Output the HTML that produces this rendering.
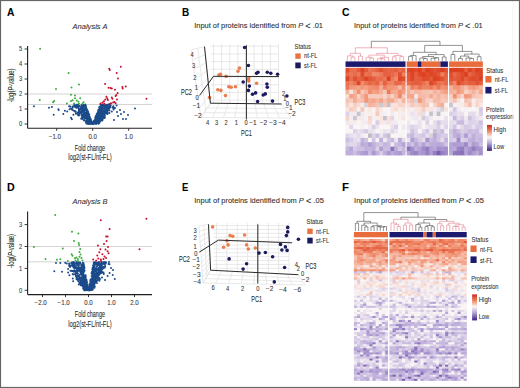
<!DOCTYPE html>
<html><head><meta charset="utf-8"><style>
html,body{margin:0;padding:0;background:#fff;}
body{width:520px;height:388px;overflow:hidden;}
svg{display:block;font-family:"Liberation Sans", sans-serif;}
text{stroke:#333;stroke-width:0.08px;}
</style></head><body>
<svg width="520" height="388" viewBox="0 0 520 388">
<defs><linearGradient id="cbar" x1="0" y1="0" x2="0" y2="1">
<stop offset="0" stop-color="#cc2a1c"/><stop offset="0.25" stop-color="#f08a66"/><stop offset="0.47" stop-color="#faf6f6"/><stop offset="0.7" stop-color="#b6a8d8"/><stop offset="1" stop-color="#3c1e82"/></linearGradient></defs>
<rect width="520" height="388" fill="#fff"/>
<text x="6.9" y="15.9" font-size="11" text-anchor="start" fill="#000" font-weight="bold" font-style="normal" textLength="7.4" lengthAdjust="spacingAndGlyphs">A</text>
<text x="182" y="15.9" font-size="11" text-anchor="start" fill="#000" font-weight="bold" font-style="normal" textLength="7.2" lengthAdjust="spacingAndGlyphs">B</text>
<text x="341.9" y="15.8" font-size="11" text-anchor="start" fill="#000" font-weight="bold" font-style="normal" textLength="7.5" lengthAdjust="spacingAndGlyphs">C</text>
<text x="7.1" y="190.8" font-size="11" text-anchor="start" fill="#000" font-weight="bold" font-style="normal" textLength="7.7" lengthAdjust="spacingAndGlyphs">D</text>
<text x="182" y="191.0" font-size="11" text-anchor="start" fill="#000" font-weight="bold" font-style="normal" textLength="6.3" lengthAdjust="spacingAndGlyphs">E</text>
<text x="341.9" y="190.8" font-size="11" text-anchor="start" fill="#000" font-weight="bold" font-style="normal" textLength="7.0" lengthAdjust="spacingAndGlyphs">F</text>
<text x="90" y="29.3" font-size="8" text-anchor="middle" fill="#333" font-weight="normal" font-style="italic" textLength="35" lengthAdjust="spacingAndGlyphs">Analysis A</text>
<text x="90" y="204.2" font-size="8" text-anchor="middle" fill="#333" font-weight="normal" font-style="italic" textLength="35" lengthAdjust="spacingAndGlyphs">Analysis B</text>
<text x="194.2" y="28.2" font-size="7.7" fill="#2a2a2a" textLength="128.8" lengthAdjust="spacingAndGlyphs">Input of proteins identified from <tspan font-style="italic">P</tspan> <tspan font-size="9.5" dy="0.9">&lt;</tspan><tspan dy="-0.9"> .01</tspan></text>
<text x="354.0" y="28.2" font-size="7.7" fill="#2a2a2a" textLength="128.7" lengthAdjust="spacingAndGlyphs">Input of proteins identified from <tspan font-style="italic">P</tspan> <tspan font-size="9.5" dy="0.9">&lt;</tspan><tspan dy="-0.9"> .01</tspan></text>
<text x="194.3" y="203.0" font-size="7.7" fill="#2a2a2a" textLength="129.5" lengthAdjust="spacingAndGlyphs">Input of proteins identified from <tspan font-style="italic">P</tspan> <tspan font-size="9.5" dy="0.9">&lt;</tspan><tspan dy="-0.9"> .05</tspan></text>
<text x="354.1" y="203.4" font-size="7.7" fill="#2a2a2a" textLength="129.7" lengthAdjust="spacingAndGlyphs">Input of proteins identified from <tspan font-style="italic">P</tspan> <tspan font-size="9.5" dy="0.9">&lt;</tspan><tspan dy="-0.9"> .05</tspan></text>
<line x1="27.60" y1="94.00" x2="152.00" y2="94.00" stroke="#cfcfcf" stroke-width="0.9"/>
<line x1="27.60" y1="104.50" x2="152.00" y2="104.50" stroke="#cfcfcf" stroke-width="0.9"/>
<path d="M104.9 115.9h0M99.8 114.7h0M99.3 112.3h0M93.3 122.6h0M106.7 104.9h0M91.6 121.4h0M89.3 120.9h0M100.1 116.1h0M97.8 114.9h0M108.2 104.6h0M90.4 118.5h0M84.0 109.4h0M101.5 105.4h0M72.5 106.4h0M94.1 122.9h0M86.0 122.7h0M91.8 122.1h0M83.0 108.8h0M97.2 120.8h0M91.0 122.2h0M110.3 105.1h0M88.0 120.5h0M94.3 122.4h0M86.8 109.3h0M95.9 122.6h0M81.8 117.4h0M97.6 113.4h0M100.8 106.5h0M107.5 110.0h0M99.8 107.0h0M95.9 123.5h0M95.7 119.6h0M94.7 121.1h0M98.4 113.7h0M83.7 106.3h0M87.4 116.0h0M81.2 113.4h0M106.3 104.9h0M87.2 121.8h0M103.3 110.8h0M103.9 115.3h0M97.3 122.9h0M107.0 110.1h0M104.7 117.8h0M99.3 116.5h0M83.3 112.4h0M99.6 122.8h0M82.3 110.2h0M101.1 116.1h0M93.6 123.6h0M78.9 110.9h0M87.2 119.6h0M84.2 120.6h0M100.4 116.1h0M86.4 120.7h0M83.5 107.1h0M87.6 121.8h0M98.9 110.6h0M87.0 115.9h0M80.9 112.4h0M85.4 104.9h0M80.7 107.2h0M95.3 118.6h0M88.3 115.8h0M89.9 121.7h0M105.9 112.3h0M86.7 111.1h0M92.1 123.9h0M88.1 119.3h0M103.8 112.6h0M70.2 106.5h0M87.3 121.9h0M100.6 117.3h0M84.1 105.7h0M104.5 110.4h0M102.3 120.4h0M103.9 114.2h0M82.4 107.6h0M96.6 113.9h0M85.6 108.6h0M95.6 118.1h0M101.5 114.6h0M74.1 105.7h0M98.1 120.3h0M101.8 112.1h0M84.9 118.6h0M100.9 120.5h0M84.9 113.4h0M77.4 112.8h0M98.5 116.9h0M84.5 111.0h0M104.5 105.4h0M87.4 122.0h0M85.0 115.4h0M85.9 106.1h0M90.0 120.8h0M99.8 117.8h0M94.2 122.1h0M86.2 114.3h0M84.3 114.3h0M102.3 112.1h0M77.9 107.5h0M75.7 106.6h0M99.9 120.3h0M94.6 120.0h0M85.9 108.1h0M96.4 116.8h0M107.1 111.2h0M101.3 114.8h0M91.4 120.9h0M97.3 113.9h0M86.0 121.0h0M74.9 106.1h0M98.9 115.7h0M89.2 114.6h0M101.4 110.8h0M86.3 110.0h0M77.8 114.7h0M101.0 110.7h0M109.4 112.9h0M98.9 119.6h0M71.0 108.4h0M100.9 110.9h0M83.6 110.4h0M90.2 123.9h0M95.8 120.1h0M100.4 111.7h0M109.0 104.5h0M77.0 104.9h0M90.2 119.6h0M83.9 117.4h0M107.2 113.9h0M100.5 104.6h0M105.0 112.9h0M89.4 121.4h0M77.8 112.7h0M98.1 114.4h0M103.6 111.8h0M90.7 118.9h0M98.4 121.5h0M72.1 109.8h0M95.1 122.9h0M74.3 105.1h0M73.4 110.4h0M85.0 112.8h0M91.0 120.6h0M97.2 116.0h0M84.6 113.2h0M102.2 104.6h0M96.2 122.2h0M86.8 117.7h0M98.0 113.1h0M102.7 119.8h0M90.9 123.4h0M88.0 112.4h0M96.0 122.7h0M88.3 117.4h0M98.7 109.9h0M100.1 108.6h0M87.6 116.4h0M101.8 111.8h0M101.1 109.9h0M93.5 122.5h0M86.8 113.6h0M80.8 109.3h0M89.1 122.8h0M86.6 119.1h0M86.7 117.5h0M113.4 106.2h0M83.4 108.7h0M103.0 105.9h0M88.0 117.6h0M96.6 120.8h0M106.6 108.0h0M81.2 107.0h0M107.5 114.0h0M78.9 108.7h0M87.9 122.7h0M96.6 122.7h0M81.4 111.9h0M98.5 114.5h0M105.5 105.2h0M109.5 110.4h0M107.0 108.2h0M113.2 108.0h0M99.2 114.4h0M82.5 116.5h0M87.7 117.4h0M96.1 119.0h0M94.0 122.2h0M88.2 123.1h0M91.8 123.5h0M95.2 120.0h0M87.6 121.0h0M97.4 118.6h0M101.2 119.6h0M97.8 114.0h0M94.4 123.3h0M104.6 114.3h0M84.3 111.7h0M99.0 117.4h0M90.7 121.5h0M110.2 107.3h0M99.0 119.4h0M96.1 124.0h0M91.9 122.7h0M79.4 115.3h0M82.6 107.5h0M84.3 106.3h0M103.2 114.0h0M89.1 118.6h0M100.9 115.6h0M87.3 122.4h0M102.0 108.1h0M83.8 110.6h0M93.4 123.9h0M84.1 112.6h0M86.8 118.8h0M89.5 119.6h0M102.7 105.7h0M86.2 108.2h0M100.7 111.3h0M100.5 108.0h0M91.5 121.5h0M79.1 106.2h0M100.9 109.4h0M85.1 116.6h0M106.6 104.9h0M90.0 123.8h0M88.3 122.3h0M106.5 108.2h0M104.3 106.6h0M99.8 121.7h0M107.0 110.5h0M86.7 112.3h0M104.7 113.4h0M83.6 117.6h0M96.1 121.8h0M75.9 113.7h0M107.1 108.4h0M97.8 119.0h0M86.3 108.1h0M86.5 123.6h0M81.5 111.7h0M95.3 117.2h0M89.6 120.7h0M87.0 113.5h0M88.6 113.5h0M75.7 111.4h0M84.5 115.5h0M108.3 109.6h0M102.7 107.9h0M100.6 113.6h0M95.8 116.2h0M103.2 110.3h0M87.0 109.8h0M90.3 122.0h0M93.8 123.2h0M90.5 118.7h0M109.1 106.4h0M100.8 116.5h0M103.2 113.6h0M98.3 122.0h0M90.9 119.9h0M102.5 106.7h0M80.9 113.2h0M81.2 118.7h0M82.3 115.4h0M82.9 106.7h0M81.7 115.5h0M98.9 120.6h0M91.3 123.3h0M100.2 106.6h0M98.0 110.9h0M90.5 120.3h0M87.4 121.0h0M104.0 117.4h0M83.7 120.1h0M100.7 119.3h0M95.8 116.1h0M81.7 112.9h0M91.3 122.7h0M100.0 119.2h0M76.8 104.8h0M96.2 117.2h0M101.7 113.8h0M106.9 109.1h0M107.5 111.2h0M85.3 109.2h0M101.4 116.1h0M88.1 120.0h0M83.9 114.9h0M97.5 113.4h0M91.0 123.8h0M99.9 119.5h0M98.2 113.5h0M90.5 121.6h0M101.9 112.4h0M94.2 122.6h0M97.7 121.4h0M91.6 123.1h0M76.9 105.1h0M76.9 104.8h0M87.9 123.4h0M89.8 117.0h0M96.0 123.5h0M90.2 120.1h0M97.9 115.7h0M104.0 104.9h0M82.1 111.9h0M112.5 107.4h0M100.7 117.0h0M88.5 120.4h0M89.5 121.3h0M82.2 118.7h0M86.0 107.4h0M87.8 111.0h0M86.5 121.0h0M86.6 110.5h0M77.9 105.9h0M82.5 106.5h0M96.7 122.7h0M87.7 114.5h0M92.4 123.4h0M90.1 118.6h0M81.7 110.7h0M88.3 121.6h0M88.8 116.8h0M90.7 119.0h0M96.3 123.7h0M74.5 105.0h0M99.6 120.4h0M85.9 107.3h0M87.5 116.3h0M89.8 118.3h0M85.5 116.8h0M89.1 119.9h0M96.2 121.6h0M84.9 110.8h0M90.3 123.1h0M87.0 113.2h0M87.3 123.7h0M96.9 119.5h0M101.7 112.6h0M106.3 105.7h0M84.1 116.7h0M75.6 107.1h0M95.0 121.8h0M83.5 105.0h0M83.3 111.2h0M85.8 117.0h0M103.3 113.9h0M75.1 105.2h0M98.9 118.6h0M106.6 105.3h0M97.8 115.1h0M99.9 109.8h0M90.0 118.3h0M89.3 123.1h0M89.9 122.2h0M93.8 121.4h0M96.3 119.7h0M85.1 110.5h0M100.3 118.2h0M83.9 113.5h0M102.0 108.1h0M88.0 111.5h0M105.6 113.2h0M84.7 111.1h0M107.4 105.9h0M88.5 122.1h0M85.3 104.6h0M86.9 114.0h0M101.9 108.7h0M107.5 112.5h0M98.5 111.0h0M85.8 121.1h0M89.3 115.1h0M87.0 113.6h0M90.1 120.2h0M87.4 123.3h0M87.5 122.8h0M95.9 120.6h0M81.7 108.6h0M106.1 111.7h0M108.0 107.4h0M86.4 110.3h0M88.4 122.1h0M95.7 118.6h0M76.3 105.4h0M106.5 108.9h0M109.4 108.2h0M83.5 105.6h0M84.2 106.4h0M84.5 117.1h0M96.6 117.6h0M83.1 106.5h0M82.5 110.0h0M87.0 111.2h0M87.4 117.8h0M83.1 116.8h0M98.1 120.6h0M98.1 122.3h0M90.6 120.3h0M101.4 119.3h0M85.9 121.0h0M86.9 112.2h0M102.2 112.6h0M102.7 114.8h0M84.4 111.0h0M86.5 117.2h0M86.1 114.6h0M105.9 113.0h0M97.8 115.5h0M106.5 110.1h0M94.4 122.0h0M114.6 107.9h0M108.7 108.8h0M107.7 107.3h0M96.8 115.8h0M97.6 119.2h0M79.0 109.0h0M108.8 107.6h0M86.4 108.8h0M88.9 123.5h0M87.8 122.2h0M106.0 112.5h0M97.9 120.6h0M94.0 120.7h0M89.0 118.1h0M97.6 112.8h0M87.1 111.0h0M101.2 105.8h0M103.6 104.6h0M86.9 118.6h0M98.5 116.4h0M101.5 114.8h0M99.3 120.0h0M97.0 119.1h0M79.5 105.9h0M88.0 115.9h0M100.6 116.1h0M87.2 111.4h0M83.1 106.7h0M103.8 108.3h0M94.7 122.5h0M97.1 117.4h0M105.8 106.7h0M87.6 115.5h0M111.8 111.4h0M78.1 104.7h0M101.5 110.8h0M102.6 116.9h0M89.5 120.5h0M81.4 110.0h0M104.2 112.4h0M101.9 110.2h0M98.6 123.8h0M90.5 123.7h0M95.6 122.3h0M93.7 122.0h0M87.7 114.7h0M87.1 116.6h0M88.3 113.7h0M72.7 107.7h0M102.4 116.8h0M84.1 116.6h0M102.6 110.1h0M88.3 123.6h0M100.4 112.0h0M87.9 122.8h0M84.7 118.3h0M110.2 105.6h0M88.7 117.0h0M88.2 117.5h0M83.7 116.3h0M94.6 123.1h0M89.8 120.3h0M86.1 115.2h0M88.5 123.9h0M101.6 113.0h0M86.5 117.5h0M85.9 118.5h0M91.4 123.2h0M83.5 108.8h0M100.8 119.1h0M78.1 108.1h0M106.0 109.0h0M97.2 123.3h0M75.5 112.1h0M85.6 113.3h0M106.8 111.2h0M83.9 109.1h0M87.7 115.9h0M79.4 110.1h0M98.1 111.5h0M100.7 118.6h0M86.7 120.5h0M93.5 122.0h0M82.9 116.3h0M102.0 115.0h0M95.9 122.4h0M89.8 120.6h0M101.4 113.1h0M82.1 107.9h0M83.4 104.9h0M95.6 119.5h0M96.2 123.0h0M102.9 116.2h0M84.1 106.4h0M78.9 109.7h0M95.1 123.5h0M81.5 118.2h0M85.2 108.6h0M94.4 120.7h0M113.6 109.5h0M74.7 111.1h0M95.9 119.0h0M90.0 119.8h0M88.1 118.9h0M88.2 119.3h0M77.0 107.2h0M101.2 112.7h0M99.2 111.7h0M96.5 123.2h0M87.1 120.1h0M102.9 105.7h0M99.7 120.1h0M78.8 111.7h0M79.2 113.6h0M86.0 107.2h0M98.4 123.6h0M99.3 107.6h0M86.7 114.4h0M86.5 114.9h0M85.4 115.2h0M102.6 105.1h0M104.7 118.1h0M110.7 105.6h0M89.8 123.7h0M105.8 112.6h0M96.8 114.5h0M99.1 107.3h0M104.3 108.1h0M98.5 109.6h0M102.0 108.9h0M85.6 118.1h0M96.0 119.5h0M79.7 111.3h0M89.3 121.1h0M80.8 109.1h0M99.6 119.6h0M90.1 121.0h0M102.6 110.3h0M93.9 122.8h0M97.6 116.6h0M100.3 106.4h0M106.3 109.0h0M85.2 117.3h0M99.4 115.4h0M83.0 117.3h0M102.0 120.6h0M99.5 118.0h0M78.3 105.7h0M112.8 107.0h0M83.7 117.4h0M92.2 122.9h0M87.7 118.7h0M100.3 114.1h0M85.3 105.6h0M102.6 118.6h0M90.5 121.4h0M104.1 108.9h0M76.3 107.8h0M81.5 105.0h0M89.2 123.2h0M87.0 120.5h0M97.1 114.9h0M91.8 123.8h0M83.2 112.5h0M82.4 118.5h0M97.5 116.6h0M69.1 106.3h0M75.1 107.0h0M89.7 119.0h0M79.0 113.2h0M95.7 122.5h0M98.6 115.0h0M90.5 124.0h0M84.3 112.2h0M104.6 115.3h0M88.4 116.0h0M108.3 108.1h0M81.6 114.8h0M82.8 115.1h0M88.0 114.8h0M115.0 108.0h0M105.0 111.1h0M84.4 108.7h0M96.9 119.9h0M101.1 118.0h0M106.7 105.9h0M94.6 122.3h0M99.3 120.9h0M88.1 112.4h0M108.5 107.3h0M100.3 113.5h0M89.4 117.2h0M79.2 108.8h0M99.6 110.9h0M99.1 120.9h0M102.2 118.2h0M116.6 105.5h0M87.7 118.2h0M94.7 123.5h0M82.1 109.9h0M91.0 119.9h0M103.9 117.8h0M86.9 116.6h0M78.1 105.4h0M107.7 109.5h0M74.6 106.6h0M88.8 114.3h0M97.2 121.6h0M81.6 110.3h0M87.1 110.7h0M103.5 115.4h0M90.5 122.9h0M88.3 122.0h0M99.5 116.8h0M93.1 123.3h0M86.9 115.4h0M78.5 115.5h0M103.9 115.2h0M87.7 122.1h0M82.1 114.7h0M96.7 119.6h0M88.5 117.5h0M81.6 112.4h0M86.6 115.8h0M104.8 117.4h0M97.1 116.9h0M104.0 110.3h0M101.2 116.2h0M102.0 114.1h0M91.7 123.8h0M79.4 112.6h0M96.9 120.7h0M104.3 108.3h0M102.9 110.6h0M34.0 106.3h0M49.0 107.8h0M51.9 106.9h0M58.3 109.2h0M53.7 114.7h0M58.7 110.0h0M63.3 114.0h0M64.9 110.8h0M67.2 111.6h0M69.5 109.3h0M71.0 117.8h0M71.9 119.3h0M73.4 114.7h0M135.0 108.5h0M120.0 110.0h0M124.0 112.0h0M118.0 116.0h0M123.0 119.0h0M114.0 120.0h0M128.0 115.0h0M126.0 119.0h0M117.0 112.0h0M121.0 114.0h0" stroke="#1a4a8a" stroke-width="2.0" stroke-linecap="round" fill="none"/>
<path d="M40.1 48.8h0M68.6 73.1h0M79.0 84.6h0M71.5 87.5h0M56.0 89.0h0M71.0 94.8h0M75.0 95.4h0M39.8 100.0h0M54.2 100.9h0M53.1 102.3h0M66.9 103.4h0M71.0 101.1h0M72.7 100.2h0M75.0 98.3h0M76.7 100.6h0M78.4 101.7h0M80.2 98.3h0M82.5 103.4h0M83.6 102.3h0M74.0 103.5h0M79.0 103.8h0" stroke="#3cab3c" stroke-width="2.0" stroke-linecap="round" fill="none"/>
<path d="M109.2 68.8h0M109.8 70.1h0M120.8 66.7h0M116.7 72.9h0M118.0 78.5h0M105.1 83.9h0M108.5 87.7h0M110.5 88.1h0M111.8 88.4h0M115.0 89.7h0M122.4 87.1h0M122.7 88.4h0M125.7 86.5h0M117.6 92.9h0M116.3 95.1h0M115.6 96.1h0M106.4 96.8h0M107.3 98.5h0M105.3 99.4h0M107.9 100.0h0M104.0 101.3h0M102.5 102.6h0M111.8 97.4h0M112.4 98.7h0M111.1 103.2h0M113.1 102.6h0M114.4 101.9h0M115.6 103.2h0M109.8 103.9h0M146.5 98.8h0M100.5 103.5h0M104.5 103.8h0M117.0 99.5h0" stroke="#c8102e" stroke-width="2.0" stroke-linecap="round" fill="none"/>
<line x1="27.60" y1="46.00" x2="27.60" y2="128.30" stroke="#231f20" stroke-width="1.1"/>
<line x1="27.60" y1="128.30" x2="152.00" y2="128.30" stroke="#231f20" stroke-width="1.1"/>
<line x1="24.60" y1="124.00" x2="27.60" y2="124.00" stroke="#231f20" stroke-width="0.9"/>
<text x="22.3" y="126.3" font-size="6.6" text-anchor="end" fill="#333" font-weight="normal" font-style="normal" textLength="3.2" lengthAdjust="spacingAndGlyphs">0</text>
<line x1="24.60" y1="109.00" x2="27.60" y2="109.00" stroke="#231f20" stroke-width="0.9"/>
<text x="22.3" y="111.3" font-size="6.6" text-anchor="end" fill="#333" font-weight="normal" font-style="normal" textLength="3.2" lengthAdjust="spacingAndGlyphs">1</text>
<line x1="24.60" y1="94.00" x2="27.60" y2="94.00" stroke="#231f20" stroke-width="0.9"/>
<text x="22.3" y="96.3" font-size="6.6" text-anchor="end" fill="#333" font-weight="normal" font-style="normal" textLength="3.2" lengthAdjust="spacingAndGlyphs">2</text>
<line x1="24.60" y1="79.00" x2="27.60" y2="79.00" stroke="#231f20" stroke-width="0.9"/>
<text x="22.3" y="81.3" font-size="6.6" text-anchor="end" fill="#333" font-weight="normal" font-style="normal" textLength="3.2" lengthAdjust="spacingAndGlyphs">3</text>
<line x1="24.60" y1="64.00" x2="27.60" y2="64.00" stroke="#231f20" stroke-width="0.9"/>
<text x="22.3" y="66.3" font-size="6.6" text-anchor="end" fill="#333" font-weight="normal" font-style="normal" textLength="3.2" lengthAdjust="spacingAndGlyphs">4</text>
<line x1="24.60" y1="49.00" x2="27.60" y2="49.00" stroke="#231f20" stroke-width="0.9"/>
<text x="22.3" y="51.3" font-size="6.6" text-anchor="end" fill="#333" font-weight="normal" font-style="normal" textLength="3.2" lengthAdjust="spacingAndGlyphs">5</text>
<line x1="56.70" y1="128.30" x2="56.70" y2="130.80" stroke="#231f20" stroke-width="0.9"/>
<text x="54.900000000000006" y="138.9" font-size="6.6" text-anchor="middle" fill="#333" font-weight="normal" font-style="normal" textLength="12.2" lengthAdjust="spacingAndGlyphs">&#8722;1.0</text>
<line x1="92.70" y1="128.30" x2="92.70" y2="130.80" stroke="#231f20" stroke-width="0.9"/>
<text x="92.7" y="138.9" font-size="6.6" text-anchor="middle" fill="#333" font-weight="normal" font-style="normal" textLength="8.4" lengthAdjust="spacingAndGlyphs">0.0</text>
<line x1="128.70" y1="128.30" x2="128.70" y2="130.80" stroke="#231f20" stroke-width="0.9"/>
<text x="128.7" y="138.9" font-size="6.6" text-anchor="middle" fill="#333" font-weight="normal" font-style="normal" textLength="8.4" lengthAdjust="spacingAndGlyphs">1.0</text>
<text x="89.9" y="150.8" font-size="9" text-anchor="middle" fill="#231f20" font-weight="normal" font-style="normal" textLength="30.2" lengthAdjust="spacingAndGlyphs">Fold change</text>
<text x="89.9" y="160.0" font-size="9" text-anchor="middle" fill="#231f20" font-weight="normal" font-style="normal" textLength="43.5" lengthAdjust="spacingAndGlyphs">log2(st-FL/nt-FL)</text>
<text x="0" y="0" font-size="8.6" fill="#231f20" text-anchor="middle" textLength="34" lengthAdjust="spacingAndGlyphs" transform="translate(13.6 85.5) rotate(-90)">-log(<tspan font-style="italic">P</tspan>-value)</text>
<line x1="27.60" y1="246.50" x2="152.00" y2="246.50" stroke="#cfcfcf" stroke-width="0.9"/>
<line x1="27.60" y1="261.83" x2="152.00" y2="261.83" stroke="#cfcfcf" stroke-width="0.9"/>
<path d="M100.0 273.4h0M96.3 269.9h0M105.7 263.6h0M82.4 277.9h0M85.5 290.1h0M83.7 269.1h0M77.9 273.5h0M80.8 285.2h0M93.4 283.0h0M94.1 285.3h0M82.6 265.1h0M85.5 286.9h0M89.3 290.2h0M79.8 267.5h0M75.7 270.9h0M100.0 269.6h0M90.3 280.9h0M92.7 286.0h0M96.7 264.0h0M96.7 276.3h0M102.7 268.1h0M84.6 288.3h0M91.6 281.6h0M86.5 282.3h0M92.1 271.4h0M95.8 262.2h0M94.5 274.2h0M90.3 289.1h0M73.6 266.8h0M94.9 273.2h0M90.8 286.8h0M109.0 261.9h0M92.6 277.4h0M79.9 279.8h0M96.8 263.1h0M84.8 288.3h0M94.3 281.0h0M98.0 272.2h0M83.6 283.3h0M92.8 282.9h0M90.6 290.1h0M96.4 278.1h0M95.1 281.4h0M94.1 281.3h0M99.4 262.6h0M94.5 286.3h0M93.1 271.3h0M96.2 268.6h0M97.7 273.4h0M86.4 289.8h0M89.6 284.9h0M85.6 277.8h0M87.0 282.2h0M82.3 278.0h0M91.3 284.4h0M82.7 283.3h0M86.4 280.7h0M78.0 275.7h0M77.9 267.5h0M83.5 280.8h0M96.9 263.2h0M78.0 265.1h0M77.7 273.6h0M85.3 280.6h0M65.2 262.7h0M75.1 274.2h0M78.3 279.5h0M84.0 283.1h0M80.6 278.7h0M91.6 290.1h0M83.5 268.6h0M78.2 262.2h0M92.4 272.7h0M81.9 269.2h0M91.5 282.8h0M94.2 269.7h0M99.6 278.3h0M90.3 290.0h0M100.9 270.8h0M85.8 280.3h0M94.5 282.8h0M77.8 271.2h0M78.0 264.6h0M82.0 277.1h0M75.7 267.7h0M99.8 268.3h0M93.8 262.5h0M73.6 266.7h0M76.0 270.7h0M89.6 286.8h0M82.6 273.4h0M85.6 288.7h0M81.2 265.6h0M75.6 274.1h0M90.8 289.1h0M95.4 276.8h0M93.6 283.7h0M83.6 276.5h0M78.7 270.0h0M89.2 288.4h0M82.0 274.2h0M94.1 282.1h0M83.8 289.2h0M81.1 284.8h0M81.2 267.4h0M86.0 284.5h0M82.7 280.3h0M79.5 267.9h0M94.2 274.3h0M88.0 288.1h0M84.0 265.3h0M93.4 277.9h0M85.5 278.0h0M80.1 280.6h0M86.2 284.0h0M82.7 284.5h0M94.3 280.8h0M95.4 277.8h0M90.5 283.0h0M87.4 285.4h0M92.0 279.9h0M81.3 277.9h0M83.6 286.4h0M76.6 272.7h0M88.8 289.0h0M93.5 275.6h0M83.5 288.2h0M83.4 263.8h0M84.3 280.0h0M81.4 282.6h0M91.5 286.0h0M86.3 288.4h0M95.1 264.3h0M90.3 290.0h0M96.1 280.6h0M86.1 282.5h0M85.0 287.6h0M83.9 267.4h0M84.7 284.2h0M87.3 284.2h0M87.3 285.5h0M83.1 279.3h0M99.2 265.1h0M97.4 278.7h0M100.0 270.2h0M85.9 280.4h0M89.9 283.8h0M92.6 269.1h0M84.0 287.3h0M82.9 273.7h0M82.1 281.9h0M83.7 270.3h0M71.4 270.8h0M83.2 287.6h0M79.9 278.9h0M91.6 276.1h0M73.6 267.6h0M91.6 289.6h0M85.7 280.1h0M84.3 275.2h0M78.3 281.3h0M93.9 266.5h0M83.0 267.1h0M93.0 288.1h0M75.4 268.1h0M91.6 273.4h0M93.5 276.7h0M85.2 282.2h0M98.2 277.7h0M99.4 267.6h0M95.4 275.9h0M92.3 271.7h0M85.4 288.4h0M74.1 270.6h0M78.8 270.6h0M103.6 263.2h0M96.8 269.9h0M69.3 265.1h0M85.8 280.1h0M103.5 272.5h0M83.4 280.3h0M74.5 270.6h0M81.9 282.6h0M90.0 286.3h0M91.9 288.9h0M80.2 270.2h0M77.3 264.8h0M82.6 262.9h0M92.4 275.2h0M97.4 274.2h0M84.8 289.0h0M95.4 282.2h0M91.6 284.7h0M87.9 288.0h0M92.3 286.7h0M99.0 270.0h0M104.9 264.2h0M87.5 288.0h0M82.2 280.6h0M87.0 288.4h0M91.6 287.6h0M98.4 277.1h0M93.1 269.3h0M79.4 277.6h0M82.4 280.4h0M95.4 268.4h0M96.8 266.6h0M90.6 284.4h0M83.4 288.1h0M92.2 280.3h0M81.2 267.7h0M87.4 290.0h0M78.3 276.5h0M84.9 278.7h0M93.7 263.2h0M93.9 280.1h0M93.3 264.9h0M91.5 289.8h0M103.8 267.2h0M100.0 269.4h0M97.8 279.3h0M85.0 279.3h0M81.5 272.1h0M83.2 288.7h0M83.0 285.5h0M77.6 274.1h0M79.3 263.8h0M93.8 283.6h0M94.8 286.7h0M86.9 288.3h0M80.6 280.8h0M92.1 284.4h0M78.2 270.1h0M90.0 290.2h0M95.4 273.8h0M88.3 289.5h0M81.9 282.8h0M96.2 280.8h0M94.8 263.4h0M75.2 264.0h0M77.1 276.2h0M93.5 275.5h0M93.9 277.2h0M87.9 289.0h0M74.1 262.8h0M79.0 269.8h0M91.7 280.2h0M72.0 265.7h0M85.8 287.1h0M87.1 290.1h0M83.2 265.8h0M93.7 270.4h0M75.8 263.4h0M85.8 288.2h0M100.0 265.2h0M82.0 266.7h0M84.5 282.8h0M82.0 264.9h0M90.0 283.7h0M83.3 281.3h0M81.3 272.6h0M76.4 271.5h0M85.8 286.9h0M97.3 264.9h0M93.1 268.5h0M81.5 283.9h0M100.7 273.2h0M78.6 268.9h0M103.8 266.7h0M91.6 280.4h0M86.3 279.7h0M84.6 270.6h0M79.4 282.7h0M97.2 265.1h0M86.3 284.7h0M94.5 287.8h0M85.7 278.0h0M75.9 275.9h0M79.5 278.8h0M80.1 279.1h0M97.6 280.4h0M92.9 267.7h0M72.5 263.7h0M97.3 274.8h0M84.4 283.9h0M85.0 287.2h0M89.4 288.0h0M84.9 288.3h0M91.6 286.4h0M83.8 284.1h0M91.2 287.5h0M77.0 272.9h0M86.7 283.2h0M79.5 279.3h0M91.7 272.4h0M76.1 263.6h0M92.4 279.3h0M97.8 270.1h0M84.5 268.1h0M92.7 268.3h0M84.7 276.0h0M103.7 262.6h0M83.7 272.5h0M84.4 283.5h0M94.7 269.8h0M77.5 270.0h0M92.0 278.6h0M84.2 266.8h0M80.8 269.1h0M84.4 267.9h0M101.2 268.2h0M96.5 273.6h0M92.0 289.9h0M87.1 288.9h0M86.7 288.3h0M90.5 282.7h0M95.3 263.3h0M86.5 279.8h0M96.8 278.3h0M100.6 271.6h0M78.0 268.2h0M94.6 265.5h0M82.6 282.0h0M90.8 285.7h0M89.3 288.2h0M85.2 283.1h0M84.2 287.9h0M73.3 267.0h0M85.4 286.8h0M80.7 269.3h0M94.6 264.4h0M85.3 279.1h0M92.6 282.9h0M89.8 284.9h0M76.4 270.2h0M83.8 268.7h0M78.8 276.5h0M81.7 273.0h0M83.6 278.7h0M89.6 288.7h0M83.9 288.3h0M84.2 288.1h0M84.5 281.5h0M91.4 288.1h0M91.9 278.4h0M84.7 283.1h0M93.3 281.4h0M93.1 278.4h0M80.4 279.2h0M84.0 282.6h0M87.6 286.1h0M92.9 287.8h0M91.1 288.5h0M87.5 289.6h0M99.9 271.3h0M95.2 273.5h0M95.2 282.2h0M99.4 280.7h0M97.0 280.2h0M94.4 269.6h0M82.5 286.2h0M92.6 284.0h0M80.6 278.3h0M80.4 272.3h0M92.8 276.9h0M95.8 281.6h0M86.7 289.4h0M83.8 289.3h0M87.1 284.9h0M90.2 285.7h0M83.6 288.9h0M95.5 264.3h0M87.2 286.3h0M82.5 270.5h0M100.6 266.5h0M99.3 264.6h0M85.0 283.2h0M86.7 287.5h0M74.8 263.2h0M83.4 274.3h0M93.7 273.0h0M87.1 286.8h0M88.0 290.2h0M98.3 272.1h0M92.0 285.3h0M100.4 270.9h0M92.8 273.2h0M95.9 278.0h0M81.8 281.4h0M93.4 282.7h0M83.9 282.4h0M80.7 272.7h0M83.0 285.6h0M84.5 277.1h0M83.4 286.5h0M90.2 281.3h0M81.5 284.7h0M86.8 283.9h0M96.3 272.1h0M92.6 268.9h0M95.9 276.9h0M94.2 280.8h0M101.2 264.2h0M89.7 284.6h0M80.0 269.4h0M101.4 270.4h0M98.6 278.7h0M99.4 270.6h0M99.5 272.5h0M85.0 286.9h0M93.8 263.1h0M99.9 279.2h0M93.8 281.8h0M100.5 273.0h0M82.3 277.2h0M90.2 289.3h0M84.6 289.4h0M93.4 282.8h0M93.5 275.0h0M86.9 283.9h0M83.7 286.8h0M83.2 281.2h0M84.7 277.6h0M90.7 286.9h0M95.0 269.1h0M69.1 263.5h0M84.5 290.3h0M94.6 269.9h0M98.3 278.0h0M94.2 262.2h0M92.2 279.1h0M74.4 263.5h0M86.5 284.3h0M101.7 261.9h0M92.7 271.9h0M88.4 289.7h0M82.8 271.8h0M82.9 277.2h0M83.8 288.8h0M94.8 283.0h0M97.7 263.8h0M94.7 266.9h0M90.1 288.9h0M101.9 265.1h0M90.9 287.2h0M70.9 265.4h0M109.5 264.2h0M84.8 288.7h0M82.5 271.6h0M86.4 286.2h0M80.5 283.6h0M101.2 269.5h0M85.3 288.2h0M82.3 273.6h0M87.6 285.6h0M97.7 263.3h0M90.4 283.3h0M97.6 265.4h0M90.7 284.9h0M92.3 282.7h0M73.9 271.7h0M98.2 268.3h0M96.2 268.3h0M86.7 286.6h0M84.0 284.0h0M81.2 281.1h0M74.9 271.0h0M98.8 274.6h0M98.6 273.8h0M91.3 283.1h0M80.4 283.7h0M92.2 277.9h0M86.1 288.6h0M106.1 262.5h0M83.8 277.1h0M102.2 269.2h0M95.3 276.2h0M79.8 274.8h0M82.4 281.3h0M77.1 269.1h0M90.5 285.0h0M90.2 290.3h0M78.7 262.3h0M81.5 274.7h0M95.3 273.8h0M93.6 272.5h0M84.0 271.6h0M92.9 281.1h0M76.6 267.5h0M76.0 271.7h0M92.2 276.0h0M104.8 267.8h0M102.3 272.1h0M86.4 280.2h0M73.5 266.5h0M92.3 277.1h0M96.0 280.8h0M101.0 265.5h0M99.7 264.8h0M95.2 263.2h0M82.6 273.2h0M84.6 283.9h0M80.7 271.8h0M97.9 268.4h0M75.0 267.3h0M70.0 267.0h0M93.6 266.3h0M94.5 269.1h0M91.2 280.9h0M95.3 262.3h0M78.4 270.2h0M90.6 283.5h0M77.5 275.7h0M83.1 264.4h0M94.8 282.3h0M98.1 262.6h0M87.3 286.3h0M93.7 271.7h0M87.7 287.0h0M84.4 276.4h0M105.0 266.3h0M69.2 264.0h0M83.4 275.8h0M93.1 265.4h0M84.4 283.6h0M84.2 290.2h0M101.6 271.4h0M74.5 268.3h0M96.3 275.5h0M102.0 277.4h0M80.3 263.4h0M93.3 267.2h0M83.6 284.1h0M87.2 285.6h0M100.3 267.0h0M81.7 270.1h0M95.5 280.1h0M80.7 273.2h0M81.2 268.4h0M77.1 278.2h0M86.6 283.3h0M81.0 280.1h0M99.0 265.0h0M82.2 275.4h0M84.8 285.5h0M84.0 281.9h0M83.8 282.8h0M78.2 265.6h0M76.6 272.1h0M91.0 286.9h0M79.4 278.4h0M87.3 289.5h0M94.4 285.6h0M72.5 270.9h0M97.5 265.1h0M75.2 270.9h0M101.2 264.2h0M98.4 262.2h0M92.0 273.1h0M93.2 286.9h0M86.3 286.8h0M80.8 278.1h0M81.6 270.3h0M79.2 278.0h0M75.9 268.0h0M96.2 281.5h0M81.0 273.3h0M105.2 266.2h0M76.2 268.1h0M75.4 274.7h0M96.4 271.9h0M77.9 275.7h0M79.6 271.1h0M95.0 280.8h0M91.1 280.3h0M80.9 281.9h0M77.0 279.4h0M87.0 284.3h0M87.1 285.2h0M72.7 273.9h0M82.6 272.0h0M75.9 265.9h0M93.0 271.0h0M91.6 280.8h0M86.4 282.5h0M85.3 287.9h0M92.8 278.4h0M77.6 279.7h0M86.3 288.1h0M100.4 269.6h0M83.8 285.4h0M85.8 282.7h0M97.4 278.6h0M94.7 265.3h0M77.6 278.8h0M73.5 266.7h0M85.7 287.4h0M98.3 268.6h0M94.9 269.5h0M100.4 264.2h0M98.6 262.0h0M99.7 273.2h0M100.9 265.4h0M86.9 285.5h0M73.6 263.4h0M82.6 279.8h0M83.9 270.8h0M96.4 272.3h0M82.8 274.9h0M83.5 288.7h0M96.1 275.2h0M76.4 279.1h0M90.4 286.7h0M80.2 271.2h0M73.2 274.5h0M83.9 269.2h0M84.0 275.7h0M87.8 288.8h0M81.0 281.8h0M89.0 289.1h0M93.9 279.1h0M85.8 290.2h0M82.6 286.0h0M86.9 287.6h0M93.1 272.1h0M82.0 277.6h0M103.4 262.6h0M84.4 276.8h0M87.5 285.1h0M92.1 281.0h0M93.1 278.3h0M82.6 274.6h0M83.6 270.9h0M85.6 277.5h0M96.7 278.2h0M93.6 267.8h0M90.2 287.1h0M89.8 287.1h0M95.9 274.2h0M97.2 276.1h0M92.8 267.3h0M83.2 277.9h0M98.9 269.7h0M91.0 281.8h0M82.5 265.9h0M75.2 267.1h0M92.4 276.5h0M92.7 268.1h0M84.2 277.9h0M94.4 284.4h0M84.1 285.6h0M82.9 279.1h0M103.6 262.9h0M95.3 279.1h0M85.1 279.9h0M84.1 283.7h0M103.9 263.8h0M93.8 287.1h0M84.8 286.7h0M90.5 279.6h0M87.0 282.5h0M84.8 284.0h0M72.1 262.3h0M94.8 283.1h0M97.0 263.9h0M95.2 270.9h0M87.1 289.0h0M83.7 278.0h0M90.6 280.3h0M94.2 272.8h0M94.0 265.4h0M97.0 283.1h0M80.1 262.8h0M81.0 280.9h0M72.3 265.1h0M87.1 286.3h0M88.2 289.7h0M79.3 277.3h0M100.8 265.7h0M92.0 288.8h0M90.8 283.1h0M82.4 277.3h0M95.6 276.1h0M93.0 285.5h0M86.5 285.7h0M78.7 275.8h0M82.3 282.4h0M95.0 269.7h0M79.8 277.0h0M102.5 264.5h0M95.1 283.0h0M76.1 276.7h0M92.3 285.1h0M78.1 265.6h0M90.1 285.4h0M84.2 287.4h0M100.8 268.1h0M80.5 281.9h0M96.1 273.4h0M102.1 268.1h0M91.4 289.5h0M91.8 278.5h0M90.1 285.9h0M97.9 275.6h0M90.3 283.2h0M83.4 263.0h0M81.0 281.3h0M89.7 284.0h0M84.8 290.2h0M86.0 284.1h0M86.4 286.0h0M85.6 275.2h0M98.2 264.2h0M94.8 280.0h0M85.5 278.7h0M81.7 281.6h0M95.3 282.4h0M94.8 277.9h0M81.0 267.7h0M95.1 269.0h0M73.6 264.5h0M76.5 267.4h0M74.0 266.9h0M103.0 268.4h0M104.9 262.0h0M99.4 265.7h0M86.1 287.2h0M101.9 272.8h0M74.7 263.3h0M103.6 262.6h0M95.6 282.3h0M90.5 287.4h0M81.5 268.2h0M92.3 269.2h0M73.6 261.9h0M102.0 263.8h0M96.5 272.0h0M85.4 275.9h0M92.3 288.2h0M85.7 285.6h0M76.8 273.6h0M87.6 286.8h0M91.7 290.1h0M102.4 267.0h0M91.7 287.6h0M86.3 284.5h0M97.5 273.9h0M80.1 262.5h0M78.9 265.6h0M97.2 278.6h0M85.8 276.0h0M97.9 264.3h0M92.8 289.5h0M73.1 262.5h0M83.6 264.1h0M76.8 263.4h0M87.7 286.1h0M82.2 279.9h0M100.2 263.5h0M94.5 271.3h0M75.2 273.6h0M70.5 270.8h0M71.2 262.9h0M84.1 287.9h0M90.0 289.7h0M89.7 287.0h0M99.8 264.9h0M103.8 274.1h0M85.7 289.1h0M91.1 288.5h0M100.4 263.6h0M92.3 275.6h0M77.1 271.4h0M95.6 280.3h0M92.3 284.5h0M85.3 288.4h0M80.6 268.5h0M78.1 275.9h0M74.1 265.4h0M94.5 278.7h0M81.5 264.8h0M85.3 288.6h0M94.0 274.7h0M95.0 274.8h0M89.1 288.0h0M78.2 267.6h0M83.9 282.8h0M95.7 276.0h0M86.7 282.6h0M82.8 286.5h0M82.8 269.3h0M66.7 263.6h0M69.2 266.1h0M99.4 274.7h0M99.5 262.4h0M71.8 271.1h0M84.4 287.5h0M76.5 261.9h0M86.7 281.0h0M84.7 279.0h0M56.0 263.1h0M60.3 263.1h0M54.3 271.2h0M62.0 271.8h0M72.1 263.7h0M68.1 269.1h0M68.1 272.5h0M69.4 275.2h0M72.8 278.6h0M73.2 281.2h0M78.8 284.6h0M71.7 263.4h0M108.6 264.0h0M109.6 272.9h0M112.7 275.0h0M114.8 279.1h0M107.6 276.0h0M111.0 268.0h0M113.0 270.0h0M105.0 280.0h0" stroke="#1a4a8a" stroke-width="2.0" stroke-linecap="round" fill="none"/>
<path d="M55.2 215.0h0M72.0 231.7h0M78.4 233.6h0M74.0 240.9h0M78.7 242.9h0M79.1 244.9h0M33.9 246.9h0M62.8 248.6h0M80.2 249.0h0M79.5 252.1h0M71.7 254.2h0M72.5 255.7h0M76.4 257.6h0M77.9 259.1h0M74.8 258.3h0M79.5 256.8h0M45.5 259.0h0M57.0 259.7h0M60.3 259.3h0M67.8 261.1h0M81.5 258.0h0M82.5 260.5h0M78.0 261.0h0M75.5 260.5h0M80.5 254.5h0" stroke="#3cab3c" stroke-width="2.0" stroke-linecap="round" fill="none"/>
<path d="M100.8 220.3h0M146.4 218.7h0M109.6 229.0h0M106.1 236.4h0M107.6 236.4h0M106.6 240.9h0M97.9 245.5h0M139.5 249.2h0M100.4 249.2h0M105.5 249.6h0M107.6 251.2h0M108.6 253.3h0M99.3 252.3h0M102.4 254.3h0M97.3 255.4h0M104.5 256.4h0M93.2 259.5h0M98.3 258.5h0M100.8 259.5h0M103.5 259.1h0M96.2 260.5h0M106.0 258.0h0M101.0 261.0h0M108.0 247.0h0M104.0 244.0h0" stroke="#c8102e" stroke-width="2.0" stroke-linecap="round" fill="none"/>
<line x1="27.60" y1="211.50" x2="27.60" y2="294.60" stroke="#231f20" stroke-width="1.1"/>
<line x1="27.60" y1="294.60" x2="152.00" y2="294.60" stroke="#231f20" stroke-width="1.1"/>
<line x1="24.60" y1="290.30" x2="27.60" y2="290.30" stroke="#231f20" stroke-width="0.9"/>
<text x="22.3" y="292.6" font-size="6.6" text-anchor="end" fill="#333" font-weight="normal" font-style="normal" textLength="3.2" lengthAdjust="spacingAndGlyphs">0</text>
<line x1="24.60" y1="268.40" x2="27.60" y2="268.40" stroke="#231f20" stroke-width="0.9"/>
<text x="22.3" y="270.70000000000005" font-size="6.6" text-anchor="end" fill="#333" font-weight="normal" font-style="normal" textLength="3.2" lengthAdjust="spacingAndGlyphs">1</text>
<line x1="24.60" y1="246.50" x2="27.60" y2="246.50" stroke="#231f20" stroke-width="0.9"/>
<text x="22.3" y="248.8" font-size="6.6" text-anchor="end" fill="#333" font-weight="normal" font-style="normal" textLength="3.2" lengthAdjust="spacingAndGlyphs">2</text>
<line x1="24.60" y1="224.60" x2="27.60" y2="224.60" stroke="#231f20" stroke-width="0.9"/>
<text x="22.3" y="226.90000000000003" font-size="6.6" text-anchor="end" fill="#333" font-weight="normal" font-style="normal" textLength="3.2" lengthAdjust="spacingAndGlyphs">3</text>
<line x1="42.50" y1="294.60" x2="42.50" y2="297.10" stroke="#231f20" stroke-width="0.9"/>
<text x="40.7" y="305.20000000000005" font-size="6.6" text-anchor="middle" fill="#333" font-weight="normal" font-style="normal" textLength="12.2" lengthAdjust="spacingAndGlyphs">&#8722;2.0</text>
<line x1="65.50" y1="294.60" x2="65.50" y2="297.10" stroke="#231f20" stroke-width="0.9"/>
<text x="63.7" y="305.20000000000005" font-size="6.6" text-anchor="middle" fill="#333" font-weight="normal" font-style="normal" textLength="12.2" lengthAdjust="spacingAndGlyphs">&#8722;1.0</text>
<line x1="88.50" y1="294.60" x2="88.50" y2="297.10" stroke="#231f20" stroke-width="0.9"/>
<text x="88.5" y="305.20000000000005" font-size="6.6" text-anchor="middle" fill="#333" font-weight="normal" font-style="normal" textLength="8.4" lengthAdjust="spacingAndGlyphs">0.0</text>
<line x1="111.50" y1="294.60" x2="111.50" y2="297.10" stroke="#231f20" stroke-width="0.9"/>
<text x="111.5" y="305.20000000000005" font-size="6.6" text-anchor="middle" fill="#333" font-weight="normal" font-style="normal" textLength="8.4" lengthAdjust="spacingAndGlyphs">1.0</text>
<line x1="134.50" y1="294.60" x2="134.50" y2="297.10" stroke="#231f20" stroke-width="0.9"/>
<text x="134.5" y="305.20000000000005" font-size="6.6" text-anchor="middle" fill="#333" font-weight="normal" font-style="normal" textLength="8.4" lengthAdjust="spacingAndGlyphs">2.0</text>
<text x="89.9" y="317.3" font-size="9" text-anchor="middle" fill="#231f20" font-weight="normal" font-style="normal" textLength="30.2" lengthAdjust="spacingAndGlyphs">Fold change</text>
<text x="89.9" y="327.0" font-size="9" text-anchor="middle" fill="#231f20" font-weight="normal" font-style="normal" textLength="43.5" lengthAdjust="spacingAndGlyphs">log2(st-FL/nt-FL)</text>
<text x="0" y="0" font-size="8.6" fill="#231f20" text-anchor="middle" textLength="34" lengthAdjust="spacingAndGlyphs" transform="translate(13.6 251.0) rotate(-90)">-log(<tspan font-style="italic">P</tspan>-value)</text>
<line x1="213.50" y1="44.00" x2="213.50" y2="103.50" stroke="#e0e0e0" stroke-width="0.7"/>
<line x1="221.62" y1="44.00" x2="221.62" y2="103.50" stroke="#e0e0e0" stroke-width="0.7"/>
<line x1="229.75" y1="44.00" x2="229.75" y2="103.50" stroke="#e0e0e0" stroke-width="0.7"/>
<line x1="237.88" y1="44.00" x2="237.88" y2="103.50" stroke="#e0e0e0" stroke-width="0.7"/>
<line x1="246.00" y1="44.00" x2="246.00" y2="103.50" stroke="#e0e0e0" stroke-width="0.7"/>
<line x1="254.12" y1="44.00" x2="254.12" y2="103.50" stroke="#e0e0e0" stroke-width="0.7"/>
<line x1="262.25" y1="44.00" x2="262.25" y2="103.50" stroke="#e0e0e0" stroke-width="0.7"/>
<line x1="270.38" y1="44.00" x2="270.38" y2="103.50" stroke="#e0e0e0" stroke-width="0.7"/>
<line x1="278.50" y1="44.00" x2="278.50" y2="103.50" stroke="#e0e0e0" stroke-width="0.7"/>
<line x1="210.50" y1="46.20" x2="278.50" y2="46.20" stroke="#e0e0e0" stroke-width="0.7"/>
<line x1="210.50" y1="53.90" x2="278.50" y2="53.90" stroke="#e0e0e0" stroke-width="0.7"/>
<line x1="210.50" y1="61.60" x2="278.50" y2="61.60" stroke="#e0e0e0" stroke-width="0.7"/>
<line x1="210.50" y1="69.30" x2="278.50" y2="69.30" stroke="#e0e0e0" stroke-width="0.7"/>
<line x1="210.50" y1="77.00" x2="278.50" y2="77.00" stroke="#e0e0e0" stroke-width="0.7"/>
<line x1="210.50" y1="84.70" x2="278.50" y2="84.70" stroke="#e0e0e0" stroke-width="0.7"/>
<line x1="210.50" y1="92.40" x2="278.50" y2="92.40" stroke="#e0e0e0" stroke-width="0.7"/>
<line x1="210.50" y1="100.10" x2="278.50" y2="100.10" stroke="#e0e0e0" stroke-width="0.7"/>
<line x1="204.50" y1="46.60" x2="191.00" y2="50.00" stroke="#e0e0e0" stroke-width="0.7"/>
<line x1="205.34" y1="54.69" x2="192.43" y2="59.64" stroke="#e0e0e0" stroke-width="0.7"/>
<line x1="206.19" y1="62.77" x2="193.86" y2="69.29" stroke="#e0e0e0" stroke-width="0.7"/>
<line x1="207.03" y1="70.86" x2="195.29" y2="78.93" stroke="#e0e0e0" stroke-width="0.7"/>
<line x1="207.87" y1="78.94" x2="196.71" y2="88.57" stroke="#e0e0e0" stroke-width="0.7"/>
<line x1="208.71" y1="87.03" x2="198.14" y2="98.21" stroke="#e0e0e0" stroke-width="0.7"/>
<line x1="209.56" y1="95.11" x2="199.57" y2="107.86" stroke="#e0e0e0" stroke-width="0.7"/>
<line x1="210.40" y1="103.20" x2="201.00" y2="117.50" stroke="#e0e0e0" stroke-width="0.7"/>
<line x1="204.50" y1="46.60" x2="210.40" y2="103.20" stroke="#e0e0e0" stroke-width="0.7"/>
<line x1="197.75" y1="48.30" x2="205.70" y2="110.35" stroke="#e0e0e0" stroke-width="0.7"/>
<line x1="191.00" y1="50.00" x2="201.00" y2="117.50" stroke="#e0e0e0" stroke-width="0.7"/>
<line x1="210.40" y1="103.20" x2="201.00" y2="117.50" stroke="#e0e0e0" stroke-width="0.7"/>
<line x1="219.31" y1="103.30" x2="212.25" y2="117.56" stroke="#e0e0e0" stroke-width="0.7"/>
<line x1="228.22" y1="103.40" x2="223.50" y2="117.62" stroke="#e0e0e0" stroke-width="0.7"/>
<line x1="237.14" y1="103.50" x2="234.75" y2="117.69" stroke="#e0e0e0" stroke-width="0.7"/>
<line x1="246.05" y1="103.60" x2="246.00" y2="117.75" stroke="#e0e0e0" stroke-width="0.7"/>
<line x1="254.96" y1="103.70" x2="257.25" y2="117.81" stroke="#e0e0e0" stroke-width="0.7"/>
<line x1="263.88" y1="103.80" x2="268.50" y2="117.88" stroke="#e0e0e0" stroke-width="0.7"/>
<line x1="272.79" y1="103.90" x2="279.75" y2="117.94" stroke="#e0e0e0" stroke-width="0.7"/>
<line x1="281.70" y1="104.00" x2="291.00" y2="118.00" stroke="#e0e0e0" stroke-width="0.7"/>
<line x1="207.30" y1="107.92" x2="284.77" y2="108.62" stroke="#e0e0e0" stroke-width="0.7"/>
<line x1="204.20" y1="112.64" x2="287.84" y2="113.24" stroke="#e0e0e0" stroke-width="0.7"/>
<line x1="201.00" y1="117.50" x2="291.00" y2="118.00" stroke="#e0e0e0" stroke-width="0.7"/>
<circle cx="239.50" cy="68.10" r="1.8" fill="#e8733f" fill-opacity="0.92"/>
<circle cx="238.00" cy="71.20" r="1.8" fill="#e8733f" fill-opacity="0.92"/>
<circle cx="218.90" cy="75.00" r="1.8" fill="#e8733f" fill-opacity="0.92"/>
<circle cx="220.50" cy="74.30" r="1.8" fill="#e8733f" fill-opacity="0.92"/>
<circle cx="226.10" cy="76.40" r="1.8" fill="#e8733f" fill-opacity="0.92"/>
<circle cx="248.40" cy="79.50" r="1.8" fill="#e8733f" fill-opacity="0.92"/>
<circle cx="248.80" cy="81.10" r="1.8" fill="#e8733f" fill-opacity="0.92"/>
<circle cx="256.60" cy="83.20" r="1.8" fill="#e8733f" fill-opacity="0.92"/>
<circle cx="217.80" cy="89.80" r="1.8" fill="#e8733f" fill-opacity="0.92"/>
<circle cx="220.90" cy="90.40" r="1.8" fill="#e8733f" fill-opacity="0.92"/>
<circle cx="228.80" cy="86.70" r="1.8" fill="#e8733f" fill-opacity="0.92"/>
<circle cx="231.20" cy="87.30" r="1.8" fill="#e8733f" fill-opacity="0.92"/>
<circle cx="235.40" cy="86.70" r="1.8" fill="#e8733f" fill-opacity="0.92"/>
<circle cx="225.50" cy="95.60" r="1.8" fill="#e8733f" fill-opacity="0.92"/>
<circle cx="209.60" cy="97.60" r="1.8" fill="#e8733f" fill-opacity="0.92"/>
<circle cx="248.80" cy="77.80" r="1.8" fill="#e8733f" fill-opacity="0.92"/>
<circle cx="244.60" cy="47.50" r="1.8" fill="#1c1a5e"/>
<circle cx="248.40" cy="65.50" r="1.8" fill="#1c1a5e"/>
<circle cx="256.60" cy="73.30" r="1.8" fill="#1c1a5e"/>
<circle cx="258.00" cy="72.30" r="1.8" fill="#1c1a5e"/>
<circle cx="267.30" cy="72.30" r="1.8" fill="#1c1a5e"/>
<circle cx="270.80" cy="73.30" r="1.8" fill="#1c1a5e"/>
<circle cx="277.60" cy="74.30" r="1.8" fill="#1c1a5e"/>
<circle cx="243.20" cy="82.00" r="1.8" fill="#1c1a5e"/>
<circle cx="249.40" cy="86.10" r="1.8" fill="#1c1a5e"/>
<circle cx="248.40" cy="90.40" r="1.8" fill="#1c1a5e"/>
<circle cx="266.90" cy="84.00" r="1.8" fill="#1c1a5e"/>
<circle cx="267.30" cy="87.30" r="1.8" fill="#1c1a5e"/>
<circle cx="252.50" cy="94.30" r="1.8" fill="#1c1a5e"/>
<circle cx="255.60" cy="92.90" r="1.8" fill="#1c1a5e"/>
<circle cx="263.20" cy="95.00" r="1.8" fill="#1c1a5e"/>
<circle cx="265.30" cy="93.90" r="1.8" fill="#1c1a5e"/>
<circle cx="257.60" cy="101.50" r="1.8" fill="#1c1a5e"/>
<circle cx="272.50" cy="101.10" r="1.8" fill="#1c1a5e"/>
<circle cx="286.90" cy="96.00" r="1.8" fill="#1c1a5e"/>
<line x1="204.50" y1="46.60" x2="210.40" y2="103.20" stroke="#2a2a2a" stroke-width="1.0"/>
<line x1="210.40" y1="103.20" x2="281.70" y2="104.00" stroke="#2a2a2a" stroke-width="1.0"/>
<line x1="213.50" y1="76.30" x2="279.00" y2="76.60" stroke="#2a2a2a" stroke-width="1.0"/>
<line x1="213.50" y1="76.30" x2="199.50" y2="95.50" stroke="#2a2a2a" stroke-width="1.0"/>
<line x1="246.40" y1="45.30" x2="246.40" y2="119.50" stroke="#2a2a2a" stroke-width="1.0"/>
<text x="192.2" y="57.2" font-size="6.6" text-anchor="middle" fill="#333" font-weight="normal" font-style="normal" textLength="3.2" lengthAdjust="spacingAndGlyphs">4</text>
<text x="193.6" y="68.1" font-size="6.6" text-anchor="middle" fill="#333" font-weight="normal" font-style="normal" textLength="3.2" lengthAdjust="spacingAndGlyphs">3</text>
<text x="194.9" y="79.5" font-size="6.6" text-anchor="middle" fill="#333" font-weight="normal" font-style="normal" textLength="3.2" lengthAdjust="spacingAndGlyphs">2</text>
<text x="196.4" y="90.0" font-size="6.6" text-anchor="middle" fill="#333" font-weight="normal" font-style="normal" textLength="3.2" lengthAdjust="spacingAndGlyphs">1</text>
<text x="197.0" y="100.3" font-size="6.6" text-anchor="middle" fill="#333" font-weight="normal" font-style="normal" textLength="3.2" lengthAdjust="spacingAndGlyphs">0</text>
<text x="196.5" y="108.2" font-size="6.6" text-anchor="middle" fill="#333" font-weight="normal" font-style="normal" textLength="7.5" lengthAdjust="spacingAndGlyphs">&#8722;1</text>
<text x="198" y="117.8" font-size="6.6" text-anchor="middle" fill="#333" font-weight="normal" font-style="normal" textLength="7.5" lengthAdjust="spacingAndGlyphs">&#8722;2</text>
<text x="207.5" y="124.8" font-size="6.6" text-anchor="middle" fill="#333" font-weight="normal" font-style="normal" textLength="3.2" lengthAdjust="spacingAndGlyphs">4</text>
<text x="216.5" y="124.8" font-size="6.6" text-anchor="middle" fill="#333" font-weight="normal" font-style="normal" textLength="3.2" lengthAdjust="spacingAndGlyphs">3</text>
<text x="226.2" y="124.8" font-size="6.6" text-anchor="middle" fill="#333" font-weight="normal" font-style="normal" textLength="3.2" lengthAdjust="spacingAndGlyphs">2</text>
<text x="236.3" y="124.8" font-size="6.6" text-anchor="middle" fill="#333" font-weight="normal" font-style="normal" textLength="3.2" lengthAdjust="spacingAndGlyphs">1</text>
<text x="246" y="124.8" font-size="6.6" text-anchor="middle" fill="#333" font-weight="normal" font-style="normal" textLength="3.2" lengthAdjust="spacingAndGlyphs">0</text>
<text x="253" y="124.8" font-size="6.6" text-anchor="middle" fill="#333" font-weight="normal" font-style="normal" textLength="7.5" lengthAdjust="spacingAndGlyphs">&#8722;1</text>
<text x="263.5" y="124.8" font-size="6.6" text-anchor="middle" fill="#333" font-weight="normal" font-style="normal" textLength="7.5" lengthAdjust="spacingAndGlyphs">&#8722;2</text>
<text x="273" y="124.8" font-size="6.6" text-anchor="middle" fill="#333" font-weight="normal" font-style="normal" textLength="7.5" lengthAdjust="spacingAndGlyphs">&#8722;3</text>
<text x="282" y="124.8" font-size="6.6" text-anchor="middle" fill="#333" font-weight="normal" font-style="normal" textLength="7.5" lengthAdjust="spacingAndGlyphs">&#8722;4</text>
<text x="283.5" y="96" font-size="6.6" text-anchor="middle" fill="#333" font-weight="normal" font-style="normal" textLength="3.2" lengthAdjust="spacingAndGlyphs">2</text>
<text x="284.8" y="100.6" font-size="6.6" text-anchor="middle" fill="#333" font-weight="normal" font-style="normal" textLength="3.2" lengthAdjust="spacingAndGlyphs">1</text>
<text x="287.3" y="105.5" font-size="6.6" text-anchor="middle" fill="#333" font-weight="normal" font-style="normal" textLength="3.2" lengthAdjust="spacingAndGlyphs">0</text>
<text x="289" y="109.5" font-size="6.6" text-anchor="middle" fill="#333" font-weight="normal" font-style="normal" textLength="7.5" lengthAdjust="spacingAndGlyphs">&#8722;1</text>
<text x="292" y="115.8" font-size="6.6" text-anchor="middle" fill="#333" font-weight="normal" font-style="normal" textLength="7.5" lengthAdjust="spacingAndGlyphs">&#8722;2</text>
<text x="186.4" y="94.5" font-size="9" text-anchor="middle" fill="#231f20" font-weight="normal" font-style="normal" textLength="10.8" lengthAdjust="spacingAndGlyphs">PC2</text>
<text x="246.4" y="135.8" font-size="9" text-anchor="middle" fill="#231f20" font-weight="normal" font-style="normal" textLength="10.8" lengthAdjust="spacingAndGlyphs">PC1</text>
<text x="294.5" y="104.5" font-size="9" text-anchor="start" fill="#231f20" font-weight="normal" font-style="normal" textLength="10.8" lengthAdjust="spacingAndGlyphs">PC3</text>
<text x="294.5" y="49.2" font-size="7.0" text-anchor="start" fill="#333" font-weight="normal" font-style="normal" textLength="16.5" lengthAdjust="spacingAndGlyphs">Status</text>
<rect x="295.3" y="53.40" width="5.40" height="5.40" fill="#e8733f"/>
<text x="304.1" y="58.400000000000006" font-size="7.0" text-anchor="start" fill="#333" font-weight="normal" font-style="normal" textLength="13.5" lengthAdjust="spacingAndGlyphs">nt-FL</text>
<rect x="295.3" y="62.50" width="5.40" height="5.80" fill="#1c1a5e"/>
<text x="304.1" y="67.80000000000001" font-size="7.0" text-anchor="start" fill="#333" font-weight="normal" font-style="normal" textLength="13" lengthAdjust="spacingAndGlyphs">st-FL</text>
<line x1="216.60" y1="223.00" x2="216.60" y2="272.50" stroke="#e0e0e0" stroke-width="0.7"/>
<line x1="226.94" y1="223.00" x2="226.94" y2="272.50" stroke="#e0e0e0" stroke-width="0.7"/>
<line x1="237.29" y1="223.00" x2="237.29" y2="272.50" stroke="#e0e0e0" stroke-width="0.7"/>
<line x1="247.63" y1="223.00" x2="247.63" y2="272.50" stroke="#e0e0e0" stroke-width="0.7"/>
<line x1="257.97" y1="223.00" x2="257.97" y2="272.50" stroke="#e0e0e0" stroke-width="0.7"/>
<line x1="268.31" y1="223.00" x2="268.31" y2="272.50" stroke="#e0e0e0" stroke-width="0.7"/>
<line x1="278.66" y1="223.00" x2="278.66" y2="272.50" stroke="#e0e0e0" stroke-width="0.7"/>
<line x1="289.00" y1="223.00" x2="289.00" y2="272.50" stroke="#e0e0e0" stroke-width="0.7"/>
<line x1="213.60" y1="225.60" x2="289.00" y2="225.60" stroke="#e0e0e0" stroke-width="0.7"/>
<line x1="213.60" y1="229.48" x2="289.00" y2="229.48" stroke="#e0e0e0" stroke-width="0.7"/>
<line x1="213.60" y1="233.36" x2="289.00" y2="233.36" stroke="#e0e0e0" stroke-width="0.7"/>
<line x1="213.60" y1="237.25" x2="289.00" y2="237.25" stroke="#e0e0e0" stroke-width="0.7"/>
<line x1="213.60" y1="241.13" x2="289.00" y2="241.13" stroke="#e0e0e0" stroke-width="0.7"/>
<line x1="213.60" y1="245.01" x2="289.00" y2="245.01" stroke="#e0e0e0" stroke-width="0.7"/>
<line x1="213.60" y1="248.89" x2="289.00" y2="248.89" stroke="#e0e0e0" stroke-width="0.7"/>
<line x1="213.60" y1="252.77" x2="289.00" y2="252.77" stroke="#e0e0e0" stroke-width="0.7"/>
<line x1="213.60" y1="256.65" x2="289.00" y2="256.65" stroke="#e0e0e0" stroke-width="0.7"/>
<line x1="213.60" y1="260.54" x2="289.00" y2="260.54" stroke="#e0e0e0" stroke-width="0.7"/>
<line x1="213.60" y1="264.42" x2="289.00" y2="264.42" stroke="#e0e0e0" stroke-width="0.7"/>
<line x1="213.60" y1="268.30" x2="289.00" y2="268.30" stroke="#e0e0e0" stroke-width="0.7"/>
<line x1="208.50" y1="224.30" x2="199.00" y2="226.00" stroke="#e0e0e0" stroke-width="0.7"/>
<line x1="208.69" y1="228.47" x2="199.36" y2="231.18" stroke="#e0e0e0" stroke-width="0.7"/>
<line x1="208.88" y1="232.65" x2="199.73" y2="236.36" stroke="#e0e0e0" stroke-width="0.7"/>
<line x1="209.07" y1="236.82" x2="200.09" y2="241.55" stroke="#e0e0e0" stroke-width="0.7"/>
<line x1="209.26" y1="240.99" x2="200.45" y2="246.73" stroke="#e0e0e0" stroke-width="0.7"/>
<line x1="209.45" y1="245.16" x2="200.82" y2="251.91" stroke="#e0e0e0" stroke-width="0.7"/>
<line x1="209.65" y1="249.34" x2="201.18" y2="257.09" stroke="#e0e0e0" stroke-width="0.7"/>
<line x1="209.84" y1="253.51" x2="201.55" y2="262.27" stroke="#e0e0e0" stroke-width="0.7"/>
<line x1="210.03" y1="257.68" x2="201.91" y2="267.45" stroke="#e0e0e0" stroke-width="0.7"/>
<line x1="210.22" y1="261.85" x2="202.27" y2="272.64" stroke="#e0e0e0" stroke-width="0.7"/>
<line x1="210.41" y1="266.03" x2="202.64" y2="277.82" stroke="#e0e0e0" stroke-width="0.7"/>
<line x1="210.60" y1="270.20" x2="203.00" y2="283.00" stroke="#e0e0e0" stroke-width="0.7"/>
<line x1="208.50" y1="224.30" x2="210.60" y2="270.20" stroke="#e0e0e0" stroke-width="0.7"/>
<line x1="203.75" y1="225.15" x2="206.80" y2="276.60" stroke="#e0e0e0" stroke-width="0.7"/>
<line x1="199.00" y1="226.00" x2="203.00" y2="283.00" stroke="#e0e0e0" stroke-width="0.7"/>
<line x1="210.60" y1="270.20" x2="203.00" y2="283.00" stroke="#e0e0e0" stroke-width="0.7"/>
<line x1="221.57" y1="270.76" x2="215.75" y2="283.25" stroke="#e0e0e0" stroke-width="0.7"/>
<line x1="232.55" y1="271.32" x2="228.50" y2="283.50" stroke="#e0e0e0" stroke-width="0.7"/>
<line x1="243.52" y1="271.89" x2="241.25" y2="283.75" stroke="#e0e0e0" stroke-width="0.7"/>
<line x1="254.50" y1="272.45" x2="254.00" y2="284.00" stroke="#e0e0e0" stroke-width="0.7"/>
<line x1="265.47" y1="273.01" x2="266.75" y2="284.25" stroke="#e0e0e0" stroke-width="0.7"/>
<line x1="276.45" y1="273.57" x2="279.50" y2="284.50" stroke="#e0e0e0" stroke-width="0.7"/>
<line x1="287.42" y1="274.14" x2="292.25" y2="284.75" stroke="#e0e0e0" stroke-width="0.7"/>
<line x1="298.40" y1="274.70" x2="305.00" y2="285.00" stroke="#e0e0e0" stroke-width="0.7"/>
<line x1="208.09" y1="274.42" x2="300.58" y2="278.10" stroke="#e0e0e0" stroke-width="0.7"/>
<line x1="205.58" y1="278.65" x2="302.76" y2="281.50" stroke="#e0e0e0" stroke-width="0.7"/>
<line x1="203.00" y1="283.00" x2="305.00" y2="285.00" stroke="#e0e0e0" stroke-width="0.7"/>
<circle cx="212.60" cy="226.90" r="1.8" fill="#e8733f" fill-opacity="0.92"/>
<circle cx="230.10" cy="235.60" r="1.8" fill="#e8733f" fill-opacity="0.92"/>
<circle cx="232.80" cy="236.20" r="1.8" fill="#e8733f" fill-opacity="0.92"/>
<circle cx="244.60" cy="235.00" r="1.8" fill="#e8733f" fill-opacity="0.92"/>
<circle cx="227.00" cy="240.70" r="1.8" fill="#e8733f" fill-opacity="0.92"/>
<circle cx="228.10" cy="244.90" r="1.8" fill="#e8733f" fill-opacity="0.92"/>
<circle cx="223.60" cy="247.30" r="1.8" fill="#e8733f" fill-opacity="0.92"/>
<circle cx="246.60" cy="244.90" r="1.8" fill="#e8733f" fill-opacity="0.92"/>
<circle cx="248.30" cy="249.00" r="1.8" fill="#e8733f" fill-opacity="0.92"/>
<circle cx="255.30" cy="248.00" r="1.8" fill="#e8733f" fill-opacity="0.92"/>
<circle cx="229.10" cy="258.90" r="1.8" fill="#1c1a5e"/>
<circle cx="246.60" cy="263.80" r="1.8" fill="#1c1a5e"/>
<circle cx="243.10" cy="269.10" r="1.8" fill="#1c1a5e"/>
<circle cx="259.00" cy="253.10" r="1.8" fill="#1c1a5e"/>
<circle cx="287.70" cy="227.40" r="1.8" fill="#1c1a5e"/>
<circle cx="287.70" cy="231.90" r="1.8" fill="#1c1a5e"/>
<circle cx="286.40" cy="235.60" r="1.8" fill="#1c1a5e"/>
<circle cx="298.40" cy="239.30" r="1.8" fill="#1c1a5e"/>
<circle cx="280.50" cy="244.40" r="1.8" fill="#1c1a5e"/>
<circle cx="285.40" cy="246.90" r="1.8" fill="#1c1a5e"/>
<circle cx="281.90" cy="250.00" r="1.8" fill="#1c1a5e"/>
<circle cx="287.10" cy="250.40" r="1.8" fill="#1c1a5e"/>
<circle cx="265.40" cy="252.50" r="1.8" fill="#1c1a5e"/>
<circle cx="272.60" cy="256.80" r="1.8" fill="#1c1a5e"/>
<circle cx="284.60" cy="267.50" r="1.8" fill="#1c1a5e"/>
<circle cx="274.30" cy="281.90" r="1.8" fill="#1c1a5e"/>
<line x1="208.50" y1="224.30" x2="210.60" y2="270.20" stroke="#2a2a2a" stroke-width="1.0"/>
<line x1="210.60" y1="270.20" x2="298.40" y2="274.70" stroke="#2a2a2a" stroke-width="1.0"/>
<line x1="218.40" y1="240.10" x2="292.20" y2="242.80" stroke="#2a2a2a" stroke-width="1.0"/>
<line x1="218.40" y1="240.10" x2="199.30" y2="252.10" stroke="#2a2a2a" stroke-width="1.0"/>
<line x1="257.80" y1="224.30" x2="257.80" y2="283.50" stroke="#2a2a2a" stroke-width="1.0"/>
<text x="195.1" y="232.5" font-size="6.6" text-anchor="middle" fill="#333" font-weight="normal" font-style="normal" textLength="3.2" lengthAdjust="spacingAndGlyphs">3</text>
<text x="195.1" y="240.2" font-size="6.6" text-anchor="middle" fill="#333" font-weight="normal" font-style="normal" textLength="3.2" lengthAdjust="spacingAndGlyphs">2</text>
<text x="195.1" y="249.2" font-size="6.6" text-anchor="middle" fill="#333" font-weight="normal" font-style="normal" textLength="3.2" lengthAdjust="spacingAndGlyphs">1</text>
<text x="195.8" y="256.2" font-size="6.6" text-anchor="middle" fill="#333" font-weight="normal" font-style="normal" textLength="3.2" lengthAdjust="spacingAndGlyphs">0</text>
<text x="196.2" y="261.6" font-size="6.6" text-anchor="middle" fill="#333" font-weight="normal" font-style="normal" textLength="7.5" lengthAdjust="spacingAndGlyphs">&#8722;1</text>
<text x="196.2" y="268.8" font-size="6.6" text-anchor="middle" fill="#333" font-weight="normal" font-style="normal" textLength="7.5" lengthAdjust="spacingAndGlyphs">&#8722;2</text>
<text x="196.8" y="277" font-size="6.6" text-anchor="middle" fill="#333" font-weight="normal" font-style="normal" textLength="7.5" lengthAdjust="spacingAndGlyphs">&#8722;3</text>
<text x="197.2" y="284.2" font-size="6.6" text-anchor="middle" fill="#333" font-weight="normal" font-style="normal" textLength="7.5" lengthAdjust="spacingAndGlyphs">&#8722;4</text>
<text x="213" y="290" font-size="6.6" text-anchor="middle" fill="#333" font-weight="normal" font-style="normal" textLength="3.2" lengthAdjust="spacingAndGlyphs">6</text>
<text x="227.7" y="290.5" font-size="6.6" text-anchor="middle" fill="#333" font-weight="normal" font-style="normal" textLength="3.2" lengthAdjust="spacingAndGlyphs">4</text>
<text x="242.5" y="290.5" font-size="6.6" text-anchor="middle" fill="#333" font-weight="normal" font-style="normal" textLength="3.2" lengthAdjust="spacingAndGlyphs">2</text>
<text x="257.8" y="290.5" font-size="6.6" text-anchor="middle" fill="#333" font-weight="normal" font-style="normal" textLength="3.2" lengthAdjust="spacingAndGlyphs">0</text>
<text x="269.6" y="291" font-size="6.6" text-anchor="middle" fill="#333" font-weight="normal" font-style="normal" textLength="7.5" lengthAdjust="spacingAndGlyphs">&#8722;2</text>
<text x="283" y="291.5" font-size="6.6" text-anchor="middle" fill="#333" font-weight="normal" font-style="normal" textLength="7.5" lengthAdjust="spacingAndGlyphs">&#8722;4</text>
<text x="297.4" y="291.5" font-size="6.6" text-anchor="middle" fill="#333" font-weight="normal" font-style="normal" textLength="7.5" lengthAdjust="spacingAndGlyphs">&#8722;6</text>
<text x="296.3" y="266.7" font-size="6.6" text-anchor="middle" fill="#333" font-weight="normal" font-style="normal" textLength="3.2" lengthAdjust="spacingAndGlyphs">4</text>
<text x="298.4" y="271.3" font-size="6.6" text-anchor="middle" fill="#333" font-weight="normal" font-style="normal" textLength="3.2" lengthAdjust="spacingAndGlyphs">2</text>
<text x="302.5" y="276" font-size="6.6" text-anchor="middle" fill="#333" font-weight="normal" font-style="normal" textLength="3.2" lengthAdjust="spacingAndGlyphs">0</text>
<text x="305.6" y="282.2" font-size="6.6" text-anchor="middle" fill="#333" font-weight="normal" font-style="normal" textLength="7.5" lengthAdjust="spacingAndGlyphs">&#8722;2</text>
<text x="184.5" y="261.5" font-size="9" text-anchor="middle" fill="#231f20" font-weight="normal" font-style="normal" textLength="10.8" lengthAdjust="spacingAndGlyphs">PC2</text>
<text x="256.7" y="302.3" font-size="9" text-anchor="middle" fill="#231f20" font-weight="normal" font-style="normal" textLength="10.8" lengthAdjust="spacingAndGlyphs">PC1</text>
<text x="305.6" y="269.3" font-size="9" text-anchor="start" fill="#231f20" font-weight="normal" font-style="normal" textLength="10.8" lengthAdjust="spacingAndGlyphs">PC3</text>
<text x="306.5" y="224.4" font-size="7.0" text-anchor="start" fill="#333" font-weight="normal" font-style="normal" textLength="16.5" lengthAdjust="spacingAndGlyphs">Status</text>
<rect x="307.3" y="228.60" width="5.40" height="5.40" fill="#e8733f"/>
<text x="316.1" y="233.6" font-size="7.0" text-anchor="start" fill="#333" font-weight="normal" font-style="normal" textLength="13.5" lengthAdjust="spacingAndGlyphs">nt-FL</text>
<rect x="307.3" y="237.70" width="5.40" height="5.80" fill="#1c1a5e"/>
<text x="316.1" y="243.0" font-size="7.0" text-anchor="start" fill="#333" font-weight="normal" font-style="normal" textLength="13" lengthAdjust="spacingAndGlyphs">st-FL</text>
<rect x="345.5" y="61.40" width="60.00" height="5.50" fill="#1c1a6e"/>
<rect x="406.7" y="61.40" width="11.25" height="5.50" fill="#e96c3c"/>
<rect x="417.9" y="61.40" width="3.75" height="5.50" fill="#1c1a6e"/>
<rect x="421.7" y="61.40" width="18.75" height="5.50" fill="#e96c3c"/>
<rect x="440.4" y="61.40" width="7.50" height="5.50" fill="#1c1a6e"/>
<rect x="449.1" y="61.40" width="33.75" height="5.50" fill="#e96c3c"/>
<rect x="345.5" y="67.80" width="4.65" height="5.28" fill="#df4b2b"/>
<rect x="349.2" y="67.80" width="4.65" height="5.28" fill="#e86d4d"/>
<rect x="353.0" y="67.80" width="4.65" height="5.28" fill="#e96f4f"/>
<rect x="356.8" y="67.80" width="4.65" height="5.28" fill="#e35b3b"/>
<rect x="360.5" y="67.80" width="4.65" height="5.28" fill="#dd4424"/>
<rect x="364.2" y="67.80" width="4.65" height="5.28" fill="#e35a3a"/>
<rect x="368.0" y="67.80" width="4.65" height="5.28" fill="#ea7353"/>
<rect x="371.8" y="67.80" width="4.65" height="5.28" fill="#e86d4d"/>
<rect x="375.5" y="67.80" width="4.65" height="5.28" fill="#e56141"/>
<rect x="379.2" y="67.80" width="4.65" height="5.28" fill="#e15131"/>
<rect x="383.0" y="67.80" width="4.65" height="5.28" fill="#e56040"/>
<rect x="386.8" y="67.80" width="4.65" height="5.28" fill="#e66646"/>
<rect x="390.5" y="67.80" width="4.65" height="5.28" fill="#e66444"/>
<rect x="394.2" y="67.80" width="4.65" height="5.28" fill="#e45e3e"/>
<rect x="398.0" y="67.80" width="4.65" height="5.28" fill="#e86c4c"/>
<rect x="401.8" y="67.80" width="3.75" height="5.28" fill="#e56040"/>
<rect x="406.7" y="67.80" width="4.65" height="5.28" fill="#dd4525"/>
<rect x="410.4" y="67.80" width="4.65" height="5.28" fill="#dc4020"/>
<rect x="414.2" y="67.80" width="4.65" height="5.28" fill="#df4a2a"/>
<rect x="417.9" y="67.80" width="4.65" height="5.28" fill="#dc4020"/>
<rect x="421.7" y="67.80" width="4.65" height="5.28" fill="#e35a3a"/>
<rect x="425.4" y="67.80" width="4.65" height="5.28" fill="#dc4020"/>
<rect x="429.2" y="67.80" width="4.65" height="5.28" fill="#de4727"/>
<rect x="432.9" y="67.80" width="4.65" height="5.28" fill="#e15232"/>
<rect x="436.7" y="67.80" width="4.65" height="5.28" fill="#df4a2a"/>
<rect x="440.4" y="67.80" width="4.65" height="5.28" fill="#dc4020"/>
<rect x="444.2" y="67.80" width="3.75" height="5.28" fill="#e04f2f"/>
<rect x="449.1" y="67.80" width="4.65" height="5.28" fill="#dc4020"/>
<rect x="452.9" y="67.80" width="4.65" height="5.28" fill="#dc4020"/>
<rect x="456.6" y="67.80" width="4.65" height="5.28" fill="#dc4020"/>
<rect x="460.4" y="67.80" width="4.65" height="5.28" fill="#dc4020"/>
<rect x="464.1" y="67.80" width="4.65" height="5.28" fill="#e45e3e"/>
<rect x="467.9" y="67.80" width="4.65" height="5.28" fill="#dd4424"/>
<rect x="471.6" y="67.80" width="4.65" height="5.28" fill="#e15434"/>
<rect x="475.4" y="67.80" width="4.65" height="5.28" fill="#dc4020"/>
<rect x="479.1" y="67.80" width="3.75" height="5.28" fill="#de4828"/>
<rect x="345.5" y="72.18" width="4.65" height="5.28" fill="#e66646"/>
<rect x="349.2" y="72.18" width="4.65" height="5.28" fill="#eb7757"/>
<rect x="353.0" y="72.18" width="4.65" height="5.28" fill="#e86c4c"/>
<rect x="356.8" y="72.18" width="4.65" height="5.28" fill="#eb7959"/>
<rect x="360.5" y="72.18" width="4.65" height="5.28" fill="#df4c2c"/>
<rect x="364.2" y="72.18" width="4.65" height="5.28" fill="#ea7555"/>
<rect x="368.0" y="72.18" width="4.65" height="5.28" fill="#e86d4d"/>
<rect x="371.8" y="72.18" width="4.65" height="5.28" fill="#f08a6a"/>
<rect x="375.5" y="72.18" width="4.65" height="5.28" fill="#ef8565"/>
<rect x="379.2" y="72.18" width="4.65" height="5.28" fill="#ec7b5b"/>
<rect x="383.0" y="72.18" width="4.65" height="5.28" fill="#e56141"/>
<rect x="386.8" y="72.18" width="4.65" height="5.28" fill="#e56141"/>
<rect x="390.5" y="72.18" width="4.65" height="5.28" fill="#e76949"/>
<rect x="394.2" y="72.18" width="4.65" height="5.28" fill="#eb7858"/>
<rect x="398.0" y="72.18" width="4.65" height="5.28" fill="#e05030"/>
<rect x="401.8" y="72.18" width="3.75" height="5.28" fill="#ed7e5e"/>
<rect x="406.7" y="72.18" width="4.65" height="5.28" fill="#e35a3a"/>
<rect x="410.4" y="72.18" width="4.65" height="5.28" fill="#dd4525"/>
<rect x="414.2" y="72.18" width="4.65" height="5.28" fill="#e45d3d"/>
<rect x="417.9" y="72.18" width="4.65" height="5.28" fill="#de4828"/>
<rect x="421.7" y="72.18" width="4.65" height="5.28" fill="#dc4020"/>
<rect x="425.4" y="72.18" width="4.65" height="5.28" fill="#e04e2e"/>
<rect x="429.2" y="72.18" width="4.65" height="5.28" fill="#de4626"/>
<rect x="432.9" y="72.18" width="4.65" height="5.28" fill="#df4c2c"/>
<rect x="436.7" y="72.18" width="4.65" height="5.28" fill="#e25737"/>
<rect x="440.4" y="72.18" width="4.65" height="5.28" fill="#ed8060"/>
<rect x="444.2" y="72.18" width="3.75" height="5.28" fill="#e56040"/>
<rect x="449.1" y="72.18" width="4.65" height="5.28" fill="#e05030"/>
<rect x="452.9" y="72.18" width="4.65" height="5.28" fill="#e76a4a"/>
<rect x="456.6" y="72.18" width="4.65" height="5.28" fill="#e35939"/>
<rect x="460.4" y="72.18" width="4.65" height="5.28" fill="#df4c2c"/>
<rect x="464.1" y="72.18" width="4.65" height="5.28" fill="#dc4020"/>
<rect x="467.9" y="72.18" width="4.65" height="5.28" fill="#e66646"/>
<rect x="471.6" y="72.18" width="4.65" height="5.28" fill="#e35838"/>
<rect x="475.4" y="72.18" width="4.65" height="5.28" fill="#df4c2c"/>
<rect x="479.1" y="72.18" width="3.75" height="5.28" fill="#de4727"/>
<rect x="345.5" y="76.56" width="4.65" height="5.28" fill="#dd4222"/>
<rect x="349.2" y="76.56" width="4.65" height="5.28" fill="#e86d4d"/>
<rect x="353.0" y="76.56" width="4.65" height="5.28" fill="#e04f2f"/>
<rect x="356.8" y="76.56" width="4.65" height="5.28" fill="#e66343"/>
<rect x="360.5" y="76.56" width="4.65" height="5.28" fill="#e35a3a"/>
<rect x="364.2" y="76.56" width="4.65" height="5.28" fill="#dd4525"/>
<rect x="368.0" y="76.56" width="4.65" height="5.28" fill="#e25535"/>
<rect x="371.8" y="76.56" width="4.65" height="5.28" fill="#e45e3e"/>
<rect x="375.5" y="76.56" width="4.65" height="5.28" fill="#e97050"/>
<rect x="379.2" y="76.56" width="4.65" height="5.28" fill="#e76b4b"/>
<rect x="383.0" y="76.56" width="4.65" height="5.28" fill="#eb7757"/>
<rect x="386.8" y="76.56" width="4.65" height="5.28" fill="#dc4020"/>
<rect x="390.5" y="76.56" width="4.65" height="5.28" fill="#eb7959"/>
<rect x="394.2" y="76.56" width="4.65" height="5.28" fill="#f08a6a"/>
<rect x="398.0" y="76.56" width="4.65" height="5.28" fill="#de4626"/>
<rect x="401.8" y="76.56" width="3.75" height="5.28" fill="#df4c2c"/>
<rect x="406.7" y="76.56" width="4.65" height="5.28" fill="#e35939"/>
<rect x="410.4" y="76.56" width="4.65" height="5.28" fill="#dd4626"/>
<rect x="414.2" y="76.56" width="4.65" height="5.28" fill="#e56040"/>
<rect x="417.9" y="76.56" width="4.65" height="5.28" fill="#e45c3c"/>
<rect x="421.7" y="76.56" width="4.65" height="5.28" fill="#df4b2b"/>
<rect x="425.4" y="76.56" width="4.65" height="5.28" fill="#df4d2d"/>
<rect x="429.2" y="76.56" width="4.65" height="5.28" fill="#e35b3b"/>
<rect x="432.9" y="76.56" width="4.65" height="5.28" fill="#dc4020"/>
<rect x="436.7" y="76.56" width="4.65" height="5.28" fill="#de4727"/>
<rect x="440.4" y="76.56" width="4.65" height="5.28" fill="#e15131"/>
<rect x="444.2" y="76.56" width="3.75" height="5.28" fill="#e66646"/>
<rect x="449.1" y="76.56" width="4.65" height="5.28" fill="#e15434"/>
<rect x="452.9" y="76.56" width="4.65" height="5.28" fill="#e35c3c"/>
<rect x="456.6" y="76.56" width="4.65" height="5.28" fill="#e25838"/>
<rect x="460.4" y="76.56" width="4.65" height="5.28" fill="#df4929"/>
<rect x="464.1" y="76.56" width="4.65" height="5.28" fill="#e56040"/>
<rect x="467.9" y="76.56" width="4.65" height="5.28" fill="#e15232"/>
<rect x="471.6" y="76.56" width="4.65" height="5.28" fill="#df4929"/>
<rect x="475.4" y="76.56" width="4.65" height="5.28" fill="#e05131"/>
<rect x="479.1" y="76.56" width="3.75" height="5.28" fill="#dc4020"/>
<rect x="345.5" y="80.94" width="4.65" height="5.28" fill="#e97252"/>
<rect x="349.2" y="80.94" width="4.65" height="5.28" fill="#ee8464"/>
<rect x="353.0" y="80.94" width="4.65" height="5.28" fill="#e97252"/>
<rect x="356.8" y="80.94" width="4.65" height="5.28" fill="#de4828"/>
<rect x="360.5" y="80.94" width="4.65" height="5.28" fill="#f08b6b"/>
<rect x="364.2" y="80.94" width="4.65" height="5.28" fill="#ea7555"/>
<rect x="368.0" y="80.94" width="4.65" height="5.28" fill="#e66646"/>
<rect x="371.8" y="80.94" width="4.65" height="5.28" fill="#e96f4f"/>
<rect x="375.5" y="80.94" width="4.65" height="5.28" fill="#e56242"/>
<rect x="379.2" y="80.94" width="4.65" height="5.28" fill="#f08a6a"/>
<rect x="383.0" y="80.94" width="4.65" height="5.28" fill="#e56141"/>
<rect x="386.8" y="80.94" width="4.65" height="5.28" fill="#ed8060"/>
<rect x="390.5" y="80.94" width="4.65" height="5.28" fill="#ee8565"/>
<rect x="394.2" y="80.94" width="4.65" height="5.28" fill="#e76848"/>
<rect x="398.0" y="80.94" width="4.65" height="5.28" fill="#e76949"/>
<rect x="401.8" y="80.94" width="3.75" height="5.28" fill="#ec7d5d"/>
<rect x="406.7" y="80.94" width="4.65" height="5.28" fill="#e76a4a"/>
<rect x="410.4" y="80.94" width="4.65" height="5.28" fill="#e56040"/>
<rect x="414.2" y="80.94" width="4.65" height="5.28" fill="#e45d3d"/>
<rect x="417.9" y="80.94" width="4.65" height="5.28" fill="#e56040"/>
<rect x="421.7" y="80.94" width="4.65" height="5.28" fill="#e86e4e"/>
<rect x="425.4" y="80.94" width="4.65" height="5.28" fill="#ee8363"/>
<rect x="429.2" y="80.94" width="4.65" height="5.28" fill="#de4828"/>
<rect x="432.9" y="80.94" width="4.65" height="5.28" fill="#e35a3a"/>
<rect x="436.7" y="80.94" width="4.65" height="5.28" fill="#e97151"/>
<rect x="440.4" y="80.94" width="4.65" height="5.28" fill="#eb7757"/>
<rect x="444.2" y="80.94" width="3.75" height="5.28" fill="#e76848"/>
<rect x="449.1" y="80.94" width="4.65" height="5.28" fill="#e76a4a"/>
<rect x="452.9" y="80.94" width="4.65" height="5.28" fill="#ef8666"/>
<rect x="456.6" y="80.94" width="4.65" height="5.28" fill="#df4d2d"/>
<rect x="460.4" y="80.94" width="4.65" height="5.28" fill="#e45d3d"/>
<rect x="464.1" y="80.94" width="4.65" height="5.28" fill="#e76949"/>
<rect x="467.9" y="80.94" width="4.65" height="5.28" fill="#e45e3e"/>
<rect x="471.6" y="80.94" width="4.65" height="5.28" fill="#e56040"/>
<rect x="475.4" y="80.94" width="4.65" height="5.28" fill="#e15232"/>
<rect x="479.1" y="80.94" width="3.75" height="5.28" fill="#e56141"/>
<rect x="345.5" y="85.32" width="4.65" height="5.28" fill="#eb7858"/>
<rect x="349.2" y="85.32" width="4.65" height="5.28" fill="#f2987a"/>
<rect x="353.0" y="85.32" width="4.65" height="5.28" fill="#f39b7d"/>
<rect x="356.8" y="85.32" width="4.65" height="5.28" fill="#f3a389"/>
<rect x="360.5" y="85.32" width="4.65" height="5.28" fill="#f29678"/>
<rect x="364.2" y="85.32" width="4.65" height="5.28" fill="#f3a085"/>
<rect x="368.0" y="85.32" width="4.65" height="5.28" fill="#f29272"/>
<rect x="371.8" y="85.32" width="4.65" height="5.28" fill="#f18d6d"/>
<rect x="375.5" y="85.32" width="4.65" height="5.28" fill="#f08969"/>
<rect x="379.2" y="85.32" width="4.65" height="5.28" fill="#f4a990"/>
<rect x="383.0" y="85.32" width="4.65" height="5.28" fill="#ed8060"/>
<rect x="386.8" y="85.32" width="4.65" height="5.28" fill="#f2987a"/>
<rect x="390.5" y="85.32" width="4.65" height="5.28" fill="#f29475"/>
<rect x="394.2" y="85.32" width="4.65" height="5.28" fill="#f39c7f"/>
<rect x="398.0" y="85.32" width="4.65" height="5.28" fill="#f5b9a6"/>
<rect x="401.8" y="85.32" width="3.75" height="5.28" fill="#f18e6e"/>
<rect x="406.7" y="85.32" width="4.65" height="5.28" fill="#f4b19b"/>
<rect x="410.4" y="85.32" width="4.65" height="5.28" fill="#ec7c5c"/>
<rect x="414.2" y="85.32" width="4.65" height="5.28" fill="#f18e6e"/>
<rect x="417.9" y="85.32" width="4.65" height="5.28" fill="#ea7555"/>
<rect x="421.7" y="85.32" width="4.65" height="5.28" fill="#ee8464"/>
<rect x="425.4" y="85.32" width="4.65" height="5.28" fill="#ee8363"/>
<rect x="429.2" y="85.32" width="4.65" height="5.28" fill="#eb7858"/>
<rect x="432.9" y="85.32" width="4.65" height="5.28" fill="#f18f6f"/>
<rect x="436.7" y="85.32" width="4.65" height="5.28" fill="#ea7555"/>
<rect x="440.4" y="85.32" width="4.65" height="5.28" fill="#f29171"/>
<rect x="444.2" y="85.32" width="3.75" height="5.28" fill="#f08a6a"/>
<rect x="449.1" y="85.32" width="4.65" height="5.28" fill="#f4af99"/>
<rect x="452.9" y="85.32" width="4.65" height="5.28" fill="#f29779"/>
<rect x="456.6" y="85.32" width="4.65" height="5.28" fill="#f29475"/>
<rect x="460.4" y="85.32" width="4.65" height="5.28" fill="#f4ac94"/>
<rect x="464.1" y="85.32" width="4.65" height="5.28" fill="#f5bba8"/>
<rect x="467.9" y="85.32" width="4.65" height="5.28" fill="#f3a288"/>
<rect x="471.6" y="85.32" width="4.65" height="5.28" fill="#f3997c"/>
<rect x="475.4" y="85.32" width="4.65" height="5.28" fill="#f4a58b"/>
<rect x="479.1" y="85.32" width="3.75" height="5.28" fill="#f5b5a0"/>
<rect x="345.5" y="89.70" width="4.65" height="5.28" fill="#f5b39e"/>
<rect x="349.2" y="89.70" width="4.65" height="5.28" fill="#f8e2dc"/>
<rect x="353.0" y="89.70" width="4.65" height="5.28" fill="#f5b9a6"/>
<rect x="356.8" y="89.70" width="4.65" height="5.28" fill="#f29171"/>
<rect x="360.5" y="89.70" width="4.65" height="5.28" fill="#f6c7b8"/>
<rect x="364.2" y="89.70" width="4.65" height="5.28" fill="#f5b29c"/>
<rect x="368.0" y="89.70" width="4.65" height="5.28" fill="#f18d6d"/>
<rect x="371.8" y="89.70" width="4.65" height="5.28" fill="#f3a084"/>
<rect x="375.5" y="89.70" width="4.65" height="5.28" fill="#f39b7e"/>
<rect x="379.2" y="89.70" width="4.65" height="5.28" fill="#f4b19b"/>
<rect x="383.0" y="89.70" width="4.65" height="5.28" fill="#f6c8ba"/>
<rect x="386.8" y="89.70" width="4.65" height="5.28" fill="#ec7a5a"/>
<rect x="390.5" y="89.70" width="4.65" height="5.28" fill="#f4a88f"/>
<rect x="394.2" y="89.70" width="4.65" height="5.28" fill="#f4a990"/>
<rect x="398.0" y="89.70" width="4.65" height="5.28" fill="#f18e6e"/>
<rect x="401.8" y="89.70" width="3.75" height="5.28" fill="#f39e81"/>
<rect x="406.7" y="89.70" width="4.65" height="5.28" fill="#f4b19a"/>
<rect x="410.4" y="89.70" width="4.65" height="5.28" fill="#f6c8b9"/>
<rect x="414.2" y="89.70" width="4.65" height="5.28" fill="#f5b5a0"/>
<rect x="417.9" y="89.70" width="4.65" height="5.28" fill="#f5b5a0"/>
<rect x="421.7" y="89.70" width="4.65" height="5.28" fill="#f6bfae"/>
<rect x="425.4" y="89.70" width="4.65" height="5.28" fill="#f6c3b3"/>
<rect x="429.2" y="89.70" width="4.65" height="5.28" fill="#f6c6b6"/>
<rect x="432.9" y="89.70" width="4.65" height="5.28" fill="#f5b49f"/>
<rect x="436.7" y="89.70" width="4.65" height="5.28" fill="#f5beac"/>
<rect x="440.4" y="89.70" width="4.65" height="5.28" fill="#f4aa91"/>
<rect x="444.2" y="89.70" width="3.75" height="5.28" fill="#f39e81"/>
<rect x="449.1" y="89.70" width="4.65" height="5.28" fill="#f4b099"/>
<rect x="452.9" y="89.70" width="4.65" height="5.28" fill="#f5b5a1"/>
<rect x="456.6" y="89.70" width="4.65" height="5.28" fill="#f29778"/>
<rect x="460.4" y="89.70" width="4.65" height="5.28" fill="#f4a990"/>
<rect x="464.1" y="89.70" width="4.65" height="5.28" fill="#f7d3c8"/>
<rect x="467.9" y="89.70" width="4.65" height="5.28" fill="#f6c4b4"/>
<rect x="471.6" y="89.70" width="4.65" height="5.28" fill="#f5b29c"/>
<rect x="475.4" y="89.70" width="4.65" height="5.28" fill="#f6c7b8"/>
<rect x="479.1" y="89.70" width="3.75" height="5.28" fill="#f4a78d"/>
<rect x="345.5" y="94.08" width="4.65" height="5.28" fill="#f8dad1"/>
<rect x="349.2" y="94.08" width="4.65" height="5.28" fill="#f3a085"/>
<rect x="353.0" y="94.08" width="4.65" height="5.28" fill="#f4a88f"/>
<rect x="356.8" y="94.08" width="4.65" height="5.28" fill="#f7d4c9"/>
<rect x="360.5" y="94.08" width="4.65" height="5.28" fill="#f5b29d"/>
<rect x="364.2" y="94.08" width="4.65" height="5.28" fill="#f3997b"/>
<rect x="368.0" y="94.08" width="4.65" height="5.28" fill="#f6cabc"/>
<rect x="371.8" y="94.08" width="4.65" height="5.28" fill="#f7ccbe"/>
<rect x="375.5" y="94.08" width="4.65" height="5.28" fill="#f7ccbf"/>
<rect x="379.2" y="94.08" width="4.65" height="5.28" fill="#f6c7b9"/>
<rect x="383.0" y="94.08" width="4.65" height="5.28" fill="#f7d6cc"/>
<rect x="386.8" y="94.08" width="4.65" height="5.28" fill="#f5beab"/>
<rect x="390.5" y="94.08" width="4.65" height="5.28" fill="#f7d1c5"/>
<rect x="394.2" y="94.08" width="4.65" height="5.28" fill="#f5b39d"/>
<rect x="398.0" y="94.08" width="4.65" height="5.28" fill="#f08969"/>
<rect x="401.8" y="94.08" width="3.75" height="5.28" fill="#f6c9ba"/>
<rect x="406.7" y="94.08" width="4.65" height="5.28" fill="#f4a88f"/>
<rect x="410.4" y="94.08" width="4.65" height="5.28" fill="#f3a388"/>
<rect x="414.2" y="94.08" width="4.65" height="5.28" fill="#f9e8e3"/>
<rect x="417.9" y="94.08" width="4.65" height="5.28" fill="#f5b8a4"/>
<rect x="421.7" y="94.08" width="4.65" height="5.28" fill="#f5baa7"/>
<rect x="425.4" y="94.08" width="4.65" height="5.28" fill="#f6c1b0"/>
<rect x="429.2" y="94.08" width="4.65" height="5.28" fill="#f4aa92"/>
<rect x="432.9" y="94.08" width="4.65" height="5.28" fill="#f6c3b2"/>
<rect x="436.7" y="94.08" width="4.65" height="5.28" fill="#f5b39d"/>
<rect x="440.4" y="94.08" width="4.65" height="5.28" fill="#f6c2b1"/>
<rect x="444.2" y="94.08" width="3.75" height="5.28" fill="#f5bdaa"/>
<rect x="449.1" y="94.08" width="4.65" height="5.28" fill="#f7cec1"/>
<rect x="452.9" y="94.08" width="4.65" height="5.28" fill="#f29171"/>
<rect x="456.6" y="94.08" width="4.65" height="5.28" fill="#f6bfad"/>
<rect x="460.4" y="94.08" width="4.65" height="5.28" fill="#f7d4c9"/>
<rect x="464.1" y="94.08" width="4.65" height="5.28" fill="#f29779"/>
<rect x="467.9" y="94.08" width="4.65" height="5.28" fill="#f39f83"/>
<rect x="471.6" y="94.08" width="4.65" height="5.28" fill="#f6c2b1"/>
<rect x="475.4" y="94.08" width="4.65" height="5.28" fill="#f7cbbd"/>
<rect x="479.1" y="94.08" width="3.75" height="5.28" fill="#f7cdbf"/>
<rect x="345.5" y="98.46" width="4.65" height="5.28" fill="#f6c4b5"/>
<rect x="349.2" y="98.46" width="4.65" height="5.28" fill="#f7ccbf"/>
<rect x="353.0" y="98.46" width="4.65" height="5.28" fill="#f4ad96"/>
<rect x="356.8" y="98.46" width="4.65" height="5.28" fill="#f6c3b3"/>
<rect x="360.5" y="98.46" width="4.65" height="5.28" fill="#f6bfad"/>
<rect x="364.2" y="98.46" width="4.65" height="5.28" fill="#f29779"/>
<rect x="368.0" y="98.46" width="4.65" height="5.28" fill="#f4ad95"/>
<rect x="371.8" y="98.46" width="4.65" height="5.28" fill="#f4a58b"/>
<rect x="375.5" y="98.46" width="4.65" height="5.28" fill="#f5b6a1"/>
<rect x="379.2" y="98.46" width="4.65" height="5.28" fill="#f3a48a"/>
<rect x="383.0" y="98.46" width="4.65" height="5.28" fill="#f6c1b0"/>
<rect x="386.8" y="98.46" width="4.65" height="5.28" fill="#f4ab93"/>
<rect x="390.5" y="98.46" width="4.65" height="5.28" fill="#f4a990"/>
<rect x="394.2" y="98.46" width="4.65" height="5.28" fill="#f6c6b7"/>
<rect x="398.0" y="98.46" width="4.65" height="5.28" fill="#f8d8ce"/>
<rect x="401.8" y="98.46" width="3.75" height="5.28" fill="#f5b39e"/>
<rect x="406.7" y="98.46" width="4.65" height="5.28" fill="#f6c8ba"/>
<rect x="410.4" y="98.46" width="4.65" height="5.28" fill="#f5baa7"/>
<rect x="414.2" y="98.46" width="4.65" height="5.28" fill="#d5d3db"/>
<rect x="417.9" y="98.46" width="4.65" height="5.28" fill="#f29778"/>
<rect x="421.7" y="98.46" width="4.65" height="5.28" fill="#f5b9a5"/>
<rect x="425.4" y="98.46" width="4.65" height="5.28" fill="#f7d4c9"/>
<rect x="429.2" y="98.46" width="4.65" height="5.28" fill="#f8d7cd"/>
<rect x="432.9" y="98.46" width="4.65" height="5.28" fill="#f5b9a6"/>
<rect x="436.7" y="98.46" width="4.65" height="5.28" fill="#f5bba9"/>
<rect x="440.4" y="98.46" width="4.65" height="5.28" fill="#f6cabc"/>
<rect x="444.2" y="98.46" width="3.75" height="5.28" fill="#f6c7b8"/>
<rect x="449.1" y="98.46" width="4.65" height="5.28" fill="#f7d5ca"/>
<rect x="452.9" y="98.46" width="4.65" height="5.28" fill="#f6c4b4"/>
<rect x="456.6" y="98.46" width="4.65" height="5.28" fill="#f8e1db"/>
<rect x="460.4" y="98.46" width="4.65" height="5.28" fill="#f7f3f5"/>
<rect x="464.1" y="98.46" width="4.65" height="5.28" fill="#f6c1b1"/>
<rect x="467.9" y="98.46" width="4.65" height="5.28" fill="#f6cabc"/>
<rect x="471.6" y="98.46" width="4.65" height="5.28" fill="#f9eeeb"/>
<rect x="475.4" y="98.46" width="4.65" height="5.28" fill="#f8dad1"/>
<rect x="479.1" y="98.46" width="3.75" height="5.28" fill="#f8ddd4"/>
<rect x="345.5" y="102.84" width="4.65" height="5.28" fill="#f7d0c4"/>
<rect x="349.2" y="102.84" width="4.65" height="5.28" fill="#f9e6e1"/>
<rect x="353.0" y="102.84" width="4.65" height="5.28" fill="#f7cec1"/>
<rect x="356.8" y="102.84" width="4.65" height="5.28" fill="#f8dbd2"/>
<rect x="360.5" y="102.84" width="4.65" height="5.28" fill="#f9e9e5"/>
<rect x="364.2" y="102.84" width="4.65" height="5.28" fill="#d5d3db"/>
<rect x="368.0" y="102.84" width="4.65" height="5.28" fill="#f5b29d"/>
<rect x="371.8" y="102.84" width="4.65" height="5.28" fill="#f5b8a4"/>
<rect x="375.5" y="102.84" width="4.65" height="5.28" fill="#f6c4b4"/>
<rect x="379.2" y="102.84" width="4.65" height="5.28" fill="#cbc9d1"/>
<rect x="383.0" y="102.84" width="4.65" height="5.28" fill="#f6c7b8"/>
<rect x="386.8" y="102.84" width="4.65" height="5.28" fill="#c3c1c9"/>
<rect x="390.5" y="102.84" width="4.65" height="5.28" fill="#f8e2db"/>
<rect x="394.2" y="102.84" width="4.65" height="5.28" fill="#f8e2db"/>
<rect x="398.0" y="102.84" width="4.65" height="5.28" fill="#f7d3c8"/>
<rect x="401.8" y="102.84" width="3.75" height="5.28" fill="#f7d6cc"/>
<rect x="406.7" y="102.84" width="4.65" height="5.28" fill="#f8dbd3"/>
<rect x="410.4" y="102.84" width="4.65" height="5.28" fill="#f6c8b9"/>
<rect x="414.2" y="102.84" width="4.65" height="5.28" fill="#f7d5cb"/>
<rect x="417.9" y="102.84" width="4.65" height="5.28" fill="#f7ccbe"/>
<rect x="421.7" y="102.84" width="4.65" height="5.28" fill="#f6beac"/>
<rect x="425.4" y="102.84" width="4.65" height="5.28" fill="#f6c5b5"/>
<rect x="429.2" y="102.84" width="4.65" height="5.28" fill="#f9f5f6"/>
<rect x="432.9" y="102.84" width="4.65" height="5.28" fill="#f7d3c8"/>
<rect x="436.7" y="102.84" width="4.65" height="5.28" fill="#f5b8a4"/>
<rect x="440.4" y="102.84" width="4.65" height="5.28" fill="#f4ae96"/>
<rect x="444.2" y="102.84" width="3.75" height="5.28" fill="#f9f5f6"/>
<rect x="449.1" y="102.84" width="4.65" height="5.28" fill="#c7c5cd"/>
<rect x="452.9" y="102.84" width="4.65" height="5.28" fill="#f6f1f4"/>
<rect x="456.6" y="102.84" width="4.65" height="5.28" fill="#f9eeec"/>
<rect x="460.4" y="102.84" width="4.65" height="5.28" fill="#f9eae6"/>
<rect x="464.1" y="102.84" width="4.65" height="5.28" fill="#f8d8ce"/>
<rect x="467.9" y="102.84" width="4.65" height="5.28" fill="#f5bdaa"/>
<rect x="471.6" y="102.84" width="4.65" height="5.28" fill="#f9eae7"/>
<rect x="475.4" y="102.84" width="4.65" height="5.28" fill="#f7d6cc"/>
<rect x="479.1" y="102.84" width="3.75" height="5.28" fill="#f9e9e4"/>
<rect x="345.5" y="107.22" width="4.65" height="5.28" fill="#f9e4df"/>
<rect x="349.2" y="107.22" width="4.65" height="5.28" fill="#f7cbbd"/>
<rect x="353.0" y="107.22" width="4.65" height="5.28" fill="#f7d5ca"/>
<rect x="356.8" y="107.22" width="4.65" height="5.28" fill="#f7f3f5"/>
<rect x="360.5" y="107.22" width="4.65" height="5.28" fill="#f6c6b6"/>
<rect x="364.2" y="107.22" width="4.65" height="5.28" fill="#f9efed"/>
<rect x="368.0" y="107.22" width="4.65" height="5.28" fill="#f9e7e2"/>
<rect x="371.8" y="107.22" width="4.65" height="5.28" fill="#faf4f3"/>
<rect x="375.5" y="107.22" width="4.65" height="5.28" fill="#f7d5cb"/>
<rect x="379.2" y="107.22" width="4.65" height="5.28" fill="#f9e7e2"/>
<rect x="383.0" y="107.22" width="4.65" height="5.28" fill="#f9f5f6"/>
<rect x="386.8" y="107.22" width="4.65" height="5.28" fill="#faf5f4"/>
<rect x="390.5" y="107.22" width="4.65" height="5.28" fill="#f8e3dd"/>
<rect x="394.2" y="107.22" width="4.65" height="5.28" fill="#f8dad0"/>
<rect x="398.0" y="107.22" width="4.65" height="5.28" fill="#f9ece8"/>
<rect x="401.8" y="107.22" width="3.75" height="5.28" fill="#f9e5e0"/>
<rect x="406.7" y="107.22" width="4.65" height="5.28" fill="#f9eae6"/>
<rect x="410.4" y="107.22" width="4.65" height="5.28" fill="#f3eef3"/>
<rect x="414.2" y="107.22" width="4.65" height="5.28" fill="#f9e5e0"/>
<rect x="417.9" y="107.22" width="4.65" height="5.28" fill="#f8e3dd"/>
<rect x="421.7" y="107.22" width="4.65" height="5.28" fill="#f7ccbf"/>
<rect x="425.4" y="107.22" width="4.65" height="5.28" fill="#f9e7e2"/>
<rect x="429.2" y="107.22" width="4.65" height="5.28" fill="#f8e3dd"/>
<rect x="432.9" y="107.22" width="4.65" height="5.28" fill="#f2ecf2"/>
<rect x="436.7" y="107.22" width="4.65" height="5.28" fill="#e8e1ee"/>
<rect x="440.4" y="107.22" width="4.65" height="5.28" fill="#d6d4dc"/>
<rect x="444.2" y="107.22" width="3.75" height="5.28" fill="#f8e2db"/>
<rect x="449.1" y="107.22" width="4.65" height="5.28" fill="#f2edf2"/>
<rect x="452.9" y="107.22" width="4.65" height="5.28" fill="#d2c6e4"/>
<rect x="456.6" y="107.22" width="4.65" height="5.28" fill="#f0eaf1"/>
<rect x="460.4" y="107.22" width="4.65" height="5.28" fill="#f9f5f6"/>
<rect x="464.1" y="107.22" width="4.65" height="5.28" fill="#f5f1f4"/>
<rect x="467.9" y="107.22" width="4.65" height="5.28" fill="#faf6f6"/>
<rect x="471.6" y="107.22" width="4.65" height="5.28" fill="#faf6f6"/>
<rect x="475.4" y="107.22" width="4.65" height="5.28" fill="#f6f2f4"/>
<rect x="479.1" y="107.22" width="3.75" height="5.28" fill="#d4c9e5"/>
<rect x="345.5" y="111.60" width="4.65" height="5.28" fill="#ddd4e9"/>
<rect x="349.2" y="111.60" width="4.65" height="5.28" fill="#f0eaf1"/>
<rect x="353.0" y="111.60" width="4.65" height="5.28" fill="#f2ecf2"/>
<rect x="356.8" y="111.60" width="4.65" height="5.28" fill="#c6c4cc"/>
<rect x="360.5" y="111.60" width="4.65" height="5.28" fill="#efe9f1"/>
<rect x="364.2" y="111.60" width="4.65" height="5.28" fill="#faf1ef"/>
<rect x="368.0" y="111.60" width="4.65" height="5.28" fill="#f9eeec"/>
<rect x="371.8" y="111.60" width="4.65" height="5.28" fill="#faf1ef"/>
<rect x="375.5" y="111.60" width="4.65" height="5.28" fill="#f6c9ba"/>
<rect x="379.2" y="111.60" width="4.65" height="5.28" fill="#f2ecf2"/>
<rect x="383.0" y="111.60" width="4.65" height="5.28" fill="#f5f0f4"/>
<rect x="386.8" y="111.60" width="4.65" height="5.28" fill="#faf5f4"/>
<rect x="390.5" y="111.60" width="4.65" height="5.28" fill="#efeaf1"/>
<rect x="394.2" y="111.60" width="4.65" height="5.28" fill="#faf2f0"/>
<rect x="398.0" y="111.60" width="4.65" height="5.28" fill="#f9ece9"/>
<rect x="401.8" y="111.60" width="3.75" height="5.28" fill="#f3edf3"/>
<rect x="406.7" y="111.60" width="4.65" height="5.28" fill="#f9edeb"/>
<rect x="410.4" y="111.60" width="4.65" height="5.28" fill="#e9e2ee"/>
<rect x="414.2" y="111.60" width="4.65" height="5.28" fill="#efe9f1"/>
<rect x="417.9" y="111.60" width="4.65" height="5.28" fill="#f8dbd3"/>
<rect x="421.7" y="111.60" width="4.65" height="5.28" fill="#e6deed"/>
<rect x="425.4" y="111.60" width="4.65" height="5.28" fill="#f7f2f5"/>
<rect x="429.2" y="111.60" width="4.65" height="5.28" fill="#c4c2ca"/>
<rect x="432.9" y="111.60" width="4.65" height="5.28" fill="#f1ebf2"/>
<rect x="436.7" y="111.60" width="4.65" height="5.28" fill="#c1bfc7"/>
<rect x="440.4" y="111.60" width="4.65" height="5.28" fill="#f8f3f5"/>
<rect x="444.2" y="111.60" width="3.75" height="5.28" fill="#f9f5f6"/>
<rect x="449.1" y="111.60" width="4.65" height="5.28" fill="#dad0e7"/>
<rect x="452.9" y="111.60" width="4.65" height="5.28" fill="#e0d7ea"/>
<rect x="456.6" y="111.60" width="4.65" height="5.28" fill="#e8e0ee"/>
<rect x="460.4" y="111.60" width="4.65" height="5.28" fill="#e8e0ee"/>
<rect x="464.1" y="111.60" width="4.65" height="5.28" fill="#faf6f6"/>
<rect x="467.9" y="111.60" width="4.65" height="5.28" fill="#e5ddec"/>
<rect x="471.6" y="111.60" width="4.65" height="5.28" fill="#e3daeb"/>
<rect x="475.4" y="111.60" width="4.65" height="5.28" fill="#f2edf2"/>
<rect x="479.1" y="111.60" width="3.75" height="5.28" fill="#dad0e7"/>
<rect x="345.5" y="115.98" width="4.65" height="5.28" fill="#f7d3c8"/>
<rect x="349.2" y="115.98" width="4.65" height="5.28" fill="#f3eef3"/>
<rect x="353.0" y="115.98" width="4.65" height="5.28" fill="#c8c6ce"/>
<rect x="356.8" y="115.98" width="4.65" height="5.28" fill="#f9e9e5"/>
<rect x="360.5" y="115.98" width="4.65" height="5.28" fill="#f2ecf2"/>
<rect x="364.2" y="115.98" width="4.65" height="5.28" fill="#f5f1f4"/>
<rect x="368.0" y="115.98" width="4.65" height="5.28" fill="#f7d4c9"/>
<rect x="371.8" y="115.98" width="4.65" height="5.28" fill="#f4eff3"/>
<rect x="375.5" y="115.98" width="4.65" height="5.28" fill="#f9edea"/>
<rect x="379.2" y="115.98" width="4.65" height="5.28" fill="#f9e6e1"/>
<rect x="383.0" y="115.98" width="4.65" height="5.28" fill="#c5c3cb"/>
<rect x="386.8" y="115.98" width="4.65" height="5.28" fill="#f8dfd8"/>
<rect x="390.5" y="115.98" width="4.65" height="5.28" fill="#dfd5e9"/>
<rect x="394.2" y="115.98" width="4.65" height="5.28" fill="#faf3f2"/>
<rect x="398.0" y="115.98" width="4.65" height="5.28" fill="#f4eff3"/>
<rect x="401.8" y="115.98" width="3.75" height="5.28" fill="#f9e4de"/>
<rect x="406.7" y="115.98" width="4.65" height="5.28" fill="#f8f4f5"/>
<rect x="410.4" y="115.98" width="4.65" height="5.28" fill="#f1ecf2"/>
<rect x="414.2" y="115.98" width="4.65" height="5.28" fill="#ede7f0"/>
<rect x="417.9" y="115.98" width="4.65" height="5.28" fill="#f4eef3"/>
<rect x="421.7" y="115.98" width="4.65" height="5.28" fill="#d0ced6"/>
<rect x="425.4" y="115.98" width="4.65" height="5.28" fill="#e4dcec"/>
<rect x="429.2" y="115.98" width="4.65" height="5.28" fill="#efeaf1"/>
<rect x="432.9" y="115.98" width="4.65" height="5.28" fill="#faf3f2"/>
<rect x="436.7" y="115.98" width="4.65" height="5.28" fill="#f5f0f4"/>
<rect x="440.4" y="115.98" width="4.65" height="5.28" fill="#f8f3f5"/>
<rect x="444.2" y="115.98" width="3.75" height="5.28" fill="#e9e1ee"/>
<rect x="449.1" y="115.98" width="4.65" height="5.28" fill="#efe9f1"/>
<rect x="452.9" y="115.98" width="4.65" height="5.28" fill="#c5b7de"/>
<rect x="456.6" y="115.98" width="4.65" height="5.28" fill="#e4dcec"/>
<rect x="460.4" y="115.98" width="4.65" height="5.28" fill="#d9cee7"/>
<rect x="464.1" y="115.98" width="4.65" height="5.28" fill="#f0eaf1"/>
<rect x="467.9" y="115.98" width="4.65" height="5.28" fill="#cfc3e2"/>
<rect x="471.6" y="115.98" width="4.65" height="5.28" fill="#ded5e9"/>
<rect x="475.4" y="115.98" width="4.65" height="5.28" fill="#eae3ef"/>
<rect x="479.1" y="115.98" width="3.75" height="5.28" fill="#eee8f1"/>
<rect x="345.5" y="120.36" width="4.65" height="5.28" fill="#ede7f0"/>
<rect x="349.2" y="120.36" width="4.65" height="5.28" fill="#f9ece9"/>
<rect x="353.0" y="120.36" width="4.65" height="5.28" fill="#f4eff3"/>
<rect x="356.8" y="120.36" width="4.65" height="5.28" fill="#faf4f3"/>
<rect x="360.5" y="120.36" width="4.65" height="5.28" fill="#f9edea"/>
<rect x="364.2" y="120.36" width="4.65" height="5.28" fill="#f1ecf2"/>
<rect x="368.0" y="120.36" width="4.65" height="5.28" fill="#f8dbd2"/>
<rect x="371.8" y="120.36" width="4.65" height="5.28" fill="#faf4f3"/>
<rect x="375.5" y="120.36" width="4.65" height="5.28" fill="#d7cce6"/>
<rect x="379.2" y="120.36" width="4.65" height="5.28" fill="#f9e7e2"/>
<rect x="383.0" y="120.36" width="4.65" height="5.28" fill="#f2ecf2"/>
<rect x="386.8" y="120.36" width="4.65" height="5.28" fill="#f8e1db"/>
<rect x="390.5" y="120.36" width="4.65" height="5.28" fill="#f0eaf1"/>
<rect x="394.2" y="120.36" width="4.65" height="5.28" fill="#f2ecf2"/>
<rect x="398.0" y="120.36" width="4.65" height="5.28" fill="#faf4f3"/>
<rect x="401.8" y="120.36" width="3.75" height="5.28" fill="#faf5f5"/>
<rect x="406.7" y="120.36" width="4.65" height="5.28" fill="#eee8f1"/>
<rect x="410.4" y="120.36" width="4.65" height="5.28" fill="#faf6f6"/>
<rect x="414.2" y="120.36" width="4.65" height="5.28" fill="#f4eff3"/>
<rect x="417.9" y="120.36" width="4.65" height="5.28" fill="#eae2ee"/>
<rect x="421.7" y="120.36" width="4.65" height="5.28" fill="#faf6f6"/>
<rect x="425.4" y="120.36" width="4.65" height="5.28" fill="#dcd2e8"/>
<rect x="429.2" y="120.36" width="4.65" height="5.28" fill="#faf6f6"/>
<rect x="432.9" y="120.36" width="4.65" height="5.28" fill="#e6deed"/>
<rect x="436.7" y="120.36" width="4.65" height="5.28" fill="#d3c8e4"/>
<rect x="440.4" y="120.36" width="4.65" height="5.28" fill="#e5ddec"/>
<rect x="444.2" y="120.36" width="3.75" height="5.28" fill="#e5ddec"/>
<rect x="449.1" y="120.36" width="4.65" height="5.28" fill="#e5deed"/>
<rect x="452.9" y="120.36" width="4.65" height="5.28" fill="#e7dfed"/>
<rect x="456.6" y="120.36" width="4.65" height="5.28" fill="#cabde0"/>
<rect x="460.4" y="120.36" width="4.65" height="5.28" fill="#c8bbdf"/>
<rect x="464.1" y="120.36" width="4.65" height="5.28" fill="#eae3ef"/>
<rect x="467.9" y="120.36" width="4.65" height="5.28" fill="#ddd3e9"/>
<rect x="471.6" y="120.36" width="4.65" height="5.28" fill="#ddd4e9"/>
<rect x="475.4" y="120.36" width="4.65" height="5.28" fill="#e0d7ea"/>
<rect x="479.1" y="120.36" width="3.75" height="5.28" fill="#ccbfe1"/>
<rect x="345.5" y="124.74" width="4.65" height="5.28" fill="#faf6f6"/>
<rect x="349.2" y="124.74" width="4.65" height="5.28" fill="#e0d7ea"/>
<rect x="353.0" y="124.74" width="4.65" height="5.28" fill="#faf6f6"/>
<rect x="356.8" y="124.74" width="4.65" height="5.28" fill="#faf6f6"/>
<rect x="360.5" y="124.74" width="4.65" height="5.28" fill="#f4eff3"/>
<rect x="364.2" y="124.74" width="4.65" height="5.28" fill="#faf6f6"/>
<rect x="368.0" y="124.74" width="4.65" height="5.28" fill="#f1ebf2"/>
<rect x="371.8" y="124.74" width="4.65" height="5.28" fill="#d9cfe7"/>
<rect x="375.5" y="124.74" width="4.65" height="5.28" fill="#ece5ef"/>
<rect x="379.2" y="124.74" width="4.65" height="5.28" fill="#faf6f6"/>
<rect x="383.0" y="124.74" width="4.65" height="5.28" fill="#faf6f6"/>
<rect x="386.8" y="124.74" width="4.65" height="5.28" fill="#faf6f6"/>
<rect x="390.5" y="124.74" width="4.65" height="5.28" fill="#e8e1ee"/>
<rect x="394.2" y="124.74" width="4.65" height="5.28" fill="#d9cfe7"/>
<rect x="398.0" y="124.74" width="4.65" height="5.28" fill="#faf6f6"/>
<rect x="401.8" y="124.74" width="3.75" height="5.28" fill="#eee7f0"/>
<rect x="406.7" y="124.74" width="4.65" height="5.28" fill="#e7e0ed"/>
<rect x="410.4" y="124.74" width="4.65" height="5.28" fill="#dbd1e8"/>
<rect x="414.2" y="124.74" width="4.65" height="5.28" fill="#e4dcec"/>
<rect x="417.9" y="124.74" width="4.65" height="5.28" fill="#e9e2ee"/>
<rect x="421.7" y="124.74" width="4.65" height="5.28" fill="#f8f3f5"/>
<rect x="425.4" y="124.74" width="4.65" height="5.28" fill="#eee7f0"/>
<rect x="429.2" y="124.74" width="4.65" height="5.28" fill="#e8e0ee"/>
<rect x="432.9" y="124.74" width="4.65" height="5.28" fill="#e7e0ed"/>
<rect x="436.7" y="124.74" width="4.65" height="5.28" fill="#d9cfe7"/>
<rect x="440.4" y="124.74" width="4.65" height="5.28" fill="#f2edf2"/>
<rect x="444.2" y="124.74" width="3.75" height="5.28" fill="#ded5e9"/>
<rect x="449.1" y="124.74" width="4.65" height="5.28" fill="#e3dbeb"/>
<rect x="452.9" y="124.74" width="4.65" height="5.28" fill="#d2c6e4"/>
<rect x="456.6" y="124.74" width="4.65" height="5.28" fill="#f1ecf2"/>
<rect x="460.4" y="124.74" width="4.65" height="5.28" fill="#e1d8ea"/>
<rect x="464.1" y="124.74" width="4.65" height="5.28" fill="#d5cae5"/>
<rect x="467.9" y="124.74" width="4.65" height="5.28" fill="#d8cee7"/>
<rect x="471.6" y="124.74" width="4.65" height="5.28" fill="#e7e0ed"/>
<rect x="475.4" y="124.74" width="4.65" height="5.28" fill="#d5cae5"/>
<rect x="479.1" y="124.74" width="3.75" height="5.28" fill="#d8cee7"/>
<rect x="345.5" y="129.12" width="4.65" height="5.28" fill="#faf6f6"/>
<rect x="349.2" y="129.12" width="4.65" height="5.28" fill="#f9f5f6"/>
<rect x="353.0" y="129.12" width="4.65" height="5.28" fill="#dcd2e8"/>
<rect x="356.8" y="129.12" width="4.65" height="5.28" fill="#e9e2ee"/>
<rect x="360.5" y="129.12" width="4.65" height="5.28" fill="#e2daeb"/>
<rect x="364.2" y="129.12" width="4.65" height="5.28" fill="#d6cbe5"/>
<rect x="368.0" y="129.12" width="4.65" height="5.28" fill="#e9e2ee"/>
<rect x="371.8" y="129.12" width="4.65" height="5.28" fill="#ece6f0"/>
<rect x="375.5" y="129.12" width="4.65" height="5.28" fill="#faf6f6"/>
<rect x="379.2" y="129.12" width="4.65" height="5.28" fill="#f4eef3"/>
<rect x="383.0" y="129.12" width="4.65" height="5.28" fill="#eae4ef"/>
<rect x="386.8" y="129.12" width="4.65" height="5.28" fill="#eee8f1"/>
<rect x="390.5" y="129.12" width="4.65" height="5.28" fill="#dfd5e9"/>
<rect x="394.2" y="129.12" width="4.65" height="5.28" fill="#ede6f0"/>
<rect x="398.0" y="129.12" width="4.65" height="5.28" fill="#faf6f6"/>
<rect x="401.8" y="129.12" width="3.75" height="5.28" fill="#f7f3f5"/>
<rect x="406.7" y="129.12" width="4.65" height="5.28" fill="#ede7f0"/>
<rect x="410.4" y="129.12" width="4.65" height="5.28" fill="#cfc3e2"/>
<rect x="414.2" y="129.12" width="4.65" height="5.28" fill="#e0d7ea"/>
<rect x="417.9" y="129.12" width="4.65" height="5.28" fill="#faf6f6"/>
<rect x="421.7" y="129.12" width="4.65" height="5.28" fill="#e0d8ea"/>
<rect x="425.4" y="129.12" width="4.65" height="5.28" fill="#d2c6e3"/>
<rect x="429.2" y="129.12" width="4.65" height="5.28" fill="#f0eaf1"/>
<rect x="432.9" y="129.12" width="4.65" height="5.28" fill="#c5c3cb"/>
<rect x="436.7" y="129.12" width="4.65" height="5.28" fill="#d7cce6"/>
<rect x="440.4" y="129.12" width="4.65" height="5.28" fill="#cabde0"/>
<rect x="444.2" y="129.12" width="3.75" height="5.28" fill="#f5f0f4"/>
<rect x="449.1" y="129.12" width="4.65" height="5.28" fill="#d0c4e3"/>
<rect x="452.9" y="129.12" width="4.65" height="5.28" fill="#beafda"/>
<rect x="456.6" y="129.12" width="4.65" height="5.28" fill="#cabde0"/>
<rect x="460.4" y="129.12" width="4.65" height="5.28" fill="#dbd1e8"/>
<rect x="464.1" y="129.12" width="4.65" height="5.28" fill="#d2c7e4"/>
<rect x="467.9" y="129.12" width="4.65" height="5.28" fill="#c9bcdf"/>
<rect x="471.6" y="129.12" width="4.65" height="5.28" fill="#cec2e2"/>
<rect x="475.4" y="129.12" width="4.65" height="5.28" fill="#cabce0"/>
<rect x="479.1" y="129.12" width="3.75" height="5.28" fill="#e5ddec"/>
<rect x="345.5" y="133.50" width="4.65" height="5.28" fill="#ddd3e9"/>
<rect x="349.2" y="133.50" width="4.65" height="5.28" fill="#e7e0ed"/>
<rect x="353.0" y="133.50" width="4.65" height="5.28" fill="#ede6f0"/>
<rect x="356.8" y="133.50" width="4.65" height="5.28" fill="#e3dbeb"/>
<rect x="360.5" y="133.50" width="4.65" height="5.28" fill="#f2ecf2"/>
<rect x="364.2" y="133.50" width="4.65" height="5.28" fill="#f9f5f6"/>
<rect x="368.0" y="133.50" width="4.65" height="5.28" fill="#bdbbc3"/>
<rect x="371.8" y="133.50" width="4.65" height="5.28" fill="#ded5e9"/>
<rect x="375.5" y="133.50" width="4.65" height="5.28" fill="#cbbee0"/>
<rect x="379.2" y="133.50" width="4.65" height="5.28" fill="#ece5ef"/>
<rect x="383.0" y="133.50" width="4.65" height="5.28" fill="#d2c7e4"/>
<rect x="386.8" y="133.50" width="4.65" height="5.28" fill="#c1bfc7"/>
<rect x="390.5" y="133.50" width="4.65" height="5.28" fill="#faf6f6"/>
<rect x="394.2" y="133.50" width="4.65" height="5.28" fill="#faf6f6"/>
<rect x="398.0" y="133.50" width="4.65" height="5.28" fill="#f6f1f4"/>
<rect x="401.8" y="133.50" width="3.75" height="5.28" fill="#faf6f6"/>
<rect x="406.7" y="133.50" width="4.65" height="5.28" fill="#cfc3e2"/>
<rect x="410.4" y="133.50" width="4.65" height="5.28" fill="#c7b9de"/>
<rect x="414.2" y="133.50" width="4.65" height="5.28" fill="#ded4e9"/>
<rect x="417.9" y="133.50" width="4.65" height="5.28" fill="#d9cfe7"/>
<rect x="421.7" y="133.50" width="4.65" height="5.28" fill="#d2c6e3"/>
<rect x="425.4" y="133.50" width="4.65" height="5.28" fill="#e6dfed"/>
<rect x="429.2" y="133.50" width="4.65" height="5.28" fill="#d4d2da"/>
<rect x="432.9" y="133.50" width="4.65" height="5.28" fill="#bbabd9"/>
<rect x="436.7" y="133.50" width="4.65" height="5.28" fill="#cec2e2"/>
<rect x="440.4" y="133.50" width="4.65" height="5.28" fill="#d8cde6"/>
<rect x="444.2" y="133.50" width="3.75" height="5.28" fill="#d7cce6"/>
<rect x="449.1" y="133.50" width="4.65" height="5.28" fill="#d4c9e4"/>
<rect x="452.9" y="133.50" width="4.65" height="5.28" fill="#beafdb"/>
<rect x="456.6" y="133.50" width="4.65" height="5.28" fill="#b7a6d7"/>
<rect x="460.4" y="133.50" width="4.65" height="5.28" fill="#d0c4e3"/>
<rect x="464.1" y="133.50" width="4.65" height="5.28" fill="#af9cd3"/>
<rect x="467.9" y="133.50" width="4.65" height="5.28" fill="#d2c7e4"/>
<rect x="471.6" y="133.50" width="4.65" height="5.28" fill="#bfb0db"/>
<rect x="475.4" y="133.50" width="4.65" height="5.28" fill="#cbbee0"/>
<rect x="479.1" y="133.50" width="3.75" height="5.28" fill="#cabde0"/>
<rect x="345.5" y="137.88" width="4.65" height="5.28" fill="#ccbfe1"/>
<rect x="349.2" y="137.88" width="4.65" height="5.28" fill="#d7cce6"/>
<rect x="353.0" y="137.88" width="4.65" height="5.28" fill="#e4dcec"/>
<rect x="356.8" y="137.88" width="4.65" height="5.28" fill="#e9e2ee"/>
<rect x="360.5" y="137.88" width="4.65" height="5.28" fill="#c1b3dc"/>
<rect x="364.2" y="137.88" width="4.65" height="5.28" fill="#cfc3e2"/>
<rect x="368.0" y="137.88" width="4.65" height="5.28" fill="#faf6f6"/>
<rect x="371.8" y="137.88" width="4.65" height="5.28" fill="#d1c6e3"/>
<rect x="375.5" y="137.88" width="4.65" height="5.28" fill="#f6f1f4"/>
<rect x="379.2" y="137.88" width="4.65" height="5.28" fill="#bfafdb"/>
<rect x="383.0" y="137.88" width="4.65" height="5.28" fill="#efe9f1"/>
<rect x="386.8" y="137.88" width="4.65" height="5.28" fill="#d2c6e4"/>
<rect x="390.5" y="137.88" width="4.65" height="5.28" fill="#c7b9de"/>
<rect x="394.2" y="137.88" width="4.65" height="5.28" fill="#ece6f0"/>
<rect x="398.0" y="137.88" width="4.65" height="5.28" fill="#bcacd9"/>
<rect x="401.8" y="137.88" width="3.75" height="5.28" fill="#e1d8ea"/>
<rect x="406.7" y="137.88" width="4.65" height="5.28" fill="#eae3ef"/>
<rect x="410.4" y="137.88" width="4.65" height="5.28" fill="#b09ed4"/>
<rect x="414.2" y="137.88" width="4.65" height="5.28" fill="#c7b9de"/>
<rect x="417.9" y="137.88" width="4.65" height="5.28" fill="#d7cce6"/>
<rect x="421.7" y="137.88" width="4.65" height="5.28" fill="#e4dcec"/>
<rect x="425.4" y="137.88" width="4.65" height="5.28" fill="#a995cf"/>
<rect x="429.2" y="137.88" width="4.65" height="5.28" fill="#c9bce0"/>
<rect x="432.9" y="137.88" width="4.65" height="5.28" fill="#bfb0db"/>
<rect x="436.7" y="137.88" width="4.65" height="5.28" fill="#cfc3e2"/>
<rect x="440.4" y="137.88" width="4.65" height="5.28" fill="#e5ddec"/>
<rect x="444.2" y="137.88" width="3.75" height="5.28" fill="#c2b4dc"/>
<rect x="449.1" y="137.88" width="4.65" height="5.28" fill="#d5cae5"/>
<rect x="452.9" y="137.88" width="4.65" height="5.28" fill="#dad0e7"/>
<rect x="456.6" y="137.88" width="4.65" height="5.28" fill="#a18cc9"/>
<rect x="460.4" y="137.88" width="4.65" height="5.28" fill="#dcd2e8"/>
<rect x="464.1" y="137.88" width="4.65" height="5.28" fill="#d6cbe5"/>
<rect x="467.9" y="137.88" width="4.65" height="5.28" fill="#c1b2dc"/>
<rect x="471.6" y="137.88" width="4.65" height="5.28" fill="#bcacd9"/>
<rect x="475.4" y="137.88" width="4.65" height="5.28" fill="#cabde0"/>
<rect x="479.1" y="137.88" width="3.75" height="5.28" fill="#c3b5dd"/>
<rect x="345.5" y="142.26" width="4.65" height="5.28" fill="#d9cfe7"/>
<rect x="349.2" y="142.26" width="4.65" height="5.28" fill="#e2daeb"/>
<rect x="353.0" y="142.26" width="4.65" height="5.28" fill="#e1d8ea"/>
<rect x="356.8" y="142.26" width="4.65" height="5.28" fill="#d4c9e5"/>
<rect x="360.5" y="142.26" width="4.65" height="5.28" fill="#baaad9"/>
<rect x="364.2" y="142.26" width="4.65" height="5.28" fill="#c0b1db"/>
<rect x="368.0" y="142.26" width="4.65" height="5.28" fill="#ae9cd3"/>
<rect x="371.8" y="142.26" width="4.65" height="5.28" fill="#c0b1db"/>
<rect x="375.5" y="142.26" width="4.65" height="5.28" fill="#ccc0e1"/>
<rect x="379.2" y="142.26" width="4.65" height="5.28" fill="#d4c9e5"/>
<rect x="383.0" y="142.26" width="4.65" height="5.28" fill="#c3b5dd"/>
<rect x="386.8" y="142.26" width="4.65" height="5.28" fill="#c8badf"/>
<rect x="390.5" y="142.26" width="4.65" height="5.28" fill="#efe9f1"/>
<rect x="394.2" y="142.26" width="4.65" height="5.28" fill="#cbbee0"/>
<rect x="398.0" y="142.26" width="4.65" height="5.28" fill="#c3b4dd"/>
<rect x="401.8" y="142.26" width="3.75" height="5.28" fill="#b4a2d6"/>
<rect x="406.7" y="142.26" width="4.65" height="5.28" fill="#bfb0db"/>
<rect x="410.4" y="142.26" width="4.65" height="5.28" fill="#d0c4e3"/>
<rect x="414.2" y="142.26" width="4.65" height="5.28" fill="#b5a4d6"/>
<rect x="417.9" y="142.26" width="4.65" height="5.28" fill="#c8badf"/>
<rect x="421.7" y="142.26" width="4.65" height="5.28" fill="#b3a2d5"/>
<rect x="425.4" y="142.26" width="4.65" height="5.28" fill="#cbbee0"/>
<rect x="429.2" y="142.26" width="4.65" height="5.28" fill="#bdadda"/>
<rect x="432.9" y="142.26" width="4.65" height="5.28" fill="#bcacda"/>
<rect x="436.7" y="142.26" width="4.65" height="5.28" fill="#b7a7d7"/>
<rect x="440.4" y="142.26" width="4.65" height="5.28" fill="#bdadda"/>
<rect x="444.2" y="142.26" width="3.75" height="5.28" fill="#d1c5e3"/>
<rect x="449.1" y="142.26" width="4.65" height="5.28" fill="#b5a4d6"/>
<rect x="452.9" y="142.26" width="4.65" height="5.28" fill="#ad9bd2"/>
<rect x="456.6" y="142.26" width="4.65" height="5.28" fill="#b2a0d5"/>
<rect x="460.4" y="142.26" width="4.65" height="5.28" fill="#b2a1d5"/>
<rect x="464.1" y="142.26" width="4.65" height="5.28" fill="#9d88c6"/>
<rect x="467.9" y="142.26" width="4.65" height="5.28" fill="#c9bce0"/>
<rect x="471.6" y="142.26" width="4.65" height="5.28" fill="#ae9bd2"/>
<rect x="475.4" y="142.26" width="4.65" height="5.28" fill="#b6a5d7"/>
<rect x="479.1" y="142.26" width="3.75" height="5.28" fill="#cec1e2"/>
<rect x="345.5" y="146.64" width="4.65" height="5.28" fill="#c6b9de"/>
<rect x="349.2" y="146.64" width="4.65" height="5.28" fill="#b7a6d7"/>
<rect x="353.0" y="146.64" width="4.65" height="5.28" fill="#d5cae5"/>
<rect x="356.8" y="146.64" width="4.65" height="5.28" fill="#ccc0e1"/>
<rect x="360.5" y="146.64" width="4.65" height="5.28" fill="#cec1e2"/>
<rect x="364.2" y="146.64" width="4.65" height="5.28" fill="#c1b2dc"/>
<rect x="368.0" y="146.64" width="4.65" height="5.28" fill="#c2b4dc"/>
<rect x="371.8" y="146.64" width="4.65" height="5.28" fill="#bcadda"/>
<rect x="375.5" y="146.64" width="4.65" height="5.28" fill="#dbd2e8"/>
<rect x="379.2" y="146.64" width="4.65" height="5.28" fill="#b19fd4"/>
<rect x="383.0" y="146.64" width="4.65" height="5.28" fill="#cabde0"/>
<rect x="386.8" y="146.64" width="4.65" height="5.28" fill="#c9bce0"/>
<rect x="390.5" y="146.64" width="4.65" height="5.28" fill="#8d75bb"/>
<rect x="394.2" y="146.64" width="4.65" height="5.28" fill="#bdaeda"/>
<rect x="398.0" y="146.64" width="4.65" height="5.28" fill="#d6cbe5"/>
<rect x="401.8" y="146.64" width="3.75" height="5.28" fill="#c4b6dd"/>
<rect x="406.7" y="146.64" width="4.65" height="5.28" fill="#8c74ba"/>
<rect x="410.4" y="146.64" width="4.65" height="5.28" fill="#a38eca"/>
<rect x="414.2" y="146.64" width="4.65" height="5.28" fill="#beaeda"/>
<rect x="417.9" y="146.64" width="4.65" height="5.28" fill="#b2a1d5"/>
<rect x="421.7" y="146.64" width="4.65" height="5.28" fill="#a18cc9"/>
<rect x="425.4" y="146.64" width="4.65" height="5.28" fill="#937cbf"/>
<rect x="429.2" y="146.64" width="4.65" height="5.28" fill="#b2a0d5"/>
<rect x="432.9" y="146.64" width="4.65" height="5.28" fill="#b7a6d7"/>
<rect x="436.7" y="146.64" width="4.65" height="5.28" fill="#a38fcb"/>
<rect x="440.4" y="146.64" width="4.65" height="5.28" fill="#a995cf"/>
<rect x="444.2" y="146.64" width="3.75" height="5.28" fill="#a38fcb"/>
<rect x="449.1" y="146.64" width="4.65" height="5.28" fill="#b6a6d7"/>
<rect x="452.9" y="146.64" width="4.65" height="5.28" fill="#bbabd9"/>
<rect x="456.6" y="146.64" width="4.65" height="5.28" fill="#9a84c4"/>
<rect x="460.4" y="146.64" width="4.65" height="5.28" fill="#947dc0"/>
<rect x="464.1" y="146.64" width="4.65" height="5.28" fill="#b5a4d6"/>
<rect x="467.9" y="146.64" width="4.65" height="5.28" fill="#a894ce"/>
<rect x="471.6" y="146.64" width="4.65" height="5.28" fill="#947ec0"/>
<rect x="475.4" y="146.64" width="4.65" height="5.28" fill="#a794ce"/>
<rect x="479.1" y="146.64" width="3.75" height="5.28" fill="#a996cf"/>
<rect x="345.5" y="151.02" width="4.65" height="4.38" fill="#bdadda"/>
<rect x="349.2" y="151.02" width="4.65" height="4.38" fill="#bfb0db"/>
<rect x="353.0" y="151.02" width="4.65" height="4.38" fill="#cbbee0"/>
<rect x="356.8" y="151.02" width="4.65" height="4.38" fill="#bbabd9"/>
<rect x="360.5" y="151.02" width="4.65" height="4.38" fill="#b09ed4"/>
<rect x="364.2" y="151.02" width="4.65" height="4.38" fill="#ac99d1"/>
<rect x="368.0" y="151.02" width="4.65" height="4.38" fill="#c8bbdf"/>
<rect x="371.8" y="151.02" width="4.65" height="4.38" fill="#aa97d0"/>
<rect x="375.5" y="151.02" width="4.65" height="4.38" fill="#c0b2dc"/>
<rect x="379.2" y="151.02" width="4.65" height="4.38" fill="#d8cde6"/>
<rect x="383.0" y="151.02" width="4.65" height="4.38" fill="#beaeda"/>
<rect x="386.8" y="151.02" width="4.65" height="4.38" fill="#aa97d0"/>
<rect x="390.5" y="151.02" width="4.65" height="4.38" fill="#bbabd9"/>
<rect x="394.2" y="151.02" width="4.65" height="4.38" fill="#b09ed4"/>
<rect x="398.0" y="151.02" width="4.65" height="4.38" fill="#ac99d1"/>
<rect x="401.8" y="151.02" width="3.75" height="4.38" fill="#c3b4dd"/>
<rect x="406.7" y="151.02" width="4.65" height="4.38" fill="#b3a2d5"/>
<rect x="410.4" y="151.02" width="4.65" height="4.38" fill="#9f8ac8"/>
<rect x="414.2" y="151.02" width="4.65" height="4.38" fill="#9983c4"/>
<rect x="417.9" y="151.02" width="4.65" height="4.38" fill="#ad9ad2"/>
<rect x="421.7" y="151.02" width="4.65" height="4.38" fill="#a996cf"/>
<rect x="425.4" y="151.02" width="4.65" height="4.38" fill="#9881c3"/>
<rect x="429.2" y="151.02" width="4.65" height="4.38" fill="#ae9cd3"/>
<rect x="432.9" y="151.02" width="4.65" height="4.38" fill="#947dc0"/>
<rect x="436.7" y="151.02" width="4.65" height="4.38" fill="#7b60ae"/>
<rect x="440.4" y="151.02" width="4.65" height="4.38" fill="#9680c2"/>
<rect x="444.2" y="151.02" width="3.75" height="4.38" fill="#a18cc9"/>
<rect x="449.1" y="151.02" width="4.65" height="4.38" fill="#b9a9d8"/>
<rect x="452.9" y="151.02" width="4.65" height="4.38" fill="#927abe"/>
<rect x="456.6" y="151.02" width="4.65" height="4.38" fill="#8f77bc"/>
<rect x="460.4" y="151.02" width="4.65" height="4.38" fill="#8a72b9"/>
<rect x="464.1" y="151.02" width="4.65" height="4.38" fill="#b3a1d5"/>
<rect x="467.9" y="151.02" width="4.65" height="4.38" fill="#9f8ac8"/>
<rect x="471.6" y="151.02" width="4.65" height="4.38" fill="#af9cd3"/>
<rect x="475.4" y="151.02" width="4.65" height="4.38" fill="#bbabd9"/>
<rect x="479.1" y="151.02" width="3.75" height="4.38" fill="#a591cc"/>
<rect x="353.9" y="232.00" width="34.10" height="5.30" fill="#e96c3c"/>
<rect x="389.5" y="232.00" width="33.99" height="5.30" fill="#1c1a6e"/>
<rect x="423.5" y="232.00" width="3.09" height="5.30" fill="#e96c3c"/>
<rect x="426.6" y="232.00" width="6.18" height="5.30" fill="#1c1a6e"/>
<rect x="432.8" y="232.00" width="3.09" height="5.30" fill="#e96c3c"/>
<rect x="435.8" y="232.00" width="30.90" height="5.30" fill="#1c1a6e"/>
<rect x="353.9" y="239.00" width="4.00" height="2.93" fill="#f3a084"/>
<rect x="357.0" y="239.00" width="4.00" height="2.93" fill="#f18c6c"/>
<rect x="360.1" y="239.00" width="4.00" height="2.93" fill="#f3a388"/>
<rect x="363.2" y="239.00" width="4.00" height="2.93" fill="#f4ad96"/>
<rect x="366.3" y="239.00" width="4.00" height="2.93" fill="#f5b8a4"/>
<rect x="369.4" y="239.00" width="4.00" height="2.93" fill="#ef8969"/>
<rect x="372.5" y="239.00" width="4.00" height="2.93" fill="#f39a7d"/>
<rect x="375.6" y="239.00" width="4.00" height="2.93" fill="#f3a48a"/>
<rect x="378.7" y="239.00" width="4.00" height="2.93" fill="#f4ab93"/>
<rect x="381.8" y="239.00" width="4.00" height="2.93" fill="#f7ccbe"/>
<rect x="384.9" y="239.00" width="3.10" height="2.93" fill="#f29474"/>
<rect x="389.5" y="239.00" width="3.99" height="2.93" fill="#f4aa92"/>
<rect x="392.6" y="239.00" width="3.99" height="2.93" fill="#f29778"/>
<rect x="395.7" y="239.00" width="3.99" height="2.93" fill="#ec7a5a"/>
<rect x="398.8" y="239.00" width="3.99" height="2.93" fill="#f39d81"/>
<rect x="401.9" y="239.00" width="3.99" height="2.93" fill="#f3987b"/>
<rect x="405.0" y="239.00" width="3.99" height="2.93" fill="#ee8464"/>
<rect x="408.0" y="239.00" width="3.99" height="2.93" fill="#f39a7c"/>
<rect x="411.1" y="239.00" width="3.99" height="2.93" fill="#f29272"/>
<rect x="414.2" y="239.00" width="3.99" height="2.93" fill="#f4ae98"/>
<rect x="417.3" y="239.00" width="3.99" height="2.93" fill="#f4a990"/>
<rect x="420.4" y="239.00" width="3.99" height="2.93" fill="#f5b9a5"/>
<rect x="423.5" y="239.00" width="3.99" height="2.93" fill="#ee8363"/>
<rect x="426.6" y="239.00" width="3.99" height="2.93" fill="#ed7e5e"/>
<rect x="429.7" y="239.00" width="3.99" height="2.93" fill="#f39f83"/>
<rect x="432.8" y="239.00" width="3.99" height="2.93" fill="#f29779"/>
<rect x="435.8" y="239.00" width="3.99" height="2.93" fill="#f39c80"/>
<rect x="438.9" y="239.00" width="3.99" height="2.93" fill="#e56343"/>
<rect x="442.0" y="239.00" width="3.99" height="2.93" fill="#ed8161"/>
<rect x="445.1" y="239.00" width="3.99" height="2.93" fill="#f29677"/>
<rect x="448.2" y="239.00" width="3.99" height="2.93" fill="#ef8666"/>
<rect x="451.3" y="239.00" width="3.99" height="2.93" fill="#ec7a5a"/>
<rect x="454.4" y="239.00" width="3.99" height="2.93" fill="#f4a990"/>
<rect x="457.5" y="239.00" width="3.99" height="2.93" fill="#ef8767"/>
<rect x="460.6" y="239.00" width="3.99" height="2.93" fill="#ef8767"/>
<rect x="463.7" y="239.00" width="3.09" height="2.93" fill="#f29272"/>
<rect x="353.9" y="241.03" width="4.00" height="2.93" fill="#e66444"/>
<rect x="357.0" y="241.03" width="4.00" height="2.93" fill="#eb7959"/>
<rect x="360.1" y="241.03" width="4.00" height="2.93" fill="#ed8060"/>
<rect x="363.2" y="241.03" width="4.00" height="2.93" fill="#e76949"/>
<rect x="366.3" y="241.03" width="4.00" height="2.93" fill="#eb7656"/>
<rect x="369.4" y="241.03" width="4.00" height="2.93" fill="#e97252"/>
<rect x="372.5" y="241.03" width="4.00" height="2.93" fill="#e25636"/>
<rect x="375.6" y="241.03" width="4.00" height="2.93" fill="#e97252"/>
<rect x="378.7" y="241.03" width="4.00" height="2.93" fill="#ec7a5a"/>
<rect x="381.8" y="241.03" width="4.00" height="2.93" fill="#f29171"/>
<rect x="384.9" y="241.03" width="3.10" height="2.93" fill="#ea7353"/>
<rect x="389.5" y="241.03" width="3.99" height="2.93" fill="#ea7353"/>
<rect x="392.6" y="241.03" width="3.99" height="2.93" fill="#e86e4e"/>
<rect x="395.7" y="241.03" width="3.99" height="2.93" fill="#e96f4f"/>
<rect x="398.8" y="241.03" width="3.99" height="2.93" fill="#e86c4c"/>
<rect x="401.9" y="241.03" width="3.99" height="2.93" fill="#ea7555"/>
<rect x="405.0" y="241.03" width="3.99" height="2.93" fill="#eb7656"/>
<rect x="408.0" y="241.03" width="3.99" height="2.93" fill="#e86f4f"/>
<rect x="411.1" y="241.03" width="3.99" height="2.93" fill="#ef8565"/>
<rect x="414.2" y="241.03" width="3.99" height="2.93" fill="#f08a6a"/>
<rect x="417.3" y="241.03" width="3.99" height="2.93" fill="#f08b6b"/>
<rect x="420.4" y="241.03" width="3.99" height="2.93" fill="#eb7757"/>
<rect x="423.5" y="241.03" width="3.99" height="2.93" fill="#f39a7c"/>
<rect x="426.6" y="241.03" width="3.99" height="2.93" fill="#ee8161"/>
<rect x="429.7" y="241.03" width="3.99" height="2.93" fill="#ec7c5c"/>
<rect x="432.8" y="241.03" width="3.99" height="2.93" fill="#ea7353"/>
<rect x="435.8" y="241.03" width="3.99" height="2.93" fill="#f08b6b"/>
<rect x="438.9" y="241.03" width="3.99" height="2.93" fill="#eb7858"/>
<rect x="442.0" y="241.03" width="3.99" height="2.93" fill="#eb7858"/>
<rect x="445.1" y="241.03" width="3.99" height="2.93" fill="#ee8262"/>
<rect x="448.2" y="241.03" width="3.99" height="2.93" fill="#eb7858"/>
<rect x="451.3" y="241.03" width="3.99" height="2.93" fill="#ec7c5c"/>
<rect x="454.4" y="241.03" width="3.99" height="2.93" fill="#f18d6d"/>
<rect x="457.5" y="241.03" width="3.99" height="2.93" fill="#ed7f5f"/>
<rect x="460.6" y="241.03" width="3.99" height="2.93" fill="#f08969"/>
<rect x="463.7" y="241.03" width="3.09" height="2.93" fill="#e25737"/>
<rect x="353.9" y="243.05" width="4.00" height="2.93" fill="#f29474"/>
<rect x="357.0" y="243.05" width="4.00" height="2.93" fill="#f4a68c"/>
<rect x="360.1" y="243.05" width="4.00" height="2.93" fill="#ef8868"/>
<rect x="363.2" y="243.05" width="4.00" height="2.93" fill="#ee8262"/>
<rect x="366.3" y="243.05" width="4.00" height="2.93" fill="#ef8868"/>
<rect x="369.4" y="243.05" width="4.00" height="2.93" fill="#f3a48a"/>
<rect x="372.5" y="243.05" width="4.00" height="2.93" fill="#f39d80"/>
<rect x="375.6" y="243.05" width="4.00" height="2.93" fill="#f39e81"/>
<rect x="378.7" y="243.05" width="4.00" height="2.93" fill="#ee8565"/>
<rect x="381.8" y="243.05" width="4.00" height="2.93" fill="#f3987a"/>
<rect x="384.9" y="243.05" width="3.10" height="2.93" fill="#f08a6a"/>
<rect x="389.5" y="243.05" width="3.99" height="2.93" fill="#e76848"/>
<rect x="392.6" y="243.05" width="3.99" height="2.93" fill="#f4af98"/>
<rect x="395.7" y="243.05" width="3.99" height="2.93" fill="#f18d6d"/>
<rect x="398.8" y="243.05" width="3.99" height="2.93" fill="#f08969"/>
<rect x="401.9" y="243.05" width="3.99" height="2.93" fill="#f4a78e"/>
<rect x="405.0" y="243.05" width="3.99" height="2.93" fill="#ea7656"/>
<rect x="408.0" y="243.05" width="3.99" height="2.93" fill="#f18d6d"/>
<rect x="411.1" y="243.05" width="3.99" height="2.93" fill="#ee8262"/>
<rect x="414.2" y="243.05" width="3.99" height="2.93" fill="#ed7e5e"/>
<rect x="417.3" y="243.05" width="3.99" height="2.93" fill="#e96f4f"/>
<rect x="420.4" y="243.05" width="3.99" height="2.93" fill="#f29475"/>
<rect x="423.5" y="243.05" width="3.99" height="2.93" fill="#f29474"/>
<rect x="426.6" y="243.05" width="3.99" height="2.93" fill="#f3a287"/>
<rect x="429.7" y="243.05" width="3.99" height="2.93" fill="#f3a186"/>
<rect x="432.8" y="243.05" width="3.99" height="2.93" fill="#e76848"/>
<rect x="435.8" y="243.05" width="3.99" height="2.93" fill="#f29070"/>
<rect x="438.9" y="243.05" width="3.99" height="2.93" fill="#f4ac94"/>
<rect x="442.0" y="243.05" width="3.99" height="2.93" fill="#ec7c5c"/>
<rect x="445.1" y="243.05" width="3.99" height="2.93" fill="#e76949"/>
<rect x="448.2" y="243.05" width="3.99" height="2.93" fill="#f39b7e"/>
<rect x="451.3" y="243.05" width="3.99" height="2.93" fill="#f08969"/>
<rect x="454.4" y="243.05" width="3.99" height="2.93" fill="#f3a58a"/>
<rect x="457.5" y="243.05" width="3.99" height="2.93" fill="#f5b29c"/>
<rect x="460.6" y="243.05" width="3.99" height="2.93" fill="#f08c6c"/>
<rect x="463.7" y="243.05" width="3.09" height="2.93" fill="#f3a085"/>
<rect x="353.9" y="245.08" width="4.00" height="2.93" fill="#f3987b"/>
<rect x="357.0" y="245.08" width="4.00" height="2.93" fill="#f29171"/>
<rect x="360.1" y="245.08" width="4.00" height="2.93" fill="#f39e81"/>
<rect x="363.2" y="245.08" width="4.00" height="2.93" fill="#ed8161"/>
<rect x="366.3" y="245.08" width="4.00" height="2.93" fill="#f4a78e"/>
<rect x="369.4" y="245.08" width="4.00" height="2.93" fill="#f3a085"/>
<rect x="372.5" y="245.08" width="4.00" height="2.93" fill="#ef8868"/>
<rect x="375.6" y="245.08" width="4.00" height="2.93" fill="#e96f4f"/>
<rect x="378.7" y="245.08" width="4.00" height="2.93" fill="#ea7353"/>
<rect x="381.8" y="245.08" width="4.00" height="2.93" fill="#ef8767"/>
<rect x="384.9" y="245.08" width="3.10" height="2.93" fill="#f29677"/>
<rect x="389.5" y="245.08" width="3.99" height="2.93" fill="#f5b6a2"/>
<rect x="392.6" y="245.08" width="3.99" height="2.93" fill="#ec7d5d"/>
<rect x="395.7" y="245.08" width="3.99" height="2.93" fill="#f39b7e"/>
<rect x="398.8" y="245.08" width="3.99" height="2.93" fill="#e86e4e"/>
<rect x="401.9" y="245.08" width="3.99" height="2.93" fill="#f29879"/>
<rect x="405.0" y="245.08" width="3.99" height="2.93" fill="#f6c4b4"/>
<rect x="408.0" y="245.08" width="3.99" height="2.93" fill="#ee8464"/>
<rect x="411.1" y="245.08" width="3.99" height="2.93" fill="#f29576"/>
<rect x="414.2" y="245.08" width="3.99" height="2.93" fill="#f4a58b"/>
<rect x="417.3" y="245.08" width="3.99" height="2.93" fill="#f29577"/>
<rect x="420.4" y="245.08" width="3.99" height="2.93" fill="#f3997b"/>
<rect x="423.5" y="245.08" width="3.99" height="2.93" fill="#f29272"/>
<rect x="426.6" y="245.08" width="3.99" height="2.93" fill="#f6c0af"/>
<rect x="429.7" y="245.08" width="3.99" height="2.93" fill="#f3987a"/>
<rect x="432.8" y="245.08" width="3.99" height="2.93" fill="#f19070"/>
<rect x="435.8" y="245.08" width="3.99" height="2.93" fill="#f5b49f"/>
<rect x="438.9" y="245.08" width="3.99" height="2.93" fill="#ed8060"/>
<rect x="442.0" y="245.08" width="3.99" height="2.93" fill="#f39c80"/>
<rect x="445.1" y="245.08" width="3.99" height="2.93" fill="#f6c6b7"/>
<rect x="448.2" y="245.08" width="3.99" height="2.93" fill="#ec7b5b"/>
<rect x="451.3" y="245.08" width="3.99" height="2.93" fill="#f3a186"/>
<rect x="454.4" y="245.08" width="3.99" height="2.93" fill="#f2987a"/>
<rect x="457.5" y="245.08" width="3.99" height="2.93" fill="#f39d81"/>
<rect x="460.6" y="245.08" width="3.99" height="2.93" fill="#ea7555"/>
<rect x="463.7" y="245.08" width="3.09" height="2.93" fill="#f2987a"/>
<rect x="353.9" y="247.10" width="4.00" height="2.93" fill="#eb7757"/>
<rect x="357.0" y="247.10" width="4.00" height="2.93" fill="#e56141"/>
<rect x="360.1" y="247.10" width="4.00" height="2.93" fill="#e56040"/>
<rect x="363.2" y="247.10" width="4.00" height="2.93" fill="#eb7757"/>
<rect x="366.3" y="247.10" width="4.00" height="2.93" fill="#e35a3a"/>
<rect x="369.4" y="247.10" width="4.00" height="2.93" fill="#eb7757"/>
<rect x="372.5" y="247.10" width="4.00" height="2.93" fill="#e76848"/>
<rect x="375.6" y="247.10" width="4.00" height="2.93" fill="#e56141"/>
<rect x="378.7" y="247.10" width="4.00" height="2.93" fill="#e66646"/>
<rect x="381.8" y="247.10" width="4.00" height="2.93" fill="#e66646"/>
<rect x="384.9" y="247.10" width="3.10" height="2.93" fill="#e66646"/>
<rect x="389.5" y="247.10" width="3.99" height="2.93" fill="#f39f84"/>
<rect x="392.6" y="247.10" width="3.99" height="2.93" fill="#f19070"/>
<rect x="395.7" y="247.10" width="3.99" height="2.93" fill="#f18e6e"/>
<rect x="398.8" y="247.10" width="3.99" height="2.93" fill="#f4b099"/>
<rect x="401.9" y="247.10" width="3.99" height="2.93" fill="#f5b49f"/>
<rect x="405.0" y="247.10" width="3.99" height="2.93" fill="#f18e6e"/>
<rect x="408.0" y="247.10" width="3.99" height="2.93" fill="#f29576"/>
<rect x="411.1" y="247.10" width="3.99" height="2.93" fill="#f29171"/>
<rect x="414.2" y="247.10" width="3.99" height="2.93" fill="#ef8666"/>
<rect x="417.3" y="247.10" width="3.99" height="2.93" fill="#f18d6d"/>
<rect x="420.4" y="247.10" width="3.99" height="2.93" fill="#f3a085"/>
<rect x="423.5" y="247.10" width="3.99" height="2.93" fill="#f08a6a"/>
<rect x="426.6" y="247.10" width="3.99" height="2.93" fill="#f3a48a"/>
<rect x="429.7" y="247.10" width="3.99" height="2.93" fill="#ea7555"/>
<rect x="432.8" y="247.10" width="3.99" height="2.93" fill="#ed8161"/>
<rect x="435.8" y="247.10" width="3.99" height="2.93" fill="#f29475"/>
<rect x="438.9" y="247.10" width="3.99" height="2.93" fill="#f3a388"/>
<rect x="442.0" y="247.10" width="3.99" height="2.93" fill="#f08b6b"/>
<rect x="445.1" y="247.10" width="3.99" height="2.93" fill="#f2987a"/>
<rect x="448.2" y="247.10" width="3.99" height="2.93" fill="#f4a58b"/>
<rect x="451.3" y="247.10" width="3.99" height="2.93" fill="#f08b6b"/>
<rect x="454.4" y="247.10" width="3.99" height="2.93" fill="#f29272"/>
<rect x="457.5" y="247.10" width="3.99" height="2.93" fill="#ee8464"/>
<rect x="460.6" y="247.10" width="3.99" height="2.93" fill="#f2987a"/>
<rect x="463.7" y="247.10" width="3.09" height="2.93" fill="#e97151"/>
<rect x="353.9" y="249.13" width="4.00" height="2.93" fill="#f29475"/>
<rect x="357.0" y="249.13" width="4.00" height="2.93" fill="#f39e82"/>
<rect x="360.1" y="249.13" width="4.00" height="2.93" fill="#ef8868"/>
<rect x="363.2" y="249.13" width="4.00" height="2.93" fill="#e35b3b"/>
<rect x="366.3" y="249.13" width="4.00" height="2.93" fill="#e86b4b"/>
<rect x="369.4" y="249.13" width="4.00" height="2.93" fill="#ea7555"/>
<rect x="372.5" y="249.13" width="4.00" height="2.93" fill="#e97252"/>
<rect x="375.6" y="249.13" width="4.00" height="2.93" fill="#f18d6d"/>
<rect x="378.7" y="249.13" width="4.00" height="2.93" fill="#ea7454"/>
<rect x="381.8" y="249.13" width="4.00" height="2.93" fill="#f08969"/>
<rect x="384.9" y="249.13" width="3.10" height="2.93" fill="#ea7353"/>
<rect x="389.5" y="249.13" width="3.99" height="2.93" fill="#ec7d5d"/>
<rect x="392.6" y="249.13" width="3.99" height="2.93" fill="#ed8060"/>
<rect x="395.7" y="249.13" width="3.99" height="2.93" fill="#ed8060"/>
<rect x="398.8" y="249.13" width="3.99" height="2.93" fill="#e86c4c"/>
<rect x="401.9" y="249.13" width="3.99" height="2.93" fill="#e25535"/>
<rect x="405.0" y="249.13" width="3.99" height="2.93" fill="#f29778"/>
<rect x="408.0" y="249.13" width="3.99" height="2.93" fill="#e76a4a"/>
<rect x="411.1" y="249.13" width="3.99" height="2.93" fill="#ed7e5e"/>
<rect x="414.2" y="249.13" width="3.99" height="2.93" fill="#e35b3b"/>
<rect x="417.3" y="249.13" width="3.99" height="2.93" fill="#e56343"/>
<rect x="420.4" y="249.13" width="3.99" height="2.93" fill="#ef8666"/>
<rect x="423.5" y="249.13" width="3.99" height="2.93" fill="#ea7555"/>
<rect x="426.6" y="249.13" width="3.99" height="2.93" fill="#e45d3d"/>
<rect x="429.7" y="249.13" width="3.99" height="2.93" fill="#e35939"/>
<rect x="432.8" y="249.13" width="3.99" height="2.93" fill="#ee8262"/>
<rect x="435.8" y="249.13" width="3.99" height="2.93" fill="#f08969"/>
<rect x="438.9" y="249.13" width="3.99" height="2.93" fill="#e97252"/>
<rect x="442.0" y="249.13" width="3.99" height="2.93" fill="#e45f3f"/>
<rect x="445.1" y="249.13" width="3.99" height="2.93" fill="#e66646"/>
<rect x="448.2" y="249.13" width="3.99" height="2.93" fill="#e97151"/>
<rect x="451.3" y="249.13" width="3.99" height="2.93" fill="#e86d4d"/>
<rect x="454.4" y="249.13" width="3.99" height="2.93" fill="#e86d4d"/>
<rect x="457.5" y="249.13" width="3.99" height="2.93" fill="#ea7656"/>
<rect x="460.6" y="249.13" width="3.99" height="2.93" fill="#ef8767"/>
<rect x="463.7" y="249.13" width="3.09" height="2.93" fill="#e76a4a"/>
<rect x="353.9" y="251.16" width="4.00" height="2.93" fill="#ee8363"/>
<rect x="357.0" y="251.16" width="4.00" height="2.93" fill="#f29475"/>
<rect x="360.1" y="251.16" width="4.00" height="2.93" fill="#f39f83"/>
<rect x="363.2" y="251.16" width="4.00" height="2.93" fill="#ef8666"/>
<rect x="366.3" y="251.16" width="4.00" height="2.93" fill="#ee8464"/>
<rect x="369.4" y="251.16" width="4.00" height="2.93" fill="#ea7353"/>
<rect x="372.5" y="251.16" width="4.00" height="2.93" fill="#f4b19a"/>
<rect x="375.6" y="251.16" width="4.00" height="2.93" fill="#f39e81"/>
<rect x="378.7" y="251.16" width="4.00" height="2.93" fill="#f3997b"/>
<rect x="381.8" y="251.16" width="4.00" height="2.93" fill="#e86d4d"/>
<rect x="384.9" y="251.16" width="3.10" height="2.93" fill="#f6c6b7"/>
<rect x="389.5" y="251.16" width="3.99" height="2.93" fill="#ee8262"/>
<rect x="392.6" y="251.16" width="3.99" height="2.93" fill="#f4a58b"/>
<rect x="395.7" y="251.16" width="3.99" height="2.93" fill="#f4aa92"/>
<rect x="398.8" y="251.16" width="3.99" height="2.93" fill="#ee8464"/>
<rect x="401.9" y="251.16" width="3.99" height="2.93" fill="#ef8666"/>
<rect x="405.0" y="251.16" width="3.99" height="2.93" fill="#f8d9d0"/>
<rect x="408.0" y="251.16" width="3.99" height="2.93" fill="#f4af98"/>
<rect x="411.1" y="251.16" width="3.99" height="2.93" fill="#f29474"/>
<rect x="414.2" y="251.16" width="3.99" height="2.93" fill="#f39f83"/>
<rect x="417.3" y="251.16" width="3.99" height="2.93" fill="#ed7f5f"/>
<rect x="420.4" y="251.16" width="3.99" height="2.93" fill="#f4a68c"/>
<rect x="423.5" y="251.16" width="3.99" height="2.93" fill="#f39a7c"/>
<rect x="426.6" y="251.16" width="3.99" height="2.93" fill="#f6c4b4"/>
<rect x="429.7" y="251.16" width="3.99" height="2.93" fill="#f08a6a"/>
<rect x="432.8" y="251.16" width="3.99" height="2.93" fill="#f29374"/>
<rect x="435.8" y="251.16" width="3.99" height="2.93" fill="#ef8767"/>
<rect x="438.9" y="251.16" width="3.99" height="2.93" fill="#f3a389"/>
<rect x="442.0" y="251.16" width="3.99" height="2.93" fill="#ea7353"/>
<rect x="445.1" y="251.16" width="3.99" height="2.93" fill="#f3a288"/>
<rect x="448.2" y="251.16" width="3.99" height="2.93" fill="#ea7454"/>
<rect x="451.3" y="251.16" width="3.99" height="2.93" fill="#ea7353"/>
<rect x="454.4" y="251.16" width="3.99" height="2.93" fill="#f4a88f"/>
<rect x="457.5" y="251.16" width="3.99" height="2.93" fill="#f29070"/>
<rect x="460.6" y="251.16" width="3.99" height="2.93" fill="#f3a288"/>
<rect x="463.7" y="251.16" width="3.09" height="2.93" fill="#f5bca9"/>
<rect x="353.9" y="253.18" width="4.00" height="2.93" fill="#f39b7e"/>
<rect x="357.0" y="253.18" width="4.00" height="2.93" fill="#ee8161"/>
<rect x="360.1" y="253.18" width="4.00" height="2.93" fill="#ec7d5d"/>
<rect x="363.2" y="253.18" width="4.00" height="2.93" fill="#f6c1b0"/>
<rect x="366.3" y="253.18" width="4.00" height="2.93" fill="#f3a287"/>
<rect x="369.4" y="253.18" width="4.00" height="2.93" fill="#f29373"/>
<rect x="372.5" y="253.18" width="4.00" height="2.93" fill="#f08a6a"/>
<rect x="375.6" y="253.18" width="4.00" height="2.93" fill="#f2987a"/>
<rect x="378.7" y="253.18" width="4.00" height="2.93" fill="#f4ad95"/>
<rect x="381.8" y="253.18" width="4.00" height="2.93" fill="#f3a186"/>
<rect x="384.9" y="253.18" width="3.10" height="2.93" fill="#f18e6e"/>
<rect x="389.5" y="253.18" width="3.99" height="2.93" fill="#f5b8a4"/>
<rect x="392.6" y="253.18" width="3.99" height="2.93" fill="#f5b9a6"/>
<rect x="395.7" y="253.18" width="3.99" height="2.93" fill="#f5b8a4"/>
<rect x="398.8" y="253.18" width="3.99" height="2.93" fill="#f4ab93"/>
<rect x="401.9" y="253.18" width="3.99" height="2.93" fill="#ee8363"/>
<rect x="405.0" y="253.18" width="3.99" height="2.93" fill="#f4a68d"/>
<rect x="408.0" y="253.18" width="3.99" height="2.93" fill="#f18e6e"/>
<rect x="411.1" y="253.18" width="3.99" height="2.93" fill="#ee8262"/>
<rect x="414.2" y="253.18" width="3.99" height="2.93" fill="#ee8565"/>
<rect x="417.3" y="253.18" width="3.99" height="2.93" fill="#f29779"/>
<rect x="420.4" y="253.18" width="3.99" height="2.93" fill="#f39f83"/>
<rect x="423.5" y="253.18" width="3.99" height="2.93" fill="#f39d81"/>
<rect x="426.6" y="253.18" width="3.99" height="2.93" fill="#f3a389"/>
<rect x="429.7" y="253.18" width="3.99" height="2.93" fill="#f4ac95"/>
<rect x="432.8" y="253.18" width="3.99" height="2.93" fill="#f29272"/>
<rect x="435.8" y="253.18" width="3.99" height="2.93" fill="#f08a6a"/>
<rect x="438.9" y="253.18" width="3.99" height="2.93" fill="#f4a990"/>
<rect x="442.0" y="253.18" width="3.99" height="2.93" fill="#f4b09a"/>
<rect x="445.1" y="253.18" width="3.99" height="2.93" fill="#f39d80"/>
<rect x="448.2" y="253.18" width="3.99" height="2.93" fill="#f39c7f"/>
<rect x="451.3" y="253.18" width="3.99" height="2.93" fill="#f08c6c"/>
<rect x="454.4" y="253.18" width="3.99" height="2.93" fill="#f2987a"/>
<rect x="457.5" y="253.18" width="3.99" height="2.93" fill="#f39a7d"/>
<rect x="460.6" y="253.18" width="3.99" height="2.93" fill="#f6beac"/>
<rect x="463.7" y="253.18" width="3.09" height="2.93" fill="#f4a78d"/>
<rect x="353.9" y="255.21" width="4.00" height="2.93" fill="#f6beac"/>
<rect x="357.0" y="255.21" width="4.00" height="2.93" fill="#f4a68d"/>
<rect x="360.1" y="255.21" width="4.00" height="2.93" fill="#f4b099"/>
<rect x="363.2" y="255.21" width="4.00" height="2.93" fill="#f6c1b0"/>
<rect x="366.3" y="255.21" width="4.00" height="2.93" fill="#f4a78e"/>
<rect x="369.4" y="255.21" width="4.00" height="2.93" fill="#f29779"/>
<rect x="372.5" y="255.21" width="4.00" height="2.93" fill="#ed8060"/>
<rect x="375.6" y="255.21" width="4.00" height="2.93" fill="#f5b29c"/>
<rect x="378.7" y="255.21" width="4.00" height="2.93" fill="#f5bba8"/>
<rect x="381.8" y="255.21" width="4.00" height="2.93" fill="#f39e81"/>
<rect x="384.9" y="255.21" width="3.10" height="2.93" fill="#f18d6d"/>
<rect x="389.5" y="255.21" width="3.99" height="2.93" fill="#f5bcaa"/>
<rect x="392.6" y="255.21" width="3.99" height="2.93" fill="#f3a287"/>
<rect x="395.7" y="255.21" width="3.99" height="2.93" fill="#f5b5a0"/>
<rect x="398.8" y="255.21" width="3.99" height="2.93" fill="#f39d80"/>
<rect x="401.9" y="255.21" width="3.99" height="2.93" fill="#f6bfae"/>
<rect x="405.0" y="255.21" width="3.99" height="2.93" fill="#f5b9a6"/>
<rect x="408.0" y="255.21" width="3.99" height="2.93" fill="#f5b6a1"/>
<rect x="411.1" y="255.21" width="3.99" height="2.93" fill="#f5b49e"/>
<rect x="414.2" y="255.21" width="3.99" height="2.93" fill="#f7ccbe"/>
<rect x="417.3" y="255.21" width="3.99" height="2.93" fill="#f5b6a1"/>
<rect x="420.4" y="255.21" width="3.99" height="2.93" fill="#f6c2b1"/>
<rect x="423.5" y="255.21" width="3.99" height="2.93" fill="#f08969"/>
<rect x="426.6" y="255.21" width="3.99" height="2.93" fill="#f29272"/>
<rect x="429.7" y="255.21" width="3.99" height="2.93" fill="#f5bdab"/>
<rect x="432.8" y="255.21" width="3.99" height="2.93" fill="#f5bba8"/>
<rect x="435.8" y="255.21" width="3.99" height="2.93" fill="#f4a88f"/>
<rect x="438.9" y="255.21" width="3.99" height="2.93" fill="#f5bcaa"/>
<rect x="442.0" y="255.21" width="3.99" height="2.93" fill="#f5bcaa"/>
<rect x="445.1" y="255.21" width="3.99" height="2.93" fill="#f3a186"/>
<rect x="448.2" y="255.21" width="3.99" height="2.93" fill="#f2987a"/>
<rect x="451.3" y="255.21" width="3.99" height="2.93" fill="#f4a68c"/>
<rect x="454.4" y="255.21" width="3.99" height="2.93" fill="#f29171"/>
<rect x="457.5" y="255.21" width="3.99" height="2.93" fill="#f4af98"/>
<rect x="460.6" y="255.21" width="3.99" height="2.93" fill="#f5b39d"/>
<rect x="463.7" y="255.21" width="3.09" height="2.93" fill="#f5b9a5"/>
<rect x="353.9" y="257.23" width="4.00" height="2.93" fill="#f6c8b9"/>
<rect x="357.0" y="257.23" width="4.00" height="2.93" fill="#f29879"/>
<rect x="360.1" y="257.23" width="4.00" height="2.93" fill="#f3a388"/>
<rect x="363.2" y="257.23" width="4.00" height="2.93" fill="#f5baa7"/>
<rect x="366.3" y="257.23" width="4.00" height="2.93" fill="#f5b5a0"/>
<rect x="369.4" y="257.23" width="4.00" height="2.93" fill="#f6cabc"/>
<rect x="372.5" y="257.23" width="4.00" height="2.93" fill="#f4a990"/>
<rect x="375.6" y="257.23" width="4.00" height="2.93" fill="#f5bba8"/>
<rect x="378.7" y="257.23" width="4.00" height="2.93" fill="#f5baa7"/>
<rect x="381.8" y="257.23" width="4.00" height="2.93" fill="#f5beab"/>
<rect x="384.9" y="257.23" width="3.10" height="2.93" fill="#f8d7ce"/>
<rect x="389.5" y="257.23" width="3.99" height="2.93" fill="#f6c3b3"/>
<rect x="392.6" y="257.23" width="3.99" height="2.93" fill="#f29677"/>
<rect x="395.7" y="257.23" width="3.99" height="2.93" fill="#f6c9bb"/>
<rect x="398.8" y="257.23" width="3.99" height="2.93" fill="#f7cbbd"/>
<rect x="401.9" y="257.23" width="3.99" height="2.93" fill="#f5bdaa"/>
<rect x="405.0" y="257.23" width="3.99" height="2.93" fill="#f7cbbe"/>
<rect x="408.0" y="257.23" width="3.99" height="2.93" fill="#f7cdc0"/>
<rect x="411.1" y="257.23" width="3.99" height="2.93" fill="#f7d0c4"/>
<rect x="414.2" y="257.23" width="3.99" height="2.93" fill="#f7ccbf"/>
<rect x="417.3" y="257.23" width="3.99" height="2.93" fill="#f5b7a3"/>
<rect x="420.4" y="257.23" width="3.99" height="2.93" fill="#f9e9e5"/>
<rect x="423.5" y="257.23" width="3.99" height="2.93" fill="#f7d6cc"/>
<rect x="426.6" y="257.23" width="3.99" height="2.93" fill="#f7d5ca"/>
<rect x="429.7" y="257.23" width="3.99" height="2.93" fill="#f5b7a3"/>
<rect x="432.8" y="257.23" width="3.99" height="2.93" fill="#f7cbbd"/>
<rect x="435.8" y="257.23" width="3.99" height="2.93" fill="#f4af98"/>
<rect x="438.9" y="257.23" width="3.99" height="2.93" fill="#f6cabb"/>
<rect x="442.0" y="257.23" width="3.99" height="2.93" fill="#f3a085"/>
<rect x="445.1" y="257.23" width="3.99" height="2.93" fill="#f8ddd6"/>
<rect x="448.2" y="257.23" width="3.99" height="2.93" fill="#f19070"/>
<rect x="451.3" y="257.23" width="3.99" height="2.93" fill="#f7d3c8"/>
<rect x="454.4" y="257.23" width="3.99" height="2.93" fill="#f6bfad"/>
<rect x="457.5" y="257.23" width="3.99" height="2.93" fill="#f7cec1"/>
<rect x="460.6" y="257.23" width="3.99" height="2.93" fill="#f5bdab"/>
<rect x="463.7" y="257.23" width="3.09" height="2.93" fill="#f29779"/>
<rect x="353.9" y="259.26" width="4.00" height="2.93" fill="#f5b49e"/>
<rect x="357.0" y="259.26" width="4.00" height="2.93" fill="#f39e81"/>
<rect x="360.1" y="259.26" width="4.00" height="2.93" fill="#ef8666"/>
<rect x="363.2" y="259.26" width="4.00" height="2.93" fill="#f39a7d"/>
<rect x="366.3" y="259.26" width="4.00" height="2.93" fill="#f4af98"/>
<rect x="369.4" y="259.26" width="4.00" height="2.93" fill="#f3a084"/>
<rect x="372.5" y="259.26" width="4.00" height="2.93" fill="#f39f83"/>
<rect x="375.6" y="259.26" width="4.00" height="2.93" fill="#f7cec1"/>
<rect x="378.7" y="259.26" width="4.00" height="2.93" fill="#f5b49f"/>
<rect x="381.8" y="259.26" width="4.00" height="2.93" fill="#f4a68d"/>
<rect x="384.9" y="259.26" width="3.10" height="2.93" fill="#ee8363"/>
<rect x="389.5" y="259.26" width="3.99" height="2.93" fill="#f3987a"/>
<rect x="392.6" y="259.26" width="3.99" height="2.93" fill="#f3a288"/>
<rect x="395.7" y="259.26" width="3.99" height="2.93" fill="#f6cabc"/>
<rect x="398.8" y="259.26" width="3.99" height="2.93" fill="#f5b19c"/>
<rect x="401.9" y="259.26" width="3.99" height="2.93" fill="#f6c8ba"/>
<rect x="405.0" y="259.26" width="3.99" height="2.93" fill="#f4a58c"/>
<rect x="408.0" y="259.26" width="3.99" height="2.93" fill="#f5b49f"/>
<rect x="411.1" y="259.26" width="3.99" height="2.93" fill="#f29678"/>
<rect x="414.2" y="259.26" width="3.99" height="2.93" fill="#f4a88f"/>
<rect x="417.3" y="259.26" width="3.99" height="2.93" fill="#f4a78e"/>
<rect x="420.4" y="259.26" width="3.99" height="2.93" fill="#f3a085"/>
<rect x="423.5" y="259.26" width="3.99" height="2.93" fill="#f29374"/>
<rect x="426.6" y="259.26" width="3.99" height="2.93" fill="#f4af98"/>
<rect x="429.7" y="259.26" width="3.99" height="2.93" fill="#f5b39d"/>
<rect x="432.8" y="259.26" width="3.99" height="2.93" fill="#f3a48a"/>
<rect x="435.8" y="259.26" width="3.99" height="2.93" fill="#e86c4c"/>
<rect x="438.9" y="259.26" width="3.99" height="2.93" fill="#f5b49f"/>
<rect x="442.0" y="259.26" width="3.99" height="2.93" fill="#f5b9a6"/>
<rect x="445.1" y="259.26" width="3.99" height="2.93" fill="#f3a084"/>
<rect x="448.2" y="259.26" width="3.99" height="2.93" fill="#f6c9ba"/>
<rect x="451.3" y="259.26" width="3.99" height="2.93" fill="#f39b7e"/>
<rect x="454.4" y="259.26" width="3.99" height="2.93" fill="#f6c0af"/>
<rect x="457.5" y="259.26" width="3.99" height="2.93" fill="#f4ae97"/>
<rect x="460.6" y="259.26" width="3.99" height="2.93" fill="#f4ad96"/>
<rect x="463.7" y="259.26" width="3.09" height="2.93" fill="#f5bba8"/>
<rect x="353.9" y="261.29" width="4.00" height="2.93" fill="#f4b09a"/>
<rect x="357.0" y="261.29" width="4.00" height="2.93" fill="#f39b7d"/>
<rect x="360.1" y="261.29" width="4.00" height="2.93" fill="#f3a48a"/>
<rect x="363.2" y="261.29" width="4.00" height="2.93" fill="#f5baa7"/>
<rect x="366.3" y="261.29" width="4.00" height="2.93" fill="#f3a185"/>
<rect x="369.4" y="261.29" width="4.00" height="2.93" fill="#f3a388"/>
<rect x="372.5" y="261.29" width="4.00" height="2.93" fill="#f4ad96"/>
<rect x="375.6" y="261.29" width="4.00" height="2.93" fill="#f4ab94"/>
<rect x="378.7" y="261.29" width="4.00" height="2.93" fill="#f2987a"/>
<rect x="381.8" y="261.29" width="4.00" height="2.93" fill="#f6beac"/>
<rect x="384.9" y="261.29" width="3.10" height="2.93" fill="#f29576"/>
<rect x="389.5" y="261.29" width="3.99" height="2.93" fill="#f4ab93"/>
<rect x="392.6" y="261.29" width="3.99" height="2.93" fill="#f3a48a"/>
<rect x="395.7" y="261.29" width="3.99" height="2.93" fill="#f3997b"/>
<rect x="398.8" y="261.29" width="3.99" height="2.93" fill="#ec7b5b"/>
<rect x="401.9" y="261.29" width="3.99" height="2.93" fill="#f6c4b4"/>
<rect x="405.0" y="261.29" width="3.99" height="2.93" fill="#f7cec2"/>
<rect x="408.0" y="261.29" width="3.99" height="2.93" fill="#f3997b"/>
<rect x="411.1" y="261.29" width="3.99" height="2.93" fill="#f5b9a5"/>
<rect x="414.2" y="261.29" width="3.99" height="2.93" fill="#f4af99"/>
<rect x="417.3" y="261.29" width="3.99" height="2.93" fill="#f7d0c4"/>
<rect x="420.4" y="261.29" width="3.99" height="2.93" fill="#f2987a"/>
<rect x="423.5" y="261.29" width="3.99" height="2.93" fill="#f4aa91"/>
<rect x="426.6" y="261.29" width="3.99" height="2.93" fill="#f7d2c7"/>
<rect x="429.7" y="261.29" width="3.99" height="2.93" fill="#f39a7d"/>
<rect x="432.8" y="261.29" width="3.99" height="2.93" fill="#f5b19b"/>
<rect x="435.8" y="261.29" width="3.99" height="2.93" fill="#f5bca9"/>
<rect x="438.9" y="261.29" width="3.99" height="2.93" fill="#f7d6cc"/>
<rect x="442.0" y="261.29" width="3.99" height="2.93" fill="#f08a6a"/>
<rect x="445.1" y="261.29" width="3.99" height="2.93" fill="#f6c4b4"/>
<rect x="448.2" y="261.29" width="3.99" height="2.93" fill="#f3a287"/>
<rect x="451.3" y="261.29" width="3.99" height="2.93" fill="#f6beac"/>
<rect x="454.4" y="261.29" width="3.99" height="2.93" fill="#f6c6b6"/>
<rect x="457.5" y="261.29" width="3.99" height="2.93" fill="#f39a7d"/>
<rect x="460.6" y="261.29" width="3.99" height="2.93" fill="#f3a287"/>
<rect x="463.7" y="261.29" width="3.09" height="2.93" fill="#f3a388"/>
<rect x="353.9" y="263.31" width="4.00" height="2.93" fill="#f5b7a3"/>
<rect x="357.0" y="263.31" width="4.00" height="2.93" fill="#f5b5a1"/>
<rect x="360.1" y="263.31" width="4.00" height="2.93" fill="#f3a58b"/>
<rect x="363.2" y="263.31" width="4.00" height="2.93" fill="#f6c5b5"/>
<rect x="366.3" y="263.31" width="4.00" height="2.93" fill="#f5bba8"/>
<rect x="369.4" y="263.31" width="4.00" height="2.93" fill="#f5b29d"/>
<rect x="372.5" y="263.31" width="4.00" height="2.93" fill="#faf5f4"/>
<rect x="375.6" y="263.31" width="4.00" height="2.93" fill="#f5bdaa"/>
<rect x="378.7" y="263.31" width="4.00" height="2.93" fill="#f3a186"/>
<rect x="381.8" y="263.31" width="4.00" height="2.93" fill="#f5b5a0"/>
<rect x="384.9" y="263.31" width="3.10" height="2.93" fill="#f5baa7"/>
<rect x="389.5" y="263.31" width="3.99" height="2.93" fill="#f5b29c"/>
<rect x="392.6" y="263.31" width="3.99" height="2.93" fill="#f4a78e"/>
<rect x="395.7" y="263.31" width="3.99" height="2.93" fill="#f9e8e4"/>
<rect x="398.8" y="263.31" width="3.99" height="2.93" fill="#f7d1c5"/>
<rect x="401.9" y="263.31" width="3.99" height="2.93" fill="#f7d6cc"/>
<rect x="405.0" y="263.31" width="3.99" height="2.93" fill="#f8e1db"/>
<rect x="408.0" y="263.31" width="3.99" height="2.93" fill="#f4ae96"/>
<rect x="411.1" y="263.31" width="3.99" height="2.93" fill="#f7d7cd"/>
<rect x="414.2" y="263.31" width="3.99" height="2.93" fill="#f6c0af"/>
<rect x="417.3" y="263.31" width="3.99" height="2.93" fill="#f5b5a0"/>
<rect x="420.4" y="263.31" width="3.99" height="2.93" fill="#f4a990"/>
<rect x="423.5" y="263.31" width="3.99" height="2.93" fill="#f8e2dc"/>
<rect x="426.6" y="263.31" width="3.99" height="2.93" fill="#f8e3dd"/>
<rect x="429.7" y="263.31" width="3.99" height="2.93" fill="#f9edea"/>
<rect x="432.8" y="263.31" width="3.99" height="2.93" fill="#f5baa7"/>
<rect x="435.8" y="263.31" width="3.99" height="2.93" fill="#f8d7cd"/>
<rect x="438.9" y="263.31" width="3.99" height="2.93" fill="#f5b9a5"/>
<rect x="442.0" y="263.31" width="3.99" height="2.93" fill="#f4ad95"/>
<rect x="445.1" y="263.31" width="3.99" height="2.93" fill="#f39a7d"/>
<rect x="448.2" y="263.31" width="3.99" height="2.93" fill="#f8d9d0"/>
<rect x="451.3" y="263.31" width="3.99" height="2.93" fill="#f6bfae"/>
<rect x="454.4" y="263.31" width="3.99" height="2.93" fill="#f6c2b1"/>
<rect x="457.5" y="263.31" width="3.99" height="2.93" fill="#f9f0ee"/>
<rect x="460.6" y="263.31" width="3.99" height="2.93" fill="#f5b29d"/>
<rect x="463.7" y="263.31" width="3.09" height="2.93" fill="#f3a48a"/>
<rect x="353.9" y="265.34" width="4.00" height="2.93" fill="#f6c6b7"/>
<rect x="357.0" y="265.34" width="4.00" height="2.93" fill="#f7cdc0"/>
<rect x="360.1" y="265.34" width="4.00" height="2.93" fill="#f7d0c4"/>
<rect x="363.2" y="265.34" width="4.00" height="2.93" fill="#f9ebe8"/>
<rect x="366.3" y="265.34" width="4.00" height="2.93" fill="#f9ebe8"/>
<rect x="369.4" y="265.34" width="4.00" height="2.93" fill="#f3a186"/>
<rect x="372.5" y="265.34" width="4.00" height="2.93" fill="#f5baa7"/>
<rect x="375.6" y="265.34" width="4.00" height="2.93" fill="#f7d1c5"/>
<rect x="378.7" y="265.34" width="4.00" height="2.93" fill="#f5baa7"/>
<rect x="381.8" y="265.34" width="4.00" height="2.93" fill="#f9ebe7"/>
<rect x="384.9" y="265.34" width="3.10" height="2.93" fill="#f6c6b7"/>
<rect x="389.5" y="265.34" width="3.99" height="2.93" fill="#f8dfd8"/>
<rect x="392.6" y="265.34" width="3.99" height="2.93" fill="#e9e2ee"/>
<rect x="395.7" y="265.34" width="3.99" height="2.93" fill="#f9eae7"/>
<rect x="398.8" y="265.34" width="3.99" height="2.93" fill="#f6c4b4"/>
<rect x="401.9" y="265.34" width="3.99" height="2.93" fill="#f6c2b2"/>
<rect x="405.0" y="265.34" width="3.99" height="2.93" fill="#f6c7b8"/>
<rect x="408.0" y="265.34" width="3.99" height="2.93" fill="#f7d4ca"/>
<rect x="411.1" y="265.34" width="3.99" height="2.93" fill="#f7cec2"/>
<rect x="414.2" y="265.34" width="3.99" height="2.93" fill="#f9f4f5"/>
<rect x="417.3" y="265.34" width="3.99" height="2.93" fill="#f8d7cd"/>
<rect x="420.4" y="265.34" width="3.99" height="2.93" fill="#f29171"/>
<rect x="423.5" y="265.34" width="3.99" height="2.93" fill="#f7d1c6"/>
<rect x="426.6" y="265.34" width="3.99" height="2.93" fill="#f8dfd8"/>
<rect x="429.7" y="265.34" width="3.99" height="2.93" fill="#f4a68d"/>
<rect x="432.8" y="265.34" width="3.99" height="2.93" fill="#f7d7cd"/>
<rect x="435.8" y="265.34" width="3.99" height="2.93" fill="#f8d9d0"/>
<rect x="438.9" y="265.34" width="3.99" height="2.93" fill="#f7d3c8"/>
<rect x="442.0" y="265.34" width="3.99" height="2.93" fill="#f7cdc0"/>
<rect x="445.1" y="265.34" width="3.99" height="2.93" fill="#faf0ee"/>
<rect x="448.2" y="265.34" width="3.99" height="2.93" fill="#f7d4c9"/>
<rect x="451.3" y="265.34" width="3.99" height="2.93" fill="#f8ddd5"/>
<rect x="454.4" y="265.34" width="3.99" height="2.93" fill="#f6f1f4"/>
<rect x="457.5" y="265.34" width="3.99" height="2.93" fill="#f7cfc2"/>
<rect x="460.6" y="265.34" width="3.99" height="2.93" fill="#f7d6cb"/>
<rect x="463.7" y="265.34" width="3.09" height="2.93" fill="#f8e1da"/>
<rect x="353.9" y="267.36" width="4.00" height="2.93" fill="#f5b6a1"/>
<rect x="357.0" y="267.36" width="4.00" height="2.93" fill="#eae3ef"/>
<rect x="360.1" y="267.36" width="4.00" height="2.93" fill="#f5baa7"/>
<rect x="363.2" y="267.36" width="4.00" height="2.93" fill="#f6cabc"/>
<rect x="366.3" y="267.36" width="4.00" height="2.93" fill="#f7ccbe"/>
<rect x="369.4" y="267.36" width="4.00" height="2.93" fill="#f7d4c9"/>
<rect x="372.5" y="267.36" width="4.00" height="2.93" fill="#f7d3c8"/>
<rect x="375.6" y="267.36" width="4.00" height="2.93" fill="#f5b9a6"/>
<rect x="378.7" y="267.36" width="4.00" height="2.93" fill="#f8dfd8"/>
<rect x="381.8" y="267.36" width="4.00" height="2.93" fill="#f3a58b"/>
<rect x="384.9" y="267.36" width="3.10" height="2.93" fill="#f9e8e4"/>
<rect x="389.5" y="267.36" width="3.99" height="2.93" fill="#f6bfad"/>
<rect x="392.6" y="267.36" width="3.99" height="2.93" fill="#f7d1c5"/>
<rect x="395.7" y="267.36" width="3.99" height="2.93" fill="#f4a88f"/>
<rect x="398.8" y="267.36" width="3.99" height="2.93" fill="#f5bcaa"/>
<rect x="401.9" y="267.36" width="3.99" height="2.93" fill="#faf0ef"/>
<rect x="405.0" y="267.36" width="3.99" height="2.93" fill="#f6c3b3"/>
<rect x="408.0" y="267.36" width="3.99" height="2.93" fill="#f8e0da"/>
<rect x="411.1" y="267.36" width="3.99" height="2.93" fill="#f6c3b3"/>
<rect x="414.2" y="267.36" width="3.99" height="2.93" fill="#f7cdc0"/>
<rect x="417.3" y="267.36" width="3.99" height="2.93" fill="#f8e0d9"/>
<rect x="420.4" y="267.36" width="3.99" height="2.93" fill="#f8e1db"/>
<rect x="423.5" y="267.36" width="3.99" height="2.93" fill="#f7cbbd"/>
<rect x="426.6" y="267.36" width="3.99" height="2.93" fill="#f7cfc3"/>
<rect x="429.7" y="267.36" width="3.99" height="2.93" fill="#f7d3c7"/>
<rect x="432.8" y="267.36" width="3.99" height="2.93" fill="#f9e7e3"/>
<rect x="435.8" y="267.36" width="3.99" height="2.93" fill="#f6c4b5"/>
<rect x="438.9" y="267.36" width="3.99" height="2.93" fill="#f8ded6"/>
<rect x="442.0" y="267.36" width="3.99" height="2.93" fill="#f9f5f6"/>
<rect x="445.1" y="267.36" width="3.99" height="2.93" fill="#faf2f1"/>
<rect x="448.2" y="267.36" width="3.99" height="2.93" fill="#f3a388"/>
<rect x="451.3" y="267.36" width="3.99" height="2.93" fill="#f7d1c6"/>
<rect x="454.4" y="267.36" width="3.99" height="2.93" fill="#f8e0d9"/>
<rect x="457.5" y="267.36" width="3.99" height="2.93" fill="#f8ded7"/>
<rect x="460.6" y="267.36" width="3.99" height="2.93" fill="#f7d3c8"/>
<rect x="463.7" y="267.36" width="3.09" height="2.93" fill="#f7cec1"/>
<rect x="353.9" y="269.39" width="4.00" height="2.93" fill="#f08969"/>
<rect x="357.0" y="269.39" width="4.00" height="2.93" fill="#f3a48a"/>
<rect x="360.1" y="269.39" width="4.00" height="2.93" fill="#f18f6f"/>
<rect x="363.2" y="269.39" width="4.00" height="2.93" fill="#f29779"/>
<rect x="366.3" y="269.39" width="4.00" height="2.93" fill="#f3a186"/>
<rect x="369.4" y="269.39" width="4.00" height="2.93" fill="#f08b6b"/>
<rect x="372.5" y="269.39" width="4.00" height="2.93" fill="#f18e6e"/>
<rect x="375.6" y="269.39" width="4.00" height="2.93" fill="#f4aa92"/>
<rect x="378.7" y="269.39" width="4.00" height="2.93" fill="#f08a6a"/>
<rect x="381.8" y="269.39" width="4.00" height="2.93" fill="#f3a185"/>
<rect x="384.9" y="269.39" width="3.10" height="2.93" fill="#f5b6a2"/>
<rect x="389.5" y="269.39" width="3.99" height="2.93" fill="#f39d80"/>
<rect x="392.6" y="269.39" width="3.99" height="2.93" fill="#f4a991"/>
<rect x="395.7" y="269.39" width="3.99" height="2.93" fill="#faf2f0"/>
<rect x="398.8" y="269.39" width="3.99" height="2.93" fill="#f6c3b3"/>
<rect x="401.9" y="269.39" width="3.99" height="2.93" fill="#f6c4b4"/>
<rect x="405.0" y="269.39" width="3.99" height="2.93" fill="#f7d1c5"/>
<rect x="408.0" y="269.39" width="3.99" height="2.93" fill="#f8dcd4"/>
<rect x="411.1" y="269.39" width="3.99" height="2.93" fill="#f6c2b1"/>
<rect x="414.2" y="269.39" width="3.99" height="2.93" fill="#f6c4b4"/>
<rect x="417.3" y="269.39" width="3.99" height="2.93" fill="#f7d2c7"/>
<rect x="420.4" y="269.39" width="3.99" height="2.93" fill="#f5b9a5"/>
<rect x="423.5" y="269.39" width="3.99" height="2.93" fill="#f9ece9"/>
<rect x="426.6" y="269.39" width="3.99" height="2.93" fill="#f1ebf2"/>
<rect x="429.7" y="269.39" width="3.99" height="2.93" fill="#f5b7a2"/>
<rect x="432.8" y="269.39" width="3.99" height="2.93" fill="#f4a88e"/>
<rect x="435.8" y="269.39" width="3.99" height="2.93" fill="#f9eeec"/>
<rect x="438.9" y="269.39" width="3.99" height="2.93" fill="#f8e2dc"/>
<rect x="442.0" y="269.39" width="3.99" height="2.93" fill="#f3997b"/>
<rect x="445.1" y="269.39" width="3.99" height="2.93" fill="#f7ccbf"/>
<rect x="448.2" y="269.39" width="3.99" height="2.93" fill="#f5b19b"/>
<rect x="451.3" y="269.39" width="3.99" height="2.93" fill="#f4af98"/>
<rect x="454.4" y="269.39" width="3.99" height="2.93" fill="#f6c7b7"/>
<rect x="457.5" y="269.39" width="3.99" height="2.93" fill="#f8dfd8"/>
<rect x="460.6" y="269.39" width="3.99" height="2.93" fill="#f4a58b"/>
<rect x="463.7" y="269.39" width="3.09" height="2.93" fill="#f6c2b2"/>
<rect x="353.9" y="271.42" width="4.00" height="2.93" fill="#cabce0"/>
<rect x="357.0" y="271.42" width="4.00" height="2.93" fill="#ddd3e9"/>
<rect x="360.1" y="271.42" width="4.00" height="2.93" fill="#d8cee7"/>
<rect x="363.2" y="271.42" width="4.00" height="2.93" fill="#ccbfe1"/>
<rect x="366.3" y="271.42" width="4.00" height="2.93" fill="#f4eff3"/>
<rect x="369.4" y="271.42" width="4.00" height="2.93" fill="#d2c6e4"/>
<rect x="372.5" y="271.42" width="4.00" height="2.93" fill="#f0eaf2"/>
<rect x="375.6" y="271.42" width="4.00" height="2.93" fill="#d0c5e3"/>
<rect x="378.7" y="271.42" width="4.00" height="2.93" fill="#b7a6d7"/>
<rect x="381.8" y="271.42" width="4.00" height="2.93" fill="#ebe4ef"/>
<rect x="384.9" y="271.42" width="3.10" height="2.93" fill="#eee8f1"/>
<rect x="389.5" y="271.42" width="3.99" height="2.93" fill="#dbd1e8"/>
<rect x="392.6" y="271.42" width="3.99" height="2.93" fill="#eae3ef"/>
<rect x="395.7" y="271.42" width="3.99" height="2.93" fill="#d3c7e4"/>
<rect x="398.8" y="271.42" width="3.99" height="2.93" fill="#e4dbec"/>
<rect x="401.9" y="271.42" width="3.99" height="2.93" fill="#dcd2e8"/>
<rect x="405.0" y="271.42" width="3.99" height="2.93" fill="#efe9f1"/>
<rect x="408.0" y="271.42" width="3.99" height="2.93" fill="#e9e2ee"/>
<rect x="411.1" y="271.42" width="3.99" height="2.93" fill="#b09ed4"/>
<rect x="414.2" y="271.42" width="3.99" height="2.93" fill="#e4dcec"/>
<rect x="417.3" y="271.42" width="3.99" height="2.93" fill="#f3eef3"/>
<rect x="420.4" y="271.42" width="3.99" height="2.93" fill="#cec1e2"/>
<rect x="423.5" y="271.42" width="3.99" height="2.93" fill="#eee8f0"/>
<rect x="426.6" y="271.42" width="3.99" height="2.93" fill="#d8cee6"/>
<rect x="429.7" y="271.42" width="3.99" height="2.93" fill="#eae3ef"/>
<rect x="432.8" y="271.42" width="3.99" height="2.93" fill="#faf6f6"/>
<rect x="435.8" y="271.42" width="3.99" height="2.93" fill="#d7cde6"/>
<rect x="438.9" y="271.42" width="3.99" height="2.93" fill="#faf6f6"/>
<rect x="442.0" y="271.42" width="3.99" height="2.93" fill="#d6cbe5"/>
<rect x="445.1" y="271.42" width="3.99" height="2.93" fill="#bfb0db"/>
<rect x="448.2" y="271.42" width="3.99" height="2.93" fill="#c5b7de"/>
<rect x="451.3" y="271.42" width="3.99" height="2.93" fill="#faf6f6"/>
<rect x="454.4" y="271.42" width="3.99" height="2.93" fill="#e6deed"/>
<rect x="457.5" y="271.42" width="3.99" height="2.93" fill="#efe9f1"/>
<rect x="460.6" y="271.42" width="3.99" height="2.93" fill="#dfd6ea"/>
<rect x="463.7" y="271.42" width="3.09" height="2.93" fill="#e4dbec"/>
<rect x="353.9" y="273.44" width="4.00" height="2.93" fill="#f7cabc"/>
<rect x="357.0" y="273.44" width="4.00" height="2.93" fill="#f5b8a5"/>
<rect x="360.1" y="273.44" width="4.00" height="2.93" fill="#faf1ef"/>
<rect x="363.2" y="273.44" width="4.00" height="2.93" fill="#f6c9bb"/>
<rect x="366.3" y="273.44" width="4.00" height="2.93" fill="#f7cbbd"/>
<rect x="369.4" y="273.44" width="4.00" height="2.93" fill="#f9f5f6"/>
<rect x="372.5" y="273.44" width="4.00" height="2.93" fill="#f9e4de"/>
<rect x="375.6" y="273.44" width="4.00" height="2.93" fill="#faf1ef"/>
<rect x="378.7" y="273.44" width="4.00" height="2.93" fill="#f8e3dd"/>
<rect x="381.8" y="273.44" width="4.00" height="2.93" fill="#f9ebe7"/>
<rect x="384.9" y="273.44" width="3.10" height="2.93" fill="#f6f1f4"/>
<rect x="389.5" y="273.44" width="3.99" height="2.93" fill="#e8e1ee"/>
<rect x="392.6" y="273.44" width="3.99" height="2.93" fill="#f9e6e0"/>
<rect x="395.7" y="273.44" width="3.99" height="2.93" fill="#e9e2ee"/>
<rect x="398.8" y="273.44" width="3.99" height="2.93" fill="#ded4e9"/>
<rect x="401.9" y="273.44" width="3.99" height="2.93" fill="#e6deed"/>
<rect x="405.0" y="273.44" width="3.99" height="2.93" fill="#f8e1db"/>
<rect x="408.0" y="273.44" width="3.99" height="2.93" fill="#f5baa6"/>
<rect x="411.1" y="273.44" width="3.99" height="2.93" fill="#f9e4df"/>
<rect x="414.2" y="273.44" width="3.99" height="2.93" fill="#f9f5f6"/>
<rect x="417.3" y="273.44" width="3.99" height="2.93" fill="#f3edf3"/>
<rect x="420.4" y="273.44" width="3.99" height="2.93" fill="#f9e4de"/>
<rect x="423.5" y="273.44" width="3.99" height="2.93" fill="#f7d0c3"/>
<rect x="426.6" y="273.44" width="3.99" height="2.93" fill="#f6c7b7"/>
<rect x="429.7" y="273.44" width="3.99" height="2.93" fill="#f7d3c7"/>
<rect x="432.8" y="273.44" width="3.99" height="2.93" fill="#eee8f1"/>
<rect x="435.8" y="273.44" width="3.99" height="2.93" fill="#f6c6b7"/>
<rect x="438.9" y="273.44" width="3.99" height="2.93" fill="#f8e2db"/>
<rect x="442.0" y="273.44" width="3.99" height="2.93" fill="#f6cabc"/>
<rect x="445.1" y="273.44" width="3.99" height="2.93" fill="#f8f4f5"/>
<rect x="448.2" y="273.44" width="3.99" height="2.93" fill="#f5b6a2"/>
<rect x="451.3" y="273.44" width="3.99" height="2.93" fill="#f2edf2"/>
<rect x="454.4" y="273.44" width="3.99" height="2.93" fill="#faf4f3"/>
<rect x="457.5" y="273.44" width="3.99" height="2.93" fill="#eae3ef"/>
<rect x="460.6" y="273.44" width="3.99" height="2.93" fill="#faf5f5"/>
<rect x="463.7" y="273.44" width="3.09" height="2.93" fill="#f6c5b6"/>
<rect x="353.9" y="275.47" width="4.00" height="2.93" fill="#f8d8ce"/>
<rect x="357.0" y="275.47" width="4.00" height="2.93" fill="#faf1ef"/>
<rect x="360.1" y="275.47" width="4.00" height="2.93" fill="#f8d7cd"/>
<rect x="363.2" y="275.47" width="4.00" height="2.93" fill="#f8dcd3"/>
<rect x="366.3" y="275.47" width="4.00" height="2.93" fill="#f9e5df"/>
<rect x="369.4" y="275.47" width="4.00" height="2.93" fill="#f9eae7"/>
<rect x="372.5" y="275.47" width="4.00" height="2.93" fill="#f8d9cf"/>
<rect x="375.6" y="275.47" width="4.00" height="2.93" fill="#f6c4b4"/>
<rect x="378.7" y="275.47" width="4.00" height="2.93" fill="#f9e3dd"/>
<rect x="381.8" y="275.47" width="4.00" height="2.93" fill="#f8dfd7"/>
<rect x="384.9" y="275.47" width="3.10" height="2.93" fill="#f7f3f5"/>
<rect x="389.5" y="275.47" width="3.99" height="2.93" fill="#faf2f1"/>
<rect x="392.6" y="275.47" width="3.99" height="2.93" fill="#e4dcec"/>
<rect x="395.7" y="275.47" width="3.99" height="2.93" fill="#f7ccbe"/>
<rect x="398.8" y="275.47" width="3.99" height="2.93" fill="#f8e3dc"/>
<rect x="401.9" y="275.47" width="3.99" height="2.93" fill="#faf3f2"/>
<rect x="405.0" y="275.47" width="3.99" height="2.93" fill="#f9efed"/>
<rect x="408.0" y="275.47" width="3.99" height="2.93" fill="#f6c8b9"/>
<rect x="411.1" y="275.47" width="3.99" height="2.93" fill="#f3eef3"/>
<rect x="414.2" y="275.47" width="3.99" height="2.93" fill="#f1ebf2"/>
<rect x="417.3" y="275.47" width="3.99" height="2.93" fill="#f9eeeb"/>
<rect x="420.4" y="275.47" width="3.99" height="2.93" fill="#f9e4de"/>
<rect x="423.5" y="275.47" width="3.99" height="2.93" fill="#f9eeec"/>
<rect x="426.6" y="275.47" width="3.99" height="2.93" fill="#f7d5ca"/>
<rect x="429.7" y="275.47" width="3.99" height="2.93" fill="#f7f2f4"/>
<rect x="432.8" y="275.47" width="3.99" height="2.93" fill="#f9eeeb"/>
<rect x="435.8" y="275.47" width="3.99" height="2.93" fill="#f8d8ce"/>
<rect x="438.9" y="275.47" width="3.99" height="2.93" fill="#faf2f0"/>
<rect x="442.0" y="275.47" width="3.99" height="2.93" fill="#f9ebe7"/>
<rect x="445.1" y="275.47" width="3.99" height="2.93" fill="#f8ddd6"/>
<rect x="448.2" y="275.47" width="3.99" height="2.93" fill="#f6f1f4"/>
<rect x="451.3" y="275.47" width="3.99" height="2.93" fill="#f5bdaa"/>
<rect x="454.4" y="275.47" width="3.99" height="2.93" fill="#ece6f0"/>
<rect x="457.5" y="275.47" width="3.99" height="2.93" fill="#f9e5e0"/>
<rect x="460.6" y="275.47" width="3.99" height="2.93" fill="#faf2f1"/>
<rect x="463.7" y="275.47" width="3.09" height="2.93" fill="#f9e7e2"/>
<rect x="353.9" y="277.49" width="4.00" height="2.93" fill="#f4b19b"/>
<rect x="357.0" y="277.49" width="4.00" height="2.93" fill="#f8d9d0"/>
<rect x="360.1" y="277.49" width="4.00" height="2.93" fill="#f9e8e3"/>
<rect x="363.2" y="277.49" width="4.00" height="2.93" fill="#f4af99"/>
<rect x="366.3" y="277.49" width="4.00" height="2.93" fill="#f9ebe7"/>
<rect x="369.4" y="277.49" width="4.00" height="2.93" fill="#f6c7b8"/>
<rect x="372.5" y="277.49" width="4.00" height="2.93" fill="#f1ecf2"/>
<rect x="375.6" y="277.49" width="4.00" height="2.93" fill="#f6bfad"/>
<rect x="378.7" y="277.49" width="4.00" height="2.93" fill="#f7d6cc"/>
<rect x="381.8" y="277.49" width="4.00" height="2.93" fill="#f7d5ca"/>
<rect x="384.9" y="277.49" width="3.10" height="2.93" fill="#f8dcd3"/>
<rect x="389.5" y="277.49" width="3.99" height="2.93" fill="#f8dfd8"/>
<rect x="392.6" y="277.49" width="3.99" height="2.93" fill="#f6c1b1"/>
<rect x="395.7" y="277.49" width="3.99" height="2.93" fill="#f5b7a3"/>
<rect x="398.8" y="277.49" width="3.99" height="2.93" fill="#f7d3c8"/>
<rect x="401.9" y="277.49" width="3.99" height="2.93" fill="#f3987a"/>
<rect x="405.0" y="277.49" width="3.99" height="2.93" fill="#f6c9ba"/>
<rect x="408.0" y="277.49" width="3.99" height="2.93" fill="#f5b39d"/>
<rect x="411.1" y="277.49" width="3.99" height="2.93" fill="#f5bba8"/>
<rect x="414.2" y="277.49" width="3.99" height="2.93" fill="#f7cdc0"/>
<rect x="417.3" y="277.49" width="3.99" height="2.93" fill="#f8ddd5"/>
<rect x="420.4" y="277.49" width="3.99" height="2.93" fill="#f8e3dd"/>
<rect x="423.5" y="277.49" width="3.99" height="2.93" fill="#f8ddd5"/>
<rect x="426.6" y="277.49" width="3.99" height="2.93" fill="#f9e6e1"/>
<rect x="429.7" y="277.49" width="3.99" height="2.93" fill="#f8dbd2"/>
<rect x="432.8" y="277.49" width="3.99" height="2.93" fill="#f8d9d0"/>
<rect x="435.8" y="277.49" width="3.99" height="2.93" fill="#f5b29c"/>
<rect x="438.9" y="277.49" width="3.99" height="2.93" fill="#f8ddd4"/>
<rect x="442.0" y="277.49" width="3.99" height="2.93" fill="#f4a58b"/>
<rect x="445.1" y="277.49" width="3.99" height="2.93" fill="#f6c7b8"/>
<rect x="448.2" y="277.49" width="3.99" height="2.93" fill="#f6c3b2"/>
<rect x="451.3" y="277.49" width="3.99" height="2.93" fill="#f5baa7"/>
<rect x="454.4" y="277.49" width="3.99" height="2.93" fill="#f9eae6"/>
<rect x="457.5" y="277.49" width="3.99" height="2.93" fill="#faf4f3"/>
<rect x="460.6" y="277.49" width="3.99" height="2.93" fill="#f6c5b6"/>
<rect x="463.7" y="277.49" width="3.09" height="2.93" fill="#f5beac"/>
<rect x="353.9" y="279.52" width="4.00" height="2.93" fill="#f2ecf2"/>
<rect x="357.0" y="279.52" width="4.00" height="2.93" fill="#dbd1e8"/>
<rect x="360.1" y="279.52" width="4.00" height="2.93" fill="#faf6f6"/>
<rect x="363.2" y="279.52" width="4.00" height="2.93" fill="#faf6f6"/>
<rect x="366.3" y="279.52" width="4.00" height="2.93" fill="#f4eff3"/>
<rect x="369.4" y="279.52" width="4.00" height="2.93" fill="#dcd3e8"/>
<rect x="372.5" y="279.52" width="4.00" height="2.93" fill="#f9e8e3"/>
<rect x="375.6" y="279.52" width="4.00" height="2.93" fill="#f9eae6"/>
<rect x="378.7" y="279.52" width="4.00" height="2.93" fill="#cec2e2"/>
<rect x="381.8" y="279.52" width="4.00" height="2.93" fill="#eee7f0"/>
<rect x="384.9" y="279.52" width="3.10" height="2.93" fill="#faf0ee"/>
<rect x="389.5" y="279.52" width="3.99" height="2.93" fill="#e5ddec"/>
<rect x="392.6" y="279.52" width="3.99" height="2.93" fill="#dacfe7"/>
<rect x="395.7" y="279.52" width="3.99" height="2.93" fill="#faf6f6"/>
<rect x="398.8" y="279.52" width="3.99" height="2.93" fill="#e1d8ea"/>
<rect x="401.9" y="279.52" width="3.99" height="2.93" fill="#f9e7e2"/>
<rect x="405.0" y="279.52" width="3.99" height="2.93" fill="#f9e5e0"/>
<rect x="408.0" y="279.52" width="3.99" height="2.93" fill="#f4eff3"/>
<rect x="411.1" y="279.52" width="3.99" height="2.93" fill="#f8f3f5"/>
<rect x="414.2" y="279.52" width="3.99" height="2.93" fill="#f9eae6"/>
<rect x="417.3" y="279.52" width="3.99" height="2.93" fill="#f4eff3"/>
<rect x="420.4" y="279.52" width="3.99" height="2.93" fill="#e6deed"/>
<rect x="423.5" y="279.52" width="3.99" height="2.93" fill="#f9eae7"/>
<rect x="426.6" y="279.52" width="3.99" height="2.93" fill="#e2d9eb"/>
<rect x="429.7" y="279.52" width="3.99" height="2.93" fill="#faf5f5"/>
<rect x="432.8" y="279.52" width="3.99" height="2.93" fill="#ede7f0"/>
<rect x="435.8" y="279.52" width="3.99" height="2.93" fill="#ece6f0"/>
<rect x="438.9" y="279.52" width="3.99" height="2.93" fill="#faf4f3"/>
<rect x="442.0" y="279.52" width="3.99" height="2.93" fill="#ddd3e9"/>
<rect x="445.1" y="279.52" width="3.99" height="2.93" fill="#faf3f2"/>
<rect x="448.2" y="279.52" width="3.99" height="2.93" fill="#e1d8ea"/>
<rect x="451.3" y="279.52" width="3.99" height="2.93" fill="#d6cbe5"/>
<rect x="454.4" y="279.52" width="3.99" height="2.93" fill="#ece6f0"/>
<rect x="457.5" y="279.52" width="3.99" height="2.93" fill="#ede7f0"/>
<rect x="460.6" y="279.52" width="3.99" height="2.93" fill="#e9e2ee"/>
<rect x="463.7" y="279.52" width="3.09" height="2.93" fill="#faf5f4"/>
<rect x="353.9" y="281.55" width="4.00" height="2.93" fill="#faf6f6"/>
<rect x="357.0" y="281.55" width="4.00" height="2.93" fill="#f6c7b7"/>
<rect x="360.1" y="281.55" width="4.00" height="2.93" fill="#f6f1f4"/>
<rect x="363.2" y="281.55" width="4.00" height="2.93" fill="#f9ece8"/>
<rect x="366.3" y="281.55" width="4.00" height="2.93" fill="#f8d7ce"/>
<rect x="369.4" y="281.55" width="4.00" height="2.93" fill="#f2ecf2"/>
<rect x="372.5" y="281.55" width="4.00" height="2.93" fill="#f8dbd3"/>
<rect x="375.6" y="281.55" width="4.00" height="2.93" fill="#f9edea"/>
<rect x="378.7" y="281.55" width="4.00" height="2.93" fill="#f8f3f5"/>
<rect x="381.8" y="281.55" width="4.00" height="2.93" fill="#f8e0d9"/>
<rect x="384.9" y="281.55" width="3.10" height="2.93" fill="#faf2f1"/>
<rect x="389.5" y="281.55" width="3.99" height="2.93" fill="#f3eef3"/>
<rect x="392.6" y="281.55" width="3.99" height="2.93" fill="#f6c9bb"/>
<rect x="395.7" y="281.55" width="3.99" height="2.93" fill="#f8d9d0"/>
<rect x="398.8" y="281.55" width="3.99" height="2.93" fill="#efe8f1"/>
<rect x="401.9" y="281.55" width="3.99" height="2.93" fill="#f7f2f4"/>
<rect x="405.0" y="281.55" width="3.99" height="2.93" fill="#f7d6cc"/>
<rect x="408.0" y="281.55" width="3.99" height="2.93" fill="#efe9f1"/>
<rect x="411.1" y="281.55" width="3.99" height="2.93" fill="#f9e3dd"/>
<rect x="414.2" y="281.55" width="3.99" height="2.93" fill="#f3eef3"/>
<rect x="417.3" y="281.55" width="3.99" height="2.93" fill="#faf6f6"/>
<rect x="420.4" y="281.55" width="3.99" height="2.93" fill="#f8ddd4"/>
<rect x="423.5" y="281.55" width="3.99" height="2.93" fill="#eae3ef"/>
<rect x="426.6" y="281.55" width="3.99" height="2.93" fill="#f9eae6"/>
<rect x="429.7" y="281.55" width="3.99" height="2.93" fill="#f9e6e1"/>
<rect x="432.8" y="281.55" width="3.99" height="2.93" fill="#f7d4c9"/>
<rect x="435.8" y="281.55" width="3.99" height="2.93" fill="#f7cdc0"/>
<rect x="438.9" y="281.55" width="3.99" height="2.93" fill="#f5f0f4"/>
<rect x="442.0" y="281.55" width="3.99" height="2.93" fill="#f7d6cc"/>
<rect x="445.1" y="281.55" width="3.99" height="2.93" fill="#f9eeec"/>
<rect x="448.2" y="281.55" width="3.99" height="2.93" fill="#faf4f4"/>
<rect x="451.3" y="281.55" width="3.99" height="2.93" fill="#faf5f4"/>
<rect x="454.4" y="281.55" width="3.99" height="2.93" fill="#f6c9ba"/>
<rect x="457.5" y="281.55" width="3.99" height="2.93" fill="#faf1f0"/>
<rect x="460.6" y="281.55" width="3.99" height="2.93" fill="#ede6f0"/>
<rect x="463.7" y="281.55" width="3.09" height="2.93" fill="#f8f4f5"/>
<rect x="353.9" y="283.57" width="4.00" height="2.93" fill="#f0eaf1"/>
<rect x="357.0" y="283.57" width="4.00" height="2.93" fill="#ebe4ef"/>
<rect x="360.1" y="283.57" width="4.00" height="2.93" fill="#f3eef3"/>
<rect x="363.2" y="283.57" width="4.00" height="2.93" fill="#f2ecf2"/>
<rect x="366.3" y="283.57" width="4.00" height="2.93" fill="#f8dfd8"/>
<rect x="369.4" y="283.57" width="4.00" height="2.93" fill="#f8d7cd"/>
<rect x="372.5" y="283.57" width="4.00" height="2.93" fill="#f9e8e4"/>
<rect x="375.6" y="283.57" width="4.00" height="2.93" fill="#faf2f1"/>
<rect x="378.7" y="283.57" width="4.00" height="2.93" fill="#f8e2dc"/>
<rect x="381.8" y="283.57" width="4.00" height="2.93" fill="#f8ded7"/>
<rect x="384.9" y="283.57" width="3.10" height="2.93" fill="#f7d5cb"/>
<rect x="389.5" y="283.57" width="3.99" height="2.93" fill="#e7e0ed"/>
<rect x="392.6" y="283.57" width="3.99" height="2.93" fill="#f9ebe8"/>
<rect x="395.7" y="283.57" width="3.99" height="2.93" fill="#e6dfed"/>
<rect x="398.8" y="283.57" width="3.99" height="2.93" fill="#faf5f5"/>
<rect x="401.9" y="283.57" width="3.99" height="2.93" fill="#f4eff3"/>
<rect x="405.0" y="283.57" width="3.99" height="2.93" fill="#f9e6e1"/>
<rect x="408.0" y="283.57" width="3.99" height="2.93" fill="#f9f0ed"/>
<rect x="411.1" y="283.57" width="3.99" height="2.93" fill="#e2d9eb"/>
<rect x="414.2" y="283.57" width="3.99" height="2.93" fill="#f9ece9"/>
<rect x="417.3" y="283.57" width="3.99" height="2.93" fill="#f9e9e5"/>
<rect x="420.4" y="283.57" width="3.99" height="2.93" fill="#ebe4ef"/>
<rect x="423.5" y="283.57" width="3.99" height="2.93" fill="#f7d4c9"/>
<rect x="426.6" y="283.57" width="3.99" height="2.93" fill="#f8f3f5"/>
<rect x="429.7" y="283.57" width="3.99" height="2.93" fill="#f9e5df"/>
<rect x="432.8" y="283.57" width="3.99" height="2.93" fill="#ebe4ef"/>
<rect x="435.8" y="283.57" width="3.99" height="2.93" fill="#f9e8e4"/>
<rect x="438.9" y="283.57" width="3.99" height="2.93" fill="#f2edf2"/>
<rect x="442.0" y="283.57" width="3.99" height="2.93" fill="#f2ecf2"/>
<rect x="445.1" y="283.57" width="3.99" height="2.93" fill="#d6cbe6"/>
<rect x="448.2" y="283.57" width="3.99" height="2.93" fill="#f7cec1"/>
<rect x="451.3" y="283.57" width="3.99" height="2.93" fill="#faf3f1"/>
<rect x="454.4" y="283.57" width="3.99" height="2.93" fill="#f1ebf2"/>
<rect x="457.5" y="283.57" width="3.99" height="2.93" fill="#f3edf3"/>
<rect x="460.6" y="283.57" width="3.99" height="2.93" fill="#faf4f3"/>
<rect x="463.7" y="283.57" width="3.09" height="2.93" fill="#f8e2dc"/>
<rect x="353.9" y="285.60" width="4.00" height="2.93" fill="#f8ded6"/>
<rect x="357.0" y="285.60" width="4.00" height="2.93" fill="#faf3f2"/>
<rect x="360.1" y="285.60" width="4.00" height="2.93" fill="#f9e9e4"/>
<rect x="363.2" y="285.60" width="4.00" height="2.93" fill="#f8d8ce"/>
<rect x="366.3" y="285.60" width="4.00" height="2.93" fill="#faf5f5"/>
<rect x="369.4" y="285.60" width="4.00" height="2.93" fill="#f8dad1"/>
<rect x="372.5" y="285.60" width="4.00" height="2.93" fill="#f4eff3"/>
<rect x="375.6" y="285.60" width="4.00" height="2.93" fill="#f8ded6"/>
<rect x="378.7" y="285.60" width="4.00" height="2.93" fill="#f7d4c9"/>
<rect x="381.8" y="285.60" width="4.00" height="2.93" fill="#f8d8ce"/>
<rect x="384.9" y="285.60" width="3.10" height="2.93" fill="#faf1f0"/>
<rect x="389.5" y="285.60" width="3.99" height="2.93" fill="#f7f2f4"/>
<rect x="392.6" y="285.60" width="3.99" height="2.93" fill="#f9e8e3"/>
<rect x="395.7" y="285.60" width="3.99" height="2.93" fill="#f9e7e3"/>
<rect x="398.8" y="285.60" width="3.99" height="2.93" fill="#f8e1da"/>
<rect x="401.9" y="285.60" width="3.99" height="2.93" fill="#f7d4c9"/>
<rect x="405.0" y="285.60" width="3.99" height="2.93" fill="#e6deed"/>
<rect x="408.0" y="285.60" width="3.99" height="2.93" fill="#e6dfed"/>
<rect x="411.1" y="285.60" width="3.99" height="2.93" fill="#f9e6e1"/>
<rect x="414.2" y="285.60" width="3.99" height="2.93" fill="#f9f5f5"/>
<rect x="417.3" y="285.60" width="3.99" height="2.93" fill="#f9edea"/>
<rect x="420.4" y="285.60" width="3.99" height="2.93" fill="#f8ddd5"/>
<rect x="423.5" y="285.60" width="3.99" height="2.93" fill="#f9e7e2"/>
<rect x="426.6" y="285.60" width="3.99" height="2.93" fill="#f9eae6"/>
<rect x="429.7" y="285.60" width="3.99" height="2.93" fill="#dad0e7"/>
<rect x="432.8" y="285.60" width="3.99" height="2.93" fill="#f7f2f5"/>
<rect x="435.8" y="285.60" width="3.99" height="2.93" fill="#f9e7e2"/>
<rect x="438.9" y="285.60" width="3.99" height="2.93" fill="#f9ede9"/>
<rect x="442.0" y="285.60" width="3.99" height="2.93" fill="#f9ece8"/>
<rect x="445.1" y="285.60" width="3.99" height="2.93" fill="#f8d7ce"/>
<rect x="448.2" y="285.60" width="3.99" height="2.93" fill="#f9e5e0"/>
<rect x="451.3" y="285.60" width="3.99" height="2.93" fill="#faf4f3"/>
<rect x="454.4" y="285.60" width="3.99" height="2.93" fill="#e3daeb"/>
<rect x="457.5" y="285.60" width="3.99" height="2.93" fill="#f8dbd3"/>
<rect x="460.6" y="285.60" width="3.99" height="2.93" fill="#f9e9e5"/>
<rect x="463.7" y="285.60" width="3.09" height="2.93" fill="#f7f3f5"/>
<rect x="353.9" y="287.62" width="4.00" height="2.93" fill="#ede7f0"/>
<rect x="357.0" y="287.62" width="4.00" height="2.93" fill="#f9e5df"/>
<rect x="360.1" y="287.62" width="4.00" height="2.93" fill="#f9e5df"/>
<rect x="363.2" y="287.62" width="4.00" height="2.93" fill="#e9e2ee"/>
<rect x="366.3" y="287.62" width="4.00" height="2.93" fill="#e2d9eb"/>
<rect x="369.4" y="287.62" width="4.00" height="2.93" fill="#ece6f0"/>
<rect x="372.5" y="287.62" width="4.00" height="2.93" fill="#f6f1f4"/>
<rect x="375.6" y="287.62" width="4.00" height="2.93" fill="#f9f4f5"/>
<rect x="378.7" y="287.62" width="4.00" height="2.93" fill="#eae3ef"/>
<rect x="381.8" y="287.62" width="4.00" height="2.93" fill="#dad0e7"/>
<rect x="384.9" y="287.62" width="3.10" height="2.93" fill="#e3daeb"/>
<rect x="389.5" y="287.62" width="3.99" height="2.93" fill="#d9cee7"/>
<rect x="392.6" y="287.62" width="3.99" height="2.93" fill="#ded5e9"/>
<rect x="395.7" y="287.62" width="3.99" height="2.93" fill="#ece5f0"/>
<rect x="398.8" y="287.62" width="3.99" height="2.93" fill="#f9e3de"/>
<rect x="401.9" y="287.62" width="3.99" height="2.93" fill="#f6f1f4"/>
<rect x="405.0" y="287.62" width="3.99" height="2.93" fill="#f8e2dc"/>
<rect x="408.0" y="287.62" width="3.99" height="2.93" fill="#f0eaf2"/>
<rect x="411.1" y="287.62" width="3.99" height="2.93" fill="#ded4e9"/>
<rect x="414.2" y="287.62" width="3.99" height="2.93" fill="#ede6f0"/>
<rect x="417.3" y="287.62" width="3.99" height="2.93" fill="#d8cde6"/>
<rect x="420.4" y="287.62" width="3.99" height="2.93" fill="#faf5f4"/>
<rect x="423.5" y="287.62" width="3.99" height="2.93" fill="#f1ebf2"/>
<rect x="426.6" y="287.62" width="3.99" height="2.93" fill="#f6f1f4"/>
<rect x="429.7" y="287.62" width="3.99" height="2.93" fill="#f8e3dd"/>
<rect x="432.8" y="287.62" width="3.99" height="2.93" fill="#f5f1f4"/>
<rect x="435.8" y="287.62" width="3.99" height="2.93" fill="#e5deed"/>
<rect x="438.9" y="287.62" width="3.99" height="2.93" fill="#f9f5f6"/>
<rect x="442.0" y="287.62" width="3.99" height="2.93" fill="#ebe4ef"/>
<rect x="445.1" y="287.62" width="3.99" height="2.93" fill="#d3c8e4"/>
<rect x="448.2" y="287.62" width="3.99" height="2.93" fill="#faf1f0"/>
<rect x="451.3" y="287.62" width="3.99" height="2.93" fill="#e9e2ee"/>
<rect x="454.4" y="287.62" width="3.99" height="2.93" fill="#f8d9d0"/>
<rect x="457.5" y="287.62" width="3.99" height="2.93" fill="#faf2f1"/>
<rect x="460.6" y="287.62" width="3.99" height="2.93" fill="#f4eef3"/>
<rect x="463.7" y="287.62" width="3.09" height="2.93" fill="#faf2f1"/>
<rect x="353.9" y="289.65" width="4.00" height="2.93" fill="#faf0ef"/>
<rect x="357.0" y="289.65" width="4.00" height="2.93" fill="#faf1ef"/>
<rect x="360.1" y="289.65" width="4.00" height="2.93" fill="#ede6f0"/>
<rect x="363.2" y="289.65" width="4.00" height="2.93" fill="#f0eaf1"/>
<rect x="366.3" y="289.65" width="4.00" height="2.93" fill="#f4eff3"/>
<rect x="369.4" y="289.65" width="4.00" height="2.93" fill="#efe9f1"/>
<rect x="372.5" y="289.65" width="4.00" height="2.93" fill="#f9e4de"/>
<rect x="375.6" y="289.65" width="4.00" height="2.93" fill="#e6deed"/>
<rect x="378.7" y="289.65" width="4.00" height="2.93" fill="#e8e1ee"/>
<rect x="381.8" y="289.65" width="4.00" height="2.93" fill="#e4dbec"/>
<rect x="384.9" y="289.65" width="3.10" height="2.93" fill="#f1ebf2"/>
<rect x="389.5" y="289.65" width="3.99" height="2.93" fill="#f9e9e5"/>
<rect x="392.6" y="289.65" width="3.99" height="2.93" fill="#f8f3f5"/>
<rect x="395.7" y="289.65" width="3.99" height="2.93" fill="#eee8f1"/>
<rect x="398.8" y="289.65" width="3.99" height="2.93" fill="#dbd1e8"/>
<rect x="401.9" y="289.65" width="3.99" height="2.93" fill="#f4eff3"/>
<rect x="405.0" y="289.65" width="3.99" height="2.93" fill="#f8e1da"/>
<rect x="408.0" y="289.65" width="3.99" height="2.93" fill="#ece5f0"/>
<rect x="411.1" y="289.65" width="3.99" height="2.93" fill="#f8e2dc"/>
<rect x="414.2" y="289.65" width="3.99" height="2.93" fill="#e9e1ee"/>
<rect x="417.3" y="289.65" width="3.99" height="2.93" fill="#cec1e2"/>
<rect x="420.4" y="289.65" width="3.99" height="2.93" fill="#f9eeec"/>
<rect x="423.5" y="289.65" width="3.99" height="2.93" fill="#f8dfd8"/>
<rect x="426.6" y="289.65" width="3.99" height="2.93" fill="#f7f3f5"/>
<rect x="429.7" y="289.65" width="3.99" height="2.93" fill="#f8f3f5"/>
<rect x="432.8" y="289.65" width="3.99" height="2.93" fill="#f1ecf2"/>
<rect x="435.8" y="289.65" width="3.99" height="2.93" fill="#f9ece9"/>
<rect x="438.9" y="289.65" width="3.99" height="2.93" fill="#f6f1f4"/>
<rect x="442.0" y="289.65" width="3.99" height="2.93" fill="#f9f5f6"/>
<rect x="445.1" y="289.65" width="3.99" height="2.93" fill="#d5cae5"/>
<rect x="448.2" y="289.65" width="3.99" height="2.93" fill="#e5dded"/>
<rect x="451.3" y="289.65" width="3.99" height="2.93" fill="#e6deed"/>
<rect x="454.4" y="289.65" width="3.99" height="2.93" fill="#ece5f0"/>
<rect x="457.5" y="289.65" width="3.99" height="2.93" fill="#f9ebe8"/>
<rect x="460.6" y="289.65" width="3.99" height="2.93" fill="#e7e0ed"/>
<rect x="463.7" y="289.65" width="3.09" height="2.93" fill="#f9ece8"/>
<rect x="353.9" y="291.68" width="4.00" height="2.93" fill="#f4eef3"/>
<rect x="357.0" y="291.68" width="4.00" height="2.93" fill="#f9ede9"/>
<rect x="360.1" y="291.68" width="4.00" height="2.93" fill="#f6f1f4"/>
<rect x="363.2" y="291.68" width="4.00" height="2.93" fill="#faf4f4"/>
<rect x="366.3" y="291.68" width="4.00" height="2.93" fill="#f7f3f5"/>
<rect x="369.4" y="291.68" width="4.00" height="2.93" fill="#f6bfad"/>
<rect x="372.5" y="291.68" width="4.00" height="2.93" fill="#faf6f6"/>
<rect x="375.6" y="291.68" width="4.00" height="2.93" fill="#f2ecf2"/>
<rect x="378.7" y="291.68" width="4.00" height="2.93" fill="#f9e4de"/>
<rect x="381.8" y="291.68" width="4.00" height="2.93" fill="#faf6f6"/>
<rect x="384.9" y="291.68" width="3.10" height="2.93" fill="#f3edf3"/>
<rect x="389.5" y="291.68" width="3.99" height="2.93" fill="#e0d7ea"/>
<rect x="392.6" y="291.68" width="3.99" height="2.93" fill="#e5ddec"/>
<rect x="395.7" y="291.68" width="3.99" height="2.93" fill="#f6f1f4"/>
<rect x="398.8" y="291.68" width="3.99" height="2.93" fill="#faf6f6"/>
<rect x="401.9" y="291.68" width="3.99" height="2.93" fill="#f8ddd5"/>
<rect x="405.0" y="291.68" width="3.99" height="2.93" fill="#f7d2c7"/>
<rect x="408.0" y="291.68" width="3.99" height="2.93" fill="#f9ece8"/>
<rect x="411.1" y="291.68" width="3.99" height="2.93" fill="#f7d6cc"/>
<rect x="414.2" y="291.68" width="3.99" height="2.93" fill="#e7e0ed"/>
<rect x="417.3" y="291.68" width="3.99" height="2.93" fill="#e4dbec"/>
<rect x="420.4" y="291.68" width="3.99" height="2.93" fill="#ede6f0"/>
<rect x="423.5" y="291.68" width="3.99" height="2.93" fill="#e9e2ee"/>
<rect x="426.6" y="291.68" width="3.99" height="2.93" fill="#f9ece8"/>
<rect x="429.7" y="291.68" width="3.99" height="2.93" fill="#e1d8ea"/>
<rect x="432.8" y="291.68" width="3.99" height="2.93" fill="#faf6f6"/>
<rect x="435.8" y="291.68" width="3.99" height="2.93" fill="#f9efec"/>
<rect x="438.9" y="291.68" width="3.99" height="2.93" fill="#e7e0ed"/>
<rect x="442.0" y="291.68" width="3.99" height="2.93" fill="#eee8f1"/>
<rect x="445.1" y="291.68" width="3.99" height="2.93" fill="#f2edf2"/>
<rect x="448.2" y="291.68" width="3.99" height="2.93" fill="#eee7f0"/>
<rect x="451.3" y="291.68" width="3.99" height="2.93" fill="#f8d9d0"/>
<rect x="454.4" y="291.68" width="3.99" height="2.93" fill="#f7f3f5"/>
<rect x="457.5" y="291.68" width="3.99" height="2.93" fill="#f1ebf2"/>
<rect x="460.6" y="291.68" width="3.99" height="2.93" fill="#faf1ef"/>
<rect x="463.7" y="291.68" width="3.09" height="2.93" fill="#faf0ee"/>
<rect x="353.9" y="293.70" width="4.00" height="2.93" fill="#faf4f3"/>
<rect x="357.0" y="293.70" width="4.00" height="2.93" fill="#f3eef3"/>
<rect x="360.1" y="293.70" width="4.00" height="2.93" fill="#f9e3dd"/>
<rect x="363.2" y="293.70" width="4.00" height="2.93" fill="#f5f0f4"/>
<rect x="366.3" y="293.70" width="4.00" height="2.93" fill="#f7cbbe"/>
<rect x="369.4" y="293.70" width="4.00" height="2.93" fill="#ded5e9"/>
<rect x="372.5" y="293.70" width="4.00" height="2.93" fill="#f4eff3"/>
<rect x="375.6" y="293.70" width="4.00" height="2.93" fill="#e9e2ee"/>
<rect x="378.7" y="293.70" width="4.00" height="2.93" fill="#faf1ef"/>
<rect x="381.8" y="293.70" width="4.00" height="2.93" fill="#f7d3c8"/>
<rect x="384.9" y="293.70" width="3.10" height="2.93" fill="#f6f1f4"/>
<rect x="389.5" y="293.70" width="3.99" height="2.93" fill="#f8dcd4"/>
<rect x="392.6" y="293.70" width="3.99" height="2.93" fill="#f8d7cd"/>
<rect x="395.7" y="293.70" width="3.99" height="2.93" fill="#f9eeec"/>
<rect x="398.8" y="293.70" width="3.99" height="2.93" fill="#f6c8b9"/>
<rect x="401.9" y="293.70" width="3.99" height="2.93" fill="#faf2f1"/>
<rect x="405.0" y="293.70" width="3.99" height="2.93" fill="#f9edeb"/>
<rect x="408.0" y="293.70" width="3.99" height="2.93" fill="#f7d3c8"/>
<rect x="411.1" y="293.70" width="3.99" height="2.93" fill="#f2ecf2"/>
<rect x="414.2" y="293.70" width="3.99" height="2.93" fill="#f8e0d9"/>
<rect x="417.3" y="293.70" width="3.99" height="2.93" fill="#f7cdc0"/>
<rect x="420.4" y="293.70" width="3.99" height="2.93" fill="#faf5f5"/>
<rect x="423.5" y="293.70" width="3.99" height="2.93" fill="#ede6f0"/>
<rect x="426.6" y="293.70" width="3.99" height="2.93" fill="#f9eae6"/>
<rect x="429.7" y="293.70" width="3.99" height="2.93" fill="#faf1f0"/>
<rect x="432.8" y="293.70" width="3.99" height="2.93" fill="#f8e1da"/>
<rect x="435.8" y="293.70" width="3.99" height="2.93" fill="#ece5ef"/>
<rect x="438.9" y="293.70" width="3.99" height="2.93" fill="#f7d1c5"/>
<rect x="442.0" y="293.70" width="3.99" height="2.93" fill="#f9e9e5"/>
<rect x="445.1" y="293.70" width="3.99" height="2.93" fill="#faf0ee"/>
<rect x="448.2" y="293.70" width="3.99" height="2.93" fill="#f0eaf2"/>
<rect x="451.3" y="293.70" width="3.99" height="2.93" fill="#ede7f0"/>
<rect x="454.4" y="293.70" width="3.99" height="2.93" fill="#e7dfed"/>
<rect x="457.5" y="293.70" width="3.99" height="2.93" fill="#e5dcec"/>
<rect x="460.6" y="293.70" width="3.99" height="2.93" fill="#f9efed"/>
<rect x="463.7" y="293.70" width="3.09" height="2.93" fill="#f8ded7"/>
<rect x="353.9" y="295.73" width="4.00" height="2.93" fill="#ebe4ef"/>
<rect x="357.0" y="295.73" width="4.00" height="2.93" fill="#d3c7e4"/>
<rect x="360.1" y="295.73" width="4.00" height="2.93" fill="#f1ecf2"/>
<rect x="363.2" y="295.73" width="4.00" height="2.93" fill="#d5cae5"/>
<rect x="366.3" y="295.73" width="4.00" height="2.93" fill="#faf6f6"/>
<rect x="369.4" y="295.73" width="4.00" height="2.93" fill="#d8cee7"/>
<rect x="372.5" y="295.73" width="4.00" height="2.93" fill="#e2d9eb"/>
<rect x="375.6" y="295.73" width="4.00" height="2.93" fill="#e8e0ee"/>
<rect x="378.7" y="295.73" width="4.00" height="2.93" fill="#ece5ef"/>
<rect x="381.8" y="295.73" width="4.00" height="2.93" fill="#f2edf2"/>
<rect x="384.9" y="295.73" width="3.10" height="2.93" fill="#f5f0f4"/>
<rect x="389.5" y="295.73" width="3.99" height="2.93" fill="#dcd2e8"/>
<rect x="392.6" y="295.73" width="3.99" height="2.93" fill="#faf6f6"/>
<rect x="395.7" y="295.73" width="3.99" height="2.93" fill="#efe9f1"/>
<rect x="398.8" y="295.73" width="3.99" height="2.93" fill="#e3daeb"/>
<rect x="401.9" y="295.73" width="3.99" height="2.93" fill="#e5ddec"/>
<rect x="405.0" y="295.73" width="3.99" height="2.93" fill="#faf6f6"/>
<rect x="408.0" y="295.73" width="3.99" height="2.93" fill="#f2edf2"/>
<rect x="411.1" y="295.73" width="3.99" height="2.93" fill="#faf6f6"/>
<rect x="414.2" y="295.73" width="3.99" height="2.93" fill="#e4dcec"/>
<rect x="417.3" y="295.73" width="3.99" height="2.93" fill="#f0eaf2"/>
<rect x="420.4" y="295.73" width="3.99" height="2.93" fill="#e1d8ea"/>
<rect x="423.5" y="295.73" width="3.99" height="2.93" fill="#f4eff3"/>
<rect x="426.6" y="295.73" width="3.99" height="2.93" fill="#e9e2ee"/>
<rect x="429.7" y="295.73" width="3.99" height="2.93" fill="#faf6f6"/>
<rect x="432.8" y="295.73" width="3.99" height="2.93" fill="#efe9f1"/>
<rect x="435.8" y="295.73" width="3.99" height="2.93" fill="#c9bcdf"/>
<rect x="438.9" y="295.73" width="3.99" height="2.93" fill="#e3dbeb"/>
<rect x="442.0" y="295.73" width="3.99" height="2.93" fill="#faf6f6"/>
<rect x="445.1" y="295.73" width="3.99" height="2.93" fill="#e0d7ea"/>
<rect x="448.2" y="295.73" width="3.99" height="2.93" fill="#f0eaf1"/>
<rect x="451.3" y="295.73" width="3.99" height="2.93" fill="#bfb0db"/>
<rect x="454.4" y="295.73" width="3.99" height="2.93" fill="#cfc3e2"/>
<rect x="457.5" y="295.73" width="3.99" height="2.93" fill="#ece6f0"/>
<rect x="460.6" y="295.73" width="3.99" height="2.93" fill="#d0c4e3"/>
<rect x="463.7" y="295.73" width="3.09" height="2.93" fill="#ebe4ef"/>
<rect x="353.9" y="297.75" width="4.00" height="2.93" fill="#faf6f6"/>
<rect x="357.0" y="297.75" width="4.00" height="2.93" fill="#faf6f6"/>
<rect x="360.1" y="297.75" width="4.00" height="2.93" fill="#efe8f1"/>
<rect x="363.2" y="297.75" width="4.00" height="2.93" fill="#ede7f0"/>
<rect x="366.3" y="297.75" width="4.00" height="2.93" fill="#faf6f6"/>
<rect x="369.4" y="297.75" width="4.00" height="2.93" fill="#e4dcec"/>
<rect x="372.5" y="297.75" width="4.00" height="2.93" fill="#f7f2f5"/>
<rect x="375.6" y="297.75" width="4.00" height="2.93" fill="#f5f0f4"/>
<rect x="378.7" y="297.75" width="4.00" height="2.93" fill="#bfb0db"/>
<rect x="381.8" y="297.75" width="4.00" height="2.93" fill="#faf6f6"/>
<rect x="384.9" y="297.75" width="3.10" height="2.93" fill="#d9cfe7"/>
<rect x="389.5" y="297.75" width="3.99" height="2.93" fill="#f6f2f4"/>
<rect x="392.6" y="297.75" width="3.99" height="2.93" fill="#faf6f6"/>
<rect x="395.7" y="297.75" width="3.99" height="2.93" fill="#faf6f6"/>
<rect x="398.8" y="297.75" width="3.99" height="2.93" fill="#faf6f6"/>
<rect x="401.9" y="297.75" width="3.99" height="2.93" fill="#eae3ef"/>
<rect x="405.0" y="297.75" width="3.99" height="2.93" fill="#f7f2f4"/>
<rect x="408.0" y="297.75" width="3.99" height="2.93" fill="#ebe4ef"/>
<rect x="411.1" y="297.75" width="3.99" height="2.93" fill="#bfb0db"/>
<rect x="414.2" y="297.75" width="3.99" height="2.93" fill="#f4eff3"/>
<rect x="417.3" y="297.75" width="3.99" height="2.93" fill="#faf6f6"/>
<rect x="420.4" y="297.75" width="3.99" height="2.93" fill="#dad0e7"/>
<rect x="423.5" y="297.75" width="3.99" height="2.93" fill="#faf6f6"/>
<rect x="426.6" y="297.75" width="3.99" height="2.93" fill="#f4eff3"/>
<rect x="429.7" y="297.75" width="3.99" height="2.93" fill="#f7f2f5"/>
<rect x="432.8" y="297.75" width="3.99" height="2.93" fill="#ece5f0"/>
<rect x="435.8" y="297.75" width="3.99" height="2.93" fill="#ded5e9"/>
<rect x="438.9" y="297.75" width="3.99" height="2.93" fill="#f8f4f5"/>
<rect x="442.0" y="297.75" width="3.99" height="2.93" fill="#f4eef3"/>
<rect x="445.1" y="297.75" width="3.99" height="2.93" fill="#faf6f6"/>
<rect x="448.2" y="297.75" width="3.99" height="2.93" fill="#c6b8de"/>
<rect x="451.3" y="297.75" width="3.99" height="2.93" fill="#faf6f6"/>
<rect x="454.4" y="297.75" width="3.99" height="2.93" fill="#d4c9e5"/>
<rect x="457.5" y="297.75" width="3.99" height="2.93" fill="#faf6f6"/>
<rect x="460.6" y="297.75" width="3.99" height="2.93" fill="#e9e2ee"/>
<rect x="463.7" y="297.75" width="3.09" height="2.93" fill="#eee8f1"/>
<rect x="353.9" y="299.78" width="4.00" height="2.93" fill="#d7cde6"/>
<rect x="357.0" y="299.78" width="4.00" height="2.93" fill="#f3eef3"/>
<rect x="360.1" y="299.78" width="4.00" height="2.93" fill="#c8badf"/>
<rect x="363.2" y="299.78" width="4.00" height="2.93" fill="#faf6f6"/>
<rect x="366.3" y="299.78" width="4.00" height="2.93" fill="#f0eaf1"/>
<rect x="369.4" y="299.78" width="4.00" height="2.93" fill="#dfd6ea"/>
<rect x="372.5" y="299.78" width="4.00" height="2.93" fill="#eae3ef"/>
<rect x="375.6" y="299.78" width="4.00" height="2.93" fill="#e0d7ea"/>
<rect x="378.7" y="299.78" width="4.00" height="2.93" fill="#faf6f6"/>
<rect x="381.8" y="299.78" width="4.00" height="2.93" fill="#bcadda"/>
<rect x="384.9" y="299.78" width="3.10" height="2.93" fill="#dcd3e8"/>
<rect x="389.5" y="299.78" width="3.99" height="2.93" fill="#c2b4dc"/>
<rect x="392.6" y="299.78" width="3.99" height="2.93" fill="#e5ddec"/>
<rect x="395.7" y="299.78" width="3.99" height="2.93" fill="#f3eef3"/>
<rect x="398.8" y="299.78" width="3.99" height="2.93" fill="#faf6f6"/>
<rect x="401.9" y="299.78" width="3.99" height="2.93" fill="#faf6f6"/>
<rect x="405.0" y="299.78" width="3.99" height="2.93" fill="#e8e1ee"/>
<rect x="408.0" y="299.78" width="3.99" height="2.93" fill="#faf6f6"/>
<rect x="411.1" y="299.78" width="3.99" height="2.93" fill="#ccbfe1"/>
<rect x="414.2" y="299.78" width="3.99" height="2.93" fill="#e6deed"/>
<rect x="417.3" y="299.78" width="3.99" height="2.93" fill="#eae3ef"/>
<rect x="420.4" y="299.78" width="3.99" height="2.93" fill="#ded5e9"/>
<rect x="423.5" y="299.78" width="3.99" height="2.93" fill="#d7cde6"/>
<rect x="426.6" y="299.78" width="3.99" height="2.93" fill="#e2d9eb"/>
<rect x="429.7" y="299.78" width="3.99" height="2.93" fill="#faf6f6"/>
<rect x="432.8" y="299.78" width="3.99" height="2.93" fill="#faf6f6"/>
<rect x="435.8" y="299.78" width="3.99" height="2.93" fill="#e2d9eb"/>
<rect x="438.9" y="299.78" width="3.99" height="2.93" fill="#faf6f6"/>
<rect x="442.0" y="299.78" width="3.99" height="2.93" fill="#b09ed4"/>
<rect x="445.1" y="299.78" width="3.99" height="2.93" fill="#dfd6ea"/>
<rect x="448.2" y="299.78" width="3.99" height="2.93" fill="#faf6f6"/>
<rect x="451.3" y="299.78" width="3.99" height="2.93" fill="#dcd3e8"/>
<rect x="454.4" y="299.78" width="3.99" height="2.93" fill="#faf6f6"/>
<rect x="457.5" y="299.78" width="3.99" height="2.93" fill="#b09ed4"/>
<rect x="460.6" y="299.78" width="3.99" height="2.93" fill="#eee8f0"/>
<rect x="463.7" y="299.78" width="3.09" height="2.93" fill="#d2c7e4"/>
<rect x="353.9" y="301.81" width="4.00" height="2.93" fill="#ede7f0"/>
<rect x="357.0" y="301.81" width="4.00" height="2.93" fill="#e8e0ee"/>
<rect x="360.1" y="301.81" width="4.00" height="2.93" fill="#faf6f6"/>
<rect x="363.2" y="301.81" width="4.00" height="2.93" fill="#d5cbe5"/>
<rect x="366.3" y="301.81" width="4.00" height="2.93" fill="#f9f5f6"/>
<rect x="369.4" y="301.81" width="4.00" height="2.93" fill="#faf6f6"/>
<rect x="372.5" y="301.81" width="4.00" height="2.93" fill="#e2d9eb"/>
<rect x="375.6" y="301.81" width="4.00" height="2.93" fill="#b5a4d6"/>
<rect x="378.7" y="301.81" width="4.00" height="2.93" fill="#b09ed4"/>
<rect x="381.8" y="301.81" width="4.00" height="2.93" fill="#dad0e7"/>
<rect x="384.9" y="301.81" width="3.10" height="2.93" fill="#faf6f6"/>
<rect x="389.5" y="301.81" width="3.99" height="2.93" fill="#faf6f6"/>
<rect x="392.6" y="301.81" width="3.99" height="2.93" fill="#f1ecf2"/>
<rect x="395.7" y="301.81" width="3.99" height="2.93" fill="#e6deed"/>
<rect x="398.8" y="301.81" width="3.99" height="2.93" fill="#bfb0db"/>
<rect x="401.9" y="301.81" width="3.99" height="2.93" fill="#f0eaf1"/>
<rect x="405.0" y="301.81" width="3.99" height="2.93" fill="#f2ecf2"/>
<rect x="408.0" y="301.81" width="3.99" height="2.93" fill="#faf6f6"/>
<rect x="411.1" y="301.81" width="3.99" height="2.93" fill="#f8f4f5"/>
<rect x="414.2" y="301.81" width="3.99" height="2.93" fill="#e8e0ee"/>
<rect x="417.3" y="301.81" width="3.99" height="2.93" fill="#faf6f6"/>
<rect x="420.4" y="301.81" width="3.99" height="2.93" fill="#ddd4e9"/>
<rect x="423.5" y="301.81" width="3.99" height="2.93" fill="#e6deed"/>
<rect x="426.6" y="301.81" width="3.99" height="2.93" fill="#dcd2e8"/>
<rect x="429.7" y="301.81" width="3.99" height="2.93" fill="#b8a8d8"/>
<rect x="432.8" y="301.81" width="3.99" height="2.93" fill="#b09ed4"/>
<rect x="435.8" y="301.81" width="3.99" height="2.93" fill="#efe8f1"/>
<rect x="438.9" y="301.81" width="3.99" height="2.93" fill="#cdc1e1"/>
<rect x="442.0" y="301.81" width="3.99" height="2.93" fill="#eae3ef"/>
<rect x="445.1" y="301.81" width="3.99" height="2.93" fill="#e8e0ee"/>
<rect x="448.2" y="301.81" width="3.99" height="2.93" fill="#c8bbdf"/>
<rect x="451.3" y="301.81" width="3.99" height="2.93" fill="#b09ed4"/>
<rect x="454.4" y="301.81" width="3.99" height="2.93" fill="#faf6f6"/>
<rect x="457.5" y="301.81" width="3.99" height="2.93" fill="#c4b6dd"/>
<rect x="460.6" y="301.81" width="3.99" height="2.93" fill="#ece5f0"/>
<rect x="463.7" y="301.81" width="3.09" height="2.93" fill="#f1ecf2"/>
<rect x="353.9" y="303.83" width="4.00" height="2.93" fill="#e4dbec"/>
<rect x="357.0" y="303.83" width="4.00" height="2.93" fill="#f3eef3"/>
<rect x="360.1" y="303.83" width="4.00" height="2.93" fill="#d5cbe5"/>
<rect x="363.2" y="303.83" width="4.00" height="2.93" fill="#b09ed4"/>
<rect x="366.3" y="303.83" width="4.00" height="2.93" fill="#f6f1f4"/>
<rect x="369.4" y="303.83" width="4.00" height="2.93" fill="#faf6f6"/>
<rect x="372.5" y="303.83" width="4.00" height="2.93" fill="#faf6f6"/>
<rect x="375.6" y="303.83" width="4.00" height="2.93" fill="#e3daeb"/>
<rect x="378.7" y="303.83" width="4.00" height="2.93" fill="#beafdb"/>
<rect x="381.8" y="303.83" width="4.00" height="2.93" fill="#f5eff3"/>
<rect x="384.9" y="303.83" width="3.10" height="2.93" fill="#f7f2f5"/>
<rect x="389.5" y="303.83" width="3.99" height="2.93" fill="#eee8f0"/>
<rect x="392.6" y="303.83" width="3.99" height="2.93" fill="#c9bce0"/>
<rect x="395.7" y="303.83" width="3.99" height="2.93" fill="#faf6f6"/>
<rect x="398.8" y="303.83" width="3.99" height="2.93" fill="#f1ebf2"/>
<rect x="401.9" y="303.83" width="3.99" height="2.93" fill="#ddd3e9"/>
<rect x="405.0" y="303.83" width="3.99" height="2.93" fill="#bfb0db"/>
<rect x="408.0" y="303.83" width="3.99" height="2.93" fill="#dad0e7"/>
<rect x="411.1" y="303.83" width="3.99" height="2.93" fill="#e2daeb"/>
<rect x="414.2" y="303.83" width="3.99" height="2.93" fill="#ede7f0"/>
<rect x="417.3" y="303.83" width="3.99" height="2.93" fill="#e2daeb"/>
<rect x="420.4" y="303.83" width="3.99" height="2.93" fill="#dbd1e8"/>
<rect x="423.5" y="303.83" width="3.99" height="2.93" fill="#f6f1f4"/>
<rect x="426.6" y="303.83" width="3.99" height="2.93" fill="#d2c6e4"/>
<rect x="429.7" y="303.83" width="3.99" height="2.93" fill="#f4eff3"/>
<rect x="432.8" y="303.83" width="3.99" height="2.93" fill="#faf6f6"/>
<rect x="435.8" y="303.83" width="3.99" height="2.93" fill="#faf6f6"/>
<rect x="438.9" y="303.83" width="3.99" height="2.93" fill="#f1ebf2"/>
<rect x="442.0" y="303.83" width="3.99" height="2.93" fill="#e3dbec"/>
<rect x="445.1" y="303.83" width="3.99" height="2.93" fill="#b09ed4"/>
<rect x="448.2" y="303.83" width="3.99" height="2.93" fill="#f8f3f5"/>
<rect x="451.3" y="303.83" width="3.99" height="2.93" fill="#d8cee6"/>
<rect x="454.4" y="303.83" width="3.99" height="2.93" fill="#d5cae5"/>
<rect x="457.5" y="303.83" width="3.99" height="2.93" fill="#faf6f6"/>
<rect x="460.6" y="303.83" width="3.99" height="2.93" fill="#f5f0f4"/>
<rect x="463.7" y="303.83" width="3.09" height="2.93" fill="#f9f5f5"/>
<rect x="353.9" y="305.86" width="4.00" height="2.93" fill="#c4b6dd"/>
<rect x="357.0" y="305.86" width="4.00" height="2.93" fill="#e5ddec"/>
<rect x="360.1" y="305.86" width="4.00" height="2.93" fill="#c0b1db"/>
<rect x="363.2" y="305.86" width="4.00" height="2.93" fill="#e1d9eb"/>
<rect x="366.3" y="305.86" width="4.00" height="2.93" fill="#ccbfe1"/>
<rect x="369.4" y="305.86" width="4.00" height="2.93" fill="#cabde0"/>
<rect x="372.5" y="305.86" width="4.00" height="2.93" fill="#cdc0e1"/>
<rect x="375.6" y="305.86" width="4.00" height="2.93" fill="#e1d8eb"/>
<rect x="378.7" y="305.86" width="4.00" height="2.93" fill="#e1d9eb"/>
<rect x="381.8" y="305.86" width="4.00" height="2.93" fill="#e3dbec"/>
<rect x="384.9" y="305.86" width="3.10" height="2.93" fill="#dbd1e8"/>
<rect x="389.5" y="305.86" width="3.99" height="2.93" fill="#cabde0"/>
<rect x="392.6" y="305.86" width="3.99" height="2.93" fill="#cec2e2"/>
<rect x="395.7" y="305.86" width="3.99" height="2.93" fill="#e8e1ee"/>
<rect x="398.8" y="305.86" width="3.99" height="2.93" fill="#ede7f0"/>
<rect x="401.9" y="305.86" width="3.99" height="2.93" fill="#ebe4ef"/>
<rect x="405.0" y="305.86" width="3.99" height="2.93" fill="#dbd1e8"/>
<rect x="408.0" y="305.86" width="3.99" height="2.93" fill="#ad9bd2"/>
<rect x="411.1" y="305.86" width="3.99" height="2.93" fill="#ded4e9"/>
<rect x="414.2" y="305.86" width="3.99" height="2.93" fill="#d6cce6"/>
<rect x="417.3" y="305.86" width="3.99" height="2.93" fill="#ccbfe1"/>
<rect x="420.4" y="305.86" width="3.99" height="2.93" fill="#d1c6e3"/>
<rect x="423.5" y="305.86" width="3.99" height="2.93" fill="#d2c7e4"/>
<rect x="426.6" y="305.86" width="3.99" height="2.93" fill="#b6a5d7"/>
<rect x="429.7" y="305.86" width="3.99" height="2.93" fill="#c1b3dc"/>
<rect x="432.8" y="305.86" width="3.99" height="2.93" fill="#b4a2d6"/>
<rect x="435.8" y="305.86" width="3.99" height="2.93" fill="#d4c9e4"/>
<rect x="438.9" y="305.86" width="3.99" height="2.93" fill="#d7cde6"/>
<rect x="442.0" y="305.86" width="3.99" height="2.93" fill="#dacfe7"/>
<rect x="445.1" y="305.86" width="3.99" height="2.93" fill="#ded5e9"/>
<rect x="448.2" y="305.86" width="3.99" height="2.93" fill="#e6deed"/>
<rect x="451.3" y="305.86" width="3.99" height="2.93" fill="#beaeda"/>
<rect x="454.4" y="305.86" width="3.99" height="2.93" fill="#d6cbe5"/>
<rect x="457.5" y="305.86" width="3.99" height="2.93" fill="#e2daeb"/>
<rect x="460.6" y="305.86" width="3.99" height="2.93" fill="#faf6f6"/>
<rect x="463.7" y="305.86" width="3.09" height="2.93" fill="#faf6f6"/>
<rect x="353.9" y="307.88" width="4.00" height="2.93" fill="#faf6f6"/>
<rect x="357.0" y="307.88" width="4.00" height="2.93" fill="#faf6f6"/>
<rect x="360.1" y="307.88" width="4.00" height="2.93" fill="#faf6f6"/>
<rect x="363.2" y="307.88" width="4.00" height="2.93" fill="#faf6f6"/>
<rect x="366.3" y="307.88" width="4.00" height="2.93" fill="#f0eaf1"/>
<rect x="369.4" y="307.88" width="4.00" height="2.93" fill="#faf6f6"/>
<rect x="372.5" y="307.88" width="4.00" height="2.93" fill="#faf6f6"/>
<rect x="375.6" y="307.88" width="4.00" height="2.93" fill="#faf6f6"/>
<rect x="378.7" y="307.88" width="4.00" height="2.93" fill="#dad1e8"/>
<rect x="381.8" y="307.88" width="4.00" height="2.93" fill="#faf6f6"/>
<rect x="384.9" y="307.88" width="3.10" height="2.93" fill="#faf6f6"/>
<rect x="389.5" y="307.88" width="3.99" height="2.93" fill="#faf6f6"/>
<rect x="392.6" y="307.88" width="3.99" height="2.93" fill="#ded5e9"/>
<rect x="395.7" y="307.88" width="3.99" height="2.93" fill="#f4eff3"/>
<rect x="398.8" y="307.88" width="3.99" height="2.93" fill="#faf6f6"/>
<rect x="401.9" y="307.88" width="3.99" height="2.93" fill="#faf6f6"/>
<rect x="405.0" y="307.88" width="3.99" height="2.93" fill="#f4eff3"/>
<rect x="408.0" y="307.88" width="3.99" height="2.93" fill="#f6f1f4"/>
<rect x="411.1" y="307.88" width="3.99" height="2.93" fill="#ebe4ef"/>
<rect x="414.2" y="307.88" width="3.99" height="2.93" fill="#e5deed"/>
<rect x="417.3" y="307.88" width="3.99" height="2.93" fill="#faf6f6"/>
<rect x="420.4" y="307.88" width="3.99" height="2.93" fill="#e8e1ee"/>
<rect x="423.5" y="307.88" width="3.99" height="2.93" fill="#faf6f6"/>
<rect x="426.6" y="307.88" width="3.99" height="2.93" fill="#faf6f6"/>
<rect x="429.7" y="307.88" width="3.99" height="2.93" fill="#faf6f6"/>
<rect x="432.8" y="307.88" width="3.99" height="2.93" fill="#faf6f6"/>
<rect x="435.8" y="307.88" width="3.99" height="2.93" fill="#ebe4ef"/>
<rect x="438.9" y="307.88" width="3.99" height="2.93" fill="#f9f5f5"/>
<rect x="442.0" y="307.88" width="3.99" height="2.93" fill="#f8f4f5"/>
<rect x="445.1" y="307.88" width="3.99" height="2.93" fill="#e7dfed"/>
<rect x="448.2" y="307.88" width="3.99" height="2.93" fill="#faf6f6"/>
<rect x="451.3" y="307.88" width="3.99" height="2.93" fill="#faf6f6"/>
<rect x="454.4" y="307.88" width="3.99" height="2.93" fill="#f1ecf2"/>
<rect x="457.5" y="307.88" width="3.99" height="2.93" fill="#faf6f6"/>
<rect x="460.6" y="307.88" width="3.99" height="2.93" fill="#faf6f6"/>
<rect x="463.7" y="307.88" width="3.09" height="2.93" fill="#f6f2f4"/>
<rect x="353.9" y="309.91" width="4.00" height="2.93" fill="#faf6f6"/>
<rect x="357.0" y="309.91" width="4.00" height="2.93" fill="#d9cfe7"/>
<rect x="360.1" y="309.91" width="4.00" height="2.93" fill="#faf6f6"/>
<rect x="363.2" y="309.91" width="4.00" height="2.93" fill="#eae3ef"/>
<rect x="366.3" y="309.91" width="4.00" height="2.93" fill="#f2edf3"/>
<rect x="369.4" y="309.91" width="4.00" height="2.93" fill="#ebe4ef"/>
<rect x="372.5" y="309.91" width="4.00" height="2.93" fill="#faf6f6"/>
<rect x="375.6" y="309.91" width="4.00" height="2.93" fill="#faf6f6"/>
<rect x="378.7" y="309.91" width="4.00" height="2.93" fill="#faf6f6"/>
<rect x="381.8" y="309.91" width="4.00" height="2.93" fill="#f5f0f4"/>
<rect x="384.9" y="309.91" width="3.10" height="2.93" fill="#faf6f6"/>
<rect x="389.5" y="309.91" width="3.99" height="2.93" fill="#e3daeb"/>
<rect x="392.6" y="309.91" width="3.99" height="2.93" fill="#ded5e9"/>
<rect x="395.7" y="309.91" width="3.99" height="2.93" fill="#faf6f6"/>
<rect x="398.8" y="309.91" width="3.99" height="2.93" fill="#eee8f1"/>
<rect x="401.9" y="309.91" width="3.99" height="2.93" fill="#f7f3f5"/>
<rect x="405.0" y="309.91" width="3.99" height="2.93" fill="#e0d7ea"/>
<rect x="408.0" y="309.91" width="3.99" height="2.93" fill="#efe9f1"/>
<rect x="411.1" y="309.91" width="3.99" height="2.93" fill="#f2ecf2"/>
<rect x="414.2" y="309.91" width="3.99" height="2.93" fill="#e3dbec"/>
<rect x="417.3" y="309.91" width="3.99" height="2.93" fill="#e9e2ee"/>
<rect x="420.4" y="309.91" width="3.99" height="2.93" fill="#d1c5e3"/>
<rect x="423.5" y="309.91" width="3.99" height="2.93" fill="#f1ebf2"/>
<rect x="426.6" y="309.91" width="3.99" height="2.93" fill="#dcd2e8"/>
<rect x="429.7" y="309.91" width="3.99" height="2.93" fill="#ede6f0"/>
<rect x="432.8" y="309.91" width="3.99" height="2.93" fill="#b8a7d7"/>
<rect x="435.8" y="309.91" width="3.99" height="2.93" fill="#e4dcec"/>
<rect x="438.9" y="309.91" width="3.99" height="2.93" fill="#b8a7d7"/>
<rect x="442.0" y="309.91" width="3.99" height="2.93" fill="#efe9f1"/>
<rect x="445.1" y="309.91" width="3.99" height="2.93" fill="#dad0e7"/>
<rect x="448.2" y="309.91" width="3.99" height="2.93" fill="#faf6f6"/>
<rect x="451.3" y="309.91" width="3.99" height="2.93" fill="#cec2e2"/>
<rect x="454.4" y="309.91" width="3.99" height="2.93" fill="#faf6f6"/>
<rect x="457.5" y="309.91" width="3.99" height="2.93" fill="#d8cee7"/>
<rect x="460.6" y="309.91" width="3.99" height="2.93" fill="#e4dcec"/>
<rect x="463.7" y="309.91" width="3.09" height="2.93" fill="#ede7f0"/>
<rect x="353.9" y="311.94" width="4.00" height="2.93" fill="#f0eaf1"/>
<rect x="357.0" y="311.94" width="4.00" height="2.93" fill="#faf6f6"/>
<rect x="360.1" y="311.94" width="4.00" height="2.93" fill="#ebe4ef"/>
<rect x="363.2" y="311.94" width="4.00" height="2.93" fill="#ece5f0"/>
<rect x="366.3" y="311.94" width="4.00" height="2.93" fill="#faf6f6"/>
<rect x="369.4" y="311.94" width="4.00" height="2.93" fill="#faf6f6"/>
<rect x="372.5" y="311.94" width="4.00" height="2.93" fill="#f1ecf2"/>
<rect x="375.6" y="311.94" width="4.00" height="2.93" fill="#b6a6d7"/>
<rect x="378.7" y="311.94" width="4.00" height="2.93" fill="#faf6f6"/>
<rect x="381.8" y="311.94" width="4.00" height="2.93" fill="#f6f2f4"/>
<rect x="384.9" y="311.94" width="3.10" height="2.93" fill="#faf6f6"/>
<rect x="389.5" y="311.94" width="3.99" height="2.93" fill="#e9e2ee"/>
<rect x="392.6" y="311.94" width="3.99" height="2.93" fill="#faf5f6"/>
<rect x="395.7" y="311.94" width="3.99" height="2.93" fill="#faf6f6"/>
<rect x="398.8" y="311.94" width="3.99" height="2.93" fill="#e9e2ee"/>
<rect x="401.9" y="311.94" width="3.99" height="2.93" fill="#faf6f6"/>
<rect x="405.0" y="311.94" width="3.99" height="2.93" fill="#d5cae5"/>
<rect x="408.0" y="311.94" width="3.99" height="2.93" fill="#f2ecf2"/>
<rect x="411.1" y="311.94" width="3.99" height="2.93" fill="#faf6f6"/>
<rect x="414.2" y="311.94" width="3.99" height="2.93" fill="#f5f0f4"/>
<rect x="417.3" y="311.94" width="3.99" height="2.93" fill="#faf6f6"/>
<rect x="420.4" y="311.94" width="3.99" height="2.93" fill="#f0eaf1"/>
<rect x="423.5" y="311.94" width="3.99" height="2.93" fill="#f3eef3"/>
<rect x="426.6" y="311.94" width="3.99" height="2.93" fill="#e9e1ee"/>
<rect x="429.7" y="311.94" width="3.99" height="2.93" fill="#f2edf3"/>
<rect x="432.8" y="311.94" width="3.99" height="2.93" fill="#faf6f6"/>
<rect x="435.8" y="311.94" width="3.99" height="2.93" fill="#f6f1f4"/>
<rect x="438.9" y="311.94" width="3.99" height="2.93" fill="#f2ecf2"/>
<rect x="442.0" y="311.94" width="3.99" height="2.93" fill="#faf6f6"/>
<rect x="445.1" y="311.94" width="3.99" height="2.93" fill="#b6a6d7"/>
<rect x="448.2" y="311.94" width="3.99" height="2.93" fill="#faf6f6"/>
<rect x="451.3" y="311.94" width="3.99" height="2.93" fill="#faf6f6"/>
<rect x="454.4" y="311.94" width="3.99" height="2.93" fill="#f4eff3"/>
<rect x="457.5" y="311.94" width="3.99" height="2.93" fill="#a490cc"/>
<rect x="460.6" y="311.94" width="3.99" height="2.93" fill="#f5f0f4"/>
<rect x="463.7" y="311.94" width="3.09" height="2.93" fill="#ede7f0"/>
<rect x="353.9" y="313.96" width="4.00" height="2.93" fill="#faf6f6"/>
<rect x="357.0" y="313.96" width="4.00" height="2.93" fill="#d1c5e3"/>
<rect x="360.1" y="313.96" width="4.00" height="2.93" fill="#ece5ef"/>
<rect x="363.2" y="313.96" width="4.00" height="2.93" fill="#ddd3e9"/>
<rect x="366.3" y="313.96" width="4.00" height="2.93" fill="#d6cbe5"/>
<rect x="369.4" y="313.96" width="4.00" height="2.93" fill="#faf6f6"/>
<rect x="372.5" y="313.96" width="4.00" height="2.93" fill="#faf6f6"/>
<rect x="375.6" y="313.96" width="4.00" height="2.93" fill="#d8cde6"/>
<rect x="378.7" y="313.96" width="4.00" height="2.93" fill="#faf6f6"/>
<rect x="381.8" y="313.96" width="4.00" height="2.93" fill="#d5cae5"/>
<rect x="384.9" y="313.96" width="3.10" height="2.93" fill="#faf6f6"/>
<rect x="389.5" y="313.96" width="3.99" height="2.93" fill="#d0c4e3"/>
<rect x="392.6" y="313.96" width="3.99" height="2.93" fill="#efe8f1"/>
<rect x="395.7" y="313.96" width="3.99" height="2.93" fill="#b5a4d7"/>
<rect x="398.8" y="313.96" width="3.99" height="2.93" fill="#f8f4f5"/>
<rect x="401.9" y="313.96" width="3.99" height="2.93" fill="#e5ddec"/>
<rect x="405.0" y="313.96" width="3.99" height="2.93" fill="#faf6f6"/>
<rect x="408.0" y="313.96" width="3.99" height="2.93" fill="#faf6f6"/>
<rect x="411.1" y="313.96" width="3.99" height="2.93" fill="#e2d9eb"/>
<rect x="414.2" y="313.96" width="3.99" height="2.93" fill="#faf6f6"/>
<rect x="417.3" y="313.96" width="3.99" height="2.93" fill="#faf6f6"/>
<rect x="420.4" y="313.96" width="3.99" height="2.93" fill="#e7e0ed"/>
<rect x="423.5" y="313.96" width="3.99" height="2.93" fill="#e5ddec"/>
<rect x="426.6" y="313.96" width="3.99" height="2.93" fill="#faf6f6"/>
<rect x="429.7" y="313.96" width="3.99" height="2.93" fill="#ede7f0"/>
<rect x="432.8" y="313.96" width="3.99" height="2.93" fill="#f0eaf1"/>
<rect x="435.8" y="313.96" width="3.99" height="2.93" fill="#e5ddec"/>
<rect x="438.9" y="313.96" width="3.99" height="2.93" fill="#faf6f6"/>
<rect x="442.0" y="313.96" width="3.99" height="2.93" fill="#cbbfe1"/>
<rect x="445.1" y="313.96" width="3.99" height="2.93" fill="#f3edf3"/>
<rect x="448.2" y="313.96" width="3.99" height="2.93" fill="#f3edf3"/>
<rect x="451.3" y="313.96" width="3.99" height="2.93" fill="#faf6f6"/>
<rect x="454.4" y="313.96" width="3.99" height="2.93" fill="#e6deed"/>
<rect x="457.5" y="313.96" width="3.99" height="2.93" fill="#f6f1f4"/>
<rect x="460.6" y="313.96" width="3.99" height="2.93" fill="#e9e2ee"/>
<rect x="463.7" y="313.96" width="3.09" height="2.93" fill="#ede6f0"/>
<rect x="353.9" y="315.99" width="4.00" height="2.93" fill="#d1c5e3"/>
<rect x="357.0" y="315.99" width="4.00" height="2.93" fill="#b4a3d6"/>
<rect x="360.1" y="315.99" width="4.00" height="2.93" fill="#e9e2ee"/>
<rect x="363.2" y="315.99" width="4.00" height="2.93" fill="#e8e1ee"/>
<rect x="366.3" y="315.99" width="4.00" height="2.93" fill="#e2d9eb"/>
<rect x="369.4" y="315.99" width="4.00" height="2.93" fill="#d3c7e4"/>
<rect x="372.5" y="315.99" width="4.00" height="2.93" fill="#a18dca"/>
<rect x="375.6" y="315.99" width="4.00" height="2.93" fill="#dfd6ea"/>
<rect x="378.7" y="315.99" width="4.00" height="2.93" fill="#f2ecf2"/>
<rect x="381.8" y="315.99" width="4.00" height="2.93" fill="#beafda"/>
<rect x="384.9" y="315.99" width="3.10" height="2.93" fill="#b5a4d6"/>
<rect x="389.5" y="315.99" width="3.99" height="2.93" fill="#cabce0"/>
<rect x="392.6" y="315.99" width="3.99" height="2.93" fill="#cdc0e1"/>
<rect x="395.7" y="315.99" width="3.99" height="2.93" fill="#efe9f1"/>
<rect x="398.8" y="315.99" width="3.99" height="2.93" fill="#e3dbeb"/>
<rect x="401.9" y="315.99" width="3.99" height="2.93" fill="#c8badf"/>
<rect x="405.0" y="315.99" width="3.99" height="2.93" fill="#c3b4dd"/>
<rect x="408.0" y="315.99" width="3.99" height="2.93" fill="#e9e2ee"/>
<rect x="411.1" y="315.99" width="3.99" height="2.93" fill="#a18dca"/>
<rect x="414.2" y="315.99" width="3.99" height="2.93" fill="#ece6f0"/>
<rect x="417.3" y="315.99" width="3.99" height="2.93" fill="#d9cfe7"/>
<rect x="420.4" y="315.99" width="3.99" height="2.93" fill="#ddd4e9"/>
<rect x="423.5" y="315.99" width="3.99" height="2.93" fill="#b3a2d6"/>
<rect x="426.6" y="315.99" width="3.99" height="2.93" fill="#e4dcec"/>
<rect x="429.7" y="315.99" width="3.99" height="2.93" fill="#faf6f6"/>
<rect x="432.8" y="315.99" width="3.99" height="2.93" fill="#e8e1ee"/>
<rect x="435.8" y="315.99" width="3.99" height="2.93" fill="#b8a7d8"/>
<rect x="438.9" y="315.99" width="3.99" height="2.93" fill="#d2c6e4"/>
<rect x="442.0" y="315.99" width="3.99" height="2.93" fill="#f1ebf2"/>
<rect x="445.1" y="315.99" width="3.99" height="2.93" fill="#e1d8eb"/>
<rect x="448.2" y="315.99" width="3.99" height="2.93" fill="#e6deed"/>
<rect x="451.3" y="315.99" width="3.99" height="2.93" fill="#e4dcec"/>
<rect x="454.4" y="315.99" width="3.99" height="2.93" fill="#e1d8ea"/>
<rect x="457.5" y="315.99" width="3.99" height="2.93" fill="#e1d9eb"/>
<rect x="460.6" y="315.99" width="3.99" height="2.93" fill="#c6b8de"/>
<rect x="463.7" y="315.99" width="3.09" height="2.93" fill="#a18dca"/>
<rect x="353.9" y="318.01" width="4.00" height="2.93" fill="#e4dcec"/>
<rect x="357.0" y="318.01" width="4.00" height="2.93" fill="#faf6f6"/>
<rect x="360.1" y="318.01" width="4.00" height="2.93" fill="#dacfe7"/>
<rect x="363.2" y="318.01" width="4.00" height="2.93" fill="#e4dcec"/>
<rect x="366.3" y="318.01" width="4.00" height="2.93" fill="#e5ddec"/>
<rect x="369.4" y="318.01" width="4.00" height="2.93" fill="#e1d8ea"/>
<rect x="372.5" y="318.01" width="4.00" height="2.93" fill="#f1ebf2"/>
<rect x="375.6" y="318.01" width="4.00" height="2.93" fill="#f4eff3"/>
<rect x="378.7" y="318.01" width="4.00" height="2.93" fill="#baa9d8"/>
<rect x="381.8" y="318.01" width="4.00" height="2.93" fill="#cfc2e2"/>
<rect x="384.9" y="318.01" width="3.10" height="2.93" fill="#faf6f6"/>
<rect x="389.5" y="318.01" width="3.99" height="2.93" fill="#b3a2d6"/>
<rect x="392.6" y="318.01" width="3.99" height="2.93" fill="#c8badf"/>
<rect x="395.7" y="318.01" width="3.99" height="2.93" fill="#faf6f6"/>
<rect x="398.8" y="318.01" width="3.99" height="2.93" fill="#e8e1ee"/>
<rect x="401.9" y="318.01" width="3.99" height="2.93" fill="#e1d8ea"/>
<rect x="405.0" y="318.01" width="3.99" height="2.93" fill="#faf6f6"/>
<rect x="408.0" y="318.01" width="3.99" height="2.93" fill="#f7f3f5"/>
<rect x="411.1" y="318.01" width="3.99" height="2.93" fill="#ebe4ef"/>
<rect x="414.2" y="318.01" width="3.99" height="2.93" fill="#f0ebf2"/>
<rect x="417.3" y="318.01" width="3.99" height="2.93" fill="#f7f2f5"/>
<rect x="420.4" y="318.01" width="3.99" height="2.93" fill="#bfb0db"/>
<rect x="423.5" y="318.01" width="3.99" height="2.93" fill="#eee8f1"/>
<rect x="426.6" y="318.01" width="3.99" height="2.93" fill="#d5cae5"/>
<rect x="429.7" y="318.01" width="3.99" height="2.93" fill="#e8e1ee"/>
<rect x="432.8" y="318.01" width="3.99" height="2.93" fill="#e3daeb"/>
<rect x="435.8" y="318.01" width="3.99" height="2.93" fill="#e7dfed"/>
<rect x="438.9" y="318.01" width="3.99" height="2.93" fill="#e4dcec"/>
<rect x="442.0" y="318.01" width="3.99" height="2.93" fill="#ded5e9"/>
<rect x="445.1" y="318.01" width="3.99" height="2.93" fill="#cec1e2"/>
<rect x="448.2" y="318.01" width="3.99" height="2.93" fill="#faf6f6"/>
<rect x="451.3" y="318.01" width="3.99" height="2.93" fill="#ebe5ef"/>
<rect x="454.4" y="318.01" width="3.99" height="2.93" fill="#b8a7d8"/>
<rect x="457.5" y="318.01" width="3.99" height="2.93" fill="#a08bc9"/>
<rect x="460.6" y="318.01" width="3.99" height="2.93" fill="#dad0e7"/>
<rect x="463.7" y="318.01" width="3.09" height="2.93" fill="#d0c4e3"/>
<rect x="353.9" y="320.04" width="4.00" height="2.93" fill="#ece5ef"/>
<rect x="357.0" y="320.04" width="4.00" height="2.93" fill="#f8f3f5"/>
<rect x="360.1" y="320.04" width="4.00" height="2.93" fill="#eae3ef"/>
<rect x="363.2" y="320.04" width="4.00" height="2.93" fill="#faf6f6"/>
<rect x="366.3" y="320.04" width="4.00" height="2.93" fill="#ebe5ef"/>
<rect x="369.4" y="320.04" width="4.00" height="2.93" fill="#f9f4f5"/>
<rect x="372.5" y="320.04" width="4.00" height="2.93" fill="#dbd1e8"/>
<rect x="375.6" y="320.04" width="4.00" height="2.93" fill="#f7f3f5"/>
<rect x="378.7" y="320.04" width="4.00" height="2.93" fill="#efe9f1"/>
<rect x="381.8" y="320.04" width="4.00" height="2.93" fill="#ebe5ef"/>
<rect x="384.9" y="320.04" width="3.10" height="2.93" fill="#e5ddec"/>
<rect x="389.5" y="320.04" width="3.99" height="2.93" fill="#f7f2f5"/>
<rect x="392.6" y="320.04" width="3.99" height="2.93" fill="#cdc0e1"/>
<rect x="395.7" y="320.04" width="3.99" height="2.93" fill="#eae3ef"/>
<rect x="398.8" y="320.04" width="3.99" height="2.93" fill="#9f8ac8"/>
<rect x="401.9" y="320.04" width="3.99" height="2.93" fill="#b2a1d5"/>
<rect x="405.0" y="320.04" width="3.99" height="2.93" fill="#e6deed"/>
<rect x="408.0" y="320.04" width="3.99" height="2.93" fill="#9f8ac8"/>
<rect x="411.1" y="320.04" width="3.99" height="2.93" fill="#faf6f6"/>
<rect x="414.2" y="320.04" width="3.99" height="2.93" fill="#f5f0f4"/>
<rect x="417.3" y="320.04" width="3.99" height="2.93" fill="#d9cfe7"/>
<rect x="420.4" y="320.04" width="3.99" height="2.93" fill="#faf6f6"/>
<rect x="423.5" y="320.04" width="3.99" height="2.93" fill="#f4eff3"/>
<rect x="426.6" y="320.04" width="3.99" height="2.93" fill="#e8e0ee"/>
<rect x="429.7" y="320.04" width="3.99" height="2.93" fill="#faf6f6"/>
<rect x="432.8" y="320.04" width="3.99" height="2.93" fill="#faf6f6"/>
<rect x="435.8" y="320.04" width="3.99" height="2.93" fill="#9f8ac8"/>
<rect x="438.9" y="320.04" width="3.99" height="2.93" fill="#e6deed"/>
<rect x="442.0" y="320.04" width="3.99" height="2.93" fill="#dad0e7"/>
<rect x="445.1" y="320.04" width="3.99" height="2.93" fill="#faf6f6"/>
<rect x="448.2" y="320.04" width="3.99" height="2.93" fill="#faf6f6"/>
<rect x="451.3" y="320.04" width="3.99" height="2.93" fill="#d9cfe7"/>
<rect x="454.4" y="320.04" width="3.99" height="2.93" fill="#faf6f6"/>
<rect x="457.5" y="320.04" width="3.99" height="2.93" fill="#ded4e9"/>
<rect x="460.6" y="320.04" width="3.99" height="2.93" fill="#f3edf3"/>
<rect x="463.7" y="320.04" width="3.09" height="2.93" fill="#faf6f6"/>
<rect x="353.9" y="322.07" width="4.00" height="2.93" fill="#c2b3dc"/>
<rect x="357.0" y="322.07" width="4.00" height="2.93" fill="#cfc3e2"/>
<rect x="360.1" y="322.07" width="4.00" height="2.93" fill="#faf6f6"/>
<rect x="363.2" y="322.07" width="4.00" height="2.93" fill="#e9e2ee"/>
<rect x="366.3" y="322.07" width="4.00" height="2.93" fill="#d1c6e3"/>
<rect x="369.4" y="322.07" width="4.00" height="2.93" fill="#b1a0d5"/>
<rect x="372.5" y="322.07" width="4.00" height="2.93" fill="#bdaeda"/>
<rect x="375.6" y="322.07" width="4.00" height="2.93" fill="#faf6f6"/>
<rect x="378.7" y="322.07" width="4.00" height="2.93" fill="#faf6f6"/>
<rect x="381.8" y="322.07" width="4.00" height="2.93" fill="#b8a7d8"/>
<rect x="384.9" y="322.07" width="3.10" height="2.93" fill="#c9bce0"/>
<rect x="389.5" y="322.07" width="3.99" height="2.93" fill="#faf6f6"/>
<rect x="392.6" y="322.07" width="3.99" height="2.93" fill="#dfd6ea"/>
<rect x="395.7" y="322.07" width="3.99" height="2.93" fill="#ded5e9"/>
<rect x="398.8" y="322.07" width="3.99" height="2.93" fill="#d9cfe7"/>
<rect x="401.9" y="322.07" width="3.99" height="2.93" fill="#d7cde6"/>
<rect x="405.0" y="322.07" width="3.99" height="2.93" fill="#c0b1db"/>
<rect x="408.0" y="322.07" width="3.99" height="2.93" fill="#c8badf"/>
<rect x="411.1" y="322.07" width="3.99" height="2.93" fill="#bcacd9"/>
<rect x="414.2" y="322.07" width="3.99" height="2.93" fill="#d2c7e4"/>
<rect x="417.3" y="322.07" width="3.99" height="2.93" fill="#c0b1db"/>
<rect x="420.4" y="322.07" width="3.99" height="2.93" fill="#d9cfe7"/>
<rect x="423.5" y="322.07" width="3.99" height="2.93" fill="#e7e0ed"/>
<rect x="426.6" y="322.07" width="3.99" height="2.93" fill="#cbbfe1"/>
<rect x="429.7" y="322.07" width="3.99" height="2.93" fill="#e1d8eb"/>
<rect x="432.8" y="322.07" width="3.99" height="2.93" fill="#e2daeb"/>
<rect x="435.8" y="322.07" width="3.99" height="2.93" fill="#c2b4dc"/>
<rect x="438.9" y="322.07" width="3.99" height="2.93" fill="#dad0e7"/>
<rect x="442.0" y="322.07" width="3.99" height="2.93" fill="#dbd1e8"/>
<rect x="445.1" y="322.07" width="3.99" height="2.93" fill="#bdaeda"/>
<rect x="448.2" y="322.07" width="3.99" height="2.93" fill="#d4c9e4"/>
<rect x="451.3" y="322.07" width="3.99" height="2.93" fill="#ccc0e1"/>
<rect x="454.4" y="322.07" width="3.99" height="2.93" fill="#baa9d8"/>
<rect x="457.5" y="322.07" width="3.99" height="2.93" fill="#bfb0db"/>
<rect x="460.6" y="322.07" width="3.99" height="2.93" fill="#cdc0e1"/>
<rect x="463.7" y="322.07" width="3.09" height="2.93" fill="#c9bce0"/>
<rect x="353.9" y="324.09" width="4.00" height="2.93" fill="#cabde0"/>
<rect x="357.0" y="324.09" width="4.00" height="2.93" fill="#faf6f6"/>
<rect x="360.1" y="324.09" width="4.00" height="2.93" fill="#beafdb"/>
<rect x="363.2" y="324.09" width="4.00" height="2.93" fill="#d0c4e3"/>
<rect x="366.3" y="324.09" width="4.00" height="2.93" fill="#d5cae5"/>
<rect x="369.4" y="324.09" width="4.00" height="2.93" fill="#bdaeda"/>
<rect x="372.5" y="324.09" width="4.00" height="2.93" fill="#cec2e2"/>
<rect x="375.6" y="324.09" width="4.00" height="2.93" fill="#faf6f6"/>
<rect x="378.7" y="324.09" width="4.00" height="2.93" fill="#ae9cd3"/>
<rect x="381.8" y="324.09" width="4.00" height="2.93" fill="#faf6f6"/>
<rect x="384.9" y="324.09" width="3.10" height="2.93" fill="#c9bce0"/>
<rect x="389.5" y="324.09" width="3.99" height="2.93" fill="#cabce0"/>
<rect x="392.6" y="324.09" width="3.99" height="2.93" fill="#cbbee1"/>
<rect x="395.7" y="324.09" width="3.99" height="2.93" fill="#9d87c6"/>
<rect x="398.8" y="324.09" width="3.99" height="2.93" fill="#9c86c6"/>
<rect x="401.9" y="324.09" width="3.99" height="2.93" fill="#b5a4d6"/>
<rect x="405.0" y="324.09" width="3.99" height="2.93" fill="#bdaeda"/>
<rect x="408.0" y="324.09" width="3.99" height="2.93" fill="#bfb0db"/>
<rect x="411.1" y="324.09" width="3.99" height="2.93" fill="#cabde0"/>
<rect x="414.2" y="324.09" width="3.99" height="2.93" fill="#c2b4dc"/>
<rect x="417.3" y="324.09" width="3.99" height="2.93" fill="#c9bce0"/>
<rect x="420.4" y="324.09" width="3.99" height="2.93" fill="#bbabd9"/>
<rect x="423.5" y="324.09" width="3.99" height="2.93" fill="#a692cd"/>
<rect x="426.6" y="324.09" width="3.99" height="2.93" fill="#faf6f6"/>
<rect x="429.7" y="324.09" width="3.99" height="2.93" fill="#f9f5f5"/>
<rect x="432.8" y="324.09" width="3.99" height="2.93" fill="#b5a4d6"/>
<rect x="435.8" y="324.09" width="3.99" height="2.93" fill="#b8a7d8"/>
<rect x="438.9" y="324.09" width="3.99" height="2.93" fill="#a996cf"/>
<rect x="442.0" y="324.09" width="3.99" height="2.93" fill="#bcacd9"/>
<rect x="445.1" y="324.09" width="3.99" height="2.93" fill="#b4a2d6"/>
<rect x="448.2" y="324.09" width="3.99" height="2.93" fill="#d3c8e4"/>
<rect x="451.3" y="324.09" width="3.99" height="2.93" fill="#baaad8"/>
<rect x="454.4" y="324.09" width="3.99" height="2.93" fill="#c1b2dc"/>
<rect x="457.5" y="324.09" width="3.99" height="2.93" fill="#c1b2dc"/>
<rect x="460.6" y="324.09" width="3.99" height="2.93" fill="#cbbee0"/>
<rect x="463.7" y="324.09" width="3.09" height="2.93" fill="#d0c5e3"/>
<rect x="353.9" y="326.12" width="4.00" height="2.93" fill="#e9e2ee"/>
<rect x="357.0" y="326.12" width="4.00" height="2.93" fill="#e8e0ee"/>
<rect x="360.1" y="326.12" width="4.00" height="2.93" fill="#dbd1e8"/>
<rect x="363.2" y="326.12" width="4.00" height="2.93" fill="#eae3ef"/>
<rect x="366.3" y="326.12" width="4.00" height="2.93" fill="#ded5e9"/>
<rect x="369.4" y="326.12" width="4.00" height="2.93" fill="#9a85c5"/>
<rect x="372.5" y="326.12" width="4.00" height="2.93" fill="#faf6f6"/>
<rect x="375.6" y="326.12" width="4.00" height="2.93" fill="#af9dd3"/>
<rect x="378.7" y="326.12" width="4.00" height="2.93" fill="#d5cae5"/>
<rect x="381.8" y="326.12" width="4.00" height="2.93" fill="#d9cfe7"/>
<rect x="384.9" y="326.12" width="3.10" height="2.93" fill="#d2c7e4"/>
<rect x="389.5" y="326.12" width="3.99" height="2.93" fill="#e7e0ed"/>
<rect x="392.6" y="326.12" width="3.99" height="2.93" fill="#e3dbec"/>
<rect x="395.7" y="326.12" width="3.99" height="2.93" fill="#e2d9eb"/>
<rect x="398.8" y="326.12" width="3.99" height="2.93" fill="#9a85c5"/>
<rect x="401.9" y="326.12" width="3.99" height="2.93" fill="#dad0e7"/>
<rect x="405.0" y="326.12" width="3.99" height="2.93" fill="#e7dfed"/>
<rect x="408.0" y="326.12" width="3.99" height="2.93" fill="#d7cce6"/>
<rect x="411.1" y="326.12" width="3.99" height="2.93" fill="#faf6f6"/>
<rect x="414.2" y="326.12" width="3.99" height="2.93" fill="#c4b6dd"/>
<rect x="417.3" y="326.12" width="3.99" height="2.93" fill="#f1ebf2"/>
<rect x="420.4" y="326.12" width="3.99" height="2.93" fill="#faf6f6"/>
<rect x="423.5" y="326.12" width="3.99" height="2.93" fill="#faf6f6"/>
<rect x="426.6" y="326.12" width="3.99" height="2.93" fill="#d6cbe5"/>
<rect x="429.7" y="326.12" width="3.99" height="2.93" fill="#f6f2f4"/>
<rect x="432.8" y="326.12" width="3.99" height="2.93" fill="#ccc0e1"/>
<rect x="435.8" y="326.12" width="3.99" height="2.93" fill="#d8cde6"/>
<rect x="438.9" y="326.12" width="3.99" height="2.93" fill="#faf6f6"/>
<rect x="442.0" y="326.12" width="3.99" height="2.93" fill="#e9e2ee"/>
<rect x="445.1" y="326.12" width="3.99" height="2.93" fill="#af9dd3"/>
<rect x="448.2" y="326.12" width="3.99" height="2.93" fill="#faf6f6"/>
<rect x="451.3" y="326.12" width="3.99" height="2.93" fill="#e6deed"/>
<rect x="454.4" y="326.12" width="3.99" height="2.93" fill="#dbd1e8"/>
<rect x="457.5" y="326.12" width="3.99" height="2.93" fill="#faf6f6"/>
<rect x="460.6" y="326.12" width="3.99" height="2.93" fill="#c9bce0"/>
<rect x="463.7" y="326.12" width="3.09" height="2.93" fill="#d5c9e5"/>
<rect x="353.9" y="328.14" width="4.00" height="2.93" fill="#9882c3"/>
<rect x="357.0" y="328.14" width="4.00" height="2.93" fill="#faf6f6"/>
<rect x="360.1" y="328.14" width="4.00" height="2.93" fill="#a28eca"/>
<rect x="363.2" y="328.14" width="4.00" height="2.93" fill="#b3a1d5"/>
<rect x="366.3" y="328.14" width="4.00" height="2.93" fill="#cfc2e2"/>
<rect x="369.4" y="328.14" width="4.00" height="2.93" fill="#ac99d1"/>
<rect x="372.5" y="328.14" width="4.00" height="2.93" fill="#c8bbdf"/>
<rect x="375.6" y="328.14" width="4.00" height="2.93" fill="#c6b9de"/>
<rect x="378.7" y="328.14" width="4.00" height="2.93" fill="#beafda"/>
<rect x="381.8" y="328.14" width="4.00" height="2.93" fill="#cfc3e2"/>
<rect x="384.9" y="328.14" width="3.10" height="2.93" fill="#b19fd4"/>
<rect x="389.5" y="328.14" width="3.99" height="2.93" fill="#faf6f6"/>
<rect x="392.6" y="328.14" width="3.99" height="2.93" fill="#a692cd"/>
<rect x="395.7" y="328.14" width="3.99" height="2.93" fill="#9983c4"/>
<rect x="398.8" y="328.14" width="3.99" height="2.93" fill="#b8a8d8"/>
<rect x="401.9" y="328.14" width="3.99" height="2.93" fill="#8b73ba"/>
<rect x="405.0" y="328.14" width="3.99" height="2.93" fill="#d8cee6"/>
<rect x="408.0" y="328.14" width="3.99" height="2.93" fill="#cabde0"/>
<rect x="411.1" y="328.14" width="3.99" height="2.93" fill="#d5cae5"/>
<rect x="414.2" y="328.14" width="3.99" height="2.93" fill="#faf6f6"/>
<rect x="417.3" y="328.14" width="3.99" height="2.93" fill="#cabde0"/>
<rect x="420.4" y="328.14" width="3.99" height="2.93" fill="#a794ce"/>
<rect x="423.5" y="328.14" width="3.99" height="2.93" fill="#e1d8ea"/>
<rect x="426.6" y="328.14" width="3.99" height="2.93" fill="#c0b1dc"/>
<rect x="429.7" y="328.14" width="3.99" height="2.93" fill="#b09ed4"/>
<rect x="432.8" y="328.14" width="3.99" height="2.93" fill="#b8a8d8"/>
<rect x="435.8" y="328.14" width="3.99" height="2.93" fill="#bcacd9"/>
<rect x="438.9" y="328.14" width="3.99" height="2.93" fill="#b3a1d5"/>
<rect x="442.0" y="328.14" width="3.99" height="2.93" fill="#baaad9"/>
<rect x="445.1" y="328.14" width="3.99" height="2.93" fill="#faf6f6"/>
<rect x="448.2" y="328.14" width="3.99" height="2.93" fill="#c9bce0"/>
<rect x="451.3" y="328.14" width="3.99" height="2.93" fill="#bcacd9"/>
<rect x="454.4" y="328.14" width="3.99" height="2.93" fill="#bdaeda"/>
<rect x="457.5" y="328.14" width="3.99" height="2.93" fill="#c4b6dd"/>
<rect x="460.6" y="328.14" width="3.99" height="2.93" fill="#bcacd9"/>
<rect x="463.7" y="328.14" width="3.09" height="2.93" fill="#b2a1d5"/>
<rect x="353.9" y="330.17" width="4.00" height="2.93" fill="#faf6f6"/>
<rect x="357.0" y="330.17" width="4.00" height="2.93" fill="#faf6f6"/>
<rect x="360.1" y="330.17" width="4.00" height="2.93" fill="#dad1e8"/>
<rect x="363.2" y="330.17" width="4.00" height="2.93" fill="#e6deed"/>
<rect x="366.3" y="330.17" width="4.00" height="2.93" fill="#ac9ad1"/>
<rect x="369.4" y="330.17" width="4.00" height="2.93" fill="#d8cee6"/>
<rect x="372.5" y="330.17" width="4.00" height="2.93" fill="#e7dfed"/>
<rect x="375.6" y="330.17" width="4.00" height="2.93" fill="#ac9ad1"/>
<rect x="378.7" y="330.17" width="4.00" height="2.93" fill="#dcd3e8"/>
<rect x="381.8" y="330.17" width="4.00" height="2.93" fill="#efe9f1"/>
<rect x="384.9" y="330.17" width="3.10" height="2.93" fill="#f8f4f5"/>
<rect x="389.5" y="330.17" width="3.99" height="2.93" fill="#dfd6ea"/>
<rect x="392.6" y="330.17" width="3.99" height="2.93" fill="#9881c3"/>
<rect x="395.7" y="330.17" width="3.99" height="2.93" fill="#e1d8ea"/>
<rect x="398.8" y="330.17" width="3.99" height="2.93" fill="#e7dfed"/>
<rect x="401.9" y="330.17" width="3.99" height="2.93" fill="#e2daeb"/>
<rect x="405.0" y="330.17" width="3.99" height="2.93" fill="#f7f3f5"/>
<rect x="408.0" y="330.17" width="3.99" height="2.93" fill="#dad0e7"/>
<rect x="411.1" y="330.17" width="3.99" height="2.93" fill="#cdc1e1"/>
<rect x="414.2" y="330.17" width="3.99" height="2.93" fill="#d7cce6"/>
<rect x="417.3" y="330.17" width="3.99" height="2.93" fill="#f8f4f5"/>
<rect x="420.4" y="330.17" width="3.99" height="2.93" fill="#ac9ad1"/>
<rect x="423.5" y="330.17" width="3.99" height="2.93" fill="#faf6f6"/>
<rect x="426.6" y="330.17" width="3.99" height="2.93" fill="#faf6f6"/>
<rect x="429.7" y="330.17" width="3.99" height="2.93" fill="#d2c6e4"/>
<rect x="432.8" y="330.17" width="3.99" height="2.93" fill="#f9f4f5"/>
<rect x="435.8" y="330.17" width="3.99" height="2.93" fill="#f3edf3"/>
<rect x="438.9" y="330.17" width="3.99" height="2.93" fill="#faf6f6"/>
<rect x="442.0" y="330.17" width="3.99" height="2.93" fill="#faf6f6"/>
<rect x="445.1" y="330.17" width="3.99" height="2.93" fill="#cfc3e2"/>
<rect x="448.2" y="330.17" width="3.99" height="2.93" fill="#ede6f0"/>
<rect x="451.3" y="330.17" width="3.99" height="2.93" fill="#dcd2e8"/>
<rect x="454.4" y="330.17" width="3.99" height="2.93" fill="#dcd3e8"/>
<rect x="457.5" y="330.17" width="3.99" height="2.93" fill="#e5ddec"/>
<rect x="460.6" y="330.17" width="3.99" height="2.93" fill="#e0d7ea"/>
<rect x="463.7" y="330.17" width="3.09" height="2.93" fill="#dcd2e8"/>
<rect x="353.9" y="332.20" width="4.00" height="2.93" fill="#ddd4e9"/>
<rect x="357.0" y="332.20" width="4.00" height="2.93" fill="#d5cae5"/>
<rect x="360.1" y="332.20" width="4.00" height="2.93" fill="#dad1e8"/>
<rect x="363.2" y="332.20" width="4.00" height="2.93" fill="#d7cce6"/>
<rect x="366.3" y="332.20" width="4.00" height="2.93" fill="#ad9ad2"/>
<rect x="369.4" y="332.20" width="4.00" height="2.93" fill="#cec2e2"/>
<rect x="372.5" y="332.20" width="4.00" height="2.93" fill="#c2b3dc"/>
<rect x="375.6" y="332.20" width="4.00" height="2.93" fill="#ccc0e1"/>
<rect x="378.7" y="332.20" width="4.00" height="2.93" fill="#b9a9d8"/>
<rect x="381.8" y="332.20" width="4.00" height="2.93" fill="#b3a1d5"/>
<rect x="384.9" y="332.20" width="3.10" height="2.93" fill="#dcd3e8"/>
<rect x="389.5" y="332.20" width="3.99" height="2.93" fill="#c1b3dc"/>
<rect x="392.6" y="332.20" width="3.99" height="2.93" fill="#dcd2e8"/>
<rect x="395.7" y="332.20" width="3.99" height="2.93" fill="#b9a9d8"/>
<rect x="398.8" y="332.20" width="3.99" height="2.93" fill="#c5b8de"/>
<rect x="401.9" y="332.20" width="3.99" height="2.93" fill="#ab98d0"/>
<rect x="405.0" y="332.20" width="3.99" height="2.93" fill="#9680c2"/>
<rect x="408.0" y="332.20" width="3.99" height="2.93" fill="#d5cae5"/>
<rect x="411.1" y="332.20" width="3.99" height="2.93" fill="#faf6f6"/>
<rect x="414.2" y="332.20" width="3.99" height="2.93" fill="#d1c5e3"/>
<rect x="417.3" y="332.20" width="3.99" height="2.93" fill="#e2d9eb"/>
<rect x="420.4" y="332.20" width="3.99" height="2.93" fill="#faf6f6"/>
<rect x="423.5" y="332.20" width="3.99" height="2.93" fill="#dfd6ea"/>
<rect x="426.6" y="332.20" width="3.99" height="2.93" fill="#e6deed"/>
<rect x="429.7" y="332.20" width="3.99" height="2.93" fill="#d7cde6"/>
<rect x="432.8" y="332.20" width="3.99" height="2.93" fill="#d6cbe5"/>
<rect x="435.8" y="332.20" width="3.99" height="2.93" fill="#cabce0"/>
<rect x="438.9" y="332.20" width="3.99" height="2.93" fill="#d5cae5"/>
<rect x="442.0" y="332.20" width="3.99" height="2.93" fill="#e7e0ed"/>
<rect x="445.1" y="332.20" width="3.99" height="2.93" fill="#9680c2"/>
<rect x="448.2" y="332.20" width="3.99" height="2.93" fill="#ccc0e1"/>
<rect x="451.3" y="332.20" width="3.99" height="2.93" fill="#ab98d0"/>
<rect x="454.4" y="332.20" width="3.99" height="2.93" fill="#c7badf"/>
<rect x="457.5" y="332.20" width="3.99" height="2.93" fill="#c9bce0"/>
<rect x="460.6" y="332.20" width="3.99" height="2.93" fill="#cec1e2"/>
<rect x="463.7" y="332.20" width="3.09" height="2.93" fill="#bfb0db"/>
<rect x="353.9" y="334.22" width="4.00" height="2.93" fill="#f8f3f5"/>
<rect x="357.0" y="334.22" width="4.00" height="2.93" fill="#cfc3e2"/>
<rect x="360.1" y="334.22" width="4.00" height="2.93" fill="#d6cce6"/>
<rect x="363.2" y="334.22" width="4.00" height="2.93" fill="#faf6f6"/>
<rect x="366.3" y="334.22" width="4.00" height="2.93" fill="#b8a7d7"/>
<rect x="369.4" y="334.22" width="4.00" height="2.93" fill="#aa96cf"/>
<rect x="372.5" y="334.22" width="4.00" height="2.93" fill="#c4b6dd"/>
<rect x="375.6" y="334.22" width="4.00" height="2.93" fill="#aa96cf"/>
<rect x="378.7" y="334.22" width="4.00" height="2.93" fill="#d3c7e4"/>
<rect x="381.8" y="334.22" width="4.00" height="2.93" fill="#cdc1e1"/>
<rect x="384.9" y="334.22" width="3.10" height="2.93" fill="#e2d9eb"/>
<rect x="389.5" y="334.22" width="3.99" height="2.93" fill="#e7dfed"/>
<rect x="392.6" y="334.22" width="3.99" height="2.93" fill="#aa96cf"/>
<rect x="395.7" y="334.22" width="3.99" height="2.93" fill="#faf6f6"/>
<rect x="398.8" y="334.22" width="3.99" height="2.93" fill="#d0c4e3"/>
<rect x="401.9" y="334.22" width="3.99" height="2.93" fill="#e6dfed"/>
<rect x="405.0" y="334.22" width="3.99" height="2.93" fill="#cec2e2"/>
<rect x="408.0" y="334.22" width="3.99" height="2.93" fill="#ddd3e8"/>
<rect x="411.1" y="334.22" width="3.99" height="2.93" fill="#efe9f1"/>
<rect x="414.2" y="334.22" width="3.99" height="2.93" fill="#dfd6ea"/>
<rect x="417.3" y="334.22" width="3.99" height="2.93" fill="#d6cbe6"/>
<rect x="420.4" y="334.22" width="3.99" height="2.93" fill="#e9e2ee"/>
<rect x="423.5" y="334.22" width="3.99" height="2.93" fill="#c8badf"/>
<rect x="426.6" y="334.22" width="3.99" height="2.93" fill="#e2d9eb"/>
<rect x="429.7" y="334.22" width="3.99" height="2.93" fill="#d4c9e5"/>
<rect x="432.8" y="334.22" width="3.99" height="2.93" fill="#faf6f6"/>
<rect x="435.8" y="334.22" width="3.99" height="2.93" fill="#957ec1"/>
<rect x="438.9" y="334.22" width="3.99" height="2.93" fill="#d0c4e3"/>
<rect x="442.0" y="334.22" width="3.99" height="2.93" fill="#dcd2e8"/>
<rect x="445.1" y="334.22" width="3.99" height="2.93" fill="#9c87c6"/>
<rect x="448.2" y="334.22" width="3.99" height="2.93" fill="#ece5f0"/>
<rect x="451.3" y="334.22" width="3.99" height="2.93" fill="#ccbfe1"/>
<rect x="454.4" y="334.22" width="3.99" height="2.93" fill="#c6b8de"/>
<rect x="457.5" y="334.22" width="3.99" height="2.93" fill="#eae3ef"/>
<rect x="460.6" y="334.22" width="3.99" height="2.93" fill="#ddd4e9"/>
<rect x="463.7" y="334.22" width="3.09" height="2.93" fill="#dbd1e8"/>
<rect x="353.9" y="336.25" width="4.00" height="2.93" fill="#d2c6e3"/>
<rect x="357.0" y="336.25" width="4.00" height="2.93" fill="#f6f1f4"/>
<rect x="360.1" y="336.25" width="4.00" height="2.93" fill="#e0d7ea"/>
<rect x="363.2" y="336.25" width="4.00" height="2.93" fill="#d4c9e5"/>
<rect x="366.3" y="336.25" width="4.00" height="2.93" fill="#d1c6e3"/>
<rect x="369.4" y="336.25" width="4.00" height="2.93" fill="#faf6f6"/>
<rect x="372.5" y="336.25" width="4.00" height="2.93" fill="#e0d6ea"/>
<rect x="375.6" y="336.25" width="4.00" height="2.93" fill="#e0d7ea"/>
<rect x="378.7" y="336.25" width="4.00" height="2.93" fill="#d0c4e3"/>
<rect x="381.8" y="336.25" width="4.00" height="2.93" fill="#dbd2e8"/>
<rect x="384.9" y="336.25" width="3.10" height="2.93" fill="#f1ebf2"/>
<rect x="389.5" y="336.25" width="3.99" height="2.93" fill="#bfb0db"/>
<rect x="392.6" y="336.25" width="3.99" height="2.93" fill="#e4dcec"/>
<rect x="395.7" y="336.25" width="3.99" height="2.93" fill="#faf6f6"/>
<rect x="398.8" y="336.25" width="3.99" height="2.93" fill="#faf6f6"/>
<rect x="401.9" y="336.25" width="3.99" height="2.93" fill="#efeaf1"/>
<rect x="405.0" y="336.25" width="3.99" height="2.93" fill="#937cc0"/>
<rect x="408.0" y="336.25" width="3.99" height="2.93" fill="#dfd6ea"/>
<rect x="411.1" y="336.25" width="3.99" height="2.93" fill="#ded5e9"/>
<rect x="414.2" y="336.25" width="3.99" height="2.93" fill="#e0d7ea"/>
<rect x="417.3" y="336.25" width="3.99" height="2.93" fill="#ede7f0"/>
<rect x="420.4" y="336.25" width="3.99" height="2.93" fill="#c6b8de"/>
<rect x="423.5" y="336.25" width="3.99" height="2.93" fill="#f1ebf2"/>
<rect x="426.6" y="336.25" width="3.99" height="2.93" fill="#f2edf2"/>
<rect x="429.7" y="336.25" width="3.99" height="2.93" fill="#cbbee0"/>
<rect x="432.8" y="336.25" width="3.99" height="2.93" fill="#faf6f6"/>
<rect x="435.8" y="336.25" width="3.99" height="2.93" fill="#d2c7e4"/>
<rect x="438.9" y="336.25" width="3.99" height="2.93" fill="#a895ce"/>
<rect x="442.0" y="336.25" width="3.99" height="2.93" fill="#d7cce6"/>
<rect x="445.1" y="336.25" width="3.99" height="2.93" fill="#cfc3e2"/>
<rect x="448.2" y="336.25" width="3.99" height="2.93" fill="#cabde0"/>
<rect x="451.3" y="336.25" width="3.99" height="2.93" fill="#efe9f1"/>
<rect x="454.4" y="336.25" width="3.99" height="2.93" fill="#dbd1e8"/>
<rect x="457.5" y="336.25" width="3.99" height="2.93" fill="#eee7f0"/>
<rect x="460.6" y="336.25" width="3.99" height="2.93" fill="#cdc0e1"/>
<rect x="463.7" y="336.25" width="3.09" height="2.93" fill="#d8cde6"/>
<rect x="353.9" y="338.27" width="4.00" height="2.93" fill="#ded4e9"/>
<rect x="357.0" y="338.27" width="4.00" height="2.93" fill="#d7cce6"/>
<rect x="360.1" y="338.27" width="4.00" height="2.93" fill="#ede6f0"/>
<rect x="363.2" y="338.27" width="4.00" height="2.93" fill="#e3dbec"/>
<rect x="366.3" y="338.27" width="4.00" height="2.93" fill="#e2d9eb"/>
<rect x="369.4" y="338.27" width="4.00" height="2.93" fill="#d9cfe7"/>
<rect x="372.5" y="338.27" width="4.00" height="2.93" fill="#d8cee6"/>
<rect x="375.6" y="338.27" width="4.00" height="2.93" fill="#cfc3e2"/>
<rect x="378.7" y="338.27" width="4.00" height="2.93" fill="#faf6f6"/>
<rect x="381.8" y="338.27" width="4.00" height="2.93" fill="#d3c7e4"/>
<rect x="384.9" y="338.27" width="3.10" height="2.93" fill="#e9e2ee"/>
<rect x="389.5" y="338.27" width="3.99" height="2.93" fill="#e6deed"/>
<rect x="392.6" y="338.27" width="3.99" height="2.93" fill="#e6deed"/>
<rect x="395.7" y="338.27" width="3.99" height="2.93" fill="#e8e1ee"/>
<rect x="398.8" y="338.27" width="3.99" height="2.93" fill="#eee8f1"/>
<rect x="401.9" y="338.27" width="3.99" height="2.93" fill="#faf6f6"/>
<rect x="405.0" y="338.27" width="3.99" height="2.93" fill="#ded4e9"/>
<rect x="408.0" y="338.27" width="3.99" height="2.93" fill="#eee8f1"/>
<rect x="411.1" y="338.27" width="3.99" height="2.93" fill="#dcd2e8"/>
<rect x="414.2" y="338.27" width="3.99" height="2.93" fill="#faf6f6"/>
<rect x="417.3" y="338.27" width="3.99" height="2.93" fill="#a793cd"/>
<rect x="420.4" y="338.27" width="3.99" height="2.93" fill="#faf6f6"/>
<rect x="423.5" y="338.27" width="3.99" height="2.93" fill="#dbd1e8"/>
<rect x="426.6" y="338.27" width="3.99" height="2.93" fill="#e0d7ea"/>
<rect x="429.7" y="338.27" width="3.99" height="2.93" fill="#f0eaf1"/>
<rect x="432.8" y="338.27" width="3.99" height="2.93" fill="#faf6f6"/>
<rect x="435.8" y="338.27" width="3.99" height="2.93" fill="#e9e2ee"/>
<rect x="438.9" y="338.27" width="3.99" height="2.93" fill="#faf6f6"/>
<rect x="442.0" y="338.27" width="3.99" height="2.93" fill="#c9bce0"/>
<rect x="445.1" y="338.27" width="3.99" height="2.93" fill="#e9e2ee"/>
<rect x="448.2" y="338.27" width="3.99" height="2.93" fill="#e4dcec"/>
<rect x="451.3" y="338.27" width="3.99" height="2.93" fill="#e1d8eb"/>
<rect x="454.4" y="338.27" width="3.99" height="2.93" fill="#e0d7ea"/>
<rect x="457.5" y="338.27" width="3.99" height="2.93" fill="#c3b5dd"/>
<rect x="460.6" y="338.27" width="3.99" height="2.93" fill="#c9bcdf"/>
<rect x="463.7" y="338.27" width="3.09" height="2.93" fill="#d8cee7"/>
<rect x="353.9" y="340.30" width="4.00" height="2.93" fill="#d5cbe5"/>
<rect x="357.0" y="340.30" width="4.00" height="2.93" fill="#dfd5e9"/>
<rect x="360.1" y="340.30" width="4.00" height="2.93" fill="#c8bbdf"/>
<rect x="363.2" y="340.30" width="4.00" height="2.93" fill="#bcadda"/>
<rect x="366.3" y="340.30" width="4.00" height="2.93" fill="#cdc0e1"/>
<rect x="369.4" y="340.30" width="4.00" height="2.93" fill="#ccbfe1"/>
<rect x="372.5" y="340.30" width="4.00" height="2.93" fill="#e5ddec"/>
<rect x="375.6" y="340.30" width="4.00" height="2.93" fill="#f5f0f4"/>
<rect x="378.7" y="340.30" width="4.00" height="2.93" fill="#a38fcb"/>
<rect x="381.8" y="340.30" width="4.00" height="2.93" fill="#faf6f6"/>
<rect x="384.9" y="340.30" width="3.10" height="2.93" fill="#d8cee6"/>
<rect x="389.5" y="340.30" width="3.99" height="2.93" fill="#cfc3e2"/>
<rect x="392.6" y="340.30" width="3.99" height="2.93" fill="#eae2ee"/>
<rect x="395.7" y="340.30" width="3.99" height="2.93" fill="#9179be"/>
<rect x="398.8" y="340.30" width="3.99" height="2.93" fill="#cfc2e2"/>
<rect x="401.9" y="340.30" width="3.99" height="2.93" fill="#d2c7e4"/>
<rect x="405.0" y="340.30" width="3.99" height="2.93" fill="#e1d9eb"/>
<rect x="408.0" y="340.30" width="3.99" height="2.93" fill="#dad1e8"/>
<rect x="411.1" y="340.30" width="3.99" height="2.93" fill="#d2c6e4"/>
<rect x="414.2" y="340.30" width="3.99" height="2.93" fill="#cbbee0"/>
<rect x="417.3" y="340.30" width="3.99" height="2.93" fill="#cec1e2"/>
<rect x="420.4" y="340.30" width="3.99" height="2.93" fill="#c4b6dd"/>
<rect x="423.5" y="340.30" width="3.99" height="2.93" fill="#b5a4d6"/>
<rect x="426.6" y="340.30" width="3.99" height="2.93" fill="#cec1e2"/>
<rect x="429.7" y="340.30" width="3.99" height="2.93" fill="#beafdb"/>
<rect x="432.8" y="340.30" width="3.99" height="2.93" fill="#bdadda"/>
<rect x="435.8" y="340.30" width="3.99" height="2.93" fill="#faf6f6"/>
<rect x="438.9" y="340.30" width="3.99" height="2.93" fill="#d0c4e3"/>
<rect x="442.0" y="340.30" width="3.99" height="2.93" fill="#c7badf"/>
<rect x="445.1" y="340.30" width="3.99" height="2.93" fill="#dcd2e8"/>
<rect x="448.2" y="340.30" width="3.99" height="2.93" fill="#c2b3dc"/>
<rect x="451.3" y="340.30" width="3.99" height="2.93" fill="#ded4e9"/>
<rect x="454.4" y="340.30" width="3.99" height="2.93" fill="#d3c7e4"/>
<rect x="457.5" y="340.30" width="3.99" height="2.93" fill="#ded5e9"/>
<rect x="460.6" y="340.30" width="3.99" height="2.93" fill="#c2b4dc"/>
<rect x="463.7" y="340.30" width="3.09" height="2.93" fill="#faf6f6"/>
<rect x="353.9" y="342.33" width="4.00" height="2.93" fill="#cfc2e2"/>
<rect x="357.0" y="342.33" width="4.00" height="2.93" fill="#e0d7ea"/>
<rect x="360.1" y="342.33" width="4.00" height="2.93" fill="#cdc0e1"/>
<rect x="363.2" y="342.33" width="4.00" height="2.93" fill="#c9bbdf"/>
<rect x="366.3" y="342.33" width="4.00" height="2.93" fill="#b7a7d7"/>
<rect x="369.4" y="342.33" width="4.00" height="2.93" fill="#b6a5d7"/>
<rect x="372.5" y="342.33" width="4.00" height="2.93" fill="#9078bd"/>
<rect x="375.6" y="342.33" width="4.00" height="2.93" fill="#ede6f0"/>
<rect x="378.7" y="342.33" width="4.00" height="2.93" fill="#d7cce6"/>
<rect x="381.8" y="342.33" width="4.00" height="2.93" fill="#c6b8de"/>
<rect x="384.9" y="342.33" width="3.10" height="2.93" fill="#b2a1d5"/>
<rect x="389.5" y="342.33" width="3.99" height="2.93" fill="#faf6f6"/>
<rect x="392.6" y="342.33" width="3.99" height="2.93" fill="#b5a4d6"/>
<rect x="395.7" y="342.33" width="3.99" height="2.93" fill="#ddd4e9"/>
<rect x="398.8" y="342.33" width="3.99" height="2.93" fill="#e4dbec"/>
<rect x="401.9" y="342.33" width="3.99" height="2.93" fill="#cabde0"/>
<rect x="405.0" y="342.33" width="3.99" height="2.93" fill="#cabde0"/>
<rect x="408.0" y="342.33" width="3.99" height="2.93" fill="#c6b9de"/>
<rect x="411.1" y="342.33" width="3.99" height="2.93" fill="#e8e1ee"/>
<rect x="414.2" y="342.33" width="3.99" height="2.93" fill="#a693cd"/>
<rect x="417.3" y="342.33" width="3.99" height="2.93" fill="#9078bd"/>
<rect x="420.4" y="342.33" width="3.99" height="2.93" fill="#c2b3dc"/>
<rect x="423.5" y="342.33" width="3.99" height="2.93" fill="#c3b4dd"/>
<rect x="426.6" y="342.33" width="3.99" height="2.93" fill="#ccbfe1"/>
<rect x="429.7" y="342.33" width="3.99" height="2.93" fill="#d1c6e3"/>
<rect x="432.8" y="342.33" width="3.99" height="2.93" fill="#f9f5f6"/>
<rect x="435.8" y="342.33" width="3.99" height="2.93" fill="#c2b4dc"/>
<rect x="438.9" y="342.33" width="3.99" height="2.93" fill="#c5b7de"/>
<rect x="442.0" y="342.33" width="3.99" height="2.93" fill="#c9bbdf"/>
<rect x="445.1" y="342.33" width="3.99" height="2.93" fill="#bbabd9"/>
<rect x="448.2" y="342.33" width="3.99" height="2.93" fill="#faf6f6"/>
<rect x="451.3" y="342.33" width="3.99" height="2.93" fill="#f9f5f6"/>
<rect x="454.4" y="342.33" width="3.99" height="2.93" fill="#c7b9de"/>
<rect x="457.5" y="342.33" width="3.99" height="2.93" fill="#cdc0e1"/>
<rect x="460.6" y="342.33" width="3.99" height="2.93" fill="#d6cce6"/>
<rect x="463.7" y="342.33" width="3.09" height="2.93" fill="#ae9bd2"/>
<rect x="353.9" y="344.35" width="4.00" height="2.93" fill="#f7f2f4"/>
<rect x="357.0" y="344.35" width="4.00" height="2.93" fill="#d3c7e4"/>
<rect x="360.1" y="344.35" width="4.00" height="2.93" fill="#d8cee7"/>
<rect x="363.2" y="344.35" width="4.00" height="2.93" fill="#faf6f6"/>
<rect x="366.3" y="344.35" width="4.00" height="2.93" fill="#e0d7ea"/>
<rect x="369.4" y="344.35" width="4.00" height="2.93" fill="#8e77bc"/>
<rect x="372.5" y="344.35" width="4.00" height="2.93" fill="#faf6f6"/>
<rect x="375.6" y="344.35" width="4.00" height="2.93" fill="#e9e2ee"/>
<rect x="378.7" y="344.35" width="4.00" height="2.93" fill="#eae3ef"/>
<rect x="381.8" y="344.35" width="4.00" height="2.93" fill="#faf6f6"/>
<rect x="384.9" y="344.35" width="3.10" height="2.93" fill="#e7dfed"/>
<rect x="389.5" y="344.35" width="3.99" height="2.93" fill="#ede6f0"/>
<rect x="392.6" y="344.35" width="3.99" height="2.93" fill="#e8e0ee"/>
<rect x="395.7" y="344.35" width="3.99" height="2.93" fill="#ddd3e9"/>
<rect x="398.8" y="344.35" width="3.99" height="2.93" fill="#e5ddec"/>
<rect x="401.9" y="344.35" width="3.99" height="2.93" fill="#faf6f6"/>
<rect x="405.0" y="344.35" width="3.99" height="2.93" fill="#faf6f6"/>
<rect x="408.0" y="344.35" width="3.99" height="2.93" fill="#eae3ef"/>
<rect x="411.1" y="344.35" width="3.99" height="2.93" fill="#e7e0ed"/>
<rect x="414.2" y="344.35" width="3.99" height="2.93" fill="#faf6f6"/>
<rect x="417.3" y="344.35" width="3.99" height="2.93" fill="#d4c8e4"/>
<rect x="420.4" y="344.35" width="3.99" height="2.93" fill="#e7dfed"/>
<rect x="423.5" y="344.35" width="3.99" height="2.93" fill="#faf6f6"/>
<rect x="426.6" y="344.35" width="3.99" height="2.93" fill="#faf6f6"/>
<rect x="429.7" y="344.35" width="3.99" height="2.93" fill="#e7dfed"/>
<rect x="432.8" y="344.35" width="3.99" height="2.93" fill="#dbd2e8"/>
<rect x="435.8" y="344.35" width="3.99" height="2.93" fill="#e8e1ee"/>
<rect x="438.9" y="344.35" width="3.99" height="2.93" fill="#d8cee7"/>
<rect x="442.0" y="344.35" width="3.99" height="2.93" fill="#c7b9df"/>
<rect x="445.1" y="344.35" width="3.99" height="2.93" fill="#dcd3e8"/>
<rect x="448.2" y="344.35" width="3.99" height="2.93" fill="#e4dcec"/>
<rect x="451.3" y="344.35" width="3.99" height="2.93" fill="#dbd1e8"/>
<rect x="454.4" y="344.35" width="3.99" height="2.93" fill="#d3c8e4"/>
<rect x="457.5" y="344.35" width="3.99" height="2.93" fill="#e5dcec"/>
<rect x="460.6" y="344.35" width="3.99" height="2.93" fill="#b3a1d5"/>
<rect x="463.7" y="344.35" width="3.09" height="2.93" fill="#e7dfed"/>
<rect x="353.9" y="346.38" width="4.00" height="2.93" fill="#c1b2dc"/>
<rect x="357.0" y="346.38" width="4.00" height="2.93" fill="#c6b8de"/>
<rect x="360.1" y="346.38" width="4.00" height="2.93" fill="#e5ddec"/>
<rect x="363.2" y="346.38" width="4.00" height="2.93" fill="#cdc0e1"/>
<rect x="366.3" y="346.38" width="4.00" height="2.93" fill="#faf6f6"/>
<rect x="369.4" y="346.38" width="4.00" height="2.93" fill="#e9e2ee"/>
<rect x="372.5" y="346.38" width="4.00" height="2.93" fill="#a693cd"/>
<rect x="375.6" y="346.38" width="4.00" height="2.93" fill="#d5cae5"/>
<rect x="378.7" y="346.38" width="4.00" height="2.93" fill="#d2c7e4"/>
<rect x="381.8" y="346.38" width="4.00" height="2.93" fill="#e6deed"/>
<rect x="384.9" y="346.38" width="3.10" height="2.93" fill="#b8a7d7"/>
<rect x="389.5" y="346.38" width="3.99" height="2.93" fill="#c5b6dd"/>
<rect x="392.6" y="346.38" width="3.99" height="2.93" fill="#cabde0"/>
<rect x="395.7" y="346.38" width="3.99" height="2.93" fill="#bbabd9"/>
<rect x="398.8" y="346.38" width="3.99" height="2.93" fill="#b3a1d5"/>
<rect x="401.9" y="346.38" width="3.99" height="2.93" fill="#bdaeda"/>
<rect x="405.0" y="346.38" width="3.99" height="2.93" fill="#d0c5e3"/>
<rect x="408.0" y="346.38" width="3.99" height="2.93" fill="#d6cbe5"/>
<rect x="411.1" y="346.38" width="3.99" height="2.93" fill="#d6cbe6"/>
<rect x="414.2" y="346.38" width="3.99" height="2.93" fill="#8d75bb"/>
<rect x="417.3" y="346.38" width="3.99" height="2.93" fill="#c5b7de"/>
<rect x="420.4" y="346.38" width="3.99" height="2.93" fill="#d1c5e3"/>
<rect x="423.5" y="346.38" width="3.99" height="2.93" fill="#cfc3e2"/>
<rect x="426.6" y="346.38" width="3.99" height="2.93" fill="#d9cfe7"/>
<rect x="429.7" y="346.38" width="3.99" height="2.93" fill="#c1b3dc"/>
<rect x="432.8" y="346.38" width="3.99" height="2.93" fill="#c7b9df"/>
<rect x="435.8" y="346.38" width="3.99" height="2.93" fill="#d6cce6"/>
<rect x="438.9" y="346.38" width="3.99" height="2.93" fill="#b5a4d6"/>
<rect x="442.0" y="346.38" width="3.99" height="2.93" fill="#ae9cd3"/>
<rect x="445.1" y="346.38" width="3.99" height="2.93" fill="#c1b3dc"/>
<rect x="448.2" y="346.38" width="3.99" height="2.93" fill="#c1b2dc"/>
<rect x="451.3" y="346.38" width="3.99" height="2.93" fill="#b5a4d6"/>
<rect x="454.4" y="346.38" width="3.99" height="2.93" fill="#c0b1db"/>
<rect x="457.5" y="346.38" width="3.99" height="2.93" fill="#c5b7de"/>
<rect x="460.6" y="346.38" width="3.99" height="2.93" fill="#e2d9eb"/>
<rect x="463.7" y="346.38" width="3.09" height="2.93" fill="#d9cfe7"/>
<rect x="353.9" y="348.40" width="4.00" height="2.93" fill="#b3a1d5"/>
<rect x="357.0" y="348.40" width="4.00" height="2.93" fill="#bfafdb"/>
<rect x="360.1" y="348.40" width="4.00" height="2.93" fill="#b8a8d8"/>
<rect x="363.2" y="348.40" width="4.00" height="2.93" fill="#8c74ba"/>
<rect x="366.3" y="348.40" width="4.00" height="2.93" fill="#bcacd9"/>
<rect x="369.4" y="348.40" width="4.00" height="2.93" fill="#c4b6dd"/>
<rect x="372.5" y="348.40" width="4.00" height="2.93" fill="#c1b2dc"/>
<rect x="375.6" y="348.40" width="4.00" height="2.93" fill="#cbbee0"/>
<rect x="378.7" y="348.40" width="4.00" height="2.93" fill="#e5ddec"/>
<rect x="381.8" y="348.40" width="4.00" height="2.93" fill="#ccbfe1"/>
<rect x="384.9" y="348.40" width="3.10" height="2.93" fill="#d0c4e3"/>
<rect x="389.5" y="348.40" width="3.99" height="2.93" fill="#cdc1e1"/>
<rect x="392.6" y="348.40" width="3.99" height="2.93" fill="#c9bcdf"/>
<rect x="395.7" y="348.40" width="3.99" height="2.93" fill="#bbabd9"/>
<rect x="398.8" y="348.40" width="3.99" height="2.93" fill="#e4dcec"/>
<rect x="401.9" y="348.40" width="3.99" height="2.93" fill="#cec2e2"/>
<rect x="405.0" y="348.40" width="3.99" height="2.93" fill="#dfd6ea"/>
<rect x="408.0" y="348.40" width="3.99" height="2.93" fill="#cdc0e1"/>
<rect x="411.1" y="348.40" width="3.99" height="2.93" fill="#b2a1d5"/>
<rect x="414.2" y="348.40" width="3.99" height="2.93" fill="#8c74ba"/>
<rect x="417.3" y="348.40" width="3.99" height="2.93" fill="#cec1e2"/>
<rect x="420.4" y="348.40" width="3.99" height="2.93" fill="#a18cc9"/>
<rect x="423.5" y="348.40" width="3.99" height="2.93" fill="#ccc0e1"/>
<rect x="426.6" y="348.40" width="3.99" height="2.93" fill="#c0b1db"/>
<rect x="429.7" y="348.40" width="3.99" height="2.93" fill="#d9cfe7"/>
<rect x="432.8" y="348.40" width="3.99" height="2.93" fill="#dfd6ea"/>
<rect x="435.8" y="348.40" width="3.99" height="2.93" fill="#8c74ba"/>
<rect x="438.9" y="348.40" width="3.99" height="2.93" fill="#f7f2f4"/>
<rect x="442.0" y="348.40" width="3.99" height="2.93" fill="#f7f2f4"/>
<rect x="445.1" y="348.40" width="3.99" height="2.93" fill="#bcacd9"/>
<rect x="448.2" y="348.40" width="3.99" height="2.93" fill="#d5cae5"/>
<rect x="451.3" y="348.40" width="3.99" height="2.93" fill="#b5a4d6"/>
<rect x="454.4" y="348.40" width="3.99" height="2.93" fill="#d6cbe5"/>
<rect x="457.5" y="348.40" width="3.99" height="2.93" fill="#c3b5dd"/>
<rect x="460.6" y="348.40" width="3.99" height="2.93" fill="#967fc1"/>
<rect x="463.7" y="348.40" width="3.09" height="2.93" fill="#b7a6d7"/>
<rect x="353.9" y="350.43" width="4.00" height="2.93" fill="#c9bbdf"/>
<rect x="357.0" y="350.43" width="4.00" height="2.93" fill="#a08bc8"/>
<rect x="360.1" y="350.43" width="4.00" height="2.93" fill="#c1b2dc"/>
<rect x="363.2" y="350.43" width="4.00" height="2.93" fill="#ae9cd3"/>
<rect x="366.3" y="350.43" width="4.00" height="2.93" fill="#a08bc8"/>
<rect x="369.4" y="350.43" width="4.00" height="2.93" fill="#f6f1f4"/>
<rect x="372.5" y="350.43" width="4.00" height="2.93" fill="#cabde0"/>
<rect x="375.6" y="350.43" width="4.00" height="2.93" fill="#d2c6e3"/>
<rect x="378.7" y="350.43" width="4.00" height="2.93" fill="#c6b8de"/>
<rect x="381.8" y="350.43" width="4.00" height="2.93" fill="#e1d9eb"/>
<rect x="384.9" y="350.43" width="3.10" height="2.93" fill="#a794ce"/>
<rect x="389.5" y="350.43" width="3.99" height="2.93" fill="#bfb0db"/>
<rect x="392.6" y="350.43" width="3.99" height="2.93" fill="#ccbfe1"/>
<rect x="395.7" y="350.43" width="3.99" height="2.93" fill="#cec1e2"/>
<rect x="398.8" y="350.43" width="3.99" height="2.93" fill="#d0c4e3"/>
<rect x="401.9" y="350.43" width="3.99" height="2.93" fill="#b9a9d8"/>
<rect x="405.0" y="350.43" width="3.99" height="2.93" fill="#a08bc8"/>
<rect x="408.0" y="350.43" width="3.99" height="2.93" fill="#e3dbeb"/>
<rect x="411.1" y="350.43" width="3.99" height="2.93" fill="#8b73ba"/>
<rect x="414.2" y="350.43" width="3.99" height="2.93" fill="#a895cf"/>
<rect x="417.3" y="350.43" width="3.99" height="2.93" fill="#b5a3d6"/>
<rect x="420.4" y="350.43" width="3.99" height="2.93" fill="#a490cc"/>
<rect x="423.5" y="350.43" width="3.99" height="2.93" fill="#c7badf"/>
<rect x="426.6" y="350.43" width="3.99" height="2.93" fill="#b7a7d7"/>
<rect x="429.7" y="350.43" width="3.99" height="2.93" fill="#c7badf"/>
<rect x="432.8" y="350.43" width="3.99" height="2.93" fill="#d2c7e4"/>
<rect x="435.8" y="350.43" width="3.99" height="2.93" fill="#ab98d1"/>
<rect x="438.9" y="350.43" width="3.99" height="2.93" fill="#d0c5e3"/>
<rect x="442.0" y="350.43" width="3.99" height="2.93" fill="#bdadda"/>
<rect x="445.1" y="350.43" width="3.99" height="2.93" fill="#d3c8e4"/>
<rect x="448.2" y="350.43" width="3.99" height="2.93" fill="#c2b3dc"/>
<rect x="451.3" y="350.43" width="3.99" height="2.93" fill="#d5cae5"/>
<rect x="454.4" y="350.43" width="3.99" height="2.93" fill="#c3b5dd"/>
<rect x="457.5" y="350.43" width="3.99" height="2.93" fill="#c7b9de"/>
<rect x="460.6" y="350.43" width="3.99" height="2.93" fill="#ccbfe1"/>
<rect x="463.7" y="350.43" width="3.09" height="2.93" fill="#c5b6dd"/>
<rect x="353.9" y="352.46" width="4.00" height="2.93" fill="#c9bbdf"/>
<rect x="357.0" y="352.46" width="4.00" height="2.93" fill="#cfc3e2"/>
<rect x="360.1" y="352.46" width="4.00" height="2.93" fill="#faf6f6"/>
<rect x="363.2" y="352.46" width="4.00" height="2.93" fill="#9f8ac8"/>
<rect x="366.3" y="352.46" width="4.00" height="2.93" fill="#b2a0d5"/>
<rect x="369.4" y="352.46" width="4.00" height="2.93" fill="#a895ce"/>
<rect x="372.5" y="352.46" width="4.00" height="2.93" fill="#b8a7d7"/>
<rect x="375.6" y="352.46" width="4.00" height="2.93" fill="#9f8ac8"/>
<rect x="378.7" y="352.46" width="4.00" height="2.93" fill="#baaad9"/>
<rect x="381.8" y="352.46" width="4.00" height="2.93" fill="#faf6f6"/>
<rect x="384.9" y="352.46" width="3.10" height="2.93" fill="#a894ce"/>
<rect x="389.5" y="352.46" width="3.99" height="2.93" fill="#b8a7d8"/>
<rect x="392.6" y="352.46" width="3.99" height="2.93" fill="#b6a6d7"/>
<rect x="395.7" y="352.46" width="3.99" height="2.93" fill="#9e89c7"/>
<rect x="398.8" y="352.46" width="3.99" height="2.93" fill="#faf6f6"/>
<rect x="401.9" y="352.46" width="3.99" height="2.93" fill="#b4a3d6"/>
<rect x="405.0" y="352.46" width="3.99" height="2.93" fill="#a18dca"/>
<rect x="408.0" y="352.46" width="3.99" height="2.93" fill="#a894ce"/>
<rect x="411.1" y="352.46" width="3.99" height="2.93" fill="#b3a2d6"/>
<rect x="414.2" y="352.46" width="3.99" height="2.93" fill="#967fc1"/>
<rect x="417.3" y="352.46" width="3.99" height="2.93" fill="#b8a7d8"/>
<rect x="420.4" y="352.46" width="3.99" height="2.93" fill="#faf6f6"/>
<rect x="423.5" y="352.46" width="3.99" height="2.93" fill="#9f8ac8"/>
<rect x="426.6" y="352.46" width="3.99" height="2.93" fill="#9f8bc8"/>
<rect x="429.7" y="352.46" width="3.99" height="2.93" fill="#beaeda"/>
<rect x="432.8" y="352.46" width="3.99" height="2.93" fill="#d2c7e4"/>
<rect x="435.8" y="352.46" width="3.99" height="2.93" fill="#b8a8d8"/>
<rect x="438.9" y="352.46" width="3.99" height="2.93" fill="#9f8ac8"/>
<rect x="442.0" y="352.46" width="3.99" height="2.93" fill="#bbacd9"/>
<rect x="445.1" y="352.46" width="3.99" height="2.93" fill="#a693cd"/>
<rect x="448.2" y="352.46" width="3.99" height="2.93" fill="#8a71b9"/>
<rect x="451.3" y="352.46" width="3.99" height="2.93" fill="#c9bce0"/>
<rect x="454.4" y="352.46" width="3.99" height="2.93" fill="#9f8ac8"/>
<rect x="457.5" y="352.46" width="3.99" height="2.93" fill="#faf6f6"/>
<rect x="460.6" y="352.46" width="3.99" height="2.93" fill="#b6a5d7"/>
<rect x="463.7" y="352.46" width="3.09" height="2.93" fill="#b8a8d8"/>
<rect x="353.9" y="354.48" width="4.00" height="2.93" fill="#ece5f0"/>
<rect x="357.0" y="354.48" width="4.00" height="2.93" fill="#dcd2e8"/>
<rect x="360.1" y="354.48" width="4.00" height="2.93" fill="#9e88c7"/>
<rect x="363.2" y="354.48" width="4.00" height="2.93" fill="#d2c6e4"/>
<rect x="366.3" y="354.48" width="4.00" height="2.93" fill="#9e88c7"/>
<rect x="369.4" y="354.48" width="4.00" height="2.93" fill="#e0d7ea"/>
<rect x="372.5" y="354.48" width="4.00" height="2.93" fill="#faf6f6"/>
<rect x="375.6" y="354.48" width="4.00" height="2.93" fill="#e5dcec"/>
<rect x="378.7" y="354.48" width="4.00" height="2.93" fill="#e2daeb"/>
<rect x="381.8" y="354.48" width="4.00" height="2.93" fill="#f0eaf1"/>
<rect x="384.9" y="354.48" width="3.10" height="2.93" fill="#dad0e7"/>
<rect x="389.5" y="354.48" width="3.99" height="2.93" fill="#e8e1ee"/>
<rect x="392.6" y="354.48" width="3.99" height="2.93" fill="#d7cce6"/>
<rect x="395.7" y="354.48" width="3.99" height="2.93" fill="#ddd4e9"/>
<rect x="398.8" y="354.48" width="3.99" height="2.93" fill="#ccbfe1"/>
<rect x="401.9" y="354.48" width="3.99" height="2.93" fill="#dfd6ea"/>
<rect x="405.0" y="354.48" width="3.99" height="2.93" fill="#8970b8"/>
<rect x="408.0" y="354.48" width="3.99" height="2.93" fill="#c9bcdf"/>
<rect x="411.1" y="354.48" width="3.99" height="2.93" fill="#e9e2ee"/>
<rect x="414.2" y="354.48" width="3.99" height="2.93" fill="#d4c9e5"/>
<rect x="417.3" y="354.48" width="3.99" height="2.93" fill="#efe9f1"/>
<rect x="420.4" y="354.48" width="3.99" height="2.93" fill="#ebe4ef"/>
<rect x="423.5" y="354.48" width="3.99" height="2.93" fill="#e2daeb"/>
<rect x="426.6" y="354.48" width="3.99" height="2.93" fill="#dbd2e8"/>
<rect x="429.7" y="354.48" width="3.99" height="2.93" fill="#d0c4e3"/>
<rect x="432.8" y="354.48" width="3.99" height="2.93" fill="#dad0e7"/>
<rect x="435.8" y="354.48" width="3.99" height="2.93" fill="#f4eff3"/>
<rect x="438.9" y="354.48" width="3.99" height="2.93" fill="#ece5ef"/>
<rect x="442.0" y="354.48" width="3.99" height="2.93" fill="#f4eff3"/>
<rect x="445.1" y="354.48" width="3.99" height="2.93" fill="#dcd3e8"/>
<rect x="448.2" y="354.48" width="3.99" height="2.93" fill="#f2ecf2"/>
<rect x="451.3" y="354.48" width="3.99" height="2.93" fill="#f4eef3"/>
<rect x="454.4" y="354.48" width="3.99" height="2.93" fill="#e6deed"/>
<rect x="457.5" y="354.48" width="3.99" height="2.93" fill="#faf6f6"/>
<rect x="460.6" y="354.48" width="3.99" height="2.93" fill="#faf6f6"/>
<rect x="463.7" y="354.48" width="3.09" height="2.93" fill="#d0c4e3"/>
<rect x="353.9" y="356.51" width="4.00" height="2.93" fill="#d6cce6"/>
<rect x="357.0" y="356.51" width="4.00" height="2.93" fill="#cdc0e1"/>
<rect x="360.1" y="356.51" width="4.00" height="2.93" fill="#d2c7e4"/>
<rect x="363.2" y="356.51" width="4.00" height="2.93" fill="#d4c9e4"/>
<rect x="366.3" y="356.51" width="4.00" height="2.93" fill="#cec1e2"/>
<rect x="369.4" y="356.51" width="4.00" height="2.93" fill="#d7cce6"/>
<rect x="372.5" y="356.51" width="4.00" height="2.93" fill="#d0c4e3"/>
<rect x="375.6" y="356.51" width="4.00" height="2.93" fill="#886fb7"/>
<rect x="378.7" y="356.51" width="4.00" height="2.93" fill="#c4b5dd"/>
<rect x="381.8" y="356.51" width="4.00" height="2.93" fill="#c9bcdf"/>
<rect x="384.9" y="356.51" width="3.10" height="2.93" fill="#b9a9d8"/>
<rect x="389.5" y="356.51" width="3.99" height="2.93" fill="#e3daeb"/>
<rect x="392.6" y="356.51" width="3.99" height="2.93" fill="#dad0e7"/>
<rect x="395.7" y="356.51" width="3.99" height="2.93" fill="#d7cce6"/>
<rect x="398.8" y="356.51" width="3.99" height="2.93" fill="#886fb7"/>
<rect x="401.9" y="356.51" width="3.99" height="2.93" fill="#bcacda"/>
<rect x="405.0" y="356.51" width="3.99" height="2.93" fill="#cec2e2"/>
<rect x="408.0" y="356.51" width="3.99" height="2.93" fill="#9c87c6"/>
<rect x="411.1" y="356.51" width="3.99" height="2.93" fill="#a995cf"/>
<rect x="414.2" y="356.51" width="3.99" height="2.93" fill="#d6cbe6"/>
<rect x="417.3" y="356.51" width="3.99" height="2.93" fill="#cec2e2"/>
<rect x="420.4" y="356.51" width="3.99" height="2.93" fill="#bfb0db"/>
<rect x="423.5" y="356.51" width="3.99" height="2.93" fill="#ae9cd2"/>
<rect x="426.6" y="356.51" width="3.99" height="2.93" fill="#ede6f0"/>
<rect x="429.7" y="356.51" width="3.99" height="2.93" fill="#a08cc9"/>
<rect x="432.8" y="356.51" width="3.99" height="2.93" fill="#bdaeda"/>
<rect x="435.8" y="356.51" width="3.99" height="2.93" fill="#d3c7e4"/>
<rect x="438.9" y="356.51" width="3.99" height="2.93" fill="#d4c9e5"/>
<rect x="442.0" y="356.51" width="3.99" height="2.93" fill="#beafdb"/>
<rect x="445.1" y="356.51" width="3.99" height="2.93" fill="#bfb0db"/>
<rect x="448.2" y="356.51" width="3.99" height="2.93" fill="#c9bbdf"/>
<rect x="451.3" y="356.51" width="3.99" height="2.93" fill="#d6cbe5"/>
<rect x="454.4" y="356.51" width="3.99" height="2.93" fill="#8e76bc"/>
<rect x="457.5" y="356.51" width="3.99" height="2.93" fill="#d9cee7"/>
<rect x="460.6" y="356.51" width="3.99" height="2.93" fill="#b8a8d8"/>
<rect x="463.7" y="356.51" width="3.09" height="2.93" fill="#d3c7e4"/>
<rect x="353.9" y="358.53" width="4.00" height="2.93" fill="#e5ddec"/>
<rect x="357.0" y="358.53" width="4.00" height="2.93" fill="#e0d7ea"/>
<rect x="360.1" y="358.53" width="4.00" height="2.93" fill="#eae3ef"/>
<rect x="363.2" y="358.53" width="4.00" height="2.93" fill="#eee8f1"/>
<rect x="366.3" y="358.53" width="4.00" height="2.93" fill="#e3dbec"/>
<rect x="369.4" y="358.53" width="4.00" height="2.93" fill="#866db6"/>
<rect x="372.5" y="358.53" width="4.00" height="2.93" fill="#d7cde6"/>
<rect x="375.6" y="358.53" width="4.00" height="2.93" fill="#e2d9eb"/>
<rect x="378.7" y="358.53" width="4.00" height="2.93" fill="#f1ebf2"/>
<rect x="381.8" y="358.53" width="4.00" height="2.93" fill="#c5b7de"/>
<rect x="384.9" y="358.53" width="3.10" height="2.93" fill="#beaeda"/>
<rect x="389.5" y="358.53" width="3.99" height="2.93" fill="#dacfe7"/>
<rect x="392.6" y="358.53" width="3.99" height="2.93" fill="#eee8f1"/>
<rect x="395.7" y="358.53" width="3.99" height="2.93" fill="#dbd1e8"/>
<rect x="398.8" y="358.53" width="3.99" height="2.93" fill="#dbd1e8"/>
<rect x="401.9" y="358.53" width="3.99" height="2.93" fill="#faf6f6"/>
<rect x="405.0" y="358.53" width="3.99" height="2.93" fill="#e2daeb"/>
<rect x="408.0" y="358.53" width="3.99" height="2.93" fill="#c9bce0"/>
<rect x="411.1" y="358.53" width="3.99" height="2.93" fill="#faf6f6"/>
<rect x="414.2" y="358.53" width="3.99" height="2.93" fill="#e6deed"/>
<rect x="417.3" y="358.53" width="3.99" height="2.93" fill="#d6cbe5"/>
<rect x="420.4" y="358.53" width="3.99" height="2.93" fill="#f3eef3"/>
<rect x="423.5" y="358.53" width="3.99" height="2.93" fill="#ece6f0"/>
<rect x="426.6" y="358.53" width="3.99" height="2.93" fill="#dad0e7"/>
<rect x="429.7" y="358.53" width="3.99" height="2.93" fill="#e2d9eb"/>
<rect x="432.8" y="358.53" width="3.99" height="2.93" fill="#ddd4e9"/>
<rect x="435.8" y="358.53" width="3.99" height="2.93" fill="#eee8f0"/>
<rect x="438.9" y="358.53" width="3.99" height="2.93" fill="#d8cee7"/>
<rect x="442.0" y="358.53" width="3.99" height="2.93" fill="#cbbee0"/>
<rect x="445.1" y="358.53" width="3.99" height="2.93" fill="#f0eaf1"/>
<rect x="448.2" y="358.53" width="3.99" height="2.93" fill="#f3edf3"/>
<rect x="451.3" y="358.53" width="3.99" height="2.93" fill="#d6cbe5"/>
<rect x="454.4" y="358.53" width="3.99" height="2.93" fill="#faf6f6"/>
<rect x="457.5" y="358.53" width="3.99" height="2.93" fill="#beafdb"/>
<rect x="460.6" y="358.53" width="3.99" height="2.93" fill="#faf6f6"/>
<rect x="463.7" y="358.53" width="3.09" height="2.93" fill="#faf6f6"/>
<rect x="353.9" y="360.56" width="4.00" height="2.93" fill="#eee8f1"/>
<rect x="357.0" y="360.56" width="4.00" height="2.93" fill="#ded5e9"/>
<rect x="360.1" y="360.56" width="4.00" height="2.93" fill="#f9f5f6"/>
<rect x="363.2" y="360.56" width="4.00" height="2.93" fill="#dfd6ea"/>
<rect x="366.3" y="360.56" width="4.00" height="2.93" fill="#ebe4ef"/>
<rect x="369.4" y="360.56" width="4.00" height="2.93" fill="#e8e1ee"/>
<rect x="372.5" y="360.56" width="4.00" height="2.93" fill="#f2edf2"/>
<rect x="375.6" y="360.56" width="4.00" height="2.93" fill="#9a84c4"/>
<rect x="378.7" y="360.56" width="4.00" height="2.93" fill="#ece5ef"/>
<rect x="381.8" y="360.56" width="4.00" height="2.93" fill="#c4b6dd"/>
<rect x="384.9" y="360.56" width="3.10" height="2.93" fill="#c8bbdf"/>
<rect x="389.5" y="360.56" width="3.99" height="2.93" fill="#f9f5f6"/>
<rect x="392.6" y="360.56" width="3.99" height="2.93" fill="#cbbee0"/>
<rect x="395.7" y="360.56" width="3.99" height="2.93" fill="#c8bbdf"/>
<rect x="398.8" y="360.56" width="3.99" height="2.93" fill="#e2d9eb"/>
<rect x="401.9" y="360.56" width="3.99" height="2.93" fill="#faf6f6"/>
<rect x="405.0" y="360.56" width="3.99" height="2.93" fill="#e2d9eb"/>
<rect x="408.0" y="360.56" width="3.99" height="2.93" fill="#e6dfed"/>
<rect x="411.1" y="360.56" width="3.99" height="2.93" fill="#f0eaf1"/>
<rect x="414.2" y="360.56" width="3.99" height="2.93" fill="#856cb6"/>
<rect x="417.3" y="360.56" width="3.99" height="2.93" fill="#d4c9e5"/>
<rect x="420.4" y="360.56" width="3.99" height="2.93" fill="#f9f5f6"/>
<rect x="423.5" y="360.56" width="3.99" height="2.93" fill="#ece5f0"/>
<rect x="426.6" y="360.56" width="3.99" height="2.93" fill="#ddd3e9"/>
<rect x="429.7" y="360.56" width="3.99" height="2.93" fill="#d5cae5"/>
<rect x="432.8" y="360.56" width="3.99" height="2.93" fill="#faf6f6"/>
<rect x="435.8" y="360.56" width="3.99" height="2.93" fill="#f9f5f6"/>
<rect x="438.9" y="360.56" width="3.99" height="2.93" fill="#e9e2ee"/>
<rect x="442.0" y="360.56" width="3.99" height="2.93" fill="#d8cee6"/>
<rect x="445.1" y="360.56" width="3.99" height="2.93" fill="#d5cae5"/>
<rect x="448.2" y="360.56" width="3.99" height="2.93" fill="#f2ecf2"/>
<rect x="451.3" y="360.56" width="3.99" height="2.93" fill="#e1d8eb"/>
<rect x="454.4" y="360.56" width="3.99" height="2.93" fill="#dfd6ea"/>
<rect x="457.5" y="360.56" width="3.99" height="2.93" fill="#e7dfed"/>
<rect x="460.6" y="360.56" width="3.99" height="2.93" fill="#e3dbeb"/>
<rect x="463.7" y="360.56" width="3.09" height="2.93" fill="#d1c5e3"/>
<rect x="353.9" y="362.59" width="4.00" height="2.93" fill="#f1ebf2"/>
<rect x="357.0" y="362.59" width="4.00" height="2.93" fill="#bdadda"/>
<rect x="360.1" y="362.59" width="4.00" height="2.93" fill="#d2c7e4"/>
<rect x="363.2" y="362.59" width="4.00" height="2.93" fill="#eee8f1"/>
<rect x="366.3" y="362.59" width="4.00" height="2.93" fill="#dcd2e8"/>
<rect x="369.4" y="362.59" width="4.00" height="2.93" fill="#e5dded"/>
<rect x="372.5" y="362.59" width="4.00" height="2.93" fill="#d5cae5"/>
<rect x="375.6" y="362.59" width="4.00" height="2.93" fill="#f1ebf2"/>
<rect x="378.7" y="362.59" width="4.00" height="2.93" fill="#f7f3f5"/>
<rect x="381.8" y="362.59" width="4.00" height="2.93" fill="#e5ddec"/>
<rect x="384.9" y="362.59" width="3.10" height="2.93" fill="#eae3ef"/>
<rect x="389.5" y="362.59" width="3.99" height="2.93" fill="#e7dfed"/>
<rect x="392.6" y="362.59" width="3.99" height="2.93" fill="#f1ebf2"/>
<rect x="395.7" y="362.59" width="3.99" height="2.93" fill="#f1ebf2"/>
<rect x="398.8" y="362.59" width="3.99" height="2.93" fill="#dbd1e8"/>
<rect x="401.9" y="362.59" width="3.99" height="2.93" fill="#d9cee7"/>
<rect x="405.0" y="362.59" width="3.99" height="2.93" fill="#e4dcec"/>
<rect x="408.0" y="362.59" width="3.99" height="2.93" fill="#f1ecf2"/>
<rect x="411.1" y="362.59" width="3.99" height="2.93" fill="#f8f4f5"/>
<rect x="414.2" y="362.59" width="3.99" height="2.93" fill="#f6f1f4"/>
<rect x="417.3" y="362.59" width="3.99" height="2.93" fill="#ded5e9"/>
<rect x="420.4" y="362.59" width="3.99" height="2.93" fill="#faf6f6"/>
<rect x="423.5" y="362.59" width="3.99" height="2.93" fill="#9983c4"/>
<rect x="426.6" y="362.59" width="3.99" height="2.93" fill="#d6cbe5"/>
<rect x="429.7" y="362.59" width="3.99" height="2.93" fill="#d0c5e3"/>
<rect x="432.8" y="362.59" width="3.99" height="2.93" fill="#d9cfe7"/>
<rect x="435.8" y="362.59" width="3.99" height="2.93" fill="#f5f0f4"/>
<rect x="438.9" y="362.59" width="3.99" height="2.93" fill="#ccbfe1"/>
<rect x="442.0" y="362.59" width="3.99" height="2.93" fill="#cfc3e2"/>
<rect x="445.1" y="362.59" width="3.99" height="2.93" fill="#faf6f6"/>
<rect x="448.2" y="362.59" width="3.99" height="2.93" fill="#d3c8e4"/>
<rect x="451.3" y="362.59" width="3.99" height="2.93" fill="#f8f3f5"/>
<rect x="454.4" y="362.59" width="3.99" height="2.93" fill="#dad0e7"/>
<rect x="457.5" y="362.59" width="3.99" height="2.93" fill="#e3daeb"/>
<rect x="460.6" y="362.59" width="3.99" height="2.93" fill="#ebe4ef"/>
<rect x="463.7" y="362.59" width="3.09" height="2.93" fill="#cabde0"/>
<rect x="353.9" y="364.61" width="4.00" height="2.93" fill="#d3c7e4"/>
<rect x="357.0" y="364.61" width="4.00" height="2.93" fill="#b2a0d5"/>
<rect x="360.1" y="364.61" width="4.00" height="2.93" fill="#d3c7e4"/>
<rect x="363.2" y="364.61" width="4.00" height="2.93" fill="#8369b4"/>
<rect x="366.3" y="364.61" width="4.00" height="2.93" fill="#b9a8d8"/>
<rect x="369.4" y="364.61" width="4.00" height="2.93" fill="#e1d8eb"/>
<rect x="372.5" y="364.61" width="4.00" height="2.93" fill="#d4c9e4"/>
<rect x="375.6" y="364.61" width="4.00" height="2.93" fill="#d5cae5"/>
<rect x="378.7" y="364.61" width="4.00" height="2.93" fill="#f8f3f5"/>
<rect x="381.8" y="364.61" width="4.00" height="2.93" fill="#b8a7d8"/>
<rect x="384.9" y="364.61" width="3.10" height="2.93" fill="#dbd1e8"/>
<rect x="389.5" y="364.61" width="3.99" height="2.93" fill="#f2ecf2"/>
<rect x="392.6" y="364.61" width="3.99" height="2.93" fill="#d6cbe5"/>
<rect x="395.7" y="364.61" width="3.99" height="2.93" fill="#dad0e7"/>
<rect x="398.8" y="364.61" width="3.99" height="2.93" fill="#c7badf"/>
<rect x="401.9" y="364.61" width="3.99" height="2.93" fill="#ddd3e8"/>
<rect x="405.0" y="364.61" width="3.99" height="2.93" fill="#f8f3f5"/>
<rect x="408.0" y="364.61" width="3.99" height="2.93" fill="#f0eaf2"/>
<rect x="411.1" y="364.61" width="3.99" height="2.93" fill="#f8f3f5"/>
<rect x="414.2" y="364.61" width="3.99" height="2.93" fill="#e6deed"/>
<rect x="417.3" y="364.61" width="3.99" height="2.93" fill="#e3dbec"/>
<rect x="420.4" y="364.61" width="3.99" height="2.93" fill="#ede7f0"/>
<rect x="423.5" y="364.61" width="3.99" height="2.93" fill="#d3c7e4"/>
<rect x="426.6" y="364.61" width="3.99" height="2.93" fill="#d2c6e4"/>
<rect x="429.7" y="364.61" width="3.99" height="2.93" fill="#e7dfed"/>
<rect x="432.8" y="364.61" width="3.99" height="2.93" fill="#beafdb"/>
<rect x="435.8" y="364.61" width="3.99" height="2.93" fill="#d2c6e4"/>
<rect x="438.9" y="364.61" width="3.99" height="2.93" fill="#8369b4"/>
<rect x="442.0" y="364.61" width="3.99" height="2.93" fill="#ded4e9"/>
<rect x="445.1" y="364.61" width="3.99" height="2.93" fill="#8369b4"/>
<rect x="448.2" y="364.61" width="3.99" height="2.93" fill="#e8e1ee"/>
<rect x="451.3" y="364.61" width="3.99" height="2.93" fill="#dad0e7"/>
<rect x="454.4" y="364.61" width="3.99" height="2.93" fill="#b09dd4"/>
<rect x="457.5" y="364.61" width="3.99" height="2.93" fill="#d0c4e3"/>
<rect x="460.6" y="364.61" width="3.99" height="2.93" fill="#c3b4dd"/>
<rect x="463.7" y="364.61" width="3.09" height="2.93" fill="#f8f3f5"/>
<rect x="353.9" y="366.64" width="4.00" height="2.93" fill="#d6cce6"/>
<rect x="357.0" y="366.64" width="4.00" height="2.93" fill="#ebe4ef"/>
<rect x="360.1" y="366.64" width="4.00" height="2.93" fill="#dad0e7"/>
<rect x="363.2" y="366.64" width="4.00" height="2.93" fill="#e8e0ee"/>
<rect x="366.3" y="366.64" width="4.00" height="2.93" fill="#dad0e7"/>
<rect x="369.4" y="366.64" width="4.00" height="2.93" fill="#faf6f6"/>
<rect x="372.5" y="366.64" width="4.00" height="2.93" fill="#d4c8e4"/>
<rect x="375.6" y="366.64" width="4.00" height="2.93" fill="#9780c2"/>
<rect x="378.7" y="366.64" width="4.00" height="2.93" fill="#f7f3f5"/>
<rect x="381.8" y="366.64" width="4.00" height="2.93" fill="#f7f2f5"/>
<rect x="384.9" y="366.64" width="3.10" height="2.93" fill="#f2edf2"/>
<rect x="389.5" y="366.64" width="3.99" height="2.93" fill="#efe9f1"/>
<rect x="392.6" y="366.64" width="3.99" height="2.93" fill="#efe9f1"/>
<rect x="395.7" y="366.64" width="3.99" height="2.93" fill="#d9cfe7"/>
<rect x="398.8" y="366.64" width="3.99" height="2.93" fill="#f3eef3"/>
<rect x="401.9" y="366.64" width="3.99" height="2.93" fill="#ded4e9"/>
<rect x="405.0" y="366.64" width="3.99" height="2.93" fill="#eae3ef"/>
<rect x="408.0" y="366.64" width="3.99" height="2.93" fill="#efe9f1"/>
<rect x="411.1" y="366.64" width="3.99" height="2.93" fill="#ccc0e1"/>
<rect x="414.2" y="366.64" width="3.99" height="2.93" fill="#dcd2e8"/>
<rect x="417.3" y="366.64" width="3.99" height="2.93" fill="#ece5ef"/>
<rect x="420.4" y="366.64" width="3.99" height="2.93" fill="#e7e0ed"/>
<rect x="423.5" y="366.64" width="3.99" height="2.93" fill="#e2d9eb"/>
<rect x="426.6" y="366.64" width="3.99" height="2.93" fill="#d0c4e3"/>
<rect x="429.7" y="366.64" width="3.99" height="2.93" fill="#f8f4f5"/>
<rect x="432.8" y="366.64" width="3.99" height="2.93" fill="#e9e2ee"/>
<rect x="435.8" y="366.64" width="3.99" height="2.93" fill="#8268b3"/>
<rect x="438.9" y="366.64" width="3.99" height="2.93" fill="#e9e2ee"/>
<rect x="442.0" y="366.64" width="3.99" height="2.93" fill="#e3daeb"/>
<rect x="445.1" y="366.64" width="3.99" height="2.93" fill="#d9cee7"/>
<rect x="448.2" y="366.64" width="3.99" height="2.93" fill="#dfd6ea"/>
<rect x="451.3" y="366.64" width="3.99" height="2.93" fill="#c1b2dc"/>
<rect x="454.4" y="366.64" width="3.99" height="2.93" fill="#f7f2f5"/>
<rect x="457.5" y="366.64" width="3.99" height="2.93" fill="#dad0e7"/>
<rect x="460.6" y="366.64" width="3.99" height="2.93" fill="#e1d8ea"/>
<rect x="463.7" y="366.64" width="3.09" height="2.93" fill="#ddd3e8"/>
<rect x="353.9" y="368.66" width="4.00" height="2.93" fill="#baa9d8"/>
<rect x="357.0" y="368.66" width="4.00" height="2.93" fill="#cec2e2"/>
<rect x="360.1" y="368.66" width="4.00" height="2.93" fill="#cec1e2"/>
<rect x="363.2" y="368.66" width="4.00" height="2.93" fill="#d1c5e3"/>
<rect x="366.3" y="368.66" width="4.00" height="2.93" fill="#d7cce6"/>
<rect x="369.4" y="368.66" width="4.00" height="2.93" fill="#af9dd3"/>
<rect x="372.5" y="368.66" width="4.00" height="2.93" fill="#c0b1db"/>
<rect x="375.6" y="368.66" width="4.00" height="2.93" fill="#b7a6d7"/>
<rect x="378.7" y="368.66" width="4.00" height="2.93" fill="#b09ed4"/>
<rect x="381.8" y="368.66" width="4.00" height="2.93" fill="#c7badf"/>
<rect x="384.9" y="368.66" width="3.10" height="2.93" fill="#c2b4dc"/>
<rect x="389.5" y="368.66" width="3.99" height="2.93" fill="#baaad9"/>
<rect x="392.6" y="368.66" width="3.99" height="2.93" fill="#b2a1d5"/>
<rect x="395.7" y="368.66" width="3.99" height="2.93" fill="#bdaeda"/>
<rect x="398.8" y="368.66" width="3.99" height="2.93" fill="#a794ce"/>
<rect x="401.9" y="368.66" width="3.99" height="2.93" fill="#9a84c4"/>
<rect x="405.0" y="368.66" width="3.99" height="2.93" fill="#baa9d8"/>
<rect x="408.0" y="368.66" width="3.99" height="2.93" fill="#a793ce"/>
<rect x="411.1" y="368.66" width="3.99" height="2.93" fill="#9f8ac8"/>
<rect x="414.2" y="368.66" width="3.99" height="2.93" fill="#b5a4d6"/>
<rect x="417.3" y="368.66" width="3.99" height="2.93" fill="#a894ce"/>
<rect x="420.4" y="368.66" width="3.99" height="2.93" fill="#b2a0d5"/>
<rect x="423.5" y="368.66" width="3.99" height="2.93" fill="#b7a6d7"/>
<rect x="426.6" y="368.66" width="3.99" height="2.93" fill="#b7a6d7"/>
<rect x="429.7" y="368.66" width="3.99" height="2.93" fill="#b7a6d7"/>
<rect x="432.8" y="368.66" width="3.99" height="2.93" fill="#cfc3e2"/>
<rect x="435.8" y="368.66" width="3.99" height="2.93" fill="#beafdb"/>
<rect x="438.9" y="368.66" width="3.99" height="2.93" fill="#d1c5e3"/>
<rect x="442.0" y="368.66" width="3.99" height="2.93" fill="#a18dc9"/>
<rect x="445.1" y="368.66" width="3.99" height="2.93" fill="#967fc1"/>
<rect x="448.2" y="368.66" width="3.99" height="2.93" fill="#d8cee6"/>
<rect x="451.3" y="368.66" width="3.99" height="2.93" fill="#aa97d0"/>
<rect x="454.4" y="368.66" width="3.99" height="2.93" fill="#a490cb"/>
<rect x="457.5" y="368.66" width="3.99" height="2.93" fill="#967fc1"/>
<rect x="460.6" y="368.66" width="3.99" height="2.93" fill="#f6f1f4"/>
<rect x="463.7" y="368.66" width="3.09" height="2.93" fill="#c3b5dd"/>
<rect x="353.9" y="370.69" width="4.00" height="2.93" fill="#c6b8de"/>
<rect x="357.0" y="370.69" width="4.00" height="2.93" fill="#bfb0db"/>
<rect x="360.1" y="370.69" width="4.00" height="2.93" fill="#8065b2"/>
<rect x="363.2" y="370.69" width="4.00" height="2.93" fill="#bfb0db"/>
<rect x="366.3" y="370.69" width="4.00" height="2.93" fill="#beafdb"/>
<rect x="369.4" y="370.69" width="4.00" height="2.93" fill="#a490cb"/>
<rect x="372.5" y="370.69" width="4.00" height="2.93" fill="#b3a2d6"/>
<rect x="375.6" y="370.69" width="4.00" height="2.93" fill="#ad9bd2"/>
<rect x="378.7" y="370.69" width="4.00" height="2.93" fill="#c0b1db"/>
<rect x="381.8" y="370.69" width="4.00" height="2.93" fill="#c2b4dc"/>
<rect x="384.9" y="370.69" width="3.10" height="2.93" fill="#a894ce"/>
<rect x="389.5" y="370.69" width="3.99" height="2.93" fill="#b6a5d7"/>
<rect x="392.6" y="370.69" width="3.99" height="2.93" fill="#c1b2dc"/>
<rect x="395.7" y="370.69" width="3.99" height="2.93" fill="#b5a4d6"/>
<rect x="398.8" y="370.69" width="3.99" height="2.93" fill="#beaeda"/>
<rect x="401.9" y="370.69" width="3.99" height="2.93" fill="#c3b5dd"/>
<rect x="405.0" y="370.69" width="3.99" height="2.93" fill="#8f77bc"/>
<rect x="408.0" y="370.69" width="3.99" height="2.93" fill="#b5a4d6"/>
<rect x="411.1" y="370.69" width="3.99" height="2.93" fill="#a894ce"/>
<rect x="414.2" y="370.69" width="3.99" height="2.93" fill="#d8cde6"/>
<rect x="417.3" y="370.69" width="3.99" height="2.93" fill="#c0b1db"/>
<rect x="420.4" y="370.69" width="3.99" height="2.93" fill="#9f8ac8"/>
<rect x="423.5" y="370.69" width="3.99" height="2.93" fill="#ad9bd2"/>
<rect x="426.6" y="370.69" width="3.99" height="2.93" fill="#c7b9de"/>
<rect x="429.7" y="370.69" width="3.99" height="2.93" fill="#c6b8de"/>
<rect x="432.8" y="370.69" width="3.99" height="2.93" fill="#8065b2"/>
<rect x="435.8" y="370.69" width="3.99" height="2.93" fill="#9a85c5"/>
<rect x="438.9" y="370.69" width="3.99" height="2.93" fill="#eee8f0"/>
<rect x="442.0" y="370.69" width="3.99" height="2.93" fill="#b7a6d7"/>
<rect x="445.1" y="370.69" width="3.99" height="2.93" fill="#af9dd3"/>
<rect x="448.2" y="370.69" width="3.99" height="2.93" fill="#c1b2dc"/>
<rect x="451.3" y="370.69" width="3.99" height="2.93" fill="#f5f0f4"/>
<rect x="454.4" y="370.69" width="3.99" height="2.93" fill="#c0b1db"/>
<rect x="457.5" y="370.69" width="3.99" height="2.93" fill="#dbd2e8"/>
<rect x="460.6" y="370.69" width="3.99" height="2.93" fill="#ab98d1"/>
<rect x="463.7" y="370.69" width="3.09" height="2.93" fill="#aa97d0"/>
<rect x="353.9" y="372.72" width="4.00" height="2.93" fill="#c4b5dd"/>
<rect x="357.0" y="372.72" width="4.00" height="2.93" fill="#937cc0"/>
<rect x="360.1" y="372.72" width="4.00" height="2.93" fill="#cfc3e2"/>
<rect x="363.2" y="372.72" width="4.00" height="2.93" fill="#ccc0e1"/>
<rect x="366.3" y="372.72" width="4.00" height="2.93" fill="#d8cee7"/>
<rect x="369.4" y="372.72" width="4.00" height="2.93" fill="#d3c7e4"/>
<rect x="372.5" y="372.72" width="4.00" height="2.93" fill="#c1b2dc"/>
<rect x="375.6" y="372.72" width="4.00" height="2.93" fill="#b4a3d6"/>
<rect x="378.7" y="372.72" width="4.00" height="2.93" fill="#f4eff3"/>
<rect x="381.8" y="372.72" width="4.00" height="2.93" fill="#cbbee0"/>
<rect x="384.9" y="372.72" width="3.10" height="2.93" fill="#a18dc9"/>
<rect x="389.5" y="372.72" width="3.99" height="2.93" fill="#d2c6e4"/>
<rect x="392.6" y="372.72" width="3.99" height="2.93" fill="#c6b9de"/>
<rect x="395.7" y="372.72" width="3.99" height="2.93" fill="#d4c9e5"/>
<rect x="398.8" y="372.72" width="3.99" height="2.93" fill="#c0b1db"/>
<rect x="401.9" y="372.72" width="3.99" height="2.93" fill="#c4b6dd"/>
<rect x="405.0" y="372.72" width="3.99" height="2.93" fill="#dbd2e8"/>
<rect x="408.0" y="372.72" width="3.99" height="2.93" fill="#baaad8"/>
<rect x="411.1" y="372.72" width="3.99" height="2.93" fill="#d0c4e3"/>
<rect x="414.2" y="372.72" width="3.99" height="2.93" fill="#ede7f0"/>
<rect x="417.3" y="372.72" width="3.99" height="2.93" fill="#d7cce6"/>
<rect x="420.4" y="372.72" width="3.99" height="2.93" fill="#7f64b1"/>
<rect x="423.5" y="372.72" width="3.99" height="2.93" fill="#cabde0"/>
<rect x="426.6" y="372.72" width="3.99" height="2.93" fill="#ccc0e1"/>
<rect x="429.7" y="372.72" width="3.99" height="2.93" fill="#b4a3d6"/>
<rect x="432.8" y="372.72" width="3.99" height="2.93" fill="#baaad9"/>
<rect x="435.8" y="372.72" width="3.99" height="2.93" fill="#c4b6dd"/>
<rect x="438.9" y="372.72" width="3.99" height="2.93" fill="#e6deed"/>
<rect x="442.0" y="372.72" width="3.99" height="2.93" fill="#bfafdb"/>
<rect x="445.1" y="372.72" width="3.99" height="2.93" fill="#dcd2e8"/>
<rect x="448.2" y="372.72" width="3.99" height="2.93" fill="#f4eff3"/>
<rect x="451.3" y="372.72" width="3.99" height="2.93" fill="#f4eff3"/>
<rect x="454.4" y="372.72" width="3.99" height="2.93" fill="#dcd2e8"/>
<rect x="457.5" y="372.72" width="3.99" height="2.93" fill="#f4eff3"/>
<rect x="460.6" y="372.72" width="3.99" height="2.93" fill="#beafda"/>
<rect x="463.7" y="372.72" width="3.09" height="2.93" fill="#d2c7e4"/>
<rect x="353.9" y="374.74" width="4.00" height="2.93" fill="#dad0e7"/>
<rect x="357.0" y="374.74" width="4.00" height="2.93" fill="#ded5e9"/>
<rect x="360.1" y="374.74" width="4.00" height="2.93" fill="#c6b8de"/>
<rect x="363.2" y="374.74" width="4.00" height="2.93" fill="#ece6f0"/>
<rect x="366.3" y="374.74" width="4.00" height="2.93" fill="#d0c5e3"/>
<rect x="369.4" y="374.74" width="4.00" height="2.93" fill="#c9bce0"/>
<rect x="372.5" y="374.74" width="4.00" height="2.93" fill="#c0b2dc"/>
<rect x="375.6" y="374.74" width="4.00" height="2.93" fill="#c9bce0"/>
<rect x="378.7" y="374.74" width="4.00" height="2.93" fill="#cfc3e2"/>
<rect x="381.8" y="374.74" width="4.00" height="2.93" fill="#beafda"/>
<rect x="384.9" y="374.74" width="3.10" height="2.93" fill="#beafdb"/>
<rect x="389.5" y="374.74" width="3.99" height="2.93" fill="#a591cc"/>
<rect x="392.6" y="374.74" width="3.99" height="2.93" fill="#7d63b0"/>
<rect x="395.7" y="374.74" width="3.99" height="2.93" fill="#cfc3e2"/>
<rect x="398.8" y="374.74" width="3.99" height="2.93" fill="#927bbf"/>
<rect x="401.9" y="374.74" width="3.99" height="2.93" fill="#c3b4dd"/>
<rect x="405.0" y="374.74" width="3.99" height="2.93" fill="#d0c4e3"/>
<rect x="408.0" y="374.74" width="3.99" height="2.93" fill="#cabce0"/>
<rect x="411.1" y="374.74" width="3.99" height="2.93" fill="#c2b3dc"/>
<rect x="414.2" y="374.74" width="3.99" height="2.93" fill="#927bbf"/>
<rect x="417.3" y="374.74" width="3.99" height="2.93" fill="#7d63b0"/>
<rect x="420.4" y="374.74" width="3.99" height="2.93" fill="#cec2e2"/>
<rect x="423.5" y="374.74" width="3.99" height="2.93" fill="#d2c7e4"/>
<rect x="426.6" y="374.74" width="3.99" height="2.93" fill="#cbbee0"/>
<rect x="429.7" y="374.74" width="3.99" height="2.93" fill="#e3dbec"/>
<rect x="432.8" y="374.74" width="3.99" height="2.93" fill="#f4eef3"/>
<rect x="435.8" y="374.74" width="3.99" height="2.93" fill="#d3c8e4"/>
<rect x="438.9" y="374.74" width="3.99" height="2.93" fill="#7d63b0"/>
<rect x="442.0" y="374.74" width="3.99" height="2.93" fill="#baaad8"/>
<rect x="445.1" y="374.74" width="3.99" height="2.93" fill="#927bbf"/>
<rect x="448.2" y="374.74" width="3.99" height="2.93" fill="#c2b4dc"/>
<rect x="451.3" y="374.74" width="3.99" height="2.93" fill="#c4b5dd"/>
<rect x="454.4" y="374.74" width="3.99" height="2.93" fill="#d1c5e3"/>
<rect x="457.5" y="374.74" width="3.99" height="2.93" fill="#c8bbdf"/>
<rect x="460.6" y="374.74" width="3.99" height="2.93" fill="#d8cee6"/>
<rect x="463.7" y="374.74" width="3.09" height="2.93" fill="#b9a9d8"/>
<rect x="353.9" y="376.77" width="4.00" height="2.93" fill="#c3b5dd"/>
<rect x="357.0" y="376.77" width="4.00" height="2.93" fill="#ccc0e1"/>
<rect x="360.1" y="376.77" width="4.00" height="2.93" fill="#cbbee1"/>
<rect x="363.2" y="376.77" width="4.00" height="2.93" fill="#bcacd9"/>
<rect x="366.3" y="376.77" width="4.00" height="2.93" fill="#c1b2dc"/>
<rect x="369.4" y="376.77" width="4.00" height="2.93" fill="#ebe5ef"/>
<rect x="372.5" y="376.77" width="4.00" height="2.93" fill="#bdaeda"/>
<rect x="375.6" y="376.77" width="4.00" height="2.93" fill="#bfafdb"/>
<rect x="378.7" y="376.77" width="4.00" height="2.93" fill="#c0b1db"/>
<rect x="381.8" y="376.77" width="4.00" height="2.93" fill="#bfb0db"/>
<rect x="384.9" y="376.77" width="3.10" height="2.93" fill="#d2c6e4"/>
<rect x="389.5" y="376.77" width="3.99" height="2.93" fill="#c8bbdf"/>
<rect x="392.6" y="376.77" width="3.99" height="2.93" fill="#cec1e2"/>
<rect x="395.7" y="376.77" width="3.99" height="2.93" fill="#cdc1e1"/>
<rect x="398.8" y="376.77" width="3.99" height="2.93" fill="#c2b4dc"/>
<rect x="401.9" y="376.77" width="3.99" height="2.93" fill="#dbd1e8"/>
<rect x="405.0" y="376.77" width="3.99" height="2.93" fill="#b6a5d7"/>
<rect x="408.0" y="376.77" width="3.99" height="2.93" fill="#7c61af"/>
<rect x="411.1" y="376.77" width="3.99" height="2.93" fill="#cabce0"/>
<rect x="414.2" y="376.77" width="3.99" height="2.93" fill="#eae3ef"/>
<rect x="417.3" y="376.77" width="3.99" height="2.93" fill="#cabde0"/>
<rect x="420.4" y="376.77" width="3.99" height="2.93" fill="#d2c6e4"/>
<rect x="423.5" y="376.77" width="3.99" height="2.93" fill="#c3b5dd"/>
<rect x="426.6" y="376.77" width="3.99" height="2.93" fill="#c8badf"/>
<rect x="429.7" y="376.77" width="3.99" height="2.93" fill="#d1c5e3"/>
<rect x="432.8" y="376.77" width="3.99" height="2.93" fill="#c9bce0"/>
<rect x="435.8" y="376.77" width="3.99" height="2.93" fill="#9f8ac8"/>
<rect x="438.9" y="376.77" width="3.99" height="2.93" fill="#c9bbdf"/>
<rect x="442.0" y="376.77" width="3.99" height="2.93" fill="#e1d8ea"/>
<rect x="445.1" y="376.77" width="3.99" height="2.93" fill="#ae9cd3"/>
<rect x="448.2" y="376.77" width="3.99" height="2.93" fill="#917abe"/>
<rect x="451.3" y="376.77" width="3.99" height="2.93" fill="#b09ed4"/>
<rect x="454.4" y="376.77" width="3.99" height="2.93" fill="#ad9ad2"/>
<rect x="457.5" y="376.77" width="3.99" height="2.93" fill="#dbd1e8"/>
<rect x="460.6" y="376.77" width="3.99" height="2.93" fill="#9f8ac8"/>
<rect x="463.7" y="376.77" width="3.09" height="2.93" fill="#f3edf3"/>
<rect x="353.9" y="378.79" width="4.00" height="2.03" fill="#c6b8de"/>
<rect x="357.0" y="378.79" width="4.00" height="2.03" fill="#ded5e9"/>
<rect x="360.1" y="378.79" width="4.00" height="2.03" fill="#c2b4dc"/>
<rect x="363.2" y="378.79" width="4.00" height="2.03" fill="#c6b8de"/>
<rect x="366.3" y="378.79" width="4.00" height="2.03" fill="#b5a4d6"/>
<rect x="369.4" y="378.79" width="4.00" height="2.03" fill="#f2ecf2"/>
<rect x="372.5" y="378.79" width="4.00" height="2.03" fill="#b4a3d6"/>
<rect x="375.6" y="378.79" width="4.00" height="2.03" fill="#ebe4ef"/>
<rect x="378.7" y="378.79" width="4.00" height="2.03" fill="#dbd1e8"/>
<rect x="381.8" y="378.79" width="4.00" height="2.03" fill="#bcacda"/>
<rect x="384.9" y="378.79" width="3.10" height="2.03" fill="#b7a6d7"/>
<rect x="389.5" y="378.79" width="3.99" height="2.03" fill="#c5b7de"/>
<rect x="392.6" y="378.79" width="3.99" height="2.03" fill="#c1b3dc"/>
<rect x="395.7" y="378.79" width="3.99" height="2.03" fill="#ebe4ef"/>
<rect x="398.8" y="378.79" width="3.99" height="2.03" fill="#bcadda"/>
<rect x="401.9" y="378.79" width="3.99" height="2.03" fill="#7b60ae"/>
<rect x="405.0" y="378.79" width="3.99" height="2.03" fill="#d1c5e3"/>
<rect x="408.0" y="378.79" width="3.99" height="2.03" fill="#cbbee0"/>
<rect x="411.1" y="378.79" width="3.99" height="2.03" fill="#b2a1d5"/>
<rect x="414.2" y="378.79" width="3.99" height="2.03" fill="#7b60ae"/>
<rect x="417.3" y="378.79" width="3.99" height="2.03" fill="#f2ecf2"/>
<rect x="420.4" y="378.79" width="3.99" height="2.03" fill="#ae9cd3"/>
<rect x="423.5" y="378.79" width="3.99" height="2.03" fill="#d1c5e3"/>
<rect x="426.6" y="378.79" width="3.99" height="2.03" fill="#cec1e2"/>
<rect x="429.7" y="378.79" width="3.99" height="2.03" fill="#b4a3d6"/>
<rect x="432.8" y="378.79" width="3.99" height="2.03" fill="#c0b1db"/>
<rect x="435.8" y="378.79" width="3.99" height="2.03" fill="#dbd1e8"/>
<rect x="438.9" y="378.79" width="3.99" height="2.03" fill="#ccbfe1"/>
<rect x="442.0" y="378.79" width="3.99" height="2.03" fill="#b2a1d5"/>
<rect x="445.1" y="378.79" width="3.99" height="2.03" fill="#bcacda"/>
<rect x="448.2" y="378.79" width="3.99" height="2.03" fill="#d7cde6"/>
<rect x="451.3" y="378.79" width="3.99" height="2.03" fill="#bcadda"/>
<rect x="454.4" y="378.79" width="3.99" height="2.03" fill="#b19fd5"/>
<rect x="457.5" y="378.79" width="3.99" height="2.03" fill="#cec2e2"/>
<rect x="460.6" y="378.79" width="3.99" height="2.03" fill="#efe9f1"/>
<rect x="463.7" y="378.79" width="3.09" height="2.03" fill="#b5a4d6"/>
<path d="M351.1 60.9V57.2H354.9V60.9" stroke="#e58a98" stroke-width="0.65" fill="none"/>
<path d="M347.4 60.9V55.9H353.0V57.2" stroke="#e58a98" stroke-width="0.65" fill="none"/>
<path d="M358.6 60.9V56.1H362.4V60.9" stroke="#e58a98" stroke-width="0.65" fill="none"/>
<path d="M350.2 55.9V53.3H360.5V56.1" stroke="#e58a98" stroke-width="0.65" fill="none"/>
<path d="M369.9 60.9V58.1H373.6V60.9" stroke="#e58a98" stroke-width="0.65" fill="none"/>
<path d="M366.1 60.9V57.3H371.8V58.1" stroke="#e58a98" stroke-width="0.65" fill="none"/>
<path d="M381.1 60.9V58.8H384.9V60.9" stroke="#e58a98" stroke-width="0.65" fill="none"/>
<path d="M377.4 60.9V58.7H383.0V58.8" stroke="#e58a98" stroke-width="0.65" fill="none"/>
<path d="M380.2 58.7V57.3H388.6V60.9" stroke="#e58a98" stroke-width="0.65" fill="none"/>
<path d="M368.9 57.3V55.1H384.4V57.3" stroke="#e58a98" stroke-width="0.65" fill="none"/>
<path d="M392.4 60.9V56.8H396.1V60.9" stroke="#e58a98" stroke-width="0.65" fill="none"/>
<path d="M399.9 60.9V56.6H403.6V60.9" stroke="#e58a98" stroke-width="0.65" fill="none"/>
<path d="M394.2 56.8V55.6H401.8V56.6" stroke="#e58a98" stroke-width="0.65" fill="none"/>
<path d="M376.7 55.1V53.4H398.0V55.6" stroke="#e58a98" stroke-width="0.65" fill="none"/>
<path d="M355.3 53.3V47.8H387.3V53.4" stroke="#e58a98" stroke-width="0.65" fill="none"/>
<path d="M408.6 60.9V56.3H412.3V60.9" stroke="#5a5a5a" stroke-width="0.65" fill="none"/>
<path d="M410.4 56.3V55.6H416.1V60.9" stroke="#5a5a5a" stroke-width="0.65" fill="none"/>
<path d="M423.6 60.9V58.6H427.3V60.9" stroke="#5a5a5a" stroke-width="0.65" fill="none"/>
<path d="M419.8 60.9V58.1H425.4V58.6" stroke="#5a5a5a" stroke-width="0.65" fill="none"/>
<path d="M434.8 60.9V57.6H438.6V60.9" stroke="#5a5a5a" stroke-width="0.65" fill="none"/>
<path d="M431.1 60.9V58.2H436.7V57.6" stroke="#5a5a5a" stroke-width="0.65" fill="none"/>
<path d="M422.6 58.1V56.5H433.9V58.2" stroke="#5a5a5a" stroke-width="0.65" fill="none"/>
<path d="M442.3 60.9V57.0H446.1V60.9" stroke="#5a5a5a" stroke-width="0.65" fill="none"/>
<path d="M428.3 56.5V54.6H444.2V57.0" stroke="#5a5a5a" stroke-width="0.65" fill="none"/>
<path d="M413.3 55.6V52.3H436.2V54.6" stroke="#5a5a5a" stroke-width="0.65" fill="none"/>
<path d="M451.0 60.9V54.5H454.8V60.9" stroke="#5a5a5a" stroke-width="0.65" fill="none"/>
<path d="M458.5 60.9V58.4H462.3V60.9" stroke="#5a5a5a" stroke-width="0.65" fill="none"/>
<path d="M469.8 60.9V58.4H473.5V60.9" stroke="#5a5a5a" stroke-width="0.65" fill="none"/>
<path d="M466.0 60.9V58.0H471.6V58.4" stroke="#5a5a5a" stroke-width="0.65" fill="none"/>
<path d="M460.4 58.4V56.1H468.8V58.0" stroke="#5a5a5a" stroke-width="0.65" fill="none"/>
<path d="M477.3 60.9V56.7H481.0V60.9" stroke="#5a5a5a" stroke-width="0.65" fill="none"/>
<path d="M464.6 56.1V54.1H479.1V56.7" stroke="#5a5a5a" stroke-width="0.65" fill="none"/>
<path d="M452.9 54.5V51.4H471.9V54.1" stroke="#5a5a5a" stroke-width="0.65" fill="none"/>
<path d="M424.7 52.3V45.4H462.4V51.4" stroke="#5a5a5a" stroke-width="0.65" fill="none"/>
<path d="M371.3 47.8V41.3H440.0V45.4" stroke="#5a5a5a" stroke-width="0.65" fill="none"/>
<path d="M355.4 231.1V223.2H358.6V231.1" stroke="#5a5a5a" stroke-width="0.65" fill="none"/>
<path d="M364.8 231.1V226.9H367.9V231.1" stroke="#5a5a5a" stroke-width="0.65" fill="none"/>
<path d="M361.7 231.1V225.2H366.3V226.9" stroke="#5a5a5a" stroke-width="0.65" fill="none"/>
<path d="M371.0 231.1V226.7H374.1V231.1" stroke="#5a5a5a" stroke-width="0.65" fill="none"/>
<path d="M377.2 231.1V226.4H380.3V231.1" stroke="#5a5a5a" stroke-width="0.65" fill="none"/>
<path d="M383.4 231.1V226.5H386.5V231.1" stroke="#5a5a5a" stroke-width="0.65" fill="none"/>
<path d="M378.7 226.4V227.0H384.9V226.5" stroke="#5a5a5a" stroke-width="0.65" fill="none"/>
<path d="M372.5 226.7V225.7H381.8V227.0" stroke="#5a5a5a" stroke-width="0.65" fill="none"/>
<path d="M364.0 225.2V223.0H377.2V225.7" stroke="#5a5a5a" stroke-width="0.65" fill="none"/>
<path d="M357.0 223.2V221.3H370.6V223.0" stroke="#5a5a5a" stroke-width="0.65" fill="none"/>
<path d="M397.2 231.1V226.5H400.3V231.1" stroke="#e58a98" stroke-width="0.65" fill="none"/>
<path d="M394.1 231.1V224.4H398.8V226.5" stroke="#e58a98" stroke-width="0.65" fill="none"/>
<path d="M391.0 231.1V223.0H396.5V224.4" stroke="#e58a98" stroke-width="0.65" fill="none"/>
<path d="M403.4 231.1V225.1H406.5V231.1" stroke="#e58a98" stroke-width="0.65" fill="none"/>
<path d="M409.6 231.1V225.1H412.7V231.1" stroke="#e58a98" stroke-width="0.65" fill="none"/>
<path d="M405.0 225.1V223.0H411.1V225.1" stroke="#e58a98" stroke-width="0.65" fill="none"/>
<path d="M393.7 223.0V219.3H408.0V223.0" stroke="#e58a98" stroke-width="0.65" fill="none"/>
<path d="M418.9 231.1V227.2H421.9V231.1" stroke="#5a5a5a" stroke-width="0.65" fill="none"/>
<path d="M415.8 231.1V224.6H420.4V227.2" stroke="#5a5a5a" stroke-width="0.65" fill="none"/>
<path d="M425.0 231.1V226.6H428.1V231.1" stroke="#5a5a5a" stroke-width="0.65" fill="none"/>
<path d="M431.2 231.1V226.7H434.3V231.1" stroke="#5a5a5a" stroke-width="0.65" fill="none"/>
<path d="M426.6 226.6V225.5H432.8V226.7" stroke="#5a5a5a" stroke-width="0.65" fill="none"/>
<path d="M418.1 224.6V223.0H429.7V225.5" stroke="#5a5a5a" stroke-width="0.65" fill="none"/>
<path d="M440.5 231.1V225.8H443.6V231.1" stroke="#e58a98" stroke-width="0.65" fill="none"/>
<path d="M437.4 231.1V223.7H442.0V225.8" stroke="#e58a98" stroke-width="0.65" fill="none"/>
<path d="M446.7 231.1V225.1H449.8V231.1" stroke="#e58a98" stroke-width="0.65" fill="none"/>
<path d="M455.9 231.1V226.4H459.0V231.1" stroke="#e58a98" stroke-width="0.65" fill="none"/>
<path d="M452.8 231.1V226.4H457.5V226.4" stroke="#e58a98" stroke-width="0.65" fill="none"/>
<path d="M462.1 231.1V227.0H465.2V231.1" stroke="#e58a98" stroke-width="0.65" fill="none"/>
<path d="M455.2 226.4V224.8H463.7V227.0" stroke="#e58a98" stroke-width="0.65" fill="none"/>
<path d="M448.2 225.1V223.2H459.4V224.8" stroke="#e58a98" stroke-width="0.65" fill="none"/>
<path d="M439.7 223.7V221.3H453.8V223.2" stroke="#e58a98" stroke-width="0.65" fill="none"/>
<path d="M423.9 223.0V219.5H446.8V221.3" stroke="#5a5a5a" stroke-width="0.65" fill="none"/>
<path d="M400.9 219.3V217.2H435.3V219.5" stroke="#5a5a5a" stroke-width="0.65" fill="none"/>
<path d="M363.8 221.3V212.6H418.1V217.2" stroke="#5a5a5a" stroke-width="0.65" fill="none"/>
<text x="486.29999999999995" y="72.7" font-size="7.2" text-anchor="start" fill="#333" font-weight="normal" font-style="normal" textLength="17" lengthAdjust="spacingAndGlyphs">Status</text>
<rect x="485.4" y="76.00" width="6.10" height="6.50" fill="#e96c3c"/>
<text x="494.79999999999995" y="82.10000000000001" font-size="7.2" text-anchor="start" fill="#333" font-weight="normal" font-style="normal" textLength="13.6" lengthAdjust="spacingAndGlyphs">nt-FL</text>
<rect x="485.4" y="86.90" width="6.10" height="6.60" fill="#1c1a6e"/>
<text x="494.79999999999995" y="93.1" font-size="7.2" text-anchor="start" fill="#333" font-weight="normal" font-style="normal" textLength="13.2" lengthAdjust="spacingAndGlyphs">st-FL</text>
<text x="486.09999999999997" y="111.7" font-size="7.2" text-anchor="start" fill="#333" font-weight="normal" font-style="normal" textLength="18" lengthAdjust="spacingAndGlyphs">Protein</text>
<text x="486.09999999999997" y="119.30000000000001" font-size="7.2" text-anchor="start" fill="#333" font-weight="normal" font-style="normal" textLength="27.3" lengthAdjust="spacingAndGlyphs">expression</text>
<rect x="487.0" y="124.9" width="4.9" height="26" fill="url(#cbar)"/>
<text x="493.59999999999997" y="132.4" font-size="7.2" text-anchor="start" fill="#333" font-weight="normal" font-style="normal" textLength="12.5" lengthAdjust="spacingAndGlyphs">High</text>
<text x="493.59999999999997" y="149.2" font-size="7.2" text-anchor="start" fill="#333" font-weight="normal" font-style="normal" textLength="10.5" lengthAdjust="spacingAndGlyphs">Low</text>
<text x="471.4" y="242.2" font-size="7.2" text-anchor="start" fill="#333" font-weight="normal" font-style="normal" textLength="17" lengthAdjust="spacingAndGlyphs">Status</text>
<rect x="470.5" y="245.50" width="6.10" height="6.50" fill="#e96c3c"/>
<text x="479.9" y="251.6" font-size="7.2" text-anchor="start" fill="#333" font-weight="normal" font-style="normal" textLength="13.6" lengthAdjust="spacingAndGlyphs">nt-FL</text>
<rect x="470.5" y="256.40" width="6.10" height="6.60" fill="#1c1a6e"/>
<text x="479.9" y="262.59999999999997" font-size="7.2" text-anchor="start" fill="#333" font-weight="normal" font-style="normal" textLength="13.2" lengthAdjust="spacingAndGlyphs">st-FL</text>
<text x="471.2" y="281.2" font-size="7.2" text-anchor="start" fill="#333" font-weight="normal" font-style="normal" textLength="18" lengthAdjust="spacingAndGlyphs">Protein</text>
<text x="471.2" y="288.8" font-size="7.2" text-anchor="start" fill="#333" font-weight="normal" font-style="normal" textLength="27.3" lengthAdjust="spacingAndGlyphs">expression</text>
<rect x="472.1" y="294.4" width="4.9" height="26" fill="url(#cbar)"/>
<text x="478.7" y="301.9" font-size="7.2" text-anchor="start" fill="#333" font-weight="normal" font-style="normal" textLength="12.5" lengthAdjust="spacingAndGlyphs">High</text>
<text x="478.7" y="318.7" font-size="7.2" text-anchor="start" fill="#333" font-weight="normal" font-style="normal" textLength="10.5" lengthAdjust="spacingAndGlyphs">Low</text>
<line x1="512.80" y1="1.00" x2="512.80" y2="387.00" stroke="#f0f0f0" stroke-width="0.8"/>
<rect x="0.5" y="0.5" width="519" height="387" fill="none" stroke="#666" stroke-width="1.2"/>
</svg></body></html>
